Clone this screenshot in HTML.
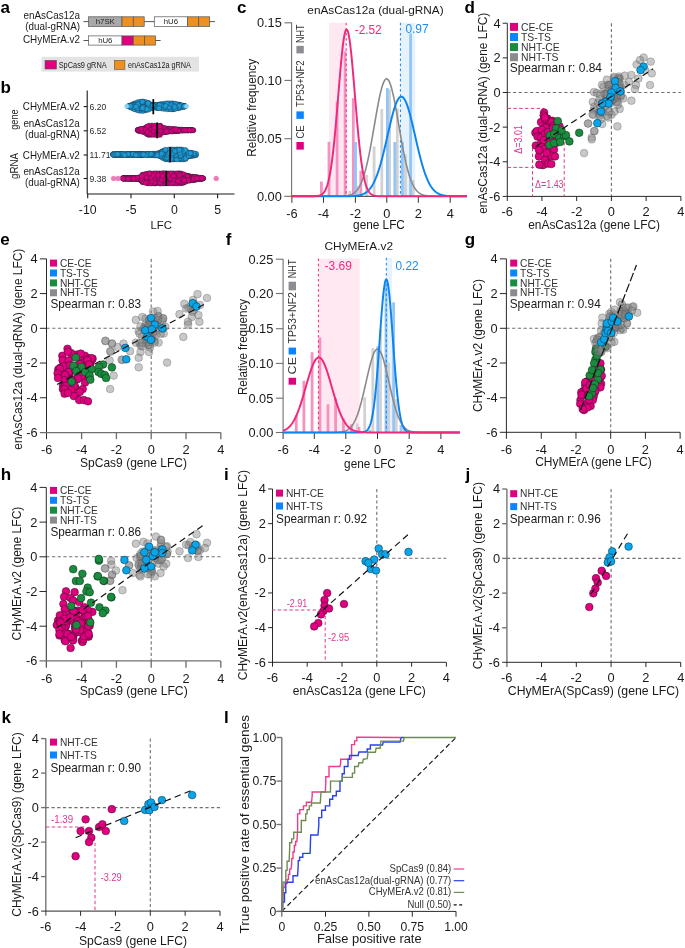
<!DOCTYPE html><html><head><meta charset="utf-8"><style>html,body{margin:0;padding:0;background:#fff;}svg{display:block;will-change:transform;}text{font-family:"Liberation Sans", sans-serif;}</style></head><body>
<svg width="685" height="948" viewBox="0 0 685 948">
<rect width="685" height="948" fill="#fff"/>
<text x="0.4" y="13.1" font-size="17" text-anchor="start" fill="#000" font-weight="bold">a</text>
<text x="80" y="18.5" font-size="10.6" text-anchor="end" fill="#1a1a1a" textLength="56.4" lengthAdjust="spacingAndGlyphs">enAsCas12a</text>
<text x="80" y="30.3" font-size="10.6" text-anchor="end" fill="#1a1a1a" textLength="54.7" lengthAdjust="spacingAndGlyphs">(dual-gRNA)</text>
<text x="80" y="43.2" font-size="10.6" text-anchor="end" fill="#1a1a1a" textLength="57" lengthAdjust="spacingAndGlyphs">CHyMErA.v2</text>
<line x1="83.5" y1="21.6" x2="215" y2="21.6" stroke="#444" stroke-width="0.9"/>
<rect x="88.6" y="16.8" width="33.4" height="9.6" fill="#a9a9a9" stroke="#555" stroke-width="0.7"/>
<text x="105.3" y="24.4" font-size="7.8" text-anchor="middle" fill="#222">h7SK</text>
<rect x="122" y="16.8" width="11.3" height="9.6" fill="#ee8f22" stroke="#555" stroke-width="0.7"/>
<rect x="133.3" y="16.8" width="10.9" height="9.6" fill="#ee8f22" stroke="#555" stroke-width="0.7"/>
<rect x="154.3" y="16.8" width="33.2" height="9.6" fill="#fff" stroke="#555" stroke-width="0.7"/>
<text x="170.9" y="24.4" font-size="7.8" text-anchor="middle" fill="#222">hU6</text>
<rect x="187.5" y="16.8" width="11.2" height="9.6" fill="#ee8f22" stroke="#555" stroke-width="0.7"/>
<rect x="198.7" y="16.8" width="11" height="9.6" fill="#ee8f22" stroke="#555" stroke-width="0.7"/>
<line x1="83.5" y1="40.5" x2="160.6" y2="40.5" stroke="#444" stroke-width="0.9"/>
<rect x="88.6" y="35.9" width="33.4" height="9.2" fill="#fff" stroke="#555" stroke-width="0.7"/>
<text x="105.3" y="43.3" font-size="7.8" text-anchor="middle" fill="#222">hU6</text>
<rect x="122" y="35.9" width="11.3" height="9.2" fill="#e0007f" stroke="#555" stroke-width="0.7"/>
<rect x="133.3" y="35.9" width="11.4" height="9.2" fill="#ee8f22" stroke="#555" stroke-width="0.7"/>
<rect x="144.7" y="35.9" width="10.8" height="9.2" fill="#ee8f22" stroke="#555" stroke-width="0.7"/>
<rect x="41.5" y="56.8" width="157.5" height="14.8" fill="#e3e3e3"/>
<rect x="45" y="60.4" width="11.4" height="8.6" fill="#e0007f" stroke="#555" stroke-width="0.6"/>
<text x="58.7" y="67.5" font-size="8.6" text-anchor="start" fill="#222" textLength="48" lengthAdjust="spacingAndGlyphs">SpCas9 gRNA</text>
<rect x="114.3" y="60.3" width="10.6" height="9.1" fill="#ee8f22" stroke="#555" stroke-width="0.6"/>
<text x="127.9" y="67.5" font-size="8.6" text-anchor="start" fill="#222" textLength="63" lengthAdjust="spacingAndGlyphs">enAsCas12a gRNA</text>
<text x="0.6" y="92.9" font-size="17" text-anchor="start" fill="#000" font-weight="bold">b</text>
<line x1="87.2" y1="90.5" x2="87.2" y2="194" stroke="#1a1a1a" stroke-width="1.1"/>
<line x1="87.2" y1="194" x2="234.5" y2="194" stroke="#1a1a1a" stroke-width="1.1"/>
<line x1="87.7" y1="194" x2="87.7" y2="198.3" stroke="#1a1a1a" stroke-width="1.1"/>
<text x="87.7" y="214.2" font-size="12.3" text-anchor="middle" fill="#1a1a1a">-10</text>
<line x1="131" y1="194" x2="131" y2="198.3" stroke="#1a1a1a" stroke-width="1.1"/>
<text x="131" y="214.2" font-size="12.3" text-anchor="middle" fill="#1a1a1a">-5</text>
<line x1="174.3" y1="194" x2="174.3" y2="198.3" stroke="#1a1a1a" stroke-width="1.1"/>
<text x="174.3" y="214.2" font-size="12.3" text-anchor="middle" fill="#1a1a1a">0</text>
<line x1="217.6" y1="194" x2="217.6" y2="198.3" stroke="#1a1a1a" stroke-width="1.1"/>
<text x="217.6" y="214.2" font-size="12.3" text-anchor="middle" fill="#1a1a1a">5</text>
<text x="161.2" y="228.5" font-size="11.8" text-anchor="middle" fill="#1a1a1a" textLength="21.5" lengthAdjust="spacingAndGlyphs">LFC</text>
<line x1="83.7" y1="106.6" x2="87.2" y2="106.6" stroke="#1a1a1a" stroke-width="1.1"/>
<line x1="83.7" y1="130.8" x2="87.2" y2="130.8" stroke="#1a1a1a" stroke-width="1.1"/>
<line x1="83.7" y1="155" x2="87.2" y2="155" stroke="#1a1a1a" stroke-width="1.1"/>
<line x1="83.7" y1="178.5" x2="87.2" y2="178.5" stroke="#1a1a1a" stroke-width="1.1"/>
<text x="79.8" y="110.2" font-size="10.6" text-anchor="end" fill="#1a1a1a" textLength="57" lengthAdjust="spacingAndGlyphs">CHyMErA.v2</text>
<text x="79.8" y="126.6" font-size="10.6" text-anchor="end" fill="#1a1a1a" textLength="56.4" lengthAdjust="spacingAndGlyphs">enAsCas12a</text>
<text x="79.8" y="138.2" font-size="10.6" text-anchor="end" fill="#1a1a1a" textLength="54.7" lengthAdjust="spacingAndGlyphs">(dual-gRNA)</text>
<text x="79.8" y="158.6" font-size="10.6" text-anchor="end" fill="#1a1a1a" textLength="57" lengthAdjust="spacingAndGlyphs">CHyMErA.v2</text>
<text x="79.8" y="174.6" font-size="10.6" text-anchor="end" fill="#1a1a1a" textLength="56.4" lengthAdjust="spacingAndGlyphs">enAsCas12a</text>
<text x="79.8" y="186.2" font-size="10.6" text-anchor="end" fill="#1a1a1a" textLength="54.7" lengthAdjust="spacingAndGlyphs">(dual-gRNA)</text>
<text transform="translate(18 119.5) rotate(-90)" x="0" y="0" font-size="11" text-anchor="middle" fill="#1a1a1a" textLength="20.5" lengthAdjust="spacingAndGlyphs">gene</text>
<text transform="translate(18 166) rotate(-90)" x="0" y="0" font-size="11" text-anchor="middle" fill="#1a1a1a" textLength="26" lengthAdjust="spacingAndGlyphs">gRNA</text>
<text x="89.6" y="109.9" font-size="8.6" text-anchor="start" fill="#2a2a2a">6.20</text>
<text x="89.6" y="133.8" font-size="8.6" text-anchor="start" fill="#2a2a2a">6.52</text>
<text x="89.6" y="157.9" font-size="8.6" text-anchor="start" fill="#2a2a2a">11.71</text>
<text x="89.6" y="181.6" font-size="8.6" text-anchor="start" fill="#2a2a2a">9.38</text>
<circle cx="178.74" cy="104.44" r="2.5" fill="#1a9ad6" stroke="#1d2a35" stroke-width="0.35"/>
<circle cx="138.12" cy="106.72" r="2.5" fill="#1a9ad6" stroke="#1d2a35" stroke-width="0.35"/>
<circle cx="166.77" cy="103.85" r="2.5" fill="#1a9ad6" stroke="#1d2a35" stroke-width="0.35"/>
<circle cx="155.73" cy="105.53" r="2.5" fill="#1a9ad6" stroke="#1d2a35" stroke-width="0.35"/>
<circle cx="157.53" cy="105.36" r="2.5" fill="#1a9ad6" stroke="#1d2a35" stroke-width="0.35"/>
<circle cx="168.93" cy="108.54" r="2.5" fill="#1a9ad6" stroke="#1d2a35" stroke-width="0.35"/>
<circle cx="156.44" cy="107.78" r="2.5" fill="#1a9ad6" stroke="#1d2a35" stroke-width="0.35"/>
<circle cx="151.9" cy="106.49" r="2.5" fill="#1a9ad6" stroke="#1d2a35" stroke-width="0.35"/>
<circle cx="184.79" cy="106.3" r="2.5" fill="#1a9ad6" stroke="#1d2a35" stroke-width="0.35"/>
<circle cx="145.74" cy="103.54" r="2.5" fill="#1a9ad6" stroke="#1d2a35" stroke-width="0.35"/>
<circle cx="156.53" cy="107.03" r="2.5" fill="#1a9ad6" stroke="#1d2a35" stroke-width="0.35"/>
<circle cx="129.11" cy="106.25" r="2.5" fill="#1a9ad6" stroke="#1d2a35" stroke-width="0.35"/>
<circle cx="158.6" cy="106.3" r="2.5" fill="#1a9ad6" stroke="#1d2a35" stroke-width="0.35"/>
<circle cx="132.48" cy="106.84" r="2.5" fill="#1a9ad6" stroke="#1d2a35" stroke-width="0.35"/>
<circle cx="163.43" cy="106.09" r="2.5" fill="#1a9ad6" stroke="#1d2a35" stroke-width="0.35"/>
<circle cx="128.53" cy="106.3" r="2.5" fill="#1a9ad6" stroke="#1d2a35" stroke-width="0.35"/>
<circle cx="134.16" cy="103.74" r="2.5" fill="#1a9ad6" stroke="#1d2a35" stroke-width="0.35"/>
<circle cx="134.4" cy="103.42" r="2.5" fill="#1a9ad6" stroke="#1d2a35" stroke-width="0.35"/>
<circle cx="180.84" cy="107.45" r="2.5" fill="#1a9ad6" stroke="#1d2a35" stroke-width="0.35"/>
<circle cx="176.27" cy="104.91" r="2.5" fill="#1a9ad6" stroke="#1d2a35" stroke-width="0.35"/>
<circle cx="143.56" cy="110.23" r="2.5" fill="#1a9ad6" stroke="#1d2a35" stroke-width="0.35"/>
<circle cx="145.2" cy="106.3" r="2.5" fill="#1a9ad6" stroke="#1d2a35" stroke-width="0.35"/>
<circle cx="165.38" cy="105.83" r="2.5" fill="#1a9ad6" stroke="#1d2a35" stroke-width="0.35"/>
<circle cx="132.84" cy="105.33" r="2.5" fill="#1a9ad6" stroke="#1d2a35" stroke-width="0.35"/>
<circle cx="178.98" cy="106.94" r="2.5" fill="#1a9ad6" stroke="#1d2a35" stroke-width="0.35"/>
<circle cx="150.94" cy="105.68" r="2.5" fill="#1a9ad6" stroke="#1d2a35" stroke-width="0.35"/>
<circle cx="171" cy="105.8" r="2.5" fill="#1a9ad6" stroke="#1d2a35" stroke-width="0.35"/>
<circle cx="149.92" cy="105.53" r="2.5" fill="#1a9ad6" stroke="#1d2a35" stroke-width="0.35"/>
<circle cx="149.73" cy="105.98" r="2.5" fill="#1a9ad6" stroke="#1d2a35" stroke-width="0.35"/>
<circle cx="128.37" cy="106.3" r="2.5" fill="#1a9ad6" stroke="#1d2a35" stroke-width="0.35"/>
<circle cx="144.9" cy="110.58" r="2.5" fill="#1a9ad6" stroke="#1d2a35" stroke-width="0.35"/>
<circle cx="174.76" cy="106.4" r="2.5" fill="#1a9ad6" stroke="#1d2a35" stroke-width="0.35"/>
<circle cx="147.41" cy="106.63" r="2.5" fill="#1a9ad6" stroke="#1d2a35" stroke-width="0.35"/>
<circle cx="175.83" cy="103.88" r="2.5" fill="#1a9ad6" stroke="#1d2a35" stroke-width="0.35"/>
<circle cx="179.46" cy="106.51" r="2.5" fill="#1a9ad6" stroke="#1d2a35" stroke-width="0.35"/>
<circle cx="132.86" cy="105.26" r="2.5" fill="#1a9ad6" stroke="#1d2a35" stroke-width="0.35"/>
<circle cx="185" cy="106.3" r="2.5" fill="#1a9ad6" stroke="#1d2a35" stroke-width="0.35"/>
<circle cx="180.59" cy="105.06" r="2.5" fill="#1a9ad6" stroke="#1d2a35" stroke-width="0.35"/>
<circle cx="136.02" cy="106.3" r="2.5" fill="#1a9ad6" stroke="#1d2a35" stroke-width="0.35"/>
<circle cx="162.6" cy="108.1" r="2.5" fill="#1a9ad6" stroke="#1d2a35" stroke-width="0.35"/>
<circle cx="180.39" cy="107.45" r="2.5" fill="#1a9ad6" stroke="#1d2a35" stroke-width="0.35"/>
<circle cx="143.01" cy="101.77" r="2.5" fill="#1a9ad6" stroke="#1d2a35" stroke-width="0.35"/>
<circle cx="148.7" cy="105.32" r="2.5" fill="#1a9ad6" stroke="#1d2a35" stroke-width="0.35"/>
<circle cx="145.62" cy="107.04" r="2.5" fill="#1a9ad6" stroke="#1d2a35" stroke-width="0.35"/>
<circle cx="177.7" cy="105.21" r="2.5" fill="#1a9ad6" stroke="#1d2a35" stroke-width="0.35"/>
<circle cx="168.04" cy="108.39" r="2.5" fill="#1a9ad6" stroke="#1d2a35" stroke-width="0.35"/>
<circle cx="146.19" cy="102.74" r="2.5" fill="#1a9ad6" stroke="#1d2a35" stroke-width="0.35"/>
<circle cx="161.02" cy="104.46" r="2.5" fill="#1a9ad6" stroke="#1d2a35" stroke-width="0.35"/>
<circle cx="131.54" cy="105.72" r="2.5" fill="#1a9ad6" stroke="#1d2a35" stroke-width="0.35"/>
<circle cx="170.57" cy="106.87" r="2.5" fill="#1a9ad6" stroke="#1d2a35" stroke-width="0.35"/>
<circle cx="134.81" cy="104.27" r="2.5" fill="#1a9ad6" stroke="#1d2a35" stroke-width="0.35"/>
<circle cx="157.12" cy="105.85" r="2.5" fill="#1a9ad6" stroke="#1d2a35" stroke-width="0.35"/>
<circle cx="156.42" cy="107.35" r="2.5" fill="#1a9ad6" stroke="#1d2a35" stroke-width="0.35"/>
<circle cx="183.41" cy="106.03" r="2.5" fill="#1a9ad6" stroke="#1d2a35" stroke-width="0.35"/>
<circle cx="178.76" cy="104.66" r="2.5" fill="#1a9ad6" stroke="#1d2a35" stroke-width="0.35"/>
<circle cx="146.7" cy="106.09" r="2.5" fill="#1a9ad6" stroke="#1d2a35" stroke-width="0.35"/>
<circle cx="153.63" cy="106.16" r="2.5" fill="#1a9ad6" stroke="#1d2a35" stroke-width="0.35"/>
<circle cx="134.95" cy="105.03" r="2.5" fill="#1a9ad6" stroke="#1d2a35" stroke-width="0.35"/>
<circle cx="182.13" cy="106.76" r="2.5" fill="#1a9ad6" stroke="#1d2a35" stroke-width="0.35"/>
<circle cx="145.8" cy="109.29" r="2.5" fill="#1a9ad6" stroke="#1d2a35" stroke-width="0.35"/>
<circle cx="129.51" cy="106.25" r="2.5" fill="#1a9ad6" stroke="#1d2a35" stroke-width="0.35"/>
<circle cx="131.91" cy="104.79" r="2.5" fill="#1a9ad6" stroke="#1d2a35" stroke-width="0.35"/>
<circle cx="175.47" cy="105.37" r="2.5" fill="#1a9ad6" stroke="#1d2a35" stroke-width="0.35"/>
<circle cx="158.59" cy="104.55" r="2.5" fill="#1a9ad6" stroke="#1d2a35" stroke-width="0.35"/>
<circle cx="142.7" cy="102.18" r="2.5" fill="#1a9ad6" stroke="#1d2a35" stroke-width="0.35"/>
<circle cx="161.43" cy="106.12" r="2.5" fill="#1a9ad6" stroke="#1d2a35" stroke-width="0.35"/>
<circle cx="145.85" cy="104.19" r="2.5" fill="#1a9ad6" stroke="#1d2a35" stroke-width="0.35"/>
<circle cx="149.9" cy="104.81" r="2.5" fill="#1a9ad6" stroke="#1d2a35" stroke-width="0.35"/>
<circle cx="139.72" cy="104.78" r="2.5" fill="#1a9ad6" stroke="#1d2a35" stroke-width="0.35"/>
<circle cx="137.3" cy="102.25" r="2.5" fill="#1a9ad6" stroke="#1d2a35" stroke-width="0.35"/>
<circle cx="176.58" cy="107.43" r="2.5" fill="#1a9ad6" stroke="#1d2a35" stroke-width="0.35"/>
<circle cx="178.13" cy="108.12" r="2.5" fill="#1a9ad6" stroke="#1d2a35" stroke-width="0.35"/>
<circle cx="164.18" cy="103.62" r="2.5" fill="#1a9ad6" stroke="#1d2a35" stroke-width="0.35"/>
<circle cx="134.41" cy="108.61" r="2.5" fill="#1a9ad6" stroke="#1d2a35" stroke-width="0.35"/>
<circle cx="153.18" cy="107.72" r="2.5" fill="#1a9ad6" stroke="#1d2a35" stroke-width="0.35"/>
<circle cx="145.66" cy="102.02" r="2.5" fill="#1a9ad6" stroke="#1d2a35" stroke-width="0.35"/>
<circle cx="151.49" cy="107.46" r="2.5" fill="#1a9ad6" stroke="#1d2a35" stroke-width="0.35"/>
<circle cx="172.62" cy="103.3" r="2.5" fill="#1a9ad6" stroke="#1d2a35" stroke-width="0.35"/>
<circle cx="133.03" cy="104.78" r="2.5" fill="#1a9ad6" stroke="#1d2a35" stroke-width="0.35"/>
<circle cx="148.59" cy="103.94" r="2.5" fill="#1a9ad6" stroke="#1d2a35" stroke-width="0.35"/>
<circle cx="175.92" cy="106.35" r="2.5" fill="#1a9ad6" stroke="#1d2a35" stroke-width="0.35"/>
<circle cx="184.09" cy="106.27" r="2.5" fill="#1a9ad6" stroke="#1d2a35" stroke-width="0.35"/>
<circle cx="149.55" cy="107.39" r="2.5" fill="#1a9ad6" stroke="#1d2a35" stroke-width="0.35"/>
<circle cx="134.46" cy="107.03" r="2.5" fill="#1a9ad6" stroke="#1d2a35" stroke-width="0.35"/>
<circle cx="183.64" cy="106.48" r="2.5" fill="#1a9ad6" stroke="#1d2a35" stroke-width="0.35"/>
<circle cx="172.83" cy="108.35" r="2.5" fill="#1a9ad6" stroke="#1d2a35" stroke-width="0.35"/>
<circle cx="151.25" cy="106.69" r="2.5" fill="#1a9ad6" stroke="#1d2a35" stroke-width="0.35"/>
<circle cx="130.43" cy="105.54" r="2.5" fill="#1a9ad6" stroke="#1d2a35" stroke-width="0.35"/>
<circle cx="175.96" cy="107.13" r="2.5" fill="#1a9ad6" stroke="#1d2a35" stroke-width="0.35"/>
<circle cx="140.86" cy="110.62" r="2.5" fill="#1a9ad6" stroke="#1d2a35" stroke-width="0.35"/>
<circle cx="162.51" cy="106.07" r="2.5" fill="#1a9ad6" stroke="#1d2a35" stroke-width="0.35"/>
<circle cx="162.75" cy="105.86" r="2.5" fill="#1a9ad6" stroke="#1d2a35" stroke-width="0.35"/>
<circle cx="131.38" cy="107.3" r="2.5" fill="#1a9ad6" stroke="#1d2a35" stroke-width="0.35"/>
<circle cx="169.14" cy="106.03" r="2.5" fill="#1a9ad6" stroke="#1d2a35" stroke-width="0.35"/>
<circle cx="171.88" cy="106.9" r="2.5" fill="#1a9ad6" stroke="#1d2a35" stroke-width="0.35"/>
<circle cx="180.52" cy="105.75" r="2.5" fill="#1a9ad6" stroke="#1d2a35" stroke-width="0.35"/>
<circle cx="164.42" cy="105.81" r="2.5" fill="#1a9ad6" stroke="#1d2a35" stroke-width="0.35"/>
<circle cx="159.59" cy="104.47" r="2.5" fill="#1a9ad6" stroke="#1d2a35" stroke-width="0.35"/>
<circle cx="145.82" cy="104.86" r="2.5" fill="#1a9ad6" stroke="#1d2a35" stroke-width="0.35"/>
<circle cx="159.17" cy="106.75" r="2.5" fill="#1a9ad6" stroke="#1d2a35" stroke-width="0.35"/>
<circle cx="161.03" cy="105.13" r="2.5" fill="#1a9ad6" stroke="#1d2a35" stroke-width="0.35"/>
<circle cx="181.43" cy="106.21" r="2.5" fill="#1a9ad6" stroke="#1d2a35" stroke-width="0.35"/>
<circle cx="169.88" cy="109.3" r="2.5" fill="#1a9ad6" stroke="#1d2a35" stroke-width="0.35"/>
<circle cx="134.16" cy="107.22" r="2.5" fill="#1a9ad6" stroke="#1d2a35" stroke-width="0.35"/>
<circle cx="163.86" cy="106.46" r="2.5" fill="#1a9ad6" stroke="#1d2a35" stroke-width="0.35"/>
<circle cx="156.06" cy="107.69" r="2.5" fill="#1a9ad6" stroke="#1d2a35" stroke-width="0.35"/>
<circle cx="165.03" cy="107.11" r="2.5" fill="#1a9ad6" stroke="#1d2a35" stroke-width="0.35"/>
<circle cx="174.06" cy="108.14" r="2.5" fill="#1a9ad6" stroke="#1d2a35" stroke-width="0.35"/>
<circle cx="135.43" cy="109.01" r="2.5" fill="#1a9ad6" stroke="#1d2a35" stroke-width="0.35"/>
<circle cx="130.14" cy="105.99" r="2.5" fill="#1a9ad6" stroke="#1d2a35" stroke-width="0.35"/>
<circle cx="130.65" cy="106.67" r="2.5" fill="#1a9ad6" stroke="#1d2a35" stroke-width="0.35"/>
<circle cx="184.75" cy="106.3" r="2.5" fill="#1a9ad6" stroke="#1d2a35" stroke-width="0.35"/>
<circle cx="185.07" cy="106.3" r="2.5" fill="#1a9ad6" stroke="#1d2a35" stroke-width="0.35"/>
<circle cx="146.03" cy="109.92" r="2.5" fill="#1a9ad6" stroke="#1d2a35" stroke-width="0.35"/>
<circle cx="146.65" cy="107.33" r="2.5" fill="#1a9ad6" stroke="#1d2a35" stroke-width="0.35"/>
<circle cx="174.39" cy="105.92" r="2.5" fill="#1a9ad6" stroke="#1d2a35" stroke-width="0.35"/>
<circle cx="130.93" cy="105.38" r="2.5" fill="#1a9ad6" stroke="#1d2a35" stroke-width="0.35"/>
<circle cx="163.04" cy="107.84" r="2.5" fill="#1a9ad6" stroke="#1d2a35" stroke-width="0.35"/>
<circle cx="150.63" cy="104.36" r="2.5" fill="#1a9ad6" stroke="#1d2a35" stroke-width="0.35"/>
<circle cx="157.62" cy="107.53" r="2.5" fill="#1a9ad6" stroke="#1d2a35" stroke-width="0.35"/>
<circle cx="153.79" cy="107.49" r="2.5" fill="#1a9ad6" stroke="#1d2a35" stroke-width="0.35"/>
<circle cx="144.55" cy="106.68" r="2.5" fill="#1a9ad6" stroke="#1d2a35" stroke-width="0.35"/>
<circle cx="174.45" cy="108.59" r="2.5" fill="#1a9ad6" stroke="#1d2a35" stroke-width="0.35"/>
<circle cx="175.9" cy="105.8" r="2.5" fill="#1a9ad6" stroke="#1d2a35" stroke-width="0.35"/>
<circle cx="146.36" cy="109.55" r="2.5" fill="#1a9ad6" stroke="#1d2a35" stroke-width="0.35"/>
<circle cx="141.67" cy="108.38" r="2.5" fill="#1a9ad6" stroke="#1d2a35" stroke-width="0.35"/>
<circle cx="147.79" cy="107.14" r="2.5" fill="#1a9ad6" stroke="#1d2a35" stroke-width="0.35"/>
<circle cx="172.86" cy="109.21" r="2.5" fill="#1a9ad6" stroke="#1d2a35" stroke-width="0.35"/>
<circle cx="179.87" cy="107.05" r="2.5" fill="#1a9ad6" stroke="#1d2a35" stroke-width="0.35"/>
<circle cx="178.11" cy="106.7" r="2.5" fill="#1a9ad6" stroke="#1d2a35" stroke-width="0.35"/>
<circle cx="164.3" cy="106.85" r="2.5" fill="#1a9ad6" stroke="#1d2a35" stroke-width="0.35"/>
<circle cx="139.43" cy="110.74" r="2.5" fill="#1a9ad6" stroke="#1d2a35" stroke-width="0.35"/>
<circle cx="173.19" cy="105.57" r="2.5" fill="#1a9ad6" stroke="#1d2a35" stroke-width="0.35"/>
<circle cx="129.76" cy="106.1" r="2.5" fill="#1a9ad6" stroke="#1d2a35" stroke-width="0.35"/>
<circle cx="138.3" cy="104.16" r="2.5" fill="#1a9ad6" stroke="#1d2a35" stroke-width="0.35"/>
<circle cx="149.94" cy="108.64" r="2.5" fill="#1a9ad6" stroke="#1d2a35" stroke-width="0.35"/>
<circle cx="172.86" cy="109.3" r="2.5" fill="#1a9ad6" stroke="#1d2a35" stroke-width="0.35"/>
<circle cx="143.66" cy="106.75" r="2.5" fill="#1a9ad6" stroke="#1d2a35" stroke-width="0.35"/>
<circle cx="136.59" cy="107.97" r="2.5" fill="#1a9ad6" stroke="#1d2a35" stroke-width="0.35"/>
<circle cx="150.23" cy="105.29" r="2.5" fill="#1a9ad6" stroke="#1d2a35" stroke-width="0.35"/>
<circle cx="145.71" cy="105.46" r="2.5" fill="#1a9ad6" stroke="#1d2a35" stroke-width="0.35"/>
<circle cx="183.45" cy="106.35" r="2.5" fill="#1a9ad6" stroke="#1d2a35" stroke-width="0.35"/>
<circle cx="184.01" cy="106.17" r="2.5" fill="#1a9ad6" stroke="#1d2a35" stroke-width="0.35"/>
<circle cx="128.38" cy="106.3" r="2.5" fill="#1a9ad6" stroke="#1d2a35" stroke-width="0.35"/>
<circle cx="137.44" cy="110.35" r="2.5" fill="#1a9ad6" stroke="#1d2a35" stroke-width="0.35"/>
<circle cx="173.26" cy="107.4" r="2.5" fill="#1a9ad6" stroke="#1d2a35" stroke-width="0.35"/>
<circle cx="184.39" cy="106.09" r="2.5" fill="#1a9ad6" stroke="#1d2a35" stroke-width="0.35"/>
<circle cx="179.62" cy="105.68" r="2.5" fill="#1a9ad6" stroke="#1d2a35" stroke-width="0.35"/>
<circle cx="176.9" cy="107.49" r="2.5" fill="#1a9ad6" stroke="#1d2a35" stroke-width="0.35"/>
<circle cx="157.22" cy="106.25" r="2.5" fill="#1a9ad6" stroke="#1d2a35" stroke-width="0.35"/>
<circle cx="140.55" cy="107.36" r="2.5" fill="#1a9ad6" stroke="#1d2a35" stroke-width="0.35"/>
<circle cx="137.38" cy="108" r="2.5" fill="#1a9ad6" stroke="#1d2a35" stroke-width="0.35"/>
<circle cx="183.41" cy="106.01" r="2.5" fill="#1a9ad6" stroke="#1d2a35" stroke-width="0.35"/>
<circle cx="179.97" cy="104.88" r="2.5" fill="#1a9ad6" stroke="#1d2a35" stroke-width="0.35"/>
<circle cx="129.25" cy="106.3" r="2.5" fill="#1a9ad6" stroke="#1d2a35" stroke-width="0.35"/>
<circle cx="131.41" cy="107.81" r="2.5" fill="#1a9ad6" stroke="#1d2a35" stroke-width="0.35"/>
<circle cx="166.15" cy="107.47" r="2.5" fill="#1a9ad6" stroke="#1d2a35" stroke-width="0.35"/>
<circle cx="155.93" cy="104.82" r="2.5" fill="#1a9ad6" stroke="#1d2a35" stroke-width="0.35"/>
<circle cx="180.76" cy="107.5" r="2.5" fill="#1a9ad6" stroke="#1d2a35" stroke-width="0.35"/>
<circle cx="167.34" cy="103.3" r="2.5" fill="#1a9ad6" stroke="#1d2a35" stroke-width="0.35"/>
<circle cx="134.78" cy="108.64" r="2.5" fill="#1a9ad6" stroke="#1d2a35" stroke-width="0.35"/>
<circle cx="181.84" cy="106.02" r="2.5" fill="#1a9ad6" stroke="#1d2a35" stroke-width="0.35"/>
<circle cx="161.81" cy="107.34" r="2.5" fill="#1a9ad6" stroke="#1d2a35" stroke-width="0.35"/>
<circle cx="183.28" cy="105.88" r="2.5" fill="#1a9ad6" stroke="#1d2a35" stroke-width="0.35"/>
<circle cx="182.34" cy="106.14" r="2.5" fill="#1a9ad6" stroke="#1d2a35" stroke-width="0.35"/>
<circle cx="157.44" cy="107.2" r="2.5" fill="#1a9ad6" stroke="#1d2a35" stroke-width="0.35"/>
<circle cx="167.21" cy="106.57" r="2.5" fill="#1a9ad6" stroke="#1d2a35" stroke-width="0.35"/>
<circle cx="140.68" cy="106.93" r="2.5" fill="#1a9ad6" stroke="#1d2a35" stroke-width="0.35"/>
<circle cx="132.37" cy="107.72" r="2.5" fill="#1a9ad6" stroke="#1d2a35" stroke-width="0.35"/>
<circle cx="134.38" cy="108.07" r="2.5" fill="#1a9ad6" stroke="#1d2a35" stroke-width="0.35"/>
<circle cx="160.98" cy="105.04" r="2.5" fill="#1a9ad6" stroke="#1d2a35" stroke-width="0.35"/>
<circle cx="157.08" cy="107.81" r="2.5" fill="#1a9ad6" stroke="#1d2a35" stroke-width="0.35"/>
<circle cx="134.95" cy="107.84" r="2.5" fill="#1a9ad6" stroke="#1d2a35" stroke-width="0.35"/>
<circle cx="169.71" cy="107.57" r="2.5" fill="#1a9ad6" stroke="#1d2a35" stroke-width="0.35"/>
<circle cx="129.35" cy="106.18" r="2.5" fill="#1a9ad6" stroke="#1d2a35" stroke-width="0.35"/>
<circle cx="168.7" cy="106.35" r="2.5" fill="#1a9ad6" stroke="#1d2a35" stroke-width="0.35"/>
<circle cx="181.1" cy="105.82" r="2.5" fill="#1a9ad6" stroke="#1d2a35" stroke-width="0.35"/>
<circle cx="150.82" cy="104.99" r="2.5" fill="#1a9ad6" stroke="#1d2a35" stroke-width="0.35"/>
<circle cx="167.69" cy="107.69" r="2.5" fill="#1a9ad6" stroke="#1d2a35" stroke-width="0.35"/>
<circle cx="156.36" cy="104.91" r="2.5" fill="#1a9ad6" stroke="#1d2a35" stroke-width="0.35"/>
<circle cx="161.62" cy="104.05" r="2.5" fill="#1a9ad6" stroke="#1d2a35" stroke-width="0.35"/>
<circle cx="182.09" cy="106.17" r="2.5" fill="#1a9ad6" stroke="#1d2a35" stroke-width="0.35"/>
<circle cx="146.39" cy="109.09" r="2.5" fill="#1a9ad6" stroke="#1d2a35" stroke-width="0.35"/>
<circle cx="182.83" cy="105.92" r="2.5" fill="#1a9ad6" stroke="#1d2a35" stroke-width="0.35"/>
<circle cx="169.88" cy="103.3" r="2.5" fill="#1a9ad6" stroke="#1d2a35" stroke-width="0.35"/>
<circle cx="160.48" cy="106" r="2.5" fill="#1a9ad6" stroke="#1d2a35" stroke-width="0.35"/>
<circle cx="167.79" cy="107.27" r="2.5" fill="#1a9ad6" stroke="#1d2a35" stroke-width="0.35"/>
<circle cx="137.34" cy="106.53" r="2.5" fill="#1a9ad6" stroke="#1d2a35" stroke-width="0.35"/>
<circle cx="171.8" cy="103.61" r="2.5" fill="#1a9ad6" stroke="#1d2a35" stroke-width="0.35"/>
<circle cx="134.07" cy="108.55" r="2.5" fill="#1a9ad6" stroke="#1d2a35" stroke-width="0.35"/>
<circle cx="144.9" cy="108.88" r="2.5" fill="#1a9ad6" stroke="#1d2a35" stroke-width="0.35"/>
<circle cx="147.75" cy="104.77" r="2.5" fill="#1a9ad6" stroke="#1d2a35" stroke-width="0.35"/>
<circle cx="161.5" cy="106.72" r="2.5" fill="#1a9ad6" stroke="#1d2a35" stroke-width="0.35"/>
<circle cx="172.45" cy="106.72" r="2.5" fill="#1a9ad6" stroke="#1d2a35" stroke-width="0.35"/>
<circle cx="139.49" cy="101.86" r="2.5" fill="#1a9ad6" stroke="#1d2a35" stroke-width="0.35"/>
<circle cx="135.36" cy="104.72" r="2.5" fill="#1a9ad6" stroke="#1d2a35" stroke-width="0.35"/>
<circle cx="158.16" cy="105.94" r="2.5" fill="#1a9ad6" stroke="#1d2a35" stroke-width="0.35"/>
<circle cx="153.42" cy="104.93" r="2.5" fill="#1a9ad6" stroke="#1d2a35" stroke-width="0.35"/>
<circle cx="134.35" cy="109.18" r="2.5" fill="#1a9ad6" stroke="#1d2a35" stroke-width="0.35"/>
<circle cx="171.99" cy="109.14" r="2.5" fill="#1a9ad6" stroke="#1d2a35" stroke-width="0.35"/>
<circle cx="148.1" cy="102.79" r="2.5" fill="#1a9ad6" stroke="#1d2a35" stroke-width="0.35"/>
<circle cx="142.58" cy="111.02" r="2.5" fill="#1a9ad6" stroke="#1d2a35" stroke-width="0.35"/>
<circle cx="148.85" cy="103.21" r="2.5" fill="#1a9ad6" stroke="#1d2a35" stroke-width="0.35"/>
<circle cx="185" cy="106.3" r="2.5" fill="#1a9ad6" stroke="#1d2a35" stroke-width="0.35"/>
<circle cx="167" cy="108.33" r="2.5" fill="#1a9ad6" stroke="#1d2a35" stroke-width="0.35"/>
<circle cx="150.57" cy="105.98" r="2.5" fill="#1a9ad6" stroke="#1d2a35" stroke-width="0.35"/>
<circle cx="174.1" cy="106.4" r="2.5" fill="#1a9ad6" stroke="#1d2a35" stroke-width="0.35"/>
<circle cx="184.78" cy="106.3" r="2.5" fill="#1a9ad6" stroke="#1d2a35" stroke-width="0.35"/>
<circle cx="164.37" cy="108.98" r="2.5" fill="#1a9ad6" stroke="#1d2a35" stroke-width="0.35"/>
<circle cx="151.35" cy="108.24" r="2.5" fill="#1a9ad6" stroke="#1d2a35" stroke-width="0.35"/>
<circle cx="138.36" cy="107.02" r="2.5" fill="#1a9ad6" stroke="#1d2a35" stroke-width="0.35"/>
<circle cx="165.71" cy="107.12" r="2.5" fill="#1a9ad6" stroke="#1d2a35" stroke-width="0.35"/>
<circle cx="141.6" cy="101.75" r="2.5" fill="#1a9ad6" stroke="#1d2a35" stroke-width="0.35"/>
<circle cx="168.65" cy="107.35" r="2.5" fill="#1a9ad6" stroke="#1d2a35" stroke-width="0.35"/>
<circle cx="148.19" cy="106.41" r="2.5" fill="#1a9ad6" stroke="#1d2a35" stroke-width="0.35"/>
<circle cx="167.4" cy="109.3" r="2.5" fill="#1a9ad6" stroke="#1d2a35" stroke-width="0.35"/>
<circle cx="172.53" cy="106.54" r="2.5" fill="#1a9ad6" stroke="#1d2a35" stroke-width="0.35"/>
<circle cx="141.01" cy="107.65" r="2.5" fill="#1a9ad6" stroke="#1d2a35" stroke-width="0.35"/>
<circle cx="134.31" cy="106.38" r="2.5" fill="#1a9ad6" stroke="#1d2a35" stroke-width="0.35"/>
<circle cx="177.74" cy="107.5" r="2.5" fill="#1a9ad6" stroke="#1d2a35" stroke-width="0.35"/>
<circle cx="152.39" cy="105.35" r="2.5" fill="#1a9ad6" stroke="#1d2a35" stroke-width="0.35"/>
<circle cx="175.35" cy="108.7" r="2.5" fill="#1a9ad6" stroke="#1d2a35" stroke-width="0.35"/>
<circle cx="159.9" cy="104.64" r="2.5" fill="#1a9ad6" stroke="#1d2a35" stroke-width="0.35"/>
<circle cx="137.34" cy="108.5" r="2.5" fill="#1a9ad6" stroke="#1d2a35" stroke-width="0.35"/>
<circle cx="167.87" cy="104.37" r="2.5" fill="#1a9ad6" stroke="#1d2a35" stroke-width="0.35"/>
<circle cx="156.51" cy="106.74" r="2.5" fill="#1a9ad6" stroke="#1d2a35" stroke-width="0.35"/>
<circle cx="184.26" cy="106.51" r="2.5" fill="#1a9ad6" stroke="#1d2a35" stroke-width="0.35"/>
<circle cx="176.6" cy="105.69" r="2.5" fill="#1a9ad6" stroke="#1d2a35" stroke-width="0.35"/>
<circle cx="140" cy="107.85" r="2.5" fill="#1a9ad6" stroke="#1d2a35" stroke-width="0.35"/>
<circle cx="173.29" cy="108.22" r="2.5" fill="#1a9ad6" stroke="#1d2a35" stroke-width="0.35"/>
<circle cx="171.04" cy="109.23" r="2.5" fill="#1a9ad6" stroke="#1d2a35" stroke-width="0.35"/>
<circle cx="178.46" cy="108.16" r="2.5" fill="#1a9ad6" stroke="#1d2a35" stroke-width="0.35"/>
<circle cx="156.56" cy="107.39" r="2.5" fill="#1a9ad6" stroke="#1d2a35" stroke-width="0.35"/>
<circle cx="167.41" cy="107.6" r="2.5" fill="#1a9ad6" stroke="#1d2a35" stroke-width="0.35"/>
<circle cx="143.89" cy="107.1" r="2.5" fill="#1a9ad6" stroke="#1d2a35" stroke-width="0.35"/>
<circle cx="144.12" cy="108.95" r="2.5" fill="#1a9ad6" stroke="#1d2a35" stroke-width="0.35"/>
<circle cx="142.45" cy="108.65" r="2.5" fill="#1a9ad6" stroke="#1d2a35" stroke-width="0.35"/>
<circle cx="135.11" cy="105.23" r="2.5" fill="#1a9ad6" stroke="#1d2a35" stroke-width="0.35"/>
<circle cx="137.03" cy="106.31" r="2.5" fill="#1a9ad6" stroke="#1d2a35" stroke-width="0.35"/>
<circle cx="133.92" cy="107.11" r="2.5" fill="#1a9ad6" stroke="#1d2a35" stroke-width="0.35"/>
<circle cx="154.05" cy="104.88" r="2.5" fill="#1a9ad6" stroke="#1d2a35" stroke-width="0.35"/>
<circle cx="157.25" cy="106.58" r="2.5" fill="#1a9ad6" stroke="#1d2a35" stroke-width="0.35"/>
<circle cx="179.19" cy="107.1" r="2.5" fill="#1a9ad6" stroke="#1d2a35" stroke-width="0.35"/>
<circle cx="169.32" cy="107.31" r="2.5" fill="#1a9ad6" stroke="#1d2a35" stroke-width="0.35"/>
<circle cx="157.74" cy="107.79" r="2.5" fill="#1a9ad6" stroke="#1d2a35" stroke-width="0.35"/>
<circle cx="179.63" cy="105.18" r="2.5" fill="#1a9ad6" stroke="#1d2a35" stroke-width="0.35"/>
<circle cx="130.49" cy="107.09" r="2.5" fill="#1a9ad6" stroke="#1d2a35" stroke-width="0.35"/>
<circle cx="142.69" cy="101.65" r="2.5" fill="#1a9ad6" stroke="#1d2a35" stroke-width="0.35"/>
<circle cx="137.64" cy="108.24" r="2.5" fill="#1a9ad6" stroke="#1d2a35" stroke-width="0.35"/>
<circle cx="142.85" cy="109.54" r="2.5" fill="#1a9ad6" stroke="#1d2a35" stroke-width="0.35"/>
<circle cx="150.9" cy="106.6" r="2.5" fill="#1a9ad6" stroke="#1d2a35" stroke-width="0.35"/>
<circle cx="142.75" cy="106.08" r="2.5" fill="#1a9ad6" stroke="#1d2a35" stroke-width="0.35"/>
<circle cx="144" cy="107.66" r="2.5" fill="#1a9ad6" stroke="#1d2a35" stroke-width="0.35"/>
<circle cx="177.47" cy="107.95" r="2.5" fill="#1a9ad6" stroke="#1d2a35" stroke-width="0.35"/>
<circle cx="141.88" cy="106.25" r="2.5" fill="#1a9ad6" stroke="#1d2a35" stroke-width="0.35"/>
<circle cx="148.37" cy="109.81" r="2.5" fill="#1a9ad6" stroke="#1d2a35" stroke-width="0.35"/>
<circle cx="147.68" cy="104.19" r="2.5" fill="#1a9ad6" stroke="#1d2a35" stroke-width="0.35"/>
<circle cx="173.72" cy="108.15" r="2.5" fill="#1a9ad6" stroke="#1d2a35" stroke-width="0.35"/>
<circle cx="161" cy="104.92" r="2.5" fill="#1a9ad6" stroke="#1d2a35" stroke-width="0.35"/>
<circle cx="184.6" cy="106.3" r="2.5" fill="#1a9ad6" stroke="#1d2a35" stroke-width="0.35"/>
<circle cx="180.62" cy="105.54" r="2.5" fill="#1a9ad6" stroke="#1d2a35" stroke-width="0.35"/>
<circle cx="137.64" cy="104.83" r="2.5" fill="#1a9ad6" stroke="#1d2a35" stroke-width="0.35"/>
<circle cx="137.84" cy="104.38" r="2.5" fill="#1a9ad6" stroke="#1d2a35" stroke-width="0.35"/>
<circle cx="159.79" cy="106.46" r="2.5" fill="#1a9ad6" stroke="#1d2a35" stroke-width="0.35"/>
<circle cx="153.07" cy="105.3" r="2.5" fill="#1a9ad6" stroke="#1d2a35" stroke-width="0.35"/>
<circle cx="153.09" cy="105.4" r="2.5" fill="#1a9ad6" stroke="#1d2a35" stroke-width="0.35"/>
<circle cx="142.19" cy="102.3" r="2.5" fill="#1a9ad6" stroke="#1d2a35" stroke-width="0.35"/>
<circle cx="148.28" cy="104.68" r="2.5" fill="#1a9ad6" stroke="#1d2a35" stroke-width="0.35"/>
<circle cx="130.46" cy="105.89" r="2.5" fill="#1a9ad6" stroke="#1d2a35" stroke-width="0.35"/>
<circle cx="147.99" cy="103.2" r="2.5" fill="#1a9ad6" stroke="#1d2a35" stroke-width="0.35"/>
<circle cx="161.82" cy="108.55" r="2.5" fill="#1a9ad6" stroke="#1d2a35" stroke-width="0.35"/>
<circle cx="175.11" cy="106.86" r="2.5" fill="#1a9ad6" stroke="#1d2a35" stroke-width="0.35"/>
<circle cx="176.13" cy="106.23" r="2.5" fill="#1a9ad6" stroke="#1d2a35" stroke-width="0.35"/>
<circle cx="173.94" cy="103.81" r="2.5" fill="#1a9ad6" stroke="#1d2a35" stroke-width="0.35"/>
<circle cx="159.56" cy="108.05" r="2.5" fill="#1a9ad6" stroke="#1d2a35" stroke-width="0.35"/>
<circle cx="181.29" cy="105.15" r="2.5" fill="#1a9ad6" stroke="#1d2a35" stroke-width="0.35"/>
<circle cx="164.4" cy="107.01" r="2.5" fill="#1a9ad6" stroke="#1d2a35" stroke-width="0.35"/>
<circle cx="183.12" cy="106.67" r="2.5" fill="#1a9ad6" stroke="#1d2a35" stroke-width="0.35"/>
<circle cx="143.07" cy="106.7" r="2.5" fill="#1a9ad6" stroke="#1d2a35" stroke-width="0.35"/>
<circle cx="146.89" cy="109.19" r="2.5" fill="#1a9ad6" stroke="#1d2a35" stroke-width="0.35"/>
<circle cx="176.22" cy="105.87" r="2.5" fill="#1a9ad6" stroke="#1d2a35" stroke-width="0.35"/>
<circle cx="161.13" cy="105.5" r="2.5" fill="#1a9ad6" stroke="#1d2a35" stroke-width="0.35"/>
<circle cx="183.9" cy="106.46" r="2.5" fill="#1a9ad6" stroke="#1d2a35" stroke-width="0.35"/>
<circle cx="142.06" cy="108.58" r="2.5" fill="#1a9ad6" stroke="#1d2a35" stroke-width="0.35"/>
<circle cx="173.55" cy="108.27" r="2.5" fill="#1a9ad6" stroke="#1d2a35" stroke-width="0.35"/>
<circle cx="177.18" cy="106.1" r="2.5" fill="#1a9ad6" stroke="#1d2a35" stroke-width="0.35"/>
<circle cx="178.98" cy="107.49" r="2.5" fill="#1a9ad6" stroke="#1d2a35" stroke-width="0.35"/>
<circle cx="166.92" cy="103.8" r="2.5" fill="#1a9ad6" stroke="#1d2a35" stroke-width="0.35"/>
<circle cx="142.6" cy="108.03" r="2.5" fill="#1a9ad6" stroke="#1d2a35" stroke-width="0.35"/>
<circle cx="171.67" cy="104.8" r="2.5" fill="#1a9ad6" stroke="#1d2a35" stroke-width="0.35"/>
<circle cx="142.99" cy="101.58" r="2.5" fill="#1a9ad6" stroke="#1d2a35" stroke-width="0.35"/>
<circle cx="179.01" cy="105.66" r="2.5" fill="#1a9ad6" stroke="#1d2a35" stroke-width="0.35"/>
<circle cx="175.44" cy="103.77" r="2.5" fill="#1a9ad6" stroke="#1d2a35" stroke-width="0.35"/>
<circle cx="142.27" cy="101.81" r="2.5" fill="#1a9ad6" stroke="#1d2a35" stroke-width="0.35"/>
<circle cx="175.17" cy="108.83" r="2.5" fill="#1a9ad6" stroke="#1d2a35" stroke-width="0.35"/>
<circle cx="165.52" cy="105.95" r="2.5" fill="#1a9ad6" stroke="#1d2a35" stroke-width="0.35"/>
<circle cx="174.08" cy="105.8" r="2.5" fill="#1a9ad6" stroke="#1d2a35" stroke-width="0.35"/>
<circle cx="159.5" cy="105" r="2.5" fill="#1a9ad6" stroke="#1d2a35" stroke-width="0.35"/>
<circle cx="135.95" cy="106.66" r="2.5" fill="#1a9ad6" stroke="#1d2a35" stroke-width="0.35"/>
<circle cx="159.03" cy="108.13" r="2.5" fill="#1a9ad6" stroke="#1d2a35" stroke-width="0.35"/>
<circle cx="184.23" cy="106.31" r="2.5" fill="#1a9ad6" stroke="#1d2a35" stroke-width="0.35"/>
<circle cx="174.69" cy="107.01" r="2.5" fill="#1a9ad6" stroke="#1d2a35" stroke-width="0.35"/>
<circle cx="138.42" cy="129.9" r="2.5" fill="#d8007c" stroke="#1d2a35" stroke-width="0.35"/>
<circle cx="151.12" cy="131.06" r="2.5" fill="#d8007c" stroke="#1d2a35" stroke-width="0.35"/>
<circle cx="174.34" cy="129.91" r="2.5" fill="#d8007c" stroke="#1d2a35" stroke-width="0.35"/>
<circle cx="165.72" cy="128.86" r="2.5" fill="#d8007c" stroke="#1d2a35" stroke-width="0.35"/>
<circle cx="171" cy="129.91" r="2.5" fill="#d8007c" stroke="#1d2a35" stroke-width="0.35"/>
<circle cx="145.58" cy="129.39" r="2.5" fill="#d8007c" stroke="#1d2a35" stroke-width="0.35"/>
<circle cx="186.74" cy="130.19" r="2.5" fill="#d8007c" stroke="#1d2a35" stroke-width="0.35"/>
<circle cx="157.87" cy="134.29" r="2.5" fill="#d8007c" stroke="#1d2a35" stroke-width="0.35"/>
<circle cx="190.66" cy="130.2" r="2.5" fill="#d8007c" stroke="#1d2a35" stroke-width="0.35"/>
<circle cx="158.22" cy="128.93" r="2.5" fill="#d8007c" stroke="#1d2a35" stroke-width="0.35"/>
<circle cx="181.64" cy="130.07" r="2.5" fill="#d8007c" stroke="#1d2a35" stroke-width="0.35"/>
<circle cx="167.26" cy="129.28" r="2.5" fill="#d8007c" stroke="#1d2a35" stroke-width="0.35"/>
<circle cx="143.45" cy="130.34" r="2.5" fill="#d8007c" stroke="#1d2a35" stroke-width="0.35"/>
<circle cx="184.3" cy="130.16" r="2.5" fill="#d8007c" stroke="#1d2a35" stroke-width="0.35"/>
<circle cx="151.83" cy="125.5" r="2.5" fill="#d8007c" stroke="#1d2a35" stroke-width="0.35"/>
<circle cx="164.07" cy="130.95" r="2.5" fill="#d8007c" stroke="#1d2a35" stroke-width="0.35"/>
<circle cx="182.48" cy="129.86" r="2.5" fill="#d8007c" stroke="#1d2a35" stroke-width="0.35"/>
<circle cx="170.29" cy="130.46" r="2.5" fill="#d8007c" stroke="#1d2a35" stroke-width="0.35"/>
<circle cx="140.66" cy="129.39" r="2.5" fill="#d8007c" stroke="#1d2a35" stroke-width="0.35"/>
<circle cx="176.26" cy="130.15" r="2.5" fill="#d8007c" stroke="#1d2a35" stroke-width="0.35"/>
<circle cx="142.77" cy="129.18" r="2.5" fill="#d8007c" stroke="#1d2a35" stroke-width="0.35"/>
<circle cx="161.24" cy="130.28" r="2.5" fill="#d8007c" stroke="#1d2a35" stroke-width="0.35"/>
<circle cx="162.77" cy="130.36" r="2.5" fill="#d8007c" stroke="#1d2a35" stroke-width="0.35"/>
<circle cx="140" cy="131" r="2.5" fill="#d8007c" stroke="#1d2a35" stroke-width="0.35"/>
<circle cx="182.62" cy="130.39" r="2.5" fill="#d8007c" stroke="#1d2a35" stroke-width="0.35"/>
<circle cx="147.73" cy="131.85" r="2.5" fill="#d8007c" stroke="#1d2a35" stroke-width="0.35"/>
<circle cx="149.52" cy="128.55" r="2.5" fill="#d8007c" stroke="#1d2a35" stroke-width="0.35"/>
<circle cx="178.95" cy="130.51" r="2.5" fill="#d8007c" stroke="#1d2a35" stroke-width="0.35"/>
<circle cx="161.27" cy="128.53" r="2.5" fill="#d8007c" stroke="#1d2a35" stroke-width="0.35"/>
<circle cx="191.29" cy="130.2" r="2.5" fill="#d8007c" stroke="#1d2a35" stroke-width="0.35"/>
<circle cx="138.3" cy="130.42" r="2.5" fill="#d8007c" stroke="#1d2a35" stroke-width="0.35"/>
<circle cx="165.13" cy="130.27" r="2.5" fill="#d8007c" stroke="#1d2a35" stroke-width="0.35"/>
<circle cx="142.89" cy="130.03" r="2.5" fill="#d8007c" stroke="#1d2a35" stroke-width="0.35"/>
<circle cx="150.11" cy="129.68" r="2.5" fill="#d8007c" stroke="#1d2a35" stroke-width="0.35"/>
<circle cx="161.52" cy="130.34" r="2.5" fill="#d8007c" stroke="#1d2a35" stroke-width="0.35"/>
<circle cx="176.54" cy="131.01" r="2.5" fill="#d8007c" stroke="#1d2a35" stroke-width="0.35"/>
<circle cx="140.31" cy="129.04" r="2.5" fill="#d8007c" stroke="#1d2a35" stroke-width="0.35"/>
<circle cx="138.45" cy="130.71" r="2.5" fill="#d8007c" stroke="#1d2a35" stroke-width="0.35"/>
<circle cx="149.11" cy="134.9" r="2.5" fill="#d8007c" stroke="#1d2a35" stroke-width="0.35"/>
<circle cx="152.99" cy="131.5" r="2.5" fill="#d8007c" stroke="#1d2a35" stroke-width="0.35"/>
<circle cx="142.84" cy="129.57" r="2.5" fill="#d8007c" stroke="#1d2a35" stroke-width="0.35"/>
<circle cx="178.31" cy="130.59" r="2.5" fill="#d8007c" stroke="#1d2a35" stroke-width="0.35"/>
<circle cx="179.61" cy="130.52" r="2.5" fill="#d8007c" stroke="#1d2a35" stroke-width="0.35"/>
<circle cx="154.49" cy="127.45" r="2.5" fill="#d8007c" stroke="#1d2a35" stroke-width="0.35"/>
<circle cx="159.1" cy="127.14" r="2.5" fill="#d8007c" stroke="#1d2a35" stroke-width="0.35"/>
<circle cx="163.45" cy="130.76" r="2.5" fill="#d8007c" stroke="#1d2a35" stroke-width="0.35"/>
<circle cx="165.06" cy="128.36" r="2.5" fill="#d8007c" stroke="#1d2a35" stroke-width="0.35"/>
<circle cx="141.53" cy="129.68" r="2.5" fill="#d8007c" stroke="#1d2a35" stroke-width="0.35"/>
<circle cx="162.55" cy="128.78" r="2.5" fill="#d8007c" stroke="#1d2a35" stroke-width="0.35"/>
<circle cx="168.07" cy="131.85" r="2.5" fill="#d8007c" stroke="#1d2a35" stroke-width="0.35"/>
<circle cx="175.55" cy="129.25" r="2.5" fill="#d8007c" stroke="#1d2a35" stroke-width="0.35"/>
<circle cx="144.34" cy="131.9" r="2.5" fill="#d8007c" stroke="#1d2a35" stroke-width="0.35"/>
<circle cx="177.59" cy="130.38" r="2.5" fill="#d8007c" stroke="#1d2a35" stroke-width="0.35"/>
<circle cx="181.42" cy="129.96" r="2.5" fill="#d8007c" stroke="#1d2a35" stroke-width="0.35"/>
<circle cx="190.04" cy="130.2" r="2.5" fill="#d8007c" stroke="#1d2a35" stroke-width="0.35"/>
<circle cx="168.21" cy="128.55" r="2.5" fill="#d8007c" stroke="#1d2a35" stroke-width="0.35"/>
<circle cx="143.51" cy="129.63" r="2.5" fill="#d8007c" stroke="#1d2a35" stroke-width="0.35"/>
<circle cx="176.14" cy="130.02" r="2.5" fill="#d8007c" stroke="#1d2a35" stroke-width="0.35"/>
<circle cx="171.02" cy="129.74" r="2.5" fill="#d8007c" stroke="#1d2a35" stroke-width="0.35"/>
<circle cx="178.44" cy="129.53" r="2.5" fill="#d8007c" stroke="#1d2a35" stroke-width="0.35"/>
<circle cx="156.81" cy="134.72" r="2.5" fill="#d8007c" stroke="#1d2a35" stroke-width="0.35"/>
<circle cx="190.45" cy="130.2" r="2.5" fill="#d8007c" stroke="#1d2a35" stroke-width="0.35"/>
<circle cx="151.08" cy="128.72" r="2.5" fill="#d8007c" stroke="#1d2a35" stroke-width="0.35"/>
<circle cx="173.2" cy="130.96" r="2.5" fill="#d8007c" stroke="#1d2a35" stroke-width="0.35"/>
<circle cx="141.66" cy="130.89" r="2.5" fill="#d8007c" stroke="#1d2a35" stroke-width="0.35"/>
<circle cx="139.11" cy="129.67" r="2.5" fill="#d8007c" stroke="#1d2a35" stroke-width="0.35"/>
<circle cx="157.02" cy="129.8" r="2.5" fill="#d8007c" stroke="#1d2a35" stroke-width="0.35"/>
<circle cx="185.32" cy="130.37" r="2.5" fill="#d8007c" stroke="#1d2a35" stroke-width="0.35"/>
<circle cx="154.39" cy="134.9" r="2.5" fill="#d8007c" stroke="#1d2a35" stroke-width="0.35"/>
<circle cx="187.8" cy="130.23" r="2.5" fill="#d8007c" stroke="#1d2a35" stroke-width="0.35"/>
<circle cx="188.45" cy="130.2" r="2.5" fill="#d8007c" stroke="#1d2a35" stroke-width="0.35"/>
<circle cx="158.92" cy="129.85" r="2.5" fill="#d8007c" stroke="#1d2a35" stroke-width="0.35"/>
<circle cx="154.77" cy="133.37" r="2.5" fill="#d8007c" stroke="#1d2a35" stroke-width="0.35"/>
<circle cx="166.05" cy="130.07" r="2.5" fill="#d8007c" stroke="#1d2a35" stroke-width="0.35"/>
<circle cx="164" cy="130.37" r="2.5" fill="#d8007c" stroke="#1d2a35" stroke-width="0.35"/>
<circle cx="173.78" cy="129.05" r="2.5" fill="#d8007c" stroke="#1d2a35" stroke-width="0.35"/>
<circle cx="146.24" cy="129.44" r="2.5" fill="#d8007c" stroke="#1d2a35" stroke-width="0.35"/>
<circle cx="159.38" cy="133.24" r="2.5" fill="#d8007c" stroke="#1d2a35" stroke-width="0.35"/>
<circle cx="143.74" cy="131.96" r="2.5" fill="#d8007c" stroke="#1d2a35" stroke-width="0.35"/>
<circle cx="171.72" cy="129.07" r="2.5" fill="#d8007c" stroke="#1d2a35" stroke-width="0.35"/>
<circle cx="143.44" cy="131.31" r="2.5" fill="#d8007c" stroke="#1d2a35" stroke-width="0.35"/>
<circle cx="149.69" cy="131.34" r="2.5" fill="#d8007c" stroke="#1d2a35" stroke-width="0.35"/>
<circle cx="184.43" cy="130.44" r="2.5" fill="#d8007c" stroke="#1d2a35" stroke-width="0.35"/>
<circle cx="190.72" cy="130.2" r="2.5" fill="#d8007c" stroke="#1d2a35" stroke-width="0.35"/>
<circle cx="183.34" cy="130.12" r="2.5" fill="#d8007c" stroke="#1d2a35" stroke-width="0.35"/>
<circle cx="157.92" cy="128.85" r="2.5" fill="#d8007c" stroke="#1d2a35" stroke-width="0.35"/>
<circle cx="147.56" cy="134.4" r="2.5" fill="#d8007c" stroke="#1d2a35" stroke-width="0.35"/>
<circle cx="159.96" cy="130.07" r="2.5" fill="#d8007c" stroke="#1d2a35" stroke-width="0.35"/>
<circle cx="148.77" cy="131.03" r="2.5" fill="#d8007c" stroke="#1d2a35" stroke-width="0.35"/>
<circle cx="169.6" cy="129.87" r="2.5" fill="#d8007c" stroke="#1d2a35" stroke-width="0.35"/>
<circle cx="138.2" cy="130.7" r="2.5" fill="#d8007c" stroke="#1d2a35" stroke-width="0.35"/>
<circle cx="164.35" cy="131.94" r="2.5" fill="#d8007c" stroke="#1d2a35" stroke-width="0.35"/>
<circle cx="166.17" cy="131.47" r="2.5" fill="#d8007c" stroke="#1d2a35" stroke-width="0.35"/>
<circle cx="184.92" cy="129.96" r="2.5" fill="#d8007c" stroke="#1d2a35" stroke-width="0.35"/>
<circle cx="176.6" cy="130.9" r="2.5" fill="#d8007c" stroke="#1d2a35" stroke-width="0.35"/>
<circle cx="176.02" cy="131.12" r="2.5" fill="#d8007c" stroke="#1d2a35" stroke-width="0.35"/>
<circle cx="143.98" cy="128.79" r="2.5" fill="#d8007c" stroke="#1d2a35" stroke-width="0.35"/>
<circle cx="183.74" cy="130.31" r="2.5" fill="#d8007c" stroke="#1d2a35" stroke-width="0.35"/>
<circle cx="185.62" cy="130.07" r="2.5" fill="#d8007c" stroke="#1d2a35" stroke-width="0.35"/>
<circle cx="144.87" cy="130.66" r="2.5" fill="#d8007c" stroke="#1d2a35" stroke-width="0.35"/>
<circle cx="146.42" cy="126.95" r="2.5" fill="#d8007c" stroke="#1d2a35" stroke-width="0.35"/>
<circle cx="138.46" cy="129.69" r="2.5" fill="#d8007c" stroke="#1d2a35" stroke-width="0.35"/>
<circle cx="182.84" cy="130.04" r="2.5" fill="#d8007c" stroke="#1d2a35" stroke-width="0.35"/>
<circle cx="154.86" cy="126.23" r="2.5" fill="#d8007c" stroke="#1d2a35" stroke-width="0.35"/>
<circle cx="176.93" cy="130.21" r="2.5" fill="#d8007c" stroke="#1d2a35" stroke-width="0.35"/>
<circle cx="151.41" cy="134.9" r="2.5" fill="#d8007c" stroke="#1d2a35" stroke-width="0.35"/>
<circle cx="156.18" cy="133.76" r="2.5" fill="#d8007c" stroke="#1d2a35" stroke-width="0.35"/>
<circle cx="143.13" cy="130.28" r="2.5" fill="#d8007c" stroke="#1d2a35" stroke-width="0.35"/>
<circle cx="184.47" cy="130.07" r="2.5" fill="#d8007c" stroke="#1d2a35" stroke-width="0.35"/>
<circle cx="168.96" cy="129.07" r="2.5" fill="#d8007c" stroke="#1d2a35" stroke-width="0.35"/>
<circle cx="176.24" cy="129.27" r="2.5" fill="#d8007c" stroke="#1d2a35" stroke-width="0.35"/>
<circle cx="179.08" cy="129.5" r="2.5" fill="#d8007c" stroke="#1d2a35" stroke-width="0.35"/>
<circle cx="173.81" cy="131.35" r="2.5" fill="#d8007c" stroke="#1d2a35" stroke-width="0.35"/>
<circle cx="187.89" cy="130.17" r="2.5" fill="#d8007c" stroke="#1d2a35" stroke-width="0.35"/>
<circle cx="140.19" cy="129.61" r="2.5" fill="#d8007c" stroke="#1d2a35" stroke-width="0.35"/>
<circle cx="141.48" cy="130.87" r="2.5" fill="#d8007c" stroke="#1d2a35" stroke-width="0.35"/>
<circle cx="143.24" cy="131.89" r="2.5" fill="#d8007c" stroke="#1d2a35" stroke-width="0.35"/>
<circle cx="177.26" cy="130.2" r="2.5" fill="#d8007c" stroke="#1d2a35" stroke-width="0.35"/>
<circle cx="144.28" cy="128.38" r="2.5" fill="#d8007c" stroke="#1d2a35" stroke-width="0.35"/>
<circle cx="141.33" cy="129.64" r="2.5" fill="#d8007c" stroke="#1d2a35" stroke-width="0.35"/>
<circle cx="145.11" cy="128.95" r="2.5" fill="#d8007c" stroke="#1d2a35" stroke-width="0.35"/>
<circle cx="181.22" cy="129.92" r="2.5" fill="#d8007c" stroke="#1d2a35" stroke-width="0.35"/>
<circle cx="192.28" cy="130.2" r="2.5" fill="#d8007c" stroke="#1d2a35" stroke-width="0.35"/>
<circle cx="190.32" cy="130.2" r="2.5" fill="#d8007c" stroke="#1d2a35" stroke-width="0.35"/>
<circle cx="142.81" cy="131.21" r="2.5" fill="#d8007c" stroke="#1d2a35" stroke-width="0.35"/>
<circle cx="173.09" cy="129.3" r="2.5" fill="#d8007c" stroke="#1d2a35" stroke-width="0.35"/>
<circle cx="181.96" cy="130.32" r="2.5" fill="#d8007c" stroke="#1d2a35" stroke-width="0.35"/>
<circle cx="187.44" cy="130.18" r="2.5" fill="#d8007c" stroke="#1d2a35" stroke-width="0.35"/>
<circle cx="166.27" cy="128.53" r="2.5" fill="#d8007c" stroke="#1d2a35" stroke-width="0.35"/>
<circle cx="167.03" cy="131.91" r="2.5" fill="#d8007c" stroke="#1d2a35" stroke-width="0.35"/>
<circle cx="188.05" cy="130.2" r="2.5" fill="#d8007c" stroke="#1d2a35" stroke-width="0.35"/>
<circle cx="143.11" cy="129.7" r="2.5" fill="#d8007c" stroke="#1d2a35" stroke-width="0.35"/>
<circle cx="176.49" cy="129.75" r="2.5" fill="#d8007c" stroke="#1d2a35" stroke-width="0.35"/>
<circle cx="187.83" cy="130.2" r="2.5" fill="#d8007c" stroke="#1d2a35" stroke-width="0.35"/>
<circle cx="183.74" cy="129.94" r="2.5" fill="#d8007c" stroke="#1d2a35" stroke-width="0.35"/>
<circle cx="167" cy="129.78" r="2.5" fill="#d8007c" stroke="#1d2a35" stroke-width="0.35"/>
<circle cx="173.27" cy="130.41" r="2.5" fill="#d8007c" stroke="#1d2a35" stroke-width="0.35"/>
<circle cx="147.23" cy="130.29" r="2.5" fill="#d8007c" stroke="#1d2a35" stroke-width="0.35"/>
<circle cx="144.54" cy="128.68" r="2.5" fill="#d8007c" stroke="#1d2a35" stroke-width="0.35"/>
<circle cx="165.56" cy="131.85" r="2.5" fill="#d8007c" stroke="#1d2a35" stroke-width="0.35"/>
<circle cx="191.64" cy="130.2" r="2.5" fill="#d8007c" stroke="#1d2a35" stroke-width="0.35"/>
<circle cx="138.12" cy="130.15" r="2.5" fill="#d8007c" stroke="#1d2a35" stroke-width="0.35"/>
<circle cx="165.03" cy="132.11" r="2.5" fill="#d8007c" stroke="#1d2a35" stroke-width="0.35"/>
<circle cx="188.47" cy="130.2" r="2.5" fill="#d8007c" stroke="#1d2a35" stroke-width="0.35"/>
<circle cx="174.58" cy="130.82" r="2.5" fill="#d8007c" stroke="#1d2a35" stroke-width="0.35"/>
<circle cx="160.45" cy="125.5" r="2.5" fill="#d8007c" stroke="#1d2a35" stroke-width="0.35"/>
<circle cx="145.02" cy="128.35" r="2.5" fill="#d8007c" stroke="#1d2a35" stroke-width="0.35"/>
<circle cx="193.29" cy="130.2" r="2.5" fill="#d8007c" stroke="#1d2a35" stroke-width="0.35"/>
<circle cx="190.48" cy="130.2" r="2.5" fill="#d8007c" stroke="#1d2a35" stroke-width="0.35"/>
<circle cx="148.29" cy="134.13" r="2.5" fill="#d8007c" stroke="#1d2a35" stroke-width="0.35"/>
<circle cx="182.5" cy="130.67" r="2.5" fill="#d8007c" stroke="#1d2a35" stroke-width="0.35"/>
<circle cx="144.99" cy="130.17" r="2.5" fill="#d8007c" stroke="#1d2a35" stroke-width="0.35"/>
<circle cx="148.59" cy="134.59" r="2.5" fill="#d8007c" stroke="#1d2a35" stroke-width="0.35"/>
<circle cx="146.76" cy="131.68" r="2.5" fill="#d8007c" stroke="#1d2a35" stroke-width="0.35"/>
<circle cx="181.37" cy="130.33" r="2.5" fill="#d8007c" stroke="#1d2a35" stroke-width="0.35"/>
<circle cx="188" cy="130.2" r="2.5" fill="#d8007c" stroke="#1d2a35" stroke-width="0.35"/>
<circle cx="175.41" cy="131.11" r="2.5" fill="#d8007c" stroke="#1d2a35" stroke-width="0.35"/>
<circle cx="179.36" cy="130.11" r="2.5" fill="#d8007c" stroke="#1d2a35" stroke-width="0.35"/>
<circle cx="154.38" cy="131.53" r="2.5" fill="#d8007c" stroke="#1d2a35" stroke-width="0.35"/>
<circle cx="163.39" cy="128.9" r="2.5" fill="#d8007c" stroke="#1d2a35" stroke-width="0.35"/>
<circle cx="173.66" cy="130.79" r="2.5" fill="#d8007c" stroke="#1d2a35" stroke-width="0.35"/>
<circle cx="141.7" cy="131.16" r="2.5" fill="#d8007c" stroke="#1d2a35" stroke-width="0.35"/>
<circle cx="171.27" cy="130.86" r="2.5" fill="#d8007c" stroke="#1d2a35" stroke-width="0.35"/>
<circle cx="157.47" cy="125.5" r="2.5" fill="#d8007c" stroke="#1d2a35" stroke-width="0.35"/>
<circle cx="139.26" cy="129.95" r="2.5" fill="#d8007c" stroke="#1d2a35" stroke-width="0.35"/>
<circle cx="190.97" cy="130.2" r="2.5" fill="#d8007c" stroke="#1d2a35" stroke-width="0.35"/>
<circle cx="146.06" cy="133.45" r="2.5" fill="#d8007c" stroke="#1d2a35" stroke-width="0.35"/>
<circle cx="140.33" cy="131.36" r="2.5" fill="#d8007c" stroke="#1d2a35" stroke-width="0.35"/>
<circle cx="171.39" cy="131.59" r="2.5" fill="#d8007c" stroke="#1d2a35" stroke-width="0.35"/>
<circle cx="161.69" cy="128.98" r="2.5" fill="#d8007c" stroke="#1d2a35" stroke-width="0.35"/>
<circle cx="172.99" cy="130.92" r="2.5" fill="#d8007c" stroke="#1d2a35" stroke-width="0.35"/>
<circle cx="163.61" cy="132.01" r="2.5" fill="#d8007c" stroke="#1d2a35" stroke-width="0.35"/>
<circle cx="158.57" cy="125.91" r="2.5" fill="#d8007c" stroke="#1d2a35" stroke-width="0.35"/>
<circle cx="162.95" cy="129.17" r="2.5" fill="#d8007c" stroke="#1d2a35" stroke-width="0.35"/>
<circle cx="164.28" cy="129.2" r="2.5" fill="#d8007c" stroke="#1d2a35" stroke-width="0.35"/>
<circle cx="162.54" cy="128.43" r="2.5" fill="#d8007c" stroke="#1d2a35" stroke-width="0.35"/>
<circle cx="161.65" cy="127.42" r="2.5" fill="#d8007c" stroke="#1d2a35" stroke-width="0.35"/>
<circle cx="164.09" cy="131.64" r="2.5" fill="#d8007c" stroke="#1d2a35" stroke-width="0.35"/>
<circle cx="190.19" cy="130.2" r="2.5" fill="#d8007c" stroke="#1d2a35" stroke-width="0.35"/>
<circle cx="147.84" cy="133.03" r="2.5" fill="#d8007c" stroke="#1d2a35" stroke-width="0.35"/>
<circle cx="150.88" cy="127.76" r="2.5" fill="#d8007c" stroke="#1d2a35" stroke-width="0.35"/>
<circle cx="186.77" cy="130.28" r="2.5" fill="#d8007c" stroke="#1d2a35" stroke-width="0.35"/>
<circle cx="170.77" cy="129.97" r="2.5" fill="#d8007c" stroke="#1d2a35" stroke-width="0.35"/>
<circle cx="168.15" cy="129" r="2.5" fill="#d8007c" stroke="#1d2a35" stroke-width="0.35"/>
<circle cx="162.69" cy="127.62" r="2.5" fill="#d8007c" stroke="#1d2a35" stroke-width="0.35"/>
<circle cx="192" cy="130.2" r="2.5" fill="#d8007c" stroke="#1d2a35" stroke-width="0.35"/>
<circle cx="184.94" cy="130.29" r="2.5" fill="#d8007c" stroke="#1d2a35" stroke-width="0.35"/>
<circle cx="153.66" cy="127.68" r="2.5" fill="#d8007c" stroke="#1d2a35" stroke-width="0.35"/>
<circle cx="165.96" cy="131.77" r="2.5" fill="#d8007c" stroke="#1d2a35" stroke-width="0.35"/>
<circle cx="187" cy="130.19" r="2.5" fill="#d8007c" stroke="#1d2a35" stroke-width="0.35"/>
<circle cx="149" cy="134.02" r="2.5" fill="#d8007c" stroke="#1d2a35" stroke-width="0.35"/>
<circle cx="137.83" cy="130.25" r="2.5" fill="#d8007c" stroke="#1d2a35" stroke-width="0.35"/>
<circle cx="160.9" cy="131.64" r="2.5" fill="#d8007c" stroke="#1d2a35" stroke-width="0.35"/>
<circle cx="156.82" cy="133.8" r="2.5" fill="#d8007c" stroke="#1d2a35" stroke-width="0.35"/>
<circle cx="174.34" cy="130.6" r="2.5" fill="#d8007c" stroke="#1d2a35" stroke-width="0.35"/>
<circle cx="173.36" cy="129.66" r="2.5" fill="#d8007c" stroke="#1d2a35" stroke-width="0.35"/>
<circle cx="153.64" cy="127.68" r="2.5" fill="#d8007c" stroke="#1d2a35" stroke-width="0.35"/>
<circle cx="171.01" cy="129.61" r="2.5" fill="#d8007c" stroke="#1d2a35" stroke-width="0.35"/>
<circle cx="142.55" cy="130.62" r="2.5" fill="#d8007c" stroke="#1d2a35" stroke-width="0.35"/>
<circle cx="158.22" cy="131.35" r="2.5" fill="#d8007c" stroke="#1d2a35" stroke-width="0.35"/>
<circle cx="186.72" cy="130.27" r="2.5" fill="#d8007c" stroke="#1d2a35" stroke-width="0.35"/>
<circle cx="157.87" cy="132.72" r="2.5" fill="#d8007c" stroke="#1d2a35" stroke-width="0.35"/>
<circle cx="180.63" cy="130.09" r="2.5" fill="#d8007c" stroke="#1d2a35" stroke-width="0.35"/>
<circle cx="190.44" cy="130.2" r="2.5" fill="#d8007c" stroke="#1d2a35" stroke-width="0.35"/>
<circle cx="159.52" cy="131.77" r="2.5" fill="#d8007c" stroke="#1d2a35" stroke-width="0.35"/>
<circle cx="182.01" cy="129.73" r="2.5" fill="#d8007c" stroke="#1d2a35" stroke-width="0.35"/>
<circle cx="155.77" cy="128.01" r="2.5" fill="#d8007c" stroke="#1d2a35" stroke-width="0.35"/>
<circle cx="150.05" cy="127.54" r="2.5" fill="#d8007c" stroke="#1d2a35" stroke-width="0.35"/>
<circle cx="174.29" cy="129.29" r="2.5" fill="#d8007c" stroke="#1d2a35" stroke-width="0.35"/>
<circle cx="168.56" cy="130.09" r="2.5" fill="#d8007c" stroke="#1d2a35" stroke-width="0.35"/>
<circle cx="180.32" cy="129.75" r="2.5" fill="#d8007c" stroke="#1d2a35" stroke-width="0.35"/>
<circle cx="156.94" cy="134.88" r="2.5" fill="#d8007c" stroke="#1d2a35" stroke-width="0.35"/>
<circle cx="151.13" cy="129.45" r="2.5" fill="#d8007c" stroke="#1d2a35" stroke-width="0.35"/>
<circle cx="179.67" cy="129.8" r="2.5" fill="#d8007c" stroke="#1d2a35" stroke-width="0.35"/>
<circle cx="172.7" cy="131.34" r="2.5" fill="#d8007c" stroke="#1d2a35" stroke-width="0.35"/>
<circle cx="165.02" cy="128.48" r="2.5" fill="#d8007c" stroke="#1d2a35" stroke-width="0.35"/>
<circle cx="187.13" cy="130.23" r="2.5" fill="#d8007c" stroke="#1d2a35" stroke-width="0.35"/>
<circle cx="184.73" cy="130.4" r="2.5" fill="#d8007c" stroke="#1d2a35" stroke-width="0.35"/>
<circle cx="187.46" cy="130.19" r="2.5" fill="#d8007c" stroke="#1d2a35" stroke-width="0.35"/>
<circle cx="143.84" cy="128.44" r="2.5" fill="#d8007c" stroke="#1d2a35" stroke-width="0.35"/>
<circle cx="148.89" cy="133.78" r="2.5" fill="#d8007c" stroke="#1d2a35" stroke-width="0.35"/>
<circle cx="178.41" cy="130.33" r="2.5" fill="#d8007c" stroke="#1d2a35" stroke-width="0.35"/>
<circle cx="146.82" cy="127.16" r="2.5" fill="#d8007c" stroke="#1d2a35" stroke-width="0.35"/>
<circle cx="176.81" cy="129.76" r="2.5" fill="#d8007c" stroke="#1d2a35" stroke-width="0.35"/>
<circle cx="178.89" cy="130.9" r="2.5" fill="#d8007c" stroke="#1d2a35" stroke-width="0.35"/>
<circle cx="174.96" cy="130.99" r="2.5" fill="#d8007c" stroke="#1d2a35" stroke-width="0.35"/>
<circle cx="170.16" cy="131.32" r="2.5" fill="#d8007c" stroke="#1d2a35" stroke-width="0.35"/>
<circle cx="182.23" cy="129.89" r="2.5" fill="#d8007c" stroke="#1d2a35" stroke-width="0.35"/>
<circle cx="169.38" cy="128.81" r="2.5" fill="#d8007c" stroke="#1d2a35" stroke-width="0.35"/>
<circle cx="149.11" cy="125.5" r="2.5" fill="#d8007c" stroke="#1d2a35" stroke-width="0.35"/>
<circle cx="187.31" cy="130.23" r="2.5" fill="#d8007c" stroke="#1d2a35" stroke-width="0.35"/>
<circle cx="163.93" cy="129.78" r="2.5" fill="#d8007c" stroke="#1d2a35" stroke-width="0.35"/>
<circle cx="137.52" cy="129.83" r="2.5" fill="#d8007c" stroke="#1d2a35" stroke-width="0.35"/>
<circle cx="161.69" cy="131.02" r="2.5" fill="#d8007c" stroke="#1d2a35" stroke-width="0.35"/>
<circle cx="160.64" cy="130.43" r="2.5" fill="#d8007c" stroke="#1d2a35" stroke-width="0.35"/>
<circle cx="160.04" cy="134.9" r="2.5" fill="#d8007c" stroke="#1d2a35" stroke-width="0.35"/>
<circle cx="181.38" cy="129.69" r="2.5" fill="#d8007c" stroke="#1d2a35" stroke-width="0.35"/>
<circle cx="147.89" cy="130.87" r="2.5" fill="#d8007c" stroke="#1d2a35" stroke-width="0.35"/>
<circle cx="142.76" cy="129.36" r="2.5" fill="#d8007c" stroke="#1d2a35" stroke-width="0.35"/>
<circle cx="172.27" cy="129.92" r="2.5" fill="#d8007c" stroke="#1d2a35" stroke-width="0.35"/>
<circle cx="155.94" cy="132.72" r="2.5" fill="#d8007c" stroke="#1d2a35" stroke-width="0.35"/>
<circle cx="161.74" cy="132.36" r="2.5" fill="#d8007c" stroke="#1d2a35" stroke-width="0.35"/>
<circle cx="137.89" cy="130.17" r="2.5" fill="#d8007c" stroke="#1d2a35" stroke-width="0.35"/>
<circle cx="138.95" cy="130.12" r="2.5" fill="#d8007c" stroke="#1d2a35" stroke-width="0.35"/>
<circle cx="154.31" cy="131.6" r="2.5" fill="#d8007c" stroke="#1d2a35" stroke-width="0.35"/>
<circle cx="193.26" cy="130.2" r="2.5" fill="#d8007c" stroke="#1d2a35" stroke-width="0.35"/>
<circle cx="191.94" cy="130.2" r="2.5" fill="#d8007c" stroke="#1d2a35" stroke-width="0.35"/>
<circle cx="190.21" cy="130.2" r="2.5" fill="#d8007c" stroke="#1d2a35" stroke-width="0.35"/>
<circle cx="138.65" cy="130.51" r="2.5" fill="#d8007c" stroke="#1d2a35" stroke-width="0.35"/>
<circle cx="142.57" cy="130.25" r="2.5" fill="#d8007c" stroke="#1d2a35" stroke-width="0.35"/>
<circle cx="147.27" cy="126.58" r="2.5" fill="#d8007c" stroke="#1d2a35" stroke-width="0.35"/>
<circle cx="152.6" cy="134.5" r="2.5" fill="#d8007c" stroke="#1d2a35" stroke-width="0.35"/>
<circle cx="188.66" cy="130.2" r="2.5" fill="#d8007c" stroke="#1d2a35" stroke-width="0.35"/>
<circle cx="179.37" cy="130.68" r="2.5" fill="#d8007c" stroke="#1d2a35" stroke-width="0.35"/>
<circle cx="174.84" cy="131.08" r="2.5" fill="#d8007c" stroke="#1d2a35" stroke-width="0.35"/>
<circle cx="164.95" cy="131.5" r="2.5" fill="#d8007c" stroke="#1d2a35" stroke-width="0.35"/>
<circle cx="138.25" cy="130.27" r="2.5" fill="#d8007c" stroke="#1d2a35" stroke-width="0.35"/>
<circle cx="139.01" cy="129.99" r="2.5" fill="#d8007c" stroke="#1d2a35" stroke-width="0.35"/>
<circle cx="187.65" cy="130.19" r="2.5" fill="#d8007c" stroke="#1d2a35" stroke-width="0.35"/>
<circle cx="188.91" cy="130.2" r="2.5" fill="#d8007c" stroke="#1d2a35" stroke-width="0.35"/>
<circle cx="162.52" cy="132.78" r="2.5" fill="#d8007c" stroke="#1d2a35" stroke-width="0.35"/>
<circle cx="150.61" cy="130.03" r="2.5" fill="#d8007c" stroke="#1d2a35" stroke-width="0.35"/>
<circle cx="182.71" cy="130.22" r="2.5" fill="#d8007c" stroke="#1d2a35" stroke-width="0.35"/>
<circle cx="190.51" cy="130.2" r="2.5" fill="#d8007c" stroke="#1d2a35" stroke-width="0.35"/>
<circle cx="170.88" cy="128.81" r="2.5" fill="#d8007c" stroke="#1d2a35" stroke-width="0.35"/>
<circle cx="153.38" cy="131.35" r="2.5" fill="#d8007c" stroke="#1d2a35" stroke-width="0.35"/>
<circle cx="178.92" cy="130.05" r="2.5" fill="#d8007c" stroke="#1d2a35" stroke-width="0.35"/>
<circle cx="154.43" cy="125.5" r="2.5" fill="#d8007c" stroke="#1d2a35" stroke-width="0.35"/>
<circle cx="162.39" cy="129.72" r="2.5" fill="#d8007c" stroke="#1d2a35" stroke-width="0.35"/>
<circle cx="165.04" cy="128.29" r="2.5" fill="#d8007c" stroke="#1d2a35" stroke-width="0.35"/>
<circle cx="146.86" cy="132.36" r="2.5" fill="#d8007c" stroke="#1d2a35" stroke-width="0.35"/>
<circle cx="165.36" cy="132.06" r="2.5" fill="#d8007c" stroke="#1d2a35" stroke-width="0.35"/>
<circle cx="177.27" cy="129.75" r="2.5" fill="#d8007c" stroke="#1d2a35" stroke-width="0.35"/>
<circle cx="143.24" cy="129.22" r="2.5" fill="#d8007c" stroke="#1d2a35" stroke-width="0.35"/>
<circle cx="157.74" cy="134.9" r="2.5" fill="#d8007c" stroke="#1d2a35" stroke-width="0.35"/>
<circle cx="187.96" cy="130.2" r="2.5" fill="#d8007c" stroke="#1d2a35" stroke-width="0.35"/>
<circle cx="160.64" cy="132.14" r="2.5" fill="#d8007c" stroke="#1d2a35" stroke-width="0.35"/>
<circle cx="173.38" cy="129.95" r="2.5" fill="#d8007c" stroke="#1d2a35" stroke-width="0.35"/>
<circle cx="160.37" cy="130.44" r="2.5" fill="#d8007c" stroke="#1d2a35" stroke-width="0.35"/>
<circle cx="166.35" cy="130.12" r="2.5" fill="#d8007c" stroke="#1d2a35" stroke-width="0.35"/>
<circle cx="156.65" cy="128.88" r="2.5" fill="#d8007c" stroke="#1d2a35" stroke-width="0.35"/>
<circle cx="192.4" cy="130.2" r="2.5" fill="#d8007c" stroke="#1d2a35" stroke-width="0.35"/>
<circle cx="188.79" cy="130.2" r="2.5" fill="#d8007c" stroke="#1d2a35" stroke-width="0.35"/>
<circle cx="173.7" cy="130.84" r="2.5" fill="#d8007c" stroke="#1d2a35" stroke-width="0.35"/>
<circle cx="178.92" cy="130.89" r="2.5" fill="#d8007c" stroke="#1d2a35" stroke-width="0.35"/>
<circle cx="177.27" cy="130.18" r="2.5" fill="#d8007c" stroke="#1d2a35" stroke-width="0.35"/>
<circle cx="168.64" cy="131.56" r="2.5" fill="#d8007c" stroke="#1d2a35" stroke-width="0.35"/>
<circle cx="140.95" cy="129.2" r="2.5" fill="#d8007c" stroke="#1d2a35" stroke-width="0.35"/>
<circle cx="189.78" cy="130.2" r="2.5" fill="#d8007c" stroke="#1d2a35" stroke-width="0.35"/>
<circle cx="185.03" cy="130.04" r="2.5" fill="#d8007c" stroke="#1d2a35" stroke-width="0.35"/>
<circle cx="149.78" cy="133.73" r="2.5" fill="#d8007c" stroke="#1d2a35" stroke-width="0.35"/>
<circle cx="166.58" cy="131.47" r="2.5" fill="#d8007c" stroke="#1d2a35" stroke-width="0.35"/>
<circle cx="141.83" cy="131.47" r="2.5" fill="#d8007c" stroke="#1d2a35" stroke-width="0.35"/>
<circle cx="154.29" cy="127.69" r="2.5" fill="#d8007c" stroke="#1d2a35" stroke-width="0.35"/>
<circle cx="178.48" cy="130.44" r="2.5" fill="#d8007c" stroke="#1d2a35" stroke-width="0.35"/>
<circle cx="145.35" cy="129.84" r="2.5" fill="#d8007c" stroke="#1d2a35" stroke-width="0.35"/>
<circle cx="171.77" cy="130.99" r="2.5" fill="#d8007c" stroke="#1d2a35" stroke-width="0.35"/>
<circle cx="141.28" cy="128.93" r="2.5" fill="#d8007c" stroke="#1d2a35" stroke-width="0.35"/>
<circle cx="173.79" cy="129.78" r="2.5" fill="#d8007c" stroke="#1d2a35" stroke-width="0.35"/>
<circle cx="159.85" cy="126.55" r="2.5" fill="#d8007c" stroke="#1d2a35" stroke-width="0.35"/>
<circle cx="147.41" cy="131.92" r="2.5" fill="#d8007c" stroke="#1d2a35" stroke-width="0.35"/>
<circle cx="175.94" cy="129.55" r="2.5" fill="#d8007c" stroke="#1d2a35" stroke-width="0.35"/>
<circle cx="119.69" cy="154.5" r="2.5" fill="#1a9ad6" stroke="#1d2a35" stroke-width="0.35"/>
<circle cx="157.39" cy="153.8" r="2.5" fill="#1a9ad6" stroke="#1d2a35" stroke-width="0.35"/>
<circle cx="194.32" cy="153.55" r="2.5" fill="#1a9ad6" stroke="#1d2a35" stroke-width="0.35"/>
<circle cx="187.06" cy="152.69" r="2.5" fill="#1a9ad6" stroke="#1d2a35" stroke-width="0.35"/>
<circle cx="116.42" cy="154.45" r="2.5" fill="#1a9ad6" stroke="#1d2a35" stroke-width="0.35"/>
<circle cx="175.82" cy="153.52" r="2.5" fill="#1a9ad6" stroke="#1d2a35" stroke-width="0.35"/>
<circle cx="132.19" cy="154.06" r="2.5" fill="#1a9ad6" stroke="#1d2a35" stroke-width="0.35"/>
<circle cx="185.41" cy="154.08" r="2.5" fill="#1a9ad6" stroke="#1d2a35" stroke-width="0.35"/>
<circle cx="156.02" cy="154.77" r="2.5" fill="#1a9ad6" stroke="#1d2a35" stroke-width="0.35"/>
<circle cx="161.09" cy="155.36" r="2.5" fill="#1a9ad6" stroke="#1d2a35" stroke-width="0.35"/>
<circle cx="143.65" cy="154.54" r="2.5" fill="#1a9ad6" stroke="#1d2a35" stroke-width="0.35"/>
<circle cx="170.32" cy="159.09" r="2.5" fill="#1a9ad6" stroke="#1d2a35" stroke-width="0.35"/>
<circle cx="124.26" cy="154.06" r="2.5" fill="#1a9ad6" stroke="#1d2a35" stroke-width="0.35"/>
<circle cx="130.34" cy="154" r="2.5" fill="#1a9ad6" stroke="#1d2a35" stroke-width="0.35"/>
<circle cx="148.22" cy="155.02" r="2.5" fill="#1a9ad6" stroke="#1d2a35" stroke-width="0.35"/>
<circle cx="114.97" cy="154.82" r="2.5" fill="#1a9ad6" stroke="#1d2a35" stroke-width="0.35"/>
<circle cx="171.38" cy="149.45" r="2.5" fill="#1a9ad6" stroke="#1d2a35" stroke-width="0.35"/>
<circle cx="149.66" cy="154.8" r="2.5" fill="#1a9ad6" stroke="#1d2a35" stroke-width="0.35"/>
<circle cx="126.98" cy="154.2" r="2.5" fill="#1a9ad6" stroke="#1d2a35" stroke-width="0.35"/>
<circle cx="184.25" cy="155.49" r="2.5" fill="#1a9ad6" stroke="#1d2a35" stroke-width="0.35"/>
<circle cx="138.78" cy="154.12" r="2.5" fill="#1a9ad6" stroke="#1d2a35" stroke-width="0.35"/>
<circle cx="173.89" cy="159.52" r="2.5" fill="#1a9ad6" stroke="#1d2a35" stroke-width="0.35"/>
<circle cx="171" cy="154.88" r="2.5" fill="#1a9ad6" stroke="#1d2a35" stroke-width="0.35"/>
<circle cx="137.52" cy="154.2" r="2.5" fill="#1a9ad6" stroke="#1d2a35" stroke-width="0.35"/>
<circle cx="192.36" cy="153.37" r="2.5" fill="#1a9ad6" stroke="#1d2a35" stroke-width="0.35"/>
<circle cx="178.76" cy="156.16" r="2.5" fill="#1a9ad6" stroke="#1d2a35" stroke-width="0.35"/>
<circle cx="172.7" cy="153.16" r="2.5" fill="#1a9ad6" stroke="#1d2a35" stroke-width="0.35"/>
<circle cx="186.13" cy="157.78" r="2.5" fill="#1a9ad6" stroke="#1d2a35" stroke-width="0.35"/>
<circle cx="191.16" cy="154.08" r="2.5" fill="#1a9ad6" stroke="#1d2a35" stroke-width="0.35"/>
<circle cx="158.09" cy="153.68" r="2.5" fill="#1a9ad6" stroke="#1d2a35" stroke-width="0.35"/>
<circle cx="129.58" cy="154.25" r="2.5" fill="#1a9ad6" stroke="#1d2a35" stroke-width="0.35"/>
<circle cx="181.52" cy="150.68" r="2.5" fill="#1a9ad6" stroke="#1d2a35" stroke-width="0.35"/>
<circle cx="132.31" cy="154.73" r="2.5" fill="#1a9ad6" stroke="#1d2a35" stroke-width="0.35"/>
<circle cx="124.23" cy="154.94" r="2.5" fill="#1a9ad6" stroke="#1d2a35" stroke-width="0.35"/>
<circle cx="147.7" cy="154.88" r="2.5" fill="#1a9ad6" stroke="#1d2a35" stroke-width="0.35"/>
<circle cx="175.52" cy="153.44" r="2.5" fill="#1a9ad6" stroke="#1d2a35" stroke-width="0.35"/>
<circle cx="138.13" cy="154.62" r="2.5" fill="#1a9ad6" stroke="#1d2a35" stroke-width="0.35"/>
<circle cx="182.34" cy="155.43" r="2.5" fill="#1a9ad6" stroke="#1d2a35" stroke-width="0.35"/>
<circle cx="177.18" cy="153.57" r="2.5" fill="#1a9ad6" stroke="#1d2a35" stroke-width="0.35"/>
<circle cx="114.71" cy="154.73" r="2.5" fill="#1a9ad6" stroke="#1d2a35" stroke-width="0.35"/>
<circle cx="133.36" cy="154.11" r="2.5" fill="#1a9ad6" stroke="#1d2a35" stroke-width="0.35"/>
<circle cx="153.89" cy="154.24" r="2.5" fill="#1a9ad6" stroke="#1d2a35" stroke-width="0.35"/>
<circle cx="191.83" cy="154.14" r="2.5" fill="#1a9ad6" stroke="#1d2a35" stroke-width="0.35"/>
<circle cx="181.69" cy="158.76" r="2.5" fill="#1a9ad6" stroke="#1d2a35" stroke-width="0.35"/>
<circle cx="178.88" cy="152.23" r="2.5" fill="#1a9ad6" stroke="#1d2a35" stroke-width="0.35"/>
<circle cx="193.94" cy="155.28" r="2.5" fill="#1a9ad6" stroke="#1d2a35" stroke-width="0.35"/>
<circle cx="120.12" cy="154.74" r="2.5" fill="#1a9ad6" stroke="#1d2a35" stroke-width="0.35"/>
<circle cx="143.84" cy="154.63" r="2.5" fill="#1a9ad6" stroke="#1d2a35" stroke-width="0.35"/>
<circle cx="188.02" cy="155.39" r="2.5" fill="#1a9ad6" stroke="#1d2a35" stroke-width="0.35"/>
<circle cx="166.32" cy="158.55" r="2.5" fill="#1a9ad6" stroke="#1d2a35" stroke-width="0.35"/>
<circle cx="147.06" cy="154.97" r="2.5" fill="#1a9ad6" stroke="#1d2a35" stroke-width="0.35"/>
<circle cx="127.22" cy="154.97" r="2.5" fill="#1a9ad6" stroke="#1d2a35" stroke-width="0.35"/>
<circle cx="137.05" cy="154.34" r="2.5" fill="#1a9ad6" stroke="#1d2a35" stroke-width="0.35"/>
<circle cx="182.36" cy="155.03" r="2.5" fill="#1a9ad6" stroke="#1d2a35" stroke-width="0.35"/>
<circle cx="157.64" cy="155.41" r="2.5" fill="#1a9ad6" stroke="#1d2a35" stroke-width="0.35"/>
<circle cx="163.94" cy="150.9" r="2.5" fill="#1a9ad6" stroke="#1d2a35" stroke-width="0.35"/>
<circle cx="113.14" cy="154.79" r="2.5" fill="#1a9ad6" stroke="#1d2a35" stroke-width="0.35"/>
<circle cx="161.79" cy="153.29" r="2.5" fill="#1a9ad6" stroke="#1d2a35" stroke-width="0.35"/>
<circle cx="147.46" cy="154.83" r="2.5" fill="#1a9ad6" stroke="#1d2a35" stroke-width="0.35"/>
<circle cx="118.57" cy="154.88" r="2.5" fill="#1a9ad6" stroke="#1d2a35" stroke-width="0.35"/>
<circle cx="189.68" cy="153.96" r="2.5" fill="#1a9ad6" stroke="#1d2a35" stroke-width="0.35"/>
<circle cx="179.71" cy="151.91" r="2.5" fill="#1a9ad6" stroke="#1d2a35" stroke-width="0.35"/>
<circle cx="152.5" cy="154.96" r="2.5" fill="#1a9ad6" stroke="#1d2a35" stroke-width="0.35"/>
<circle cx="187.44" cy="153.91" r="2.5" fill="#1a9ad6" stroke="#1d2a35" stroke-width="0.35"/>
<circle cx="185.45" cy="150.75" r="2.5" fill="#1a9ad6" stroke="#1d2a35" stroke-width="0.35"/>
<circle cx="137.4" cy="154.74" r="2.5" fill="#1a9ad6" stroke="#1d2a35" stroke-width="0.35"/>
<circle cx="172.78" cy="155.56" r="2.5" fill="#1a9ad6" stroke="#1d2a35" stroke-width="0.35"/>
<circle cx="132.51" cy="154.86" r="2.5" fill="#1a9ad6" stroke="#1d2a35" stroke-width="0.35"/>
<circle cx="161.53" cy="151.87" r="2.5" fill="#1a9ad6" stroke="#1d2a35" stroke-width="0.35"/>
<circle cx="112.97" cy="154.31" r="2.5" fill="#1a9ad6" stroke="#1d2a35" stroke-width="0.35"/>
<circle cx="186.05" cy="157.9" r="2.5" fill="#1a9ad6" stroke="#1d2a35" stroke-width="0.35"/>
<circle cx="170.9" cy="150.48" r="2.5" fill="#1a9ad6" stroke="#1d2a35" stroke-width="0.35"/>
<circle cx="166.39" cy="155.48" r="2.5" fill="#1a9ad6" stroke="#1d2a35" stroke-width="0.35"/>
<circle cx="162.84" cy="156.05" r="2.5" fill="#1a9ad6" stroke="#1d2a35" stroke-width="0.35"/>
<circle cx="156.37" cy="154.42" r="2.5" fill="#1a9ad6" stroke="#1d2a35" stroke-width="0.35"/>
<circle cx="127.02" cy="154.77" r="2.5" fill="#1a9ad6" stroke="#1d2a35" stroke-width="0.35"/>
<circle cx="147.22" cy="155.09" r="2.5" fill="#1a9ad6" stroke="#1d2a35" stroke-width="0.35"/>
<circle cx="115.84" cy="154.5" r="2.5" fill="#1a9ad6" stroke="#1d2a35" stroke-width="0.35"/>
<circle cx="173.47" cy="150.34" r="2.5" fill="#1a9ad6" stroke="#1d2a35" stroke-width="0.35"/>
<circle cx="140.37" cy="154.77" r="2.5" fill="#1a9ad6" stroke="#1d2a35" stroke-width="0.35"/>
<circle cx="166.53" cy="155.83" r="2.5" fill="#1a9ad6" stroke="#1d2a35" stroke-width="0.35"/>
<circle cx="149.09" cy="154.48" r="2.5" fill="#1a9ad6" stroke="#1d2a35" stroke-width="0.35"/>
<circle cx="132.89" cy="153.97" r="2.5" fill="#1a9ad6" stroke="#1d2a35" stroke-width="0.35"/>
<circle cx="171.05" cy="159.55" r="2.5" fill="#1a9ad6" stroke="#1d2a35" stroke-width="0.35"/>
<circle cx="128.34" cy="154.7" r="2.5" fill="#1a9ad6" stroke="#1d2a35" stroke-width="0.35"/>
<circle cx="157.8" cy="155.55" r="2.5" fill="#1a9ad6" stroke="#1d2a35" stroke-width="0.35"/>
<circle cx="189.97" cy="155.32" r="2.5" fill="#1a9ad6" stroke="#1d2a35" stroke-width="0.35"/>
<circle cx="174" cy="153.73" r="2.5" fill="#1a9ad6" stroke="#1d2a35" stroke-width="0.35"/>
<circle cx="163.38" cy="151" r="2.5" fill="#1a9ad6" stroke="#1d2a35" stroke-width="0.35"/>
<circle cx="184.39" cy="154.34" r="2.5" fill="#1a9ad6" stroke="#1d2a35" stroke-width="0.35"/>
<circle cx="127.67" cy="154.87" r="2.5" fill="#1a9ad6" stroke="#1d2a35" stroke-width="0.35"/>
<circle cx="147.3" cy="154.14" r="2.5" fill="#1a9ad6" stroke="#1d2a35" stroke-width="0.35"/>
<circle cx="163.74" cy="157.83" r="2.5" fill="#1a9ad6" stroke="#1d2a35" stroke-width="0.35"/>
<circle cx="181.35" cy="149.64" r="2.5" fill="#1a9ad6" stroke="#1d2a35" stroke-width="0.35"/>
<circle cx="133.57" cy="154.62" r="2.5" fill="#1a9ad6" stroke="#1d2a35" stroke-width="0.35"/>
<circle cx="126.94" cy="154.07" r="2.5" fill="#1a9ad6" stroke="#1d2a35" stroke-width="0.35"/>
<circle cx="191.72" cy="155.75" r="2.5" fill="#1a9ad6" stroke="#1d2a35" stroke-width="0.35"/>
<circle cx="167.92" cy="158.44" r="2.5" fill="#1a9ad6" stroke="#1d2a35" stroke-width="0.35"/>
<circle cx="179.9" cy="159.46" r="2.5" fill="#1a9ad6" stroke="#1d2a35" stroke-width="0.35"/>
<circle cx="155.17" cy="155.42" r="2.5" fill="#1a9ad6" stroke="#1d2a35" stroke-width="0.35"/>
<circle cx="123.55" cy="154.32" r="2.5" fill="#1a9ad6" stroke="#1d2a35" stroke-width="0.35"/>
<circle cx="168.44" cy="159.58" r="2.5" fill="#1a9ad6" stroke="#1d2a35" stroke-width="0.35"/>
<circle cx="149.87" cy="153.96" r="2.5" fill="#1a9ad6" stroke="#1d2a35" stroke-width="0.35"/>
<circle cx="191.6" cy="153.2" r="2.5" fill="#1a9ad6" stroke="#1d2a35" stroke-width="0.35"/>
<circle cx="179.95" cy="157.85" r="2.5" fill="#1a9ad6" stroke="#1d2a35" stroke-width="0.35"/>
<circle cx="142.71" cy="154.94" r="2.5" fill="#1a9ad6" stroke="#1d2a35" stroke-width="0.35"/>
<circle cx="128.04" cy="154.29" r="2.5" fill="#1a9ad6" stroke="#1d2a35" stroke-width="0.35"/>
<circle cx="142.01" cy="154.68" r="2.5" fill="#1a9ad6" stroke="#1d2a35" stroke-width="0.35"/>
<circle cx="177.99" cy="150.95" r="2.5" fill="#1a9ad6" stroke="#1d2a35" stroke-width="0.35"/>
<circle cx="153.33" cy="153.91" r="2.5" fill="#1a9ad6" stroke="#1d2a35" stroke-width="0.35"/>
<circle cx="132.4" cy="155.03" r="2.5" fill="#1a9ad6" stroke="#1d2a35" stroke-width="0.35"/>
<circle cx="152.69" cy="154.31" r="2.5" fill="#1a9ad6" stroke="#1d2a35" stroke-width="0.35"/>
<circle cx="146.35" cy="154.36" r="2.5" fill="#1a9ad6" stroke="#1d2a35" stroke-width="0.35"/>
<circle cx="128.36" cy="154.44" r="2.5" fill="#1a9ad6" stroke="#1d2a35" stroke-width="0.35"/>
<circle cx="143.84" cy="155.14" r="2.5" fill="#1a9ad6" stroke="#1d2a35" stroke-width="0.35"/>
<circle cx="169.71" cy="159.48" r="2.5" fill="#1a9ad6" stroke="#1d2a35" stroke-width="0.35"/>
<circle cx="177.64" cy="156.76" r="2.5" fill="#1a9ad6" stroke="#1d2a35" stroke-width="0.35"/>
<circle cx="162.44" cy="152.74" r="2.5" fill="#1a9ad6" stroke="#1d2a35" stroke-width="0.35"/>
<circle cx="119.24" cy="154.27" r="2.5" fill="#1a9ad6" stroke="#1d2a35" stroke-width="0.35"/>
<circle cx="168.19" cy="158.85" r="2.5" fill="#1a9ad6" stroke="#1d2a35" stroke-width="0.35"/>
<circle cx="116.94" cy="154.29" r="2.5" fill="#1a9ad6" stroke="#1d2a35" stroke-width="0.35"/>
<circle cx="177.68" cy="154.31" r="2.5" fill="#1a9ad6" stroke="#1d2a35" stroke-width="0.35"/>
<circle cx="167.34" cy="150.66" r="2.5" fill="#1a9ad6" stroke="#1d2a35" stroke-width="0.35"/>
<circle cx="187.41" cy="156.85" r="2.5" fill="#1a9ad6" stroke="#1d2a35" stroke-width="0.35"/>
<circle cx="131.31" cy="154.84" r="2.5" fill="#1a9ad6" stroke="#1d2a35" stroke-width="0.35"/>
<circle cx="172.32" cy="150.54" r="2.5" fill="#1a9ad6" stroke="#1d2a35" stroke-width="0.35"/>
<circle cx="157.66" cy="154.42" r="2.5" fill="#1a9ad6" stroke="#1d2a35" stroke-width="0.35"/>
<circle cx="113.16" cy="154.27" r="2.5" fill="#1a9ad6" stroke="#1d2a35" stroke-width="0.35"/>
<circle cx="172.57" cy="156.3" r="2.5" fill="#1a9ad6" stroke="#1d2a35" stroke-width="0.35"/>
<circle cx="122.09" cy="154.31" r="2.5" fill="#1a9ad6" stroke="#1d2a35" stroke-width="0.35"/>
<circle cx="147.17" cy="154.98" r="2.5" fill="#1a9ad6" stroke="#1d2a35" stroke-width="0.35"/>
<circle cx="160.19" cy="152.5" r="2.5" fill="#1a9ad6" stroke="#1d2a35" stroke-width="0.35"/>
<circle cx="158.43" cy="153.43" r="2.5" fill="#1a9ad6" stroke="#1d2a35" stroke-width="0.35"/>
<circle cx="192.33" cy="154.19" r="2.5" fill="#1a9ad6" stroke="#1d2a35" stroke-width="0.35"/>
<circle cx="123.13" cy="154.13" r="2.5" fill="#1a9ad6" stroke="#1d2a35" stroke-width="0.35"/>
<circle cx="121.36" cy="154.34" r="2.5" fill="#1a9ad6" stroke="#1d2a35" stroke-width="0.35"/>
<circle cx="187.69" cy="154.86" r="2.5" fill="#1a9ad6" stroke="#1d2a35" stroke-width="0.35"/>
<circle cx="179.99" cy="155.91" r="2.5" fill="#1a9ad6" stroke="#1d2a35" stroke-width="0.35"/>
<circle cx="147.34" cy="154.61" r="2.5" fill="#1a9ad6" stroke="#1d2a35" stroke-width="0.35"/>
<circle cx="180.7" cy="156.96" r="2.5" fill="#1a9ad6" stroke="#1d2a35" stroke-width="0.35"/>
<circle cx="177.08" cy="149.79" r="2.5" fill="#1a9ad6" stroke="#1d2a35" stroke-width="0.35"/>
<circle cx="145.94" cy="154.1" r="2.5" fill="#1a9ad6" stroke="#1d2a35" stroke-width="0.35"/>
<circle cx="130.9" cy="154.16" r="2.5" fill="#1a9ad6" stroke="#1d2a35" stroke-width="0.35"/>
<circle cx="193.32" cy="155.74" r="2.5" fill="#1a9ad6" stroke="#1d2a35" stroke-width="0.35"/>
<circle cx="176.6" cy="149.51" r="2.5" fill="#1a9ad6" stroke="#1d2a35" stroke-width="0.35"/>
<circle cx="151.14" cy="154.12" r="2.5" fill="#1a9ad6" stroke="#1d2a35" stroke-width="0.35"/>
<circle cx="195.71" cy="155.17" r="2.5" fill="#1a9ad6" stroke="#1d2a35" stroke-width="0.35"/>
<circle cx="189.71" cy="156.05" r="2.5" fill="#1a9ad6" stroke="#1d2a35" stroke-width="0.35"/>
<circle cx="137.19" cy="154.9" r="2.5" fill="#1a9ad6" stroke="#1d2a35" stroke-width="0.35"/>
<circle cx="192.83" cy="154.96" r="2.5" fill="#1a9ad6" stroke="#1d2a35" stroke-width="0.35"/>
<circle cx="180.24" cy="150" r="2.5" fill="#1a9ad6" stroke="#1d2a35" stroke-width="0.35"/>
<circle cx="187.46" cy="155.62" r="2.5" fill="#1a9ad6" stroke="#1d2a35" stroke-width="0.35"/>
<circle cx="144.01" cy="153.86" r="2.5" fill="#1a9ad6" stroke="#1d2a35" stroke-width="0.35"/>
<circle cx="137.77" cy="154.36" r="2.5" fill="#1a9ad6" stroke="#1d2a35" stroke-width="0.35"/>
<circle cx="182.68" cy="159.43" r="2.5" fill="#1a9ad6" stroke="#1d2a35" stroke-width="0.35"/>
<circle cx="148.7" cy="154.32" r="2.5" fill="#1a9ad6" stroke="#1d2a35" stroke-width="0.35"/>
<circle cx="170.3" cy="157.09" r="2.5" fill="#1a9ad6" stroke="#1d2a35" stroke-width="0.35"/>
<circle cx="169.59" cy="159.25" r="2.5" fill="#1a9ad6" stroke="#1d2a35" stroke-width="0.35"/>
<circle cx="139.57" cy="154.3" r="2.5" fill="#1a9ad6" stroke="#1d2a35" stroke-width="0.35"/>
<circle cx="148.67" cy="154.8" r="2.5" fill="#1a9ad6" stroke="#1d2a35" stroke-width="0.35"/>
<circle cx="118.71" cy="154.44" r="2.5" fill="#1a9ad6" stroke="#1d2a35" stroke-width="0.35"/>
<circle cx="175.92" cy="157.39" r="2.5" fill="#1a9ad6" stroke="#1d2a35" stroke-width="0.35"/>
<circle cx="162.52" cy="154.86" r="2.5" fill="#1a9ad6" stroke="#1d2a35" stroke-width="0.35"/>
<circle cx="189.44" cy="153.12" r="2.5" fill="#1a9ad6" stroke="#1d2a35" stroke-width="0.35"/>
<circle cx="191.1" cy="154.52" r="2.5" fill="#1a9ad6" stroke="#1d2a35" stroke-width="0.35"/>
<circle cx="135.74" cy="154.42" r="2.5" fill="#1a9ad6" stroke="#1d2a35" stroke-width="0.35"/>
<circle cx="147.78" cy="154.76" r="2.5" fill="#1a9ad6" stroke="#1d2a35" stroke-width="0.35"/>
<circle cx="173.86" cy="159.12" r="2.5" fill="#1a9ad6" stroke="#1d2a35" stroke-width="0.35"/>
<circle cx="130.88" cy="154.01" r="2.5" fill="#1a9ad6" stroke="#1d2a35" stroke-width="0.35"/>
<circle cx="184.27" cy="158.42" r="2.5" fill="#1a9ad6" stroke="#1d2a35" stroke-width="0.35"/>
<circle cx="117.84" cy="154.37" r="2.5" fill="#1a9ad6" stroke="#1d2a35" stroke-width="0.35"/>
<circle cx="119.41" cy="154.25" r="2.5" fill="#1a9ad6" stroke="#1d2a35" stroke-width="0.35"/>
<circle cx="131.08" cy="154.56" r="2.5" fill="#1a9ad6" stroke="#1d2a35" stroke-width="0.35"/>
<circle cx="176.17" cy="158.21" r="2.5" fill="#1a9ad6" stroke="#1d2a35" stroke-width="0.35"/>
<circle cx="184.11" cy="153.52" r="2.5" fill="#1a9ad6" stroke="#1d2a35" stroke-width="0.35"/>
<circle cx="134.87" cy="154.78" r="2.5" fill="#1a9ad6" stroke="#1d2a35" stroke-width="0.35"/>
<circle cx="154.08" cy="154.86" r="2.5" fill="#1a9ad6" stroke="#1d2a35" stroke-width="0.35"/>
<circle cx="179.69" cy="158.64" r="2.5" fill="#1a9ad6" stroke="#1d2a35" stroke-width="0.35"/>
<circle cx="135.12" cy="154.53" r="2.5" fill="#1a9ad6" stroke="#1d2a35" stroke-width="0.35"/>
<circle cx="175.14" cy="158.85" r="2.5" fill="#1a9ad6" stroke="#1d2a35" stroke-width="0.35"/>
<circle cx="128.86" cy="154.53" r="2.5" fill="#1a9ad6" stroke="#1d2a35" stroke-width="0.35"/>
<circle cx="126.15" cy="154.5" r="2.5" fill="#1a9ad6" stroke="#1d2a35" stroke-width="0.35"/>
<circle cx="171.84" cy="158.65" r="2.5" fill="#1a9ad6" stroke="#1d2a35" stroke-width="0.35"/>
<circle cx="147.27" cy="154.52" r="2.5" fill="#1a9ad6" stroke="#1d2a35" stroke-width="0.35"/>
<circle cx="193.81" cy="154.3" r="2.5" fill="#1a9ad6" stroke="#1d2a35" stroke-width="0.35"/>
<circle cx="172.6" cy="152.8" r="2.5" fill="#1a9ad6" stroke="#1d2a35" stroke-width="0.35"/>
<circle cx="180.62" cy="151.59" r="2.5" fill="#1a9ad6" stroke="#1d2a35" stroke-width="0.35"/>
<circle cx="179.95" cy="158.78" r="2.5" fill="#1a9ad6" stroke="#1d2a35" stroke-width="0.35"/>
<circle cx="140.59" cy="154.72" r="2.5" fill="#1a9ad6" stroke="#1d2a35" stroke-width="0.35"/>
<circle cx="113.54" cy="154.83" r="2.5" fill="#1a9ad6" stroke="#1d2a35" stroke-width="0.35"/>
<circle cx="127.54" cy="154.1" r="2.5" fill="#1a9ad6" stroke="#1d2a35" stroke-width="0.35"/>
<circle cx="190.3" cy="155.33" r="2.5" fill="#1a9ad6" stroke="#1d2a35" stroke-width="0.35"/>
<circle cx="152.7" cy="154.66" r="2.5" fill="#1a9ad6" stroke="#1d2a35" stroke-width="0.35"/>
<circle cx="140.8" cy="154.68" r="2.5" fill="#1a9ad6" stroke="#1d2a35" stroke-width="0.35"/>
<circle cx="140.56" cy="155.11" r="2.5" fill="#1a9ad6" stroke="#1d2a35" stroke-width="0.35"/>
<circle cx="150.07" cy="154.37" r="2.5" fill="#1a9ad6" stroke="#1d2a35" stroke-width="0.35"/>
<circle cx="174.01" cy="149.48" r="2.5" fill="#1a9ad6" stroke="#1d2a35" stroke-width="0.35"/>
<circle cx="187.5" cy="152.82" r="2.5" fill="#1a9ad6" stroke="#1d2a35" stroke-width="0.35"/>
<circle cx="179.58" cy="149.54" r="2.5" fill="#1a9ad6" stroke="#1d2a35" stroke-width="0.35"/>
<circle cx="133.78" cy="154.89" r="2.5" fill="#1a9ad6" stroke="#1d2a35" stroke-width="0.35"/>
<circle cx="130.59" cy="154.35" r="2.5" fill="#1a9ad6" stroke="#1d2a35" stroke-width="0.35"/>
<circle cx="138.89" cy="155.04" r="2.5" fill="#1a9ad6" stroke="#1d2a35" stroke-width="0.35"/>
<circle cx="195.83" cy="155.1" r="2.5" fill="#1a9ad6" stroke="#1d2a35" stroke-width="0.35"/>
<circle cx="175.8" cy="154.35" r="2.5" fill="#1a9ad6" stroke="#1d2a35" stroke-width="0.35"/>
<circle cx="190.96" cy="156.3" r="2.5" fill="#1a9ad6" stroke="#1d2a35" stroke-width="0.35"/>
<circle cx="133.67" cy="154.45" r="2.5" fill="#1a9ad6" stroke="#1d2a35" stroke-width="0.35"/>
<circle cx="131.7" cy="154.05" r="2.5" fill="#1a9ad6" stroke="#1d2a35" stroke-width="0.35"/>
<circle cx="138.73" cy="154.46" r="2.5" fill="#1a9ad6" stroke="#1d2a35" stroke-width="0.35"/>
<circle cx="193.87" cy="154.45" r="2.5" fill="#1a9ad6" stroke="#1d2a35" stroke-width="0.35"/>
<circle cx="166.56" cy="153.93" r="2.5" fill="#1a9ad6" stroke="#1d2a35" stroke-width="0.35"/>
<circle cx="195.7" cy="154.26" r="2.5" fill="#1a9ad6" stroke="#1d2a35" stroke-width="0.35"/>
<circle cx="148.64" cy="153.93" r="2.5" fill="#1a9ad6" stroke="#1d2a35" stroke-width="0.35"/>
<circle cx="160.14" cy="152.99" r="2.5" fill="#1a9ad6" stroke="#1d2a35" stroke-width="0.35"/>
<circle cx="168.88" cy="154.67" r="2.5" fill="#1a9ad6" stroke="#1d2a35" stroke-width="0.35"/>
<circle cx="120.4" cy="154.18" r="2.5" fill="#1a9ad6" stroke="#1d2a35" stroke-width="0.35"/>
<circle cx="129.34" cy="154.58" r="2.5" fill="#1a9ad6" stroke="#1d2a35" stroke-width="0.35"/>
<circle cx="165.53" cy="159.01" r="2.5" fill="#1a9ad6" stroke="#1d2a35" stroke-width="0.35"/>
<circle cx="168.86" cy="157.91" r="2.5" fill="#1a9ad6" stroke="#1d2a35" stroke-width="0.35"/>
<circle cx="179.65" cy="158.38" r="2.5" fill="#1a9ad6" stroke="#1d2a35" stroke-width="0.35"/>
<circle cx="148.77" cy="154.28" r="2.5" fill="#1a9ad6" stroke="#1d2a35" stroke-width="0.35"/>
<circle cx="129.35" cy="154.89" r="2.5" fill="#1a9ad6" stroke="#1d2a35" stroke-width="0.35"/>
<circle cx="138.98" cy="154.53" r="2.5" fill="#1a9ad6" stroke="#1d2a35" stroke-width="0.35"/>
<circle cx="191.85" cy="154.45" r="2.5" fill="#1a9ad6" stroke="#1d2a35" stroke-width="0.35"/>
<circle cx="128.15" cy="154.2" r="2.5" fill="#1a9ad6" stroke="#1d2a35" stroke-width="0.35"/>
<circle cx="138.13" cy="154.46" r="2.5" fill="#1a9ad6" stroke="#1d2a35" stroke-width="0.35"/>
<circle cx="182.43" cy="149.57" r="2.5" fill="#1a9ad6" stroke="#1d2a35" stroke-width="0.35"/>
<circle cx="174.37" cy="156.85" r="2.5" fill="#1a9ad6" stroke="#1d2a35" stroke-width="0.35"/>
<circle cx="116.97" cy="154.4" r="2.5" fill="#1a9ad6" stroke="#1d2a35" stroke-width="0.35"/>
<circle cx="173.39" cy="150.25" r="2.5" fill="#1a9ad6" stroke="#1d2a35" stroke-width="0.35"/>
<circle cx="156.56" cy="154.58" r="2.5" fill="#1a9ad6" stroke="#1d2a35" stroke-width="0.35"/>
<circle cx="141.17" cy="153.89" r="2.5" fill="#1a9ad6" stroke="#1d2a35" stroke-width="0.35"/>
<circle cx="133.57" cy="154.25" r="2.5" fill="#1a9ad6" stroke="#1d2a35" stroke-width="0.35"/>
<circle cx="160.61" cy="154.72" r="2.5" fill="#1a9ad6" stroke="#1d2a35" stroke-width="0.35"/>
<circle cx="120.57" cy="154.35" r="2.5" fill="#1a9ad6" stroke="#1d2a35" stroke-width="0.35"/>
<circle cx="139.06" cy="154.28" r="2.5" fill="#1a9ad6" stroke="#1d2a35" stroke-width="0.35"/>
<circle cx="135.63" cy="153.94" r="2.5" fill="#1a9ad6" stroke="#1d2a35" stroke-width="0.35"/>
<circle cx="177.09" cy="157.06" r="2.5" fill="#1a9ad6" stroke="#1d2a35" stroke-width="0.35"/>
<circle cx="113.24" cy="154.17" r="2.5" fill="#1a9ad6" stroke="#1d2a35" stroke-width="0.35"/>
<circle cx="190.86" cy="152.7" r="2.5" fill="#1a9ad6" stroke="#1d2a35" stroke-width="0.35"/>
<circle cx="159.34" cy="154.86" r="2.5" fill="#1a9ad6" stroke="#1d2a35" stroke-width="0.35"/>
<circle cx="162.6" cy="158" r="2.5" fill="#1a9ad6" stroke="#1d2a35" stroke-width="0.35"/>
<circle cx="190" cy="153.44" r="2.5" fill="#1a9ad6" stroke="#1d2a35" stroke-width="0.35"/>
<circle cx="142.15" cy="154.93" r="2.5" fill="#1a9ad6" stroke="#1d2a35" stroke-width="0.35"/>
<circle cx="176.8" cy="153.05" r="2.5" fill="#1a9ad6" stroke="#1d2a35" stroke-width="0.35"/>
<circle cx="151.74" cy="155.02" r="2.5" fill="#1a9ad6" stroke="#1d2a35" stroke-width="0.35"/>
<circle cx="187.54" cy="155.89" r="2.5" fill="#1a9ad6" stroke="#1d2a35" stroke-width="0.35"/>
<circle cx="139.67" cy="154.94" r="2.5" fill="#1a9ad6" stroke="#1d2a35" stroke-width="0.35"/>
<circle cx="183.88" cy="151.97" r="2.5" fill="#1a9ad6" stroke="#1d2a35" stroke-width="0.35"/>
<circle cx="179.95" cy="149.65" r="2.5" fill="#1a9ad6" stroke="#1d2a35" stroke-width="0.35"/>
<circle cx="131.49" cy="154.11" r="2.5" fill="#1a9ad6" stroke="#1d2a35" stroke-width="0.35"/>
<circle cx="130.99" cy="154.09" r="2.5" fill="#1a9ad6" stroke="#1d2a35" stroke-width="0.35"/>
<circle cx="114.6" cy="154.2" r="2.5" fill="#1a9ad6" stroke="#1d2a35" stroke-width="0.35"/>
<circle cx="136.83" cy="154.32" r="2.5" fill="#1a9ad6" stroke="#1d2a35" stroke-width="0.35"/>
<circle cx="169.06" cy="159.2" r="2.5" fill="#1a9ad6" stroke="#1d2a35" stroke-width="0.35"/>
<circle cx="173.37" cy="152.24" r="2.5" fill="#1a9ad6" stroke="#1d2a35" stroke-width="0.35"/>
<circle cx="121.26" cy="154.09" r="2.5" fill="#1a9ad6" stroke="#1d2a35" stroke-width="0.35"/>
<circle cx="186.09" cy="152.29" r="2.5" fill="#1a9ad6" stroke="#1d2a35" stroke-width="0.35"/>
<circle cx="118.75" cy="154.42" r="2.5" fill="#1a9ad6" stroke="#1d2a35" stroke-width="0.35"/>
<circle cx="158.72" cy="153.99" r="2.5" fill="#1a9ad6" stroke="#1d2a35" stroke-width="0.35"/>
<circle cx="196.21" cy="153.83" r="2.5" fill="#1a9ad6" stroke="#1d2a35" stroke-width="0.35"/>
<circle cx="137.37" cy="154.7" r="2.5" fill="#1a9ad6" stroke="#1d2a35" stroke-width="0.35"/>
<circle cx="152.22" cy="153.71" r="2.5" fill="#1a9ad6" stroke="#1d2a35" stroke-width="0.35"/>
<circle cx="142.06" cy="154.44" r="2.5" fill="#1a9ad6" stroke="#1d2a35" stroke-width="0.35"/>
<circle cx="122.85" cy="154.79" r="2.5" fill="#1a9ad6" stroke="#1d2a35" stroke-width="0.35"/>
<circle cx="163.77" cy="150.86" r="2.5" fill="#1a9ad6" stroke="#1d2a35" stroke-width="0.35"/>
<circle cx="182.18" cy="153.89" r="2.5" fill="#1a9ad6" stroke="#1d2a35" stroke-width="0.35"/>
<circle cx="152.28" cy="153.96" r="2.5" fill="#1a9ad6" stroke="#1d2a35" stroke-width="0.35"/>
<circle cx="119.49" cy="154.62" r="2.5" fill="#1a9ad6" stroke="#1d2a35" stroke-width="0.35"/>
<circle cx="147.72" cy="154.38" r="2.5" fill="#1a9ad6" stroke="#1d2a35" stroke-width="0.35"/>
<circle cx="154.96" cy="153.58" r="2.5" fill="#1a9ad6" stroke="#1d2a35" stroke-width="0.35"/>
<circle cx="116.91" cy="154.33" r="2.5" fill="#1a9ad6" stroke="#1d2a35" stroke-width="0.35"/>
<circle cx="161.45" cy="153.26" r="2.5" fill="#1a9ad6" stroke="#1d2a35" stroke-width="0.35"/>
<circle cx="176.89" cy="154.16" r="2.5" fill="#1a9ad6" stroke="#1d2a35" stroke-width="0.35"/>
<circle cx="172.92" cy="152.43" r="2.5" fill="#1a9ad6" stroke="#1d2a35" stroke-width="0.35"/>
<circle cx="149.62" cy="153.81" r="2.5" fill="#1a9ad6" stroke="#1d2a35" stroke-width="0.35"/>
<circle cx="178.38" cy="154.16" r="2.5" fill="#1a9ad6" stroke="#1d2a35" stroke-width="0.35"/>
<circle cx="166.69" cy="154.07" r="2.5" fill="#1a9ad6" stroke="#1d2a35" stroke-width="0.35"/>
<circle cx="174.36" cy="153.09" r="2.5" fill="#1a9ad6" stroke="#1d2a35" stroke-width="0.35"/>
<circle cx="114.75" cy="154.82" r="2.5" fill="#1a9ad6" stroke="#1d2a35" stroke-width="0.35"/>
<circle cx="185.43" cy="150.71" r="2.5" fill="#1a9ad6" stroke="#1d2a35" stroke-width="0.35"/>
<circle cx="157.39" cy="154.91" r="2.5" fill="#1a9ad6" stroke="#1d2a35" stroke-width="0.35"/>
<circle cx="190.1" cy="153.28" r="2.5" fill="#1a9ad6" stroke="#1d2a35" stroke-width="0.35"/>
<circle cx="130.18" cy="154.17" r="2.5" fill="#1a9ad6" stroke="#1d2a35" stroke-width="0.35"/>
<circle cx="169.01" cy="159.15" r="2.5" fill="#1a9ad6" stroke="#1d2a35" stroke-width="0.35"/>
<circle cx="157.33" cy="153.85" r="2.5" fill="#1a9ad6" stroke="#1d2a35" stroke-width="0.35"/>
<circle cx="153.37" cy="154.12" r="2.5" fill="#1a9ad6" stroke="#1d2a35" stroke-width="0.35"/>
<circle cx="116.13" cy="154.67" r="2.5" fill="#1a9ad6" stroke="#1d2a35" stroke-width="0.35"/>
<circle cx="174.85" cy="157.87" r="2.5" fill="#1a9ad6" stroke="#1d2a35" stroke-width="0.35"/>
<circle cx="112.95" cy="154.67" r="2.5" fill="#1a9ad6" stroke="#1d2a35" stroke-width="0.35"/>
<circle cx="156.87" cy="153.87" r="2.5" fill="#1a9ad6" stroke="#1d2a35" stroke-width="0.35"/>
<circle cx="157.41" cy="153.69" r="2.5" fill="#1a9ad6" stroke="#1d2a35" stroke-width="0.35"/>
<circle cx="146.99" cy="153.93" r="2.5" fill="#1a9ad6" stroke="#1d2a35" stroke-width="0.35"/>
<circle cx="194.35" cy="155.26" r="2.5" fill="#1a9ad6" stroke="#1d2a35" stroke-width="0.35"/>
<circle cx="179.64" cy="154.03" r="2.5" fill="#1a9ad6" stroke="#1d2a35" stroke-width="0.35"/>
<circle cx="177.43" cy="149.54" r="2.5" fill="#1a9ad6" stroke="#1d2a35" stroke-width="0.35"/>
<circle cx="189.53" cy="155.72" r="2.5" fill="#1a9ad6" stroke="#1d2a35" stroke-width="0.35"/>
<circle cx="190.76" cy="154.06" r="2.5" fill="#1a9ad6" stroke="#1d2a35" stroke-width="0.35"/>
<circle cx="141.58" cy="154.48" r="2.5" fill="#1a9ad6" stroke="#1d2a35" stroke-width="0.35"/>
<circle cx="177.25" cy="149.96" r="2.5" fill="#1a9ad6" stroke="#1d2a35" stroke-width="0.35"/>
<circle cx="126.76" cy="154.49" r="2.5" fill="#1a9ad6" stroke="#1d2a35" stroke-width="0.35"/>
<circle cx="121.84" cy="154.12" r="2.5" fill="#1a9ad6" stroke="#1d2a35" stroke-width="0.35"/>
<circle cx="177.86" cy="149.83" r="2.5" fill="#1a9ad6" stroke="#1d2a35" stroke-width="0.35"/>
<circle cx="159.93" cy="153.34" r="2.5" fill="#1a9ad6" stroke="#1d2a35" stroke-width="0.35"/>
<circle cx="164.6" cy="153.19" r="2.5" fill="#1a9ad6" stroke="#1d2a35" stroke-width="0.35"/>
<circle cx="177.94" cy="153.31" r="2.5" fill="#1a9ad6" stroke="#1d2a35" stroke-width="0.35"/>
<circle cx="186.46" cy="154.2" r="2.5" fill="#1a9ad6" stroke="#1d2a35" stroke-width="0.35"/>
<circle cx="159.9" cy="156.16" r="2.5" fill="#1a9ad6" stroke="#1d2a35" stroke-width="0.35"/>
<circle cx="151.65" cy="154.9" r="2.5" fill="#1a9ad6" stroke="#1d2a35" stroke-width="0.35"/>
<circle cx="179.49" cy="155.72" r="2.5" fill="#1a9ad6" stroke="#1d2a35" stroke-width="0.35"/>
<circle cx="181.19" cy="155.06" r="2.5" fill="#1a9ad6" stroke="#1d2a35" stroke-width="0.35"/>
<circle cx="167.89" cy="154.42" r="2.5" fill="#1a9ad6" stroke="#1d2a35" stroke-width="0.35"/>
<circle cx="157.86" cy="155.08" r="2.5" fill="#1a9ad6" stroke="#1d2a35" stroke-width="0.35"/>
<circle cx="141.47" cy="154" r="2.5" fill="#1a9ad6" stroke="#1d2a35" stroke-width="0.35"/>
<circle cx="176.84" cy="159.49" r="2.5" fill="#1a9ad6" stroke="#1d2a35" stroke-width="0.35"/>
<circle cx="163.74" cy="153.28" r="2.5" fill="#1a9ad6" stroke="#1d2a35" stroke-width="0.35"/>
<circle cx="119.89" cy="154.47" r="2.5" fill="#1a9ad6" stroke="#1d2a35" stroke-width="0.35"/>
<circle cx="176.68" cy="154.61" r="2.5" fill="#1a9ad6" stroke="#1d2a35" stroke-width="0.35"/>
<circle cx="162.09" cy="151.52" r="2.5" fill="#1a9ad6" stroke="#1d2a35" stroke-width="0.35"/>
<circle cx="153.04" cy="154.74" r="2.5" fill="#1a9ad6" stroke="#1d2a35" stroke-width="0.35"/>
<circle cx="182.02" cy="155.22" r="2.5" fill="#1a9ad6" stroke="#1d2a35" stroke-width="0.35"/>
<circle cx="151.1" cy="154.53" r="2.5" fill="#1a9ad6" stroke="#1d2a35" stroke-width="0.35"/>
<circle cx="122.09" cy="154.91" r="2.5" fill="#1a9ad6" stroke="#1d2a35" stroke-width="0.35"/>
<circle cx="169.95" cy="152.47" r="2.5" fill="#1a9ad6" stroke="#1d2a35" stroke-width="0.35"/>
<circle cx="169.17" cy="150.42" r="2.5" fill="#1a9ad6" stroke="#1d2a35" stroke-width="0.35"/>
<circle cx="171.35" cy="149.97" r="2.5" fill="#1a9ad6" stroke="#1d2a35" stroke-width="0.35"/>
<circle cx="184.51" cy="153.88" r="2.5" fill="#1a9ad6" stroke="#1d2a35" stroke-width="0.35"/>
<circle cx="189.1" cy="154.57" r="2.5" fill="#1a9ad6" stroke="#1d2a35" stroke-width="0.35"/>
<circle cx="152.38" cy="155.29" r="2.5" fill="#1a9ad6" stroke="#1d2a35" stroke-width="0.35"/>
<circle cx="135.2" cy="154.14" r="2.5" fill="#1a9ad6" stroke="#1d2a35" stroke-width="0.35"/>
<circle cx="164.01" cy="155.63" r="2.5" fill="#1a9ad6" stroke="#1d2a35" stroke-width="0.35"/>
<circle cx="163.09" cy="156.55" r="2.5" fill="#1a9ad6" stroke="#1d2a35" stroke-width="0.35"/>
<circle cx="138.57" cy="154.17" r="2.5" fill="#1a9ad6" stroke="#1d2a35" stroke-width="0.35"/>
<circle cx="113.84" cy="154.66" r="2.5" fill="#1a9ad6" stroke="#1d2a35" stroke-width="0.35"/>
<circle cx="133.34" cy="154.82" r="2.5" fill="#1a9ad6" stroke="#1d2a35" stroke-width="0.35"/>
<circle cx="132.55" cy="154.29" r="2.5" fill="#1a9ad6" stroke="#1d2a35" stroke-width="0.35"/>
<circle cx="117.32" cy="154.23" r="2.5" fill="#1a9ad6" stroke="#1d2a35" stroke-width="0.35"/>
<circle cx="118.71" cy="154.54" r="2.5" fill="#1a9ad6" stroke="#1d2a35" stroke-width="0.35"/>
<circle cx="171.95" cy="149.69" r="2.5" fill="#1a9ad6" stroke="#1d2a35" stroke-width="0.35"/>
<circle cx="178.75" cy="155.72" r="2.5" fill="#1a9ad6" stroke="#1d2a35" stroke-width="0.35"/>
<circle cx="186.62" cy="156.28" r="2.5" fill="#1a9ad6" stroke="#1d2a35" stroke-width="0.35"/>
<circle cx="171.95" cy="153.36" r="2.5" fill="#1a9ad6" stroke="#1d2a35" stroke-width="0.35"/>
<circle cx="128.55" cy="154.27" r="2.5" fill="#1a9ad6" stroke="#1d2a35" stroke-width="0.35"/>
<circle cx="125.47" cy="154.63" r="2.5" fill="#1a9ad6" stroke="#1d2a35" stroke-width="0.35"/>
<circle cx="166.76" cy="155.58" r="2.5" fill="#1a9ad6" stroke="#1d2a35" stroke-width="0.35"/>
<circle cx="115.27" cy="154.22" r="2.5" fill="#1a9ad6" stroke="#1d2a35" stroke-width="0.35"/>
<circle cx="119.92" cy="154.5" r="2.5" fill="#1a9ad6" stroke="#1d2a35" stroke-width="0.35"/>
<circle cx="180.61" cy="155.78" r="2.5" fill="#1a9ad6" stroke="#1d2a35" stroke-width="0.35"/>
<circle cx="140.48" cy="154.38" r="2.5" fill="#1a9ad6" stroke="#1d2a35" stroke-width="0.35"/>
<circle cx="138.86" cy="154.41" r="2.5" fill="#1a9ad6" stroke="#1d2a35" stroke-width="0.35"/>
<circle cx="120.74" cy="154.7" r="2.5" fill="#1a9ad6" stroke="#1d2a35" stroke-width="0.35"/>
<circle cx="158.78" cy="154.7" r="2.5" fill="#1a9ad6" stroke="#1d2a35" stroke-width="0.35"/>
<circle cx="152.84" cy="154.87" r="2.5" fill="#1a9ad6" stroke="#1d2a35" stroke-width="0.35"/>
<circle cx="134.89" cy="154.37" r="2.5" fill="#1a9ad6" stroke="#1d2a35" stroke-width="0.35"/>
<circle cx="134.59" cy="154.46" r="2.5" fill="#1a9ad6" stroke="#1d2a35" stroke-width="0.35"/>
<circle cx="127.75" cy="154.03" r="2.5" fill="#1a9ad6" stroke="#1d2a35" stroke-width="0.35"/>
<circle cx="113.32" cy="154.39" r="2.5" fill="#1a9ad6" stroke="#1d2a35" stroke-width="0.35"/>
<circle cx="128.67" cy="154.33" r="2.5" fill="#1a9ad6" stroke="#1d2a35" stroke-width="0.35"/>
<circle cx="136.51" cy="154.46" r="2.5" fill="#1a9ad6" stroke="#1d2a35" stroke-width="0.35"/>
<circle cx="122.12" cy="154.82" r="2.5" fill="#1a9ad6" stroke="#1d2a35" stroke-width="0.35"/>
<circle cx="174.96" cy="152.37" r="2.5" fill="#1a9ad6" stroke="#1d2a35" stroke-width="0.35"/>
<circle cx="121.34" cy="154.57" r="2.5" fill="#1a9ad6" stroke="#1d2a35" stroke-width="0.35"/>
<circle cx="157.39" cy="153.45" r="2.5" fill="#1a9ad6" stroke="#1d2a35" stroke-width="0.35"/>
<circle cx="148.93" cy="155.12" r="2.5" fill="#1a9ad6" stroke="#1d2a35" stroke-width="0.35"/>
<circle cx="130.25" cy="154.59" r="2.5" fill="#1a9ad6" stroke="#1d2a35" stroke-width="0.35"/>
<circle cx="141.58" cy="154.63" r="2.5" fill="#1a9ad6" stroke="#1d2a35" stroke-width="0.35"/>
<circle cx="192.09" cy="154.73" r="2.5" fill="#1a9ad6" stroke="#1d2a35" stroke-width="0.35"/>
<circle cx="116.35" cy="154.86" r="2.5" fill="#1a9ad6" stroke="#1d2a35" stroke-width="0.35"/>
<circle cx="143.07" cy="154.26" r="2.5" fill="#1a9ad6" stroke="#1d2a35" stroke-width="0.35"/>
<circle cx="165.47" cy="159.33" r="2.5" fill="#1a9ad6" stroke="#1d2a35" stroke-width="0.35"/>
<circle cx="170.62" cy="150.8" r="2.5" fill="#1a9ad6" stroke="#1d2a35" stroke-width="0.35"/>
<circle cx="173.87" cy="155.14" r="2.5" fill="#1a9ad6" stroke="#1d2a35" stroke-width="0.35"/>
<circle cx="126.81" cy="154.05" r="2.5" fill="#1a9ad6" stroke="#1d2a35" stroke-width="0.35"/>
<circle cx="183.88" cy="159.31" r="2.5" fill="#1a9ad6" stroke="#1d2a35" stroke-width="0.35"/>
<circle cx="147.98" cy="154.46" r="2.5" fill="#1a9ad6" stroke="#1d2a35" stroke-width="0.35"/>
<circle cx="162.71" cy="151.37" r="2.5" fill="#1a9ad6" stroke="#1d2a35" stroke-width="0.35"/>
<circle cx="143.79" cy="154.07" r="2.5" fill="#1a9ad6" stroke="#1d2a35" stroke-width="0.35"/>
<circle cx="194.32" cy="155.08" r="2.5" fill="#1a9ad6" stroke="#1d2a35" stroke-width="0.35"/>
<circle cx="185.49" cy="159.09" r="2.5" fill="#1a9ad6" stroke="#1d2a35" stroke-width="0.35"/>
<circle cx="142.06" cy="154.12" r="2.5" fill="#1a9ad6" stroke="#1d2a35" stroke-width="0.35"/>
<circle cx="129.98" cy="155" r="2.5" fill="#1a9ad6" stroke="#1d2a35" stroke-width="0.35"/>
<circle cx="171.64" cy="156.9" r="2.5" fill="#1a9ad6" stroke="#1d2a35" stroke-width="0.35"/>
<circle cx="143.36" cy="154.37" r="2.5" fill="#1a9ad6" stroke="#1d2a35" stroke-width="0.35"/>
<circle cx="139.58" cy="154.83" r="2.5" fill="#1a9ad6" stroke="#1d2a35" stroke-width="0.35"/>
<circle cx="187.92" cy="152.15" r="2.5" fill="#1a9ad6" stroke="#1d2a35" stroke-width="0.35"/>
<circle cx="159.73" cy="155.63" r="2.5" fill="#1a9ad6" stroke="#1d2a35" stroke-width="0.35"/>
<circle cx="165.02" cy="156.07" r="2.5" fill="#1a9ad6" stroke="#1d2a35" stroke-width="0.35"/>
<circle cx="154.79" cy="154.03" r="2.5" fill="#1a9ad6" stroke="#1d2a35" stroke-width="0.35"/>
<circle cx="116.28" cy="154.76" r="2.5" fill="#1a9ad6" stroke="#1d2a35" stroke-width="0.35"/>
<circle cx="118.46" cy="154.66" r="2.5" fill="#1a9ad6" stroke="#1d2a35" stroke-width="0.35"/>
<circle cx="185.61" cy="158.34" r="2.5" fill="#1a9ad6" stroke="#1d2a35" stroke-width="0.35"/>
<circle cx="129.19" cy="154.41" r="2.5" fill="#1a9ad6" stroke="#1d2a35" stroke-width="0.35"/>
<circle cx="146.94" cy="154.03" r="2.5" fill="#1a9ad6" stroke="#1d2a35" stroke-width="0.35"/>
<circle cx="115.04" cy="154.23" r="2.5" fill="#1a9ad6" stroke="#1d2a35" stroke-width="0.35"/>
<circle cx="162.12" cy="153.41" r="2.5" fill="#1a9ad6" stroke="#1d2a35" stroke-width="0.35"/>
<circle cx="180.56" cy="155.52" r="2.5" fill="#1a9ad6" stroke="#1d2a35" stroke-width="0.35"/>
<circle cx="165.41" cy="150.39" r="2.5" fill="#1a9ad6" stroke="#1d2a35" stroke-width="0.35"/>
<circle cx="147.91" cy="154.7" r="2.5" fill="#1a9ad6" stroke="#1d2a35" stroke-width="0.35"/>
<circle cx="131.9" cy="154.99" r="2.5" fill="#1a9ad6" stroke="#1d2a35" stroke-width="0.35"/>
<circle cx="188.23" cy="154.35" r="2.5" fill="#1a9ad6" stroke="#1d2a35" stroke-width="0.35"/>
<circle cx="149.22" cy="155.19" r="2.5" fill="#1a9ad6" stroke="#1d2a35" stroke-width="0.35"/>
<circle cx="117.02" cy="154.53" r="2.5" fill="#1a9ad6" stroke="#1d2a35" stroke-width="0.35"/>
<circle cx="154.85" cy="155.42" r="2.5" fill="#1a9ad6" stroke="#1d2a35" stroke-width="0.35"/>
<circle cx="119.13" cy="154.12" r="2.5" fill="#1a9ad6" stroke="#1d2a35" stroke-width="0.35"/>
<circle cx="146.38" cy="154.06" r="2.5" fill="#1a9ad6" stroke="#1d2a35" stroke-width="0.35"/>
<circle cx="155.14" cy="155.12" r="2.5" fill="#1a9ad6" stroke="#1d2a35" stroke-width="0.35"/>
<circle cx="190.46" cy="153.78" r="2.5" fill="#1a9ad6" stroke="#1d2a35" stroke-width="0.35"/>
<circle cx="120.47" cy="154.77" r="2.5" fill="#1a9ad6" stroke="#1d2a35" stroke-width="0.35"/>
<circle cx="117.24" cy="154.61" r="2.5" fill="#1a9ad6" stroke="#1d2a35" stroke-width="0.35"/>
<circle cx="165.01" cy="154.2" r="2.5" fill="#1a9ad6" stroke="#1d2a35" stroke-width="0.35"/>
<circle cx="122.3" cy="154.41" r="2.5" fill="#1a9ad6" stroke="#1d2a35" stroke-width="0.35"/>
<circle cx="163.6" cy="151.89" r="2.5" fill="#1a9ad6" stroke="#1d2a35" stroke-width="0.35"/>
<circle cx="138.55" cy="154" r="2.5" fill="#1a9ad6" stroke="#1d2a35" stroke-width="0.35"/>
<circle cx="194.2" cy="154.54" r="2.5" fill="#1a9ad6" stroke="#1d2a35" stroke-width="0.35"/>
<circle cx="192.66" cy="153.56" r="2.5" fill="#1a9ad6" stroke="#1d2a35" stroke-width="0.35"/>
<circle cx="141.6" cy="154.4" r="2.5" fill="#1a9ad6" stroke="#1d2a35" stroke-width="0.35"/>
<circle cx="114.42" cy="154.58" r="2.5" fill="#1a9ad6" stroke="#1d2a35" stroke-width="0.35"/>
<circle cx="146.3" cy="153.84" r="2.5" fill="#1a9ad6" stroke="#1d2a35" stroke-width="0.35"/>
<circle cx="156.7" cy="154.64" r="2.5" fill="#1a9ad6" stroke="#1d2a35" stroke-width="0.35"/>
<circle cx="121.05" cy="154.19" r="2.5" fill="#1a9ad6" stroke="#1d2a35" stroke-width="0.35"/>
<circle cx="165.11" cy="157.78" r="2.5" fill="#1a9ad6" stroke="#1d2a35" stroke-width="0.35"/>
<circle cx="158.32" cy="154.3" r="2.5" fill="#1a9ad6" stroke="#1d2a35" stroke-width="0.35"/>
<circle cx="133.99" cy="154.89" r="2.5" fill="#1a9ad6" stroke="#1d2a35" stroke-width="0.35"/>
<circle cx="135.64" cy="154.68" r="2.5" fill="#1a9ad6" stroke="#1d2a35" stroke-width="0.35"/>
<circle cx="127.06" cy="154.31" r="2.5" fill="#1a9ad6" stroke="#1d2a35" stroke-width="0.35"/>
<circle cx="127.1" cy="154.37" r="2.5" fill="#1a9ad6" stroke="#1d2a35" stroke-width="0.35"/>
<circle cx="160.69" cy="156.5" r="2.5" fill="#1a9ad6" stroke="#1d2a35" stroke-width="0.35"/>
<circle cx="187.75" cy="153.09" r="2.5" fill="#1a9ad6" stroke="#1d2a35" stroke-width="0.35"/>
<circle cx="128.16" cy="154.03" r="2.5" fill="#1a9ad6" stroke="#1d2a35" stroke-width="0.35"/>
<circle cx="116.12" cy="154.14" r="2.5" fill="#1a9ad6" stroke="#1d2a35" stroke-width="0.35"/>
<circle cx="157.38" cy="154.33" r="2.5" fill="#1a9ad6" stroke="#1d2a35" stroke-width="0.35"/>
<circle cx="125.51" cy="154.74" r="2.5" fill="#1a9ad6" stroke="#1d2a35" stroke-width="0.35"/>
<circle cx="171.1" cy="159.31" r="2.5" fill="#1a9ad6" stroke="#1d2a35" stroke-width="0.35"/>
<circle cx="136.49" cy="154.01" r="2.5" fill="#1a9ad6" stroke="#1d2a35" stroke-width="0.35"/>
<circle cx="141.47" cy="154.8" r="2.5" fill="#1a9ad6" stroke="#1d2a35" stroke-width="0.35"/>
<circle cx="127.79" cy="154.88" r="2.5" fill="#1a9ad6" stroke="#1d2a35" stroke-width="0.35"/>
<circle cx="140.55" cy="154.34" r="2.5" fill="#1a9ad6" stroke="#1d2a35" stroke-width="0.35"/>
<circle cx="193.65" cy="153.26" r="2.5" fill="#1a9ad6" stroke="#1d2a35" stroke-width="0.35"/>
<circle cx="175.6" cy="154.93" r="2.5" fill="#1a9ad6" stroke="#1d2a35" stroke-width="0.35"/>
<circle cx="191.06" cy="152.93" r="2.5" fill="#1a9ad6" stroke="#1d2a35" stroke-width="0.35"/>
<circle cx="123.7" cy="154.53" r="2.5" fill="#1a9ad6" stroke="#1d2a35" stroke-width="0.35"/>
<circle cx="166.26" cy="158.35" r="2.5" fill="#1a9ad6" stroke="#1d2a35" stroke-width="0.35"/>
<circle cx="160.17" cy="155.42" r="2.5" fill="#1a9ad6" stroke="#1d2a35" stroke-width="0.35"/>
<circle cx="179.91" cy="152.97" r="2.5" fill="#1a9ad6" stroke="#1d2a35" stroke-width="0.35"/>
<circle cx="167.23" cy="157.62" r="2.5" fill="#1a9ad6" stroke="#1d2a35" stroke-width="0.35"/>
<circle cx="168.97" cy="149.42" r="2.5" fill="#1a9ad6" stroke="#1d2a35" stroke-width="0.35"/>
<circle cx="128.25" cy="154.28" r="2.5" fill="#1a9ad6" stroke="#1d2a35" stroke-width="0.35"/>
<circle cx="167.98" cy="154.69" r="2.5" fill="#1a9ad6" stroke="#1d2a35" stroke-width="0.35"/>
<circle cx="138.98" cy="154.18" r="2.5" fill="#1a9ad6" stroke="#1d2a35" stroke-width="0.35"/>
<circle cx="137.23" cy="154.81" r="2.5" fill="#1a9ad6" stroke="#1d2a35" stroke-width="0.35"/>
<circle cx="138.27" cy="153.92" r="2.5" fill="#1a9ad6" stroke="#1d2a35" stroke-width="0.35"/>
<circle cx="157.29" cy="155.16" r="2.5" fill="#1a9ad6" stroke="#1d2a35" stroke-width="0.35"/>
<circle cx="162.06" cy="152.39" r="2.5" fill="#1a9ad6" stroke="#1d2a35" stroke-width="0.35"/>
<circle cx="141.93" cy="154.4" r="2.5" fill="#1a9ad6" stroke="#1d2a35" stroke-width="0.35"/>
<circle cx="174.37" cy="152.93" r="2.5" fill="#1a9ad6" stroke="#1d2a35" stroke-width="0.35"/>
<circle cx="147.59" cy="154.18" r="2.5" fill="#1a9ad6" stroke="#1d2a35" stroke-width="0.35"/>
<circle cx="172.4" cy="153.29" r="2.5" fill="#1a9ad6" stroke="#1d2a35" stroke-width="0.35"/>
<circle cx="138.49" cy="155.08" r="2.5" fill="#1a9ad6" stroke="#1d2a35" stroke-width="0.35"/>
<circle cx="184.02" cy="151.25" r="2.5" fill="#1a9ad6" stroke="#1d2a35" stroke-width="0.35"/>
<circle cx="167.97" cy="154.75" r="2.5" fill="#1a9ad6" stroke="#1d2a35" stroke-width="0.35"/>
<circle cx="146.03" cy="155.16" r="2.5" fill="#1a9ad6" stroke="#1d2a35" stroke-width="0.35"/>
<circle cx="123.06" cy="154.55" r="2.5" fill="#1a9ad6" stroke="#1d2a35" stroke-width="0.35"/>
<circle cx="175.01" cy="151.1" r="2.5" fill="#1a9ad6" stroke="#1d2a35" stroke-width="0.35"/>
<circle cx="128.13" cy="154.11" r="2.5" fill="#1a9ad6" stroke="#1d2a35" stroke-width="0.35"/>
<circle cx="132.92" cy="154.16" r="2.5" fill="#1a9ad6" stroke="#1d2a35" stroke-width="0.35"/>
<circle cx="117.72" cy="154.15" r="2.5" fill="#1a9ad6" stroke="#1d2a35" stroke-width="0.35"/>
<circle cx="169.33" cy="153.01" r="2.5" fill="#1a9ad6" stroke="#1d2a35" stroke-width="0.35"/>
<circle cx="123.01" cy="154.77" r="2.5" fill="#1a9ad6" stroke="#1d2a35" stroke-width="0.35"/>
<circle cx="161.61" cy="153.74" r="2.5" fill="#1a9ad6" stroke="#1d2a35" stroke-width="0.35"/>
<circle cx="143.5" cy="154.62" r="2.5" fill="#1a9ad6" stroke="#1d2a35" stroke-width="0.35"/>
<circle cx="151.68" cy="154.08" r="2.5" fill="#1a9ad6" stroke="#1d2a35" stroke-width="0.35"/>
<circle cx="151.07" cy="154.04" r="2.5" fill="#1a9ad6" stroke="#1d2a35" stroke-width="0.35"/>
<circle cx="137.08" cy="155" r="2.5" fill="#1a9ad6" stroke="#1d2a35" stroke-width="0.35"/>
<circle cx="132.8" cy="154.02" r="2.5" fill="#1a9ad6" stroke="#1d2a35" stroke-width="0.35"/>
<circle cx="188.77" cy="155.82" r="2.5" fill="#1a9ad6" stroke="#1d2a35" stroke-width="0.35"/>
<circle cx="188.45" cy="152.72" r="2.5" fill="#1a9ad6" stroke="#1d2a35" stroke-width="0.35"/>
<circle cx="190.37" cy="153.19" r="2.5" fill="#1a9ad6" stroke="#1d2a35" stroke-width="0.35"/>
<circle cx="135.87" cy="155.06" r="2.5" fill="#1a9ad6" stroke="#1d2a35" stroke-width="0.35"/>
<circle cx="179.29" cy="149.9" r="2.5" fill="#1a9ad6" stroke="#1d2a35" stroke-width="0.35"/>
<circle cx="165.39" cy="149.67" r="2.5" fill="#1a9ad6" stroke="#1d2a35" stroke-width="0.35"/>
<circle cx="123.07" cy="154.12" r="2.5" fill="#1a9ad6" stroke="#1d2a35" stroke-width="0.35"/>
<circle cx="124.71" cy="154.94" r="2.5" fill="#1a9ad6" stroke="#1d2a35" stroke-width="0.35"/>
<circle cx="185.36" cy="149.91" r="2.5" fill="#1a9ad6" stroke="#1d2a35" stroke-width="0.35"/>
<circle cx="187.06" cy="175.55" r="2.5" fill="#d8007c" stroke="#1d2a35" stroke-width="0.35"/>
<circle cx="199.59" cy="178.06" r="2.5" fill="#d8007c" stroke="#1d2a35" stroke-width="0.35"/>
<circle cx="168.72" cy="182.87" r="2.5" fill="#d8007c" stroke="#1d2a35" stroke-width="0.35"/>
<circle cx="194.24" cy="179.27" r="2.5" fill="#d8007c" stroke="#1d2a35" stroke-width="0.35"/>
<circle cx="137.03" cy="179.14" r="2.5" fill="#d8007c" stroke="#1d2a35" stroke-width="0.35"/>
<circle cx="131.88" cy="178.84" r="2.5" fill="#d8007c" stroke="#1d2a35" stroke-width="0.35"/>
<circle cx="183.57" cy="179.03" r="2.5" fill="#d8007c" stroke="#1d2a35" stroke-width="0.35"/>
<circle cx="196.3" cy="179.46" r="2.5" fill="#d8007c" stroke="#1d2a35" stroke-width="0.35"/>
<circle cx="190.34" cy="178.94" r="2.5" fill="#d8007c" stroke="#1d2a35" stroke-width="0.35"/>
<circle cx="183.91" cy="178.14" r="2.5" fill="#d8007c" stroke="#1d2a35" stroke-width="0.35"/>
<circle cx="128.9" cy="178.77" r="2.5" fill="#d8007c" stroke="#1d2a35" stroke-width="0.35"/>
<circle cx="190.49" cy="180.36" r="2.5" fill="#d8007c" stroke="#1d2a35" stroke-width="0.35"/>
<circle cx="123.1" cy="178.58" r="2.5" fill="#d8007c" stroke="#1d2a35" stroke-width="0.35"/>
<circle cx="156.59" cy="181.44" r="2.5" fill="#d8007c" stroke="#1d2a35" stroke-width="0.35"/>
<circle cx="176.96" cy="179.52" r="2.5" fill="#d8007c" stroke="#1d2a35" stroke-width="0.35"/>
<circle cx="148.44" cy="178.99" r="2.5" fill="#d8007c" stroke="#1d2a35" stroke-width="0.35"/>
<circle cx="203.38" cy="178.28" r="2.5" fill="#d8007c" stroke="#1d2a35" stroke-width="0.35"/>
<circle cx="178.28" cy="179.57" r="2.5" fill="#d8007c" stroke="#1d2a35" stroke-width="0.35"/>
<circle cx="168.42" cy="175.28" r="2.5" fill="#d8007c" stroke="#1d2a35" stroke-width="0.35"/>
<circle cx="202.56" cy="178.5" r="2.5" fill="#d8007c" stroke="#1d2a35" stroke-width="0.35"/>
<circle cx="149.03" cy="183.33" r="2.5" fill="#d8007c" stroke="#1d2a35" stroke-width="0.35"/>
<circle cx="184.95" cy="174.98" r="2.5" fill="#d8007c" stroke="#1d2a35" stroke-width="0.35"/>
<circle cx="123.19" cy="178.29" r="2.5" fill="#d8007c" stroke="#1d2a35" stroke-width="0.35"/>
<circle cx="124.61" cy="178.19" r="2.5" fill="#d8007c" stroke="#1d2a35" stroke-width="0.35"/>
<circle cx="152" cy="178.54" r="2.5" fill="#d8007c" stroke="#1d2a35" stroke-width="0.35"/>
<circle cx="196.63" cy="177.23" r="2.5" fill="#d8007c" stroke="#1d2a35" stroke-width="0.35"/>
<circle cx="174.56" cy="182.45" r="2.5" fill="#d8007c" stroke="#1d2a35" stroke-width="0.35"/>
<circle cx="127.66" cy="178.72" r="2.5" fill="#d8007c" stroke="#1d2a35" stroke-width="0.35"/>
<circle cx="200.13" cy="178.75" r="2.5" fill="#d8007c" stroke="#1d2a35" stroke-width="0.35"/>
<circle cx="142.17" cy="176.32" r="2.5" fill="#d8007c" stroke="#1d2a35" stroke-width="0.35"/>
<circle cx="144.54" cy="177.84" r="2.5" fill="#d8007c" stroke="#1d2a35" stroke-width="0.35"/>
<circle cx="153.73" cy="177.62" r="2.5" fill="#d8007c" stroke="#1d2a35" stroke-width="0.35"/>
<circle cx="124.16" cy="178.59" r="2.5" fill="#d8007c" stroke="#1d2a35" stroke-width="0.35"/>
<circle cx="151.33" cy="181.12" r="2.5" fill="#d8007c" stroke="#1d2a35" stroke-width="0.35"/>
<circle cx="185.78" cy="179.18" r="2.5" fill="#d8007c" stroke="#1d2a35" stroke-width="0.35"/>
<circle cx="145.9" cy="181.99" r="2.5" fill="#d8007c" stroke="#1d2a35" stroke-width="0.35"/>
<circle cx="135.78" cy="178.39" r="2.5" fill="#d8007c" stroke="#1d2a35" stroke-width="0.35"/>
<circle cx="166.06" cy="174.03" r="2.5" fill="#d8007c" stroke="#1d2a35" stroke-width="0.35"/>
<circle cx="132.68" cy="178.76" r="2.5" fill="#d8007c" stroke="#1d2a35" stroke-width="0.35"/>
<circle cx="134.22" cy="178.99" r="2.5" fill="#d8007c" stroke="#1d2a35" stroke-width="0.35"/>
<circle cx="144.93" cy="181.94" r="2.5" fill="#d8007c" stroke="#1d2a35" stroke-width="0.35"/>
<circle cx="129.7" cy="178.78" r="2.5" fill="#d8007c" stroke="#1d2a35" stroke-width="0.35"/>
<circle cx="188.47" cy="178.15" r="2.5" fill="#d8007c" stroke="#1d2a35" stroke-width="0.35"/>
<circle cx="199.62" cy="178.95" r="2.5" fill="#d8007c" stroke="#1d2a35" stroke-width="0.35"/>
<circle cx="177.27" cy="178.88" r="2.5" fill="#d8007c" stroke="#1d2a35" stroke-width="0.35"/>
<circle cx="172.54" cy="175.21" r="2.5" fill="#d8007c" stroke="#1d2a35" stroke-width="0.35"/>
<circle cx="191.81" cy="177.77" r="2.5" fill="#d8007c" stroke="#1d2a35" stroke-width="0.35"/>
<circle cx="181.35" cy="173.57" r="2.5" fill="#d8007c" stroke="#1d2a35" stroke-width="0.35"/>
<circle cx="126.34" cy="178.22" r="2.5" fill="#d8007c" stroke="#1d2a35" stroke-width="0.35"/>
<circle cx="168.89" cy="176.87" r="2.5" fill="#d8007c" stroke="#1d2a35" stroke-width="0.35"/>
<circle cx="125" cy="178.58" r="2.5" fill="#d8007c" stroke="#1d2a35" stroke-width="0.35"/>
<circle cx="130.5" cy="178.01" r="2.5" fill="#d8007c" stroke="#1d2a35" stroke-width="0.35"/>
<circle cx="198.39" cy="177.84" r="2.5" fill="#d8007c" stroke="#1d2a35" stroke-width="0.35"/>
<circle cx="139.4" cy="177.64" r="2.5" fill="#d8007c" stroke="#1d2a35" stroke-width="0.35"/>
<circle cx="164.34" cy="183.5" r="2.5" fill="#d8007c" stroke="#1d2a35" stroke-width="0.35"/>
<circle cx="191.91" cy="179.55" r="2.5" fill="#d8007c" stroke="#1d2a35" stroke-width="0.35"/>
<circle cx="173.57" cy="175.04" r="2.5" fill="#d8007c" stroke="#1d2a35" stroke-width="0.35"/>
<circle cx="176.13" cy="173.3" r="2.5" fill="#d8007c" stroke="#1d2a35" stroke-width="0.35"/>
<circle cx="163.09" cy="178.29" r="2.5" fill="#d8007c" stroke="#1d2a35" stroke-width="0.35"/>
<circle cx="172.48" cy="174.25" r="2.5" fill="#d8007c" stroke="#1d2a35" stroke-width="0.35"/>
<circle cx="189.32" cy="178.39" r="2.5" fill="#d8007c" stroke="#1d2a35" stroke-width="0.35"/>
<circle cx="149.71" cy="180" r="2.5" fill="#d8007c" stroke="#1d2a35" stroke-width="0.35"/>
<circle cx="200.33" cy="178.6" r="2.5" fill="#d8007c" stroke="#1d2a35" stroke-width="0.35"/>
<circle cx="201.87" cy="178.69" r="2.5" fill="#d8007c" stroke="#1d2a35" stroke-width="0.35"/>
<circle cx="199.81" cy="178.66" r="2.5" fill="#d8007c" stroke="#1d2a35" stroke-width="0.35"/>
<circle cx="150.71" cy="179.15" r="2.5" fill="#d8007c" stroke="#1d2a35" stroke-width="0.35"/>
<circle cx="185.52" cy="180.07" r="2.5" fill="#d8007c" stroke="#1d2a35" stroke-width="0.35"/>
<circle cx="142.62" cy="178.32" r="2.5" fill="#d8007c" stroke="#1d2a35" stroke-width="0.35"/>
<circle cx="153.8" cy="175.45" r="2.5" fill="#d8007c" stroke="#1d2a35" stroke-width="0.35"/>
<circle cx="147.73" cy="178.84" r="2.5" fill="#d8007c" stroke="#1d2a35" stroke-width="0.35"/>
<circle cx="131.08" cy="178.63" r="2.5" fill="#d8007c" stroke="#1d2a35" stroke-width="0.35"/>
<circle cx="201.84" cy="178.3" r="2.5" fill="#d8007c" stroke="#1d2a35" stroke-width="0.35"/>
<circle cx="127.68" cy="178.22" r="2.5" fill="#d8007c" stroke="#1d2a35" stroke-width="0.35"/>
<circle cx="200.15" cy="177.89" r="2.5" fill="#d8007c" stroke="#1d2a35" stroke-width="0.35"/>
<circle cx="140.26" cy="176.95" r="2.5" fill="#d8007c" stroke="#1d2a35" stroke-width="0.35"/>
<circle cx="137.09" cy="178.14" r="2.5" fill="#d8007c" stroke="#1d2a35" stroke-width="0.35"/>
<circle cx="158.11" cy="180.77" r="2.5" fill="#d8007c" stroke="#1d2a35" stroke-width="0.35"/>
<circle cx="152.84" cy="178.03" r="2.5" fill="#d8007c" stroke="#1d2a35" stroke-width="0.35"/>
<circle cx="133.36" cy="178.67" r="2.5" fill="#d8007c" stroke="#1d2a35" stroke-width="0.35"/>
<circle cx="151.57" cy="182.38" r="2.5" fill="#d8007c" stroke="#1d2a35" stroke-width="0.35"/>
<circle cx="195.78" cy="177.88" r="2.5" fill="#d8007c" stroke="#1d2a35" stroke-width="0.35"/>
<circle cx="197.14" cy="178.94" r="2.5" fill="#d8007c" stroke="#1d2a35" stroke-width="0.35"/>
<circle cx="188.23" cy="177.32" r="2.5" fill="#d8007c" stroke="#1d2a35" stroke-width="0.35"/>
<circle cx="189.05" cy="176.09" r="2.5" fill="#d8007c" stroke="#1d2a35" stroke-width="0.35"/>
<circle cx="150.02" cy="177.95" r="2.5" fill="#d8007c" stroke="#1d2a35" stroke-width="0.35"/>
<circle cx="179.71" cy="179.39" r="2.5" fill="#d8007c" stroke="#1d2a35" stroke-width="0.35"/>
<circle cx="161.72" cy="180.6" r="2.5" fill="#d8007c" stroke="#1d2a35" stroke-width="0.35"/>
<circle cx="176.32" cy="182.38" r="2.5" fill="#d8007c" stroke="#1d2a35" stroke-width="0.35"/>
<circle cx="154.1" cy="183.5" r="2.5" fill="#d8007c" stroke="#1d2a35" stroke-width="0.35"/>
<circle cx="130.07" cy="178.21" r="2.5" fill="#d8007c" stroke="#1d2a35" stroke-width="0.35"/>
<circle cx="153.85" cy="174.61" r="2.5" fill="#d8007c" stroke="#1d2a35" stroke-width="0.35"/>
<circle cx="125.6" cy="178.59" r="2.5" fill="#d8007c" stroke="#1d2a35" stroke-width="0.35"/>
<circle cx="186.79" cy="179.21" r="2.5" fill="#d8007c" stroke="#1d2a35" stroke-width="0.35"/>
<circle cx="194.99" cy="178.03" r="2.5" fill="#d8007c" stroke="#1d2a35" stroke-width="0.35"/>
<circle cx="155.77" cy="183.24" r="2.5" fill="#d8007c" stroke="#1d2a35" stroke-width="0.35"/>
<circle cx="123.34" cy="178.36" r="2.5" fill="#d8007c" stroke="#1d2a35" stroke-width="0.35"/>
<circle cx="169.37" cy="176.05" r="2.5" fill="#d8007c" stroke="#1d2a35" stroke-width="0.35"/>
<circle cx="173.07" cy="183.5" r="2.5" fill="#d8007c" stroke="#1d2a35" stroke-width="0.35"/>
<circle cx="146.03" cy="174.6" r="2.5" fill="#d8007c" stroke="#1d2a35" stroke-width="0.35"/>
<circle cx="194.97" cy="176.94" r="2.5" fill="#d8007c" stroke="#1d2a35" stroke-width="0.35"/>
<circle cx="131.1" cy="178.14" r="2.5" fill="#d8007c" stroke="#1d2a35" stroke-width="0.35"/>
<circle cx="140.55" cy="180.2" r="2.5" fill="#d8007c" stroke="#1d2a35" stroke-width="0.35"/>
<circle cx="131.36" cy="178.08" r="2.5" fill="#d8007c" stroke="#1d2a35" stroke-width="0.35"/>
<circle cx="130.88" cy="178.46" r="2.5" fill="#d8007c" stroke="#1d2a35" stroke-width="0.35"/>
<circle cx="197.07" cy="177.66" r="2.5" fill="#d8007c" stroke="#1d2a35" stroke-width="0.35"/>
<circle cx="148.55" cy="173.42" r="2.5" fill="#d8007c" stroke="#1d2a35" stroke-width="0.35"/>
<circle cx="202.44" cy="178.16" r="2.5" fill="#d8007c" stroke="#1d2a35" stroke-width="0.35"/>
<circle cx="193.12" cy="179.17" r="2.5" fill="#d8007c" stroke="#1d2a35" stroke-width="0.35"/>
<circle cx="148.48" cy="179.61" r="2.5" fill="#d8007c" stroke="#1d2a35" stroke-width="0.35"/>
<circle cx="198.25" cy="177.38" r="2.5" fill="#d8007c" stroke="#1d2a35" stroke-width="0.35"/>
<circle cx="187.15" cy="179.95" r="2.5" fill="#d8007c" stroke="#1d2a35" stroke-width="0.35"/>
<circle cx="200.89" cy="178.87" r="2.5" fill="#d8007c" stroke="#1d2a35" stroke-width="0.35"/>
<circle cx="163.54" cy="173.31" r="2.5" fill="#d8007c" stroke="#1d2a35" stroke-width="0.35"/>
<circle cx="180.87" cy="182.87" r="2.5" fill="#d8007c" stroke="#1d2a35" stroke-width="0.35"/>
<circle cx="131.92" cy="178.51" r="2.5" fill="#d8007c" stroke="#1d2a35" stroke-width="0.35"/>
<circle cx="147.37" cy="182.23" r="2.5" fill="#d8007c" stroke="#1d2a35" stroke-width="0.35"/>
<circle cx="147.23" cy="181.94" r="2.5" fill="#d8007c" stroke="#1d2a35" stroke-width="0.35"/>
<circle cx="166.34" cy="179.22" r="2.5" fill="#d8007c" stroke="#1d2a35" stroke-width="0.35"/>
<circle cx="181.18" cy="183.23" r="2.5" fill="#d8007c" stroke="#1d2a35" stroke-width="0.35"/>
<circle cx="125.7" cy="178.36" r="2.5" fill="#d8007c" stroke="#1d2a35" stroke-width="0.35"/>
<circle cx="154.22" cy="174.72" r="2.5" fill="#d8007c" stroke="#1d2a35" stroke-width="0.35"/>
<circle cx="134.77" cy="177.81" r="2.5" fill="#d8007c" stroke="#1d2a35" stroke-width="0.35"/>
<circle cx="191.85" cy="177.22" r="2.5" fill="#d8007c" stroke="#1d2a35" stroke-width="0.35"/>
<circle cx="168.71" cy="175.28" r="2.5" fill="#d8007c" stroke="#1d2a35" stroke-width="0.35"/>
<circle cx="142.46" cy="174.6" r="2.5" fill="#d8007c" stroke="#1d2a35" stroke-width="0.35"/>
<circle cx="200.91" cy="178.67" r="2.5" fill="#d8007c" stroke="#1d2a35" stroke-width="0.35"/>
<circle cx="201.13" cy="178.7" r="2.5" fill="#d8007c" stroke="#1d2a35" stroke-width="0.35"/>
<circle cx="137.26" cy="178.57" r="2.5" fill="#d8007c" stroke="#1d2a35" stroke-width="0.35"/>
<circle cx="196.54" cy="179.46" r="2.5" fill="#d8007c" stroke="#1d2a35" stroke-width="0.35"/>
<circle cx="188.45" cy="180.27" r="2.5" fill="#d8007c" stroke="#1d2a35" stroke-width="0.35"/>
<circle cx="185.1" cy="178.57" r="2.5" fill="#d8007c" stroke="#1d2a35" stroke-width="0.35"/>
<circle cx="125.9" cy="178.68" r="2.5" fill="#d8007c" stroke="#1d2a35" stroke-width="0.35"/>
<circle cx="124.93" cy="178.52" r="2.5" fill="#d8007c" stroke="#1d2a35" stroke-width="0.35"/>
<circle cx="202.09" cy="178.34" r="2.5" fill="#d8007c" stroke="#1d2a35" stroke-width="0.35"/>
<circle cx="183.81" cy="182.65" r="2.5" fill="#d8007c" stroke="#1d2a35" stroke-width="0.35"/>
<circle cx="194.18" cy="179.27" r="2.5" fill="#d8007c" stroke="#1d2a35" stroke-width="0.35"/>
<circle cx="132.11" cy="178.54" r="2.5" fill="#d8007c" stroke="#1d2a35" stroke-width="0.35"/>
<circle cx="176.33" cy="175.89" r="2.5" fill="#d8007c" stroke="#1d2a35" stroke-width="0.35"/>
<circle cx="133.68" cy="178.3" r="2.5" fill="#d8007c" stroke="#1d2a35" stroke-width="0.35"/>
<circle cx="124.86" cy="178.19" r="2.5" fill="#d8007c" stroke="#1d2a35" stroke-width="0.35"/>
<circle cx="172.8" cy="175.04" r="2.5" fill="#d8007c" stroke="#1d2a35" stroke-width="0.35"/>
<circle cx="195.87" cy="177.83" r="2.5" fill="#d8007c" stroke="#1d2a35" stroke-width="0.35"/>
<circle cx="175.48" cy="180.43" r="2.5" fill="#d8007c" stroke="#1d2a35" stroke-width="0.35"/>
<circle cx="125.29" cy="178.28" r="2.5" fill="#d8007c" stroke="#1d2a35" stroke-width="0.35"/>
<circle cx="123.88" cy="178.39" r="2.5" fill="#d8007c" stroke="#1d2a35" stroke-width="0.35"/>
<circle cx="156.09" cy="183.5" r="2.5" fill="#d8007c" stroke="#1d2a35" stroke-width="0.35"/>
<circle cx="139.78" cy="177.56" r="2.5" fill="#d8007c" stroke="#1d2a35" stroke-width="0.35"/>
<circle cx="191.6" cy="179.19" r="2.5" fill="#d8007c" stroke="#1d2a35" stroke-width="0.35"/>
<circle cx="122.97" cy="178.37" r="2.5" fill="#d8007c" stroke="#1d2a35" stroke-width="0.35"/>
<circle cx="155.28" cy="179.41" r="2.5" fill="#d8007c" stroke="#1d2a35" stroke-width="0.35"/>
<circle cx="151.13" cy="183.5" r="2.5" fill="#d8007c" stroke="#1d2a35" stroke-width="0.35"/>
<circle cx="156.22" cy="181.91" r="2.5" fill="#d8007c" stroke="#1d2a35" stroke-width="0.35"/>
<circle cx="198.96" cy="178.7" r="2.5" fill="#d8007c" stroke="#1d2a35" stroke-width="0.35"/>
<circle cx="157.42" cy="180.75" r="2.5" fill="#d8007c" stroke="#1d2a35" stroke-width="0.35"/>
<circle cx="150.74" cy="180.26" r="2.5" fill="#d8007c" stroke="#1d2a35" stroke-width="0.35"/>
<circle cx="147.84" cy="182.46" r="2.5" fill="#d8007c" stroke="#1d2a35" stroke-width="0.35"/>
<circle cx="143.59" cy="175.19" r="2.5" fill="#d8007c" stroke="#1d2a35" stroke-width="0.35"/>
<circle cx="159.36" cy="173.3" r="2.5" fill="#d8007c" stroke="#1d2a35" stroke-width="0.35"/>
<circle cx="137.58" cy="178.9" r="2.5" fill="#d8007c" stroke="#1d2a35" stroke-width="0.35"/>
<circle cx="193.07" cy="178.58" r="2.5" fill="#d8007c" stroke="#1d2a35" stroke-width="0.35"/>
<circle cx="176.85" cy="180.9" r="2.5" fill="#d8007c" stroke="#1d2a35" stroke-width="0.35"/>
<circle cx="176.24" cy="179.73" r="2.5" fill="#d8007c" stroke="#1d2a35" stroke-width="0.35"/>
<circle cx="165.71" cy="175.83" r="2.5" fill="#d8007c" stroke="#1d2a35" stroke-width="0.35"/>
<circle cx="172.79" cy="176.81" r="2.5" fill="#d8007c" stroke="#1d2a35" stroke-width="0.35"/>
<circle cx="195.74" cy="177.08" r="2.5" fill="#d8007c" stroke="#1d2a35" stroke-width="0.35"/>
<circle cx="194.51" cy="179.79" r="2.5" fill="#d8007c" stroke="#1d2a35" stroke-width="0.35"/>
<circle cx="172.97" cy="177.37" r="2.5" fill="#d8007c" stroke="#1d2a35" stroke-width="0.35"/>
<circle cx="134.61" cy="178.55" r="2.5" fill="#d8007c" stroke="#1d2a35" stroke-width="0.35"/>
<circle cx="173.61" cy="174.51" r="2.5" fill="#d8007c" stroke="#1d2a35" stroke-width="0.35"/>
<circle cx="201.86" cy="178.38" r="2.5" fill="#d8007c" stroke="#1d2a35" stroke-width="0.35"/>
<circle cx="138.06" cy="178.91" r="2.5" fill="#d8007c" stroke="#1d2a35" stroke-width="0.35"/>
<circle cx="147.94" cy="183.38" r="2.5" fill="#d8007c" stroke="#1d2a35" stroke-width="0.35"/>
<circle cx="160.83" cy="182.13" r="2.5" fill="#d8007c" stroke="#1d2a35" stroke-width="0.35"/>
<circle cx="179.13" cy="177.67" r="2.5" fill="#d8007c" stroke="#1d2a35" stroke-width="0.35"/>
<circle cx="191.12" cy="179.82" r="2.5" fill="#d8007c" stroke="#1d2a35" stroke-width="0.35"/>
<circle cx="181.47" cy="173.94" r="2.5" fill="#d8007c" stroke="#1d2a35" stroke-width="0.35"/>
<circle cx="174.88" cy="179.55" r="2.5" fill="#d8007c" stroke="#1d2a35" stroke-width="0.35"/>
<circle cx="163" cy="174.87" r="2.5" fill="#d8007c" stroke="#1d2a35" stroke-width="0.35"/>
<circle cx="191.25" cy="177.86" r="2.5" fill="#d8007c" stroke="#1d2a35" stroke-width="0.35"/>
<circle cx="189.01" cy="179.68" r="2.5" fill="#d8007c" stroke="#1d2a35" stroke-width="0.35"/>
<circle cx="182.7" cy="181.26" r="2.5" fill="#d8007c" stroke="#1d2a35" stroke-width="0.35"/>
<circle cx="190.87" cy="178.98" r="2.5" fill="#d8007c" stroke="#1d2a35" stroke-width="0.35"/>
<circle cx="201.71" cy="178.49" r="2.5" fill="#d8007c" stroke="#1d2a35" stroke-width="0.35"/>
<circle cx="189" cy="176.2" r="2.5" fill="#d8007c" stroke="#1d2a35" stroke-width="0.35"/>
<circle cx="176.26" cy="181.9" r="2.5" fill="#d8007c" stroke="#1d2a35" stroke-width="0.35"/>
<circle cx="161.09" cy="182.25" r="2.5" fill="#d8007c" stroke="#1d2a35" stroke-width="0.35"/>
<circle cx="180.79" cy="173.69" r="2.5" fill="#d8007c" stroke="#1d2a35" stroke-width="0.35"/>
<circle cx="160.52" cy="178.67" r="2.5" fill="#d8007c" stroke="#1d2a35" stroke-width="0.35"/>
<circle cx="128.57" cy="178.03" r="2.5" fill="#d8007c" stroke="#1d2a35" stroke-width="0.35"/>
<circle cx="153.78" cy="174.01" r="2.5" fill="#d8007c" stroke="#1d2a35" stroke-width="0.35"/>
<circle cx="132.17" cy="177.94" r="2.5" fill="#d8007c" stroke="#1d2a35" stroke-width="0.35"/>
<circle cx="137.14" cy="178.63" r="2.5" fill="#d8007c" stroke="#1d2a35" stroke-width="0.35"/>
<circle cx="147.28" cy="180.52" r="2.5" fill="#d8007c" stroke="#1d2a35" stroke-width="0.35"/>
<circle cx="124.94" cy="178.3" r="2.5" fill="#d8007c" stroke="#1d2a35" stroke-width="0.35"/>
<circle cx="140.31" cy="177.57" r="2.5" fill="#d8007c" stroke="#1d2a35" stroke-width="0.35"/>
<circle cx="167.26" cy="182.7" r="2.5" fill="#d8007c" stroke="#1d2a35" stroke-width="0.35"/>
<circle cx="162.34" cy="174.25" r="2.5" fill="#d8007c" stroke="#1d2a35" stroke-width="0.35"/>
<circle cx="162.59" cy="173.72" r="2.5" fill="#d8007c" stroke="#1d2a35" stroke-width="0.35"/>
<circle cx="139.5" cy="178.37" r="2.5" fill="#d8007c" stroke="#1d2a35" stroke-width="0.35"/>
<circle cx="154.27" cy="175.77" r="2.5" fill="#d8007c" stroke="#1d2a35" stroke-width="0.35"/>
<circle cx="145.38" cy="180.13" r="2.5" fill="#d8007c" stroke="#1d2a35" stroke-width="0.35"/>
<circle cx="175.41" cy="180.94" r="2.5" fill="#d8007c" stroke="#1d2a35" stroke-width="0.35"/>
<circle cx="199.11" cy="177.86" r="2.5" fill="#d8007c" stroke="#1d2a35" stroke-width="0.35"/>
<circle cx="160.51" cy="183.38" r="2.5" fill="#d8007c" stroke="#1d2a35" stroke-width="0.35"/>
<circle cx="196.77" cy="177.29" r="2.5" fill="#d8007c" stroke="#1d2a35" stroke-width="0.35"/>
<circle cx="202.57" cy="178.58" r="2.5" fill="#d8007c" stroke="#1d2a35" stroke-width="0.35"/>
<circle cx="131.33" cy="178.51" r="2.5" fill="#d8007c" stroke="#1d2a35" stroke-width="0.35"/>
<circle cx="142.42" cy="181.83" r="2.5" fill="#d8007c" stroke="#1d2a35" stroke-width="0.35"/>
<circle cx="200.2" cy="178.97" r="2.5" fill="#d8007c" stroke="#1d2a35" stroke-width="0.35"/>
<circle cx="172.67" cy="174.89" r="2.5" fill="#d8007c" stroke="#1d2a35" stroke-width="0.35"/>
<circle cx="184.23" cy="178.59" r="2.5" fill="#d8007c" stroke="#1d2a35" stroke-width="0.35"/>
<circle cx="198.18" cy="178.94" r="2.5" fill="#d8007c" stroke="#1d2a35" stroke-width="0.35"/>
<circle cx="122.96" cy="178.45" r="2.5" fill="#d8007c" stroke="#1d2a35" stroke-width="0.35"/>
<circle cx="184.51" cy="177.26" r="2.5" fill="#d8007c" stroke="#1d2a35" stroke-width="0.35"/>
<circle cx="142.87" cy="175.29" r="2.5" fill="#d8007c" stroke="#1d2a35" stroke-width="0.35"/>
<circle cx="155.63" cy="182.92" r="2.5" fill="#d8007c" stroke="#1d2a35" stroke-width="0.35"/>
<circle cx="178.98" cy="180.76" r="2.5" fill="#d8007c" stroke="#1d2a35" stroke-width="0.35"/>
<circle cx="132.05" cy="178.86" r="2.5" fill="#d8007c" stroke="#1d2a35" stroke-width="0.35"/>
<circle cx="150.61" cy="178.48" r="2.5" fill="#d8007c" stroke="#1d2a35" stroke-width="0.35"/>
<circle cx="168.76" cy="176.09" r="2.5" fill="#d8007c" stroke="#1d2a35" stroke-width="0.35"/>
<circle cx="133.86" cy="178.25" r="2.5" fill="#d8007c" stroke="#1d2a35" stroke-width="0.35"/>
<circle cx="175.78" cy="174.66" r="2.5" fill="#d8007c" stroke="#1d2a35" stroke-width="0.35"/>
<circle cx="137.48" cy="178.46" r="2.5" fill="#d8007c" stroke="#1d2a35" stroke-width="0.35"/>
<circle cx="143.24" cy="177.5" r="2.5" fill="#d8007c" stroke="#1d2a35" stroke-width="0.35"/>
<circle cx="141.77" cy="177.25" r="2.5" fill="#d8007c" stroke="#1d2a35" stroke-width="0.35"/>
<circle cx="133.67" cy="177.89" r="2.5" fill="#d8007c" stroke="#1d2a35" stroke-width="0.35"/>
<circle cx="184.91" cy="180.55" r="2.5" fill="#d8007c" stroke="#1d2a35" stroke-width="0.35"/>
<circle cx="148.91" cy="179.69" r="2.5" fill="#d8007c" stroke="#1d2a35" stroke-width="0.35"/>
<circle cx="176.41" cy="176.37" r="2.5" fill="#d8007c" stroke="#1d2a35" stroke-width="0.35"/>
<circle cx="182.17" cy="176.36" r="2.5" fill="#d8007c" stroke="#1d2a35" stroke-width="0.35"/>
<circle cx="126.35" cy="178.58" r="2.5" fill="#d8007c" stroke="#1d2a35" stroke-width="0.35"/>
<circle cx="149.49" cy="173.63" r="2.5" fill="#d8007c" stroke="#1d2a35" stroke-width="0.35"/>
<circle cx="147.56" cy="175.77" r="2.5" fill="#d8007c" stroke="#1d2a35" stroke-width="0.35"/>
<circle cx="151.93" cy="183" r="2.5" fill="#d8007c" stroke="#1d2a35" stroke-width="0.35"/>
<circle cx="194.92" cy="178.85" r="2.5" fill="#d8007c" stroke="#1d2a35" stroke-width="0.35"/>
<circle cx="201.14" cy="177.99" r="2.5" fill="#d8007c" stroke="#1d2a35" stroke-width="0.35"/>
<circle cx="168.05" cy="175.82" r="2.5" fill="#d8007c" stroke="#1d2a35" stroke-width="0.35"/>
<circle cx="152.13" cy="179.18" r="2.5" fill="#d8007c" stroke="#1d2a35" stroke-width="0.35"/>
<circle cx="171.17" cy="178.85" r="2.5" fill="#d8007c" stroke="#1d2a35" stroke-width="0.35"/>
<circle cx="159.42" cy="183.5" r="2.5" fill="#d8007c" stroke="#1d2a35" stroke-width="0.35"/>
<circle cx="184.53" cy="175.54" r="2.5" fill="#d8007c" stroke="#1d2a35" stroke-width="0.35"/>
<circle cx="167.94" cy="180.04" r="2.5" fill="#d8007c" stroke="#1d2a35" stroke-width="0.35"/>
<circle cx="149.06" cy="181.81" r="2.5" fill="#d8007c" stroke="#1d2a35" stroke-width="0.35"/>
<circle cx="125.16" cy="178.29" r="2.5" fill="#d8007c" stroke="#1d2a35" stroke-width="0.35"/>
<circle cx="178.51" cy="173.3" r="2.5" fill="#d8007c" stroke="#1d2a35" stroke-width="0.35"/>
<circle cx="174.02" cy="176.06" r="2.5" fill="#d8007c" stroke="#1d2a35" stroke-width="0.35"/>
<circle cx="162.75" cy="183.31" r="2.5" fill="#d8007c" stroke="#1d2a35" stroke-width="0.35"/>
<circle cx="157.75" cy="181.46" r="2.5" fill="#d8007c" stroke="#1d2a35" stroke-width="0.35"/>
<circle cx="176.38" cy="182.37" r="2.5" fill="#d8007c" stroke="#1d2a35" stroke-width="0.35"/>
<circle cx="183.29" cy="177.58" r="2.5" fill="#d8007c" stroke="#1d2a35" stroke-width="0.35"/>
<circle cx="154.1" cy="180.26" r="2.5" fill="#d8007c" stroke="#1d2a35" stroke-width="0.35"/>
<circle cx="124.52" cy="178.33" r="2.5" fill="#d8007c" stroke="#1d2a35" stroke-width="0.35"/>
<circle cx="197.45" cy="179.42" r="2.5" fill="#d8007c" stroke="#1d2a35" stroke-width="0.35"/>
<circle cx="168.99" cy="180.52" r="2.5" fill="#d8007c" stroke="#1d2a35" stroke-width="0.35"/>
<circle cx="167.9" cy="182.29" r="2.5" fill="#d8007c" stroke="#1d2a35" stroke-width="0.35"/>
<circle cx="154.99" cy="182.85" r="2.5" fill="#d8007c" stroke="#1d2a35" stroke-width="0.35"/>
<circle cx="137.29" cy="177.66" r="2.5" fill="#d8007c" stroke="#1d2a35" stroke-width="0.35"/>
<circle cx="173.42" cy="177.8" r="2.5" fill="#d8007c" stroke="#1d2a35" stroke-width="0.35"/>
<circle cx="128.17" cy="178.72" r="2.5" fill="#d8007c" stroke="#1d2a35" stroke-width="0.35"/>
<circle cx="158.08" cy="180.66" r="2.5" fill="#d8007c" stroke="#1d2a35" stroke-width="0.35"/>
<circle cx="188.02" cy="178.54" r="2.5" fill="#d8007c" stroke="#1d2a35" stroke-width="0.35"/>
<circle cx="127.27" cy="178.13" r="2.5" fill="#d8007c" stroke="#1d2a35" stroke-width="0.35"/>
<circle cx="135.96" cy="178.75" r="2.5" fill="#d8007c" stroke="#1d2a35" stroke-width="0.35"/>
<circle cx="123.04" cy="178.33" r="2.5" fill="#d8007c" stroke="#1d2a35" stroke-width="0.35"/>
<circle cx="149.02" cy="182.62" r="2.5" fill="#d8007c" stroke="#1d2a35" stroke-width="0.35"/>
<circle cx="179.66" cy="173.36" r="2.5" fill="#d8007c" stroke="#1d2a35" stroke-width="0.35"/>
<circle cx="172.82" cy="176.76" r="2.5" fill="#d8007c" stroke="#1d2a35" stroke-width="0.35"/>
<circle cx="192.77" cy="176.89" r="2.5" fill="#d8007c" stroke="#1d2a35" stroke-width="0.35"/>
<circle cx="159.66" cy="174.26" r="2.5" fill="#d8007c" stroke="#1d2a35" stroke-width="0.35"/>
<circle cx="127.18" cy="178.2" r="2.5" fill="#d8007c" stroke="#1d2a35" stroke-width="0.35"/>
<circle cx="186.1" cy="179.99" r="2.5" fill="#d8007c" stroke="#1d2a35" stroke-width="0.35"/>
<circle cx="128.18" cy="178.17" r="2.5" fill="#d8007c" stroke="#1d2a35" stroke-width="0.35"/>
<circle cx="166.5" cy="178.81" r="2.5" fill="#d8007c" stroke="#1d2a35" stroke-width="0.35"/>
<circle cx="167.93" cy="173.3" r="2.5" fill="#d8007c" stroke="#1d2a35" stroke-width="0.35"/>
<circle cx="146.51" cy="179.03" r="2.5" fill="#d8007c" stroke="#1d2a35" stroke-width="0.35"/>
<circle cx="161.99" cy="182.86" r="2.5" fill="#d8007c" stroke="#1d2a35" stroke-width="0.35"/>
<circle cx="182.37" cy="182.8" r="2.5" fill="#d8007c" stroke="#1d2a35" stroke-width="0.35"/>
<circle cx="139.61" cy="179.3" r="2.5" fill="#d8007c" stroke="#1d2a35" stroke-width="0.35"/>
<circle cx="137.78" cy="178.88" r="2.5" fill="#d8007c" stroke="#1d2a35" stroke-width="0.35"/>
<circle cx="135.83" cy="178.78" r="2.5" fill="#d8007c" stroke="#1d2a35" stroke-width="0.35"/>
<circle cx="199.46" cy="178.67" r="2.5" fill="#d8007c" stroke="#1d2a35" stroke-width="0.35"/>
<circle cx="183.65" cy="182.45" r="2.5" fill="#d8007c" stroke="#1d2a35" stroke-width="0.35"/>
<circle cx="162.01" cy="173.3" r="2.5" fill="#d8007c" stroke="#1d2a35" stroke-width="0.35"/>
<circle cx="197.39" cy="177.92" r="2.5" fill="#d8007c" stroke="#1d2a35" stroke-width="0.35"/>
<circle cx="139.65" cy="178.8" r="2.5" fill="#d8007c" stroke="#1d2a35" stroke-width="0.35"/>
<circle cx="187.62" cy="179.87" r="2.5" fill="#d8007c" stroke="#1d2a35" stroke-width="0.35"/>
<circle cx="156.98" cy="176" r="2.5" fill="#d8007c" stroke="#1d2a35" stroke-width="0.35"/>
<circle cx="162.74" cy="174.46" r="2.5" fill="#d8007c" stroke="#1d2a35" stroke-width="0.35"/>
<circle cx="139.67" cy="177.5" r="2.5" fill="#d8007c" stroke="#1d2a35" stroke-width="0.35"/>
<circle cx="194.29" cy="179.6" r="2.5" fill="#d8007c" stroke="#1d2a35" stroke-width="0.35"/>
<circle cx="192.95" cy="177.04" r="2.5" fill="#d8007c" stroke="#1d2a35" stroke-width="0.35"/>
<circle cx="123.2" cy="178.53" r="2.5" fill="#d8007c" stroke="#1d2a35" stroke-width="0.35"/>
<circle cx="176.28" cy="173.75" r="2.5" fill="#d8007c" stroke="#1d2a35" stroke-width="0.35"/>
<circle cx="178.56" cy="174.49" r="2.5" fill="#d8007c" stroke="#1d2a35" stroke-width="0.35"/>
<circle cx="128.52" cy="178.35" r="2.5" fill="#d8007c" stroke="#1d2a35" stroke-width="0.35"/>
<circle cx="172.45" cy="181.64" r="2.5" fill="#d8007c" stroke="#1d2a35" stroke-width="0.35"/>
<circle cx="191.76" cy="177.73" r="2.5" fill="#d8007c" stroke="#1d2a35" stroke-width="0.35"/>
<circle cx="129.36" cy="178.13" r="2.5" fill="#d8007c" stroke="#1d2a35" stroke-width="0.35"/>
<circle cx="170.64" cy="175.85" r="2.5" fill="#d8007c" stroke="#1d2a35" stroke-width="0.35"/>
<circle cx="189.91" cy="179.56" r="2.5" fill="#d8007c" stroke="#1d2a35" stroke-width="0.35"/>
<circle cx="202.07" cy="178.19" r="2.5" fill="#d8007c" stroke="#1d2a35" stroke-width="0.35"/>
<circle cx="194.76" cy="177.29" r="2.5" fill="#d8007c" stroke="#1d2a35" stroke-width="0.35"/>
<circle cx="162.65" cy="178.87" r="2.5" fill="#d8007c" stroke="#1d2a35" stroke-width="0.35"/>
<circle cx="141.29" cy="180.78" r="2.5" fill="#d8007c" stroke="#1d2a35" stroke-width="0.35"/>
<circle cx="165.18" cy="176.14" r="2.5" fill="#d8007c" stroke="#1d2a35" stroke-width="0.35"/>
<circle cx="197.09" cy="178.55" r="2.5" fill="#d8007c" stroke="#1d2a35" stroke-width="0.35"/>
<circle cx="147.01" cy="182.49" r="2.5" fill="#d8007c" stroke="#1d2a35" stroke-width="0.35"/>
<circle cx="188.78" cy="176.14" r="2.5" fill="#d8007c" stroke="#1d2a35" stroke-width="0.35"/>
<circle cx="157.51" cy="182.05" r="2.5" fill="#d8007c" stroke="#1d2a35" stroke-width="0.35"/>
<circle cx="158.93" cy="176.69" r="2.5" fill="#d8007c" stroke="#1d2a35" stroke-width="0.35"/>
<circle cx="132.9" cy="177.95" r="2.5" fill="#d8007c" stroke="#1d2a35" stroke-width="0.35"/>
<circle cx="189.53" cy="178.8" r="2.5" fill="#d8007c" stroke="#1d2a35" stroke-width="0.35"/>
<circle cx="127.19" cy="178.1" r="2.5" fill="#d8007c" stroke="#1d2a35" stroke-width="0.35"/>
<circle cx="171.11" cy="176.48" r="2.5" fill="#d8007c" stroke="#1d2a35" stroke-width="0.35"/>
<circle cx="151.16" cy="177.6" r="2.5" fill="#d8007c" stroke="#1d2a35" stroke-width="0.35"/>
<circle cx="181.58" cy="180.46" r="2.5" fill="#d8007c" stroke="#1d2a35" stroke-width="0.35"/>
<circle cx="194.83" cy="179.12" r="2.5" fill="#d8007c" stroke="#1d2a35" stroke-width="0.35"/>
<circle cx="185.94" cy="179.77" r="2.5" fill="#d8007c" stroke="#1d2a35" stroke-width="0.35"/>
<circle cx="178" cy="173.96" r="2.5" fill="#d8007c" stroke="#1d2a35" stroke-width="0.35"/>
<circle cx="153.14" cy="181.94" r="2.5" fill="#d8007c" stroke="#1d2a35" stroke-width="0.35"/>
<circle cx="134.66" cy="178.09" r="2.5" fill="#d8007c" stroke="#1d2a35" stroke-width="0.35"/>
<circle cx="190.38" cy="178.33" r="2.5" fill="#d8007c" stroke="#1d2a35" stroke-width="0.35"/>
<circle cx="183.66" cy="174.15" r="2.5" fill="#d8007c" stroke="#1d2a35" stroke-width="0.35"/>
<circle cx="128.81" cy="178.65" r="2.5" fill="#d8007c" stroke="#1d2a35" stroke-width="0.35"/>
<circle cx="178.41" cy="183.5" r="2.5" fill="#d8007c" stroke="#1d2a35" stroke-width="0.35"/>
<circle cx="158.62" cy="182.29" r="2.5" fill="#d8007c" stroke="#1d2a35" stroke-width="0.35"/>
<circle cx="127.53" cy="178.47" r="2.5" fill="#d8007c" stroke="#1d2a35" stroke-width="0.35"/>
<circle cx="185.82" cy="177.11" r="2.5" fill="#d8007c" stroke="#1d2a35" stroke-width="0.35"/>
<circle cx="181.25" cy="177.62" r="2.5" fill="#d8007c" stroke="#1d2a35" stroke-width="0.35"/>
<circle cx="141.47" cy="178.31" r="2.5" fill="#d8007c" stroke="#1d2a35" stroke-width="0.35"/>
<circle cx="147.1" cy="176.64" r="2.5" fill="#d8007c" stroke="#1d2a35" stroke-width="0.35"/>
<circle cx="152.77" cy="178.86" r="2.5" fill="#d8007c" stroke="#1d2a35" stroke-width="0.35"/>
<circle cx="142.7" cy="182.16" r="2.5" fill="#d8007c" stroke="#1d2a35" stroke-width="0.35"/>
<circle cx="176.96" cy="174.83" r="2.5" fill="#d8007c" stroke="#1d2a35" stroke-width="0.35"/>
<circle cx="175.67" cy="182.55" r="2.5" fill="#d8007c" stroke="#1d2a35" stroke-width="0.35"/>
<circle cx="193.52" cy="177.79" r="2.5" fill="#d8007c" stroke="#1d2a35" stroke-width="0.35"/>
<circle cx="187.28" cy="178.32" r="2.5" fill="#d8007c" stroke="#1d2a35" stroke-width="0.35"/>
<circle cx="182.54" cy="182.3" r="2.5" fill="#d8007c" stroke="#1d2a35" stroke-width="0.35"/>
<circle cx="192.03" cy="176.52" r="2.5" fill="#d8007c" stroke="#1d2a35" stroke-width="0.35"/>
<circle cx="137.25" cy="177.96" r="2.5" fill="#d8007c" stroke="#1d2a35" stroke-width="0.35"/>
<circle cx="163.98" cy="176.21" r="2.5" fill="#d8007c" stroke="#1d2a35" stroke-width="0.35"/>
<circle cx="146.25" cy="175.52" r="2.5" fill="#d8007c" stroke="#1d2a35" stroke-width="0.35"/>
<circle cx="171.18" cy="178.68" r="2.5" fill="#d8007c" stroke="#1d2a35" stroke-width="0.35"/>
<circle cx="176.1" cy="183.5" r="2.5" fill="#d8007c" stroke="#1d2a35" stroke-width="0.35"/>
<circle cx="149.59" cy="178.78" r="2.5" fill="#d8007c" stroke="#1d2a35" stroke-width="0.35"/>
<circle cx="146.79" cy="176.65" r="2.5" fill="#d8007c" stroke="#1d2a35" stroke-width="0.35"/>
<circle cx="203.03" cy="178.52" r="2.5" fill="#d8007c" stroke="#1d2a35" stroke-width="0.35"/>
<circle cx="142.66" cy="181.33" r="2.5" fill="#d8007c" stroke="#1d2a35" stroke-width="0.35"/>
<circle cx="151.25" cy="180.92" r="2.5" fill="#d8007c" stroke="#1d2a35" stroke-width="0.35"/>
<circle cx="160.93" cy="180.63" r="2.5" fill="#d8007c" stroke="#1d2a35" stroke-width="0.35"/>
<circle cx="195.13" cy="178.99" r="2.5" fill="#d8007c" stroke="#1d2a35" stroke-width="0.35"/>
<circle cx="157.69" cy="174.68" r="2.5" fill="#d8007c" stroke="#1d2a35" stroke-width="0.35"/>
<circle cx="176.54" cy="176.67" r="2.5" fill="#d8007c" stroke="#1d2a35" stroke-width="0.35"/>
<circle cx="173.17" cy="180.16" r="2.5" fill="#d8007c" stroke="#1d2a35" stroke-width="0.35"/>
<circle cx="129.16" cy="178.34" r="2.5" fill="#d8007c" stroke="#1d2a35" stroke-width="0.35"/>
<circle cx="144.24" cy="182.07" r="2.5" fill="#d8007c" stroke="#1d2a35" stroke-width="0.35"/>
<circle cx="194.84" cy="179.86" r="2.5" fill="#d8007c" stroke="#1d2a35" stroke-width="0.35"/>
<circle cx="154.81" cy="177.39" r="2.5" fill="#d8007c" stroke="#1d2a35" stroke-width="0.35"/>
<circle cx="180.72" cy="178.92" r="2.5" fill="#d8007c" stroke="#1d2a35" stroke-width="0.35"/>
<circle cx="175.9" cy="176.52" r="2.5" fill="#d8007c" stroke="#1d2a35" stroke-width="0.35"/>
<circle cx="199.35" cy="177.76" r="2.5" fill="#d8007c" stroke="#1d2a35" stroke-width="0.35"/>
<circle cx="167.6" cy="180.38" r="2.5" fill="#d8007c" stroke="#1d2a35" stroke-width="0.35"/>
<circle cx="158.33" cy="174.69" r="2.5" fill="#d8007c" stroke="#1d2a35" stroke-width="0.35"/>
<circle cx="193.33" cy="180.05" r="2.5" fill="#d8007c" stroke="#1d2a35" stroke-width="0.35"/>
<circle cx="145.83" cy="173.86" r="2.5" fill="#d8007c" stroke="#1d2a35" stroke-width="0.35"/>
<circle cx="164.22" cy="177.63" r="2.5" fill="#d8007c" stroke="#1d2a35" stroke-width="0.35"/>
<circle cx="138.84" cy="177.69" r="2.5" fill="#d8007c" stroke="#1d2a35" stroke-width="0.35"/>
<circle cx="172.24" cy="181.78" r="2.5" fill="#d8007c" stroke="#1d2a35" stroke-width="0.35"/>
<circle cx="151.88" cy="180.52" r="2.5" fill="#d8007c" stroke="#1d2a35" stroke-width="0.35"/>
<circle cx="136.88" cy="177.89" r="2.5" fill="#d8007c" stroke="#1d2a35" stroke-width="0.35"/>
<circle cx="192.43" cy="177.68" r="2.5" fill="#d8007c" stroke="#1d2a35" stroke-width="0.35"/>
<circle cx="146.72" cy="182.64" r="2.5" fill="#d8007c" stroke="#1d2a35" stroke-width="0.35"/>
<circle cx="137.9" cy="179" r="2.5" fill="#d8007c" stroke="#1d2a35" stroke-width="0.35"/>
<circle cx="139.97" cy="179.22" r="2.5" fill="#d8007c" stroke="#1d2a35" stroke-width="0.35"/>
<circle cx="197.74" cy="177.91" r="2.5" fill="#d8007c" stroke="#1d2a35" stroke-width="0.35"/>
<circle cx="126.87" cy="178.59" r="2.5" fill="#d8007c" stroke="#1d2a35" stroke-width="0.35"/>
<circle cx="175.19" cy="180.3" r="2.5" fill="#d8007c" stroke="#1d2a35" stroke-width="0.35"/>
<circle cx="146.68" cy="180.2" r="2.5" fill="#d8007c" stroke="#1d2a35" stroke-width="0.35"/>
<circle cx="153.98" cy="173.3" r="2.5" fill="#d8007c" stroke="#1d2a35" stroke-width="0.35"/>
<circle cx="127.78" cy="178.51" r="2.5" fill="#d8007c" stroke="#1d2a35" stroke-width="0.35"/>
<circle cx="135.43" cy="178.41" r="2.5" fill="#d8007c" stroke="#1d2a35" stroke-width="0.35"/>
<circle cx="185.36" cy="181.42" r="2.5" fill="#d8007c" stroke="#1d2a35" stroke-width="0.35"/>
<circle cx="146.14" cy="177.18" r="2.5" fill="#d8007c" stroke="#1d2a35" stroke-width="0.35"/>
<circle cx="143.98" cy="180.26" r="2.5" fill="#d8007c" stroke="#1d2a35" stroke-width="0.35"/>
<circle cx="187.76" cy="176.63" r="2.5" fill="#d8007c" stroke="#1d2a35" stroke-width="0.35"/>
<circle cx="130.99" cy="178.76" r="2.5" fill="#d8007c" stroke="#1d2a35" stroke-width="0.35"/>
<circle cx="175.23" cy="183.02" r="2.5" fill="#d8007c" stroke="#1d2a35" stroke-width="0.35"/>
<circle cx="129.28" cy="178.56" r="2.5" fill="#d8007c" stroke="#1d2a35" stroke-width="0.35"/>
<circle cx="170.3" cy="173.3" r="2.5" fill="#d8007c" stroke="#1d2a35" stroke-width="0.35"/>
<circle cx="201.87" cy="178.15" r="2.5" fill="#d8007c" stroke="#1d2a35" stroke-width="0.35"/>
<circle cx="190.72" cy="179.77" r="2.5" fill="#d8007c" stroke="#1d2a35" stroke-width="0.35"/>
<circle cx="142.31" cy="180.89" r="2.5" fill="#d8007c" stroke="#1d2a35" stroke-width="0.35"/>
<circle cx="145.75" cy="182.2" r="2.5" fill="#d8007c" stroke="#1d2a35" stroke-width="0.35"/>
<circle cx="178.47" cy="173.67" r="2.5" fill="#d8007c" stroke="#1d2a35" stroke-width="0.35"/>
<circle cx="164.72" cy="173.3" r="2.5" fill="#d8007c" stroke="#1d2a35" stroke-width="0.35"/>
<circle cx="154.18" cy="174.18" r="2.5" fill="#d8007c" stroke="#1d2a35" stroke-width="0.35"/>
<circle cx="133.82" cy="177.9" r="2.5" fill="#d8007c" stroke="#1d2a35" stroke-width="0.35"/>
<circle cx="189.04" cy="176.42" r="2.5" fill="#d8007c" stroke="#1d2a35" stroke-width="0.35"/>
<circle cx="188.3" cy="176.91" r="2.5" fill="#d8007c" stroke="#1d2a35" stroke-width="0.35"/>
<circle cx="167.87" cy="183.5" r="2.5" fill="#d8007c" stroke="#1d2a35" stroke-width="0.35"/>
<circle cx="194.59" cy="179.02" r="2.5" fill="#d8007c" stroke="#1d2a35" stroke-width="0.35"/>
<circle cx="124.19" cy="178.56" r="2.5" fill="#d8007c" stroke="#1d2a35" stroke-width="0.35"/>
<circle cx="123.24" cy="178.22" r="2.5" fill="#d8007c" stroke="#1d2a35" stroke-width="0.35"/>
<circle cx="123.6" cy="178.53" r="2.5" fill="#d8007c" stroke="#1d2a35" stroke-width="0.35"/>
<circle cx="160.49" cy="174.52" r="2.5" fill="#d8007c" stroke="#1d2a35" stroke-width="0.35"/>
<circle cx="177.51" cy="176.16" r="2.5" fill="#d8007c" stroke="#1d2a35" stroke-width="0.35"/>
<circle cx="143.25" cy="178.49" r="2.5" fill="#d8007c" stroke="#1d2a35" stroke-width="0.35"/>
<circle cx="126.15" cy="178.12" r="2.5" fill="#d8007c" stroke="#1d2a35" stroke-width="0.35"/>
<circle cx="150.78" cy="176.14" r="2.5" fill="#d8007c" stroke="#1d2a35" stroke-width="0.35"/>
<circle cx="161.68" cy="183.5" r="2.5" fill="#d8007c" stroke="#1d2a35" stroke-width="0.35"/>
<circle cx="136.35" cy="178.34" r="2.5" fill="#d8007c" stroke="#1d2a35" stroke-width="0.35"/>
<circle cx="150.43" cy="180.19" r="2.5" fill="#d8007c" stroke="#1d2a35" stroke-width="0.35"/>
<circle cx="176.65" cy="173.86" r="2.5" fill="#d8007c" stroke="#1d2a35" stroke-width="0.35"/>
<circle cx="192.01" cy="178.82" r="2.5" fill="#d8007c" stroke="#1d2a35" stroke-width="0.35"/>
<circle cx="151.76" cy="180.89" r="2.5" fill="#d8007c" stroke="#1d2a35" stroke-width="0.35"/>
<circle cx="166.15" cy="182.52" r="2.5" fill="#d8007c" stroke="#1d2a35" stroke-width="0.35"/>
<circle cx="157.6" cy="180.62" r="2.5" fill="#d8007c" stroke="#1d2a35" stroke-width="0.35"/>
<circle cx="172.59" cy="173.49" r="2.5" fill="#d8007c" stroke="#1d2a35" stroke-width="0.35"/>
<circle cx="200.41" cy="177.83" r="2.5" fill="#d8007c" stroke="#1d2a35" stroke-width="0.35"/>
<circle cx="136.84" cy="178.23" r="2.5" fill="#d8007c" stroke="#1d2a35" stroke-width="0.35"/>
<circle cx="153.32" cy="183.11" r="2.5" fill="#d8007c" stroke="#1d2a35" stroke-width="0.35"/>
<circle cx="189.57" cy="180.2" r="2.5" fill="#d8007c" stroke="#1d2a35" stroke-width="0.35"/>
<circle cx="191.47" cy="179.05" r="2.5" fill="#d8007c" stroke="#1d2a35" stroke-width="0.35"/>
<circle cx="193.67" cy="178.44" r="2.5" fill="#d8007c" stroke="#1d2a35" stroke-width="0.35"/>
<circle cx="170.82" cy="179.41" r="2.5" fill="#d8007c" stroke="#1d2a35" stroke-width="0.35"/>
<circle cx="171.93" cy="175.08" r="2.5" fill="#d8007c" stroke="#1d2a35" stroke-width="0.35"/>
<circle cx="198.8" cy="178.96" r="2.5" fill="#d8007c" stroke="#1d2a35" stroke-width="0.35"/>
<circle cx="143.83" cy="174.65" r="2.5" fill="#d8007c" stroke="#1d2a35" stroke-width="0.35"/>
<circle cx="156.88" cy="173.3" r="2.5" fill="#d8007c" stroke="#1d2a35" stroke-width="0.35"/>
<circle cx="183.28" cy="180.92" r="2.5" fill="#d8007c" stroke="#1d2a35" stroke-width="0.35"/>
<circle cx="166.27" cy="177.19" r="2.5" fill="#d8007c" stroke="#1d2a35" stroke-width="0.35"/>
<circle cx="171.36" cy="177.02" r="2.5" fill="#d8007c" stroke="#1d2a35" stroke-width="0.35"/>
<circle cx="142.12" cy="177.77" r="2.5" fill="#d8007c" stroke="#1d2a35" stroke-width="0.35"/>
<circle cx="173.41" cy="173.3" r="2.5" fill="#d8007c" stroke="#1d2a35" stroke-width="0.35"/>
<circle cx="181.33" cy="182.62" r="2.5" fill="#d8007c" stroke="#1d2a35" stroke-width="0.35"/>
<circle cx="124.21" cy="178.31" r="2.5" fill="#d8007c" stroke="#1d2a35" stroke-width="0.35"/>
<circle cx="181.61" cy="182.77" r="2.5" fill="#d8007c" stroke="#1d2a35" stroke-width="0.35"/>
<circle cx="191.98" cy="178.5" r="2.5" fill="#d8007c" stroke="#1d2a35" stroke-width="0.35"/>
<circle cx="186.29" cy="181.25" r="2.5" fill="#d8007c" stroke="#1d2a35" stroke-width="0.35"/>
<circle cx="196.08" cy="177.98" r="2.5" fill="#d8007c" stroke="#1d2a35" stroke-width="0.35"/>
<circle cx="186.49" cy="176.71" r="2.5" fill="#d8007c" stroke="#1d2a35" stroke-width="0.35"/>
<circle cx="139.5" cy="178.35" r="2.5" fill="#d8007c" stroke="#1d2a35" stroke-width="0.35"/>
<circle cx="147.12" cy="177.05" r="2.5" fill="#d8007c" stroke="#1d2a35" stroke-width="0.35"/>
<circle cx="173.01" cy="181.89" r="2.5" fill="#d8007c" stroke="#1d2a35" stroke-width="0.35"/>
<circle cx="170.05" cy="183.5" r="2.5" fill="#d8007c" stroke="#1d2a35" stroke-width="0.35"/>
<circle cx="150.64" cy="183.31" r="2.5" fill="#d8007c" stroke="#1d2a35" stroke-width="0.35"/>
<circle cx="188.2" cy="180.1" r="2.5" fill="#d8007c" stroke="#1d2a35" stroke-width="0.35"/>
<circle cx="163.91" cy="181.17" r="2.5" fill="#d8007c" stroke="#1d2a35" stroke-width="0.35"/>
<circle cx="194.82" cy="179.66" r="2.5" fill="#d8007c" stroke="#1d2a35" stroke-width="0.35"/>
<circle cx="132.86" cy="178.36" r="2.5" fill="#d8007c" stroke="#1d2a35" stroke-width="0.35"/>
<circle cx="132.22" cy="178.53" r="2.5" fill="#d8007c" stroke="#1d2a35" stroke-width="0.35"/>
<circle cx="162.34" cy="176.75" r="2.5" fill="#d8007c" stroke="#1d2a35" stroke-width="0.35"/>
<circle cx="144.94" cy="179.18" r="2.5" fill="#d8007c" stroke="#1d2a35" stroke-width="0.35"/>
<circle cx="189.63" cy="180.71" r="2.5" fill="#d8007c" stroke="#1d2a35" stroke-width="0.35"/>
<circle cx="145.69" cy="182.3" r="2.5" fill="#d8007c" stroke="#1d2a35" stroke-width="0.35"/>
<circle cx="132.54" cy="178.43" r="2.5" fill="#d8007c" stroke="#1d2a35" stroke-width="0.35"/>
<circle cx="154.71" cy="179.41" r="2.5" fill="#d8007c" stroke="#1d2a35" stroke-width="0.35"/>
<circle cx="130.98" cy="178.63" r="2.5" fill="#d8007c" stroke="#1d2a35" stroke-width="0.35"/>
<circle cx="169.54" cy="178.35" r="2.5" fill="#d8007c" stroke="#1d2a35" stroke-width="0.35"/>
<circle cx="150.81" cy="173.3" r="2.5" fill="#d8007c" stroke="#1d2a35" stroke-width="0.35"/>
<circle cx="192.28" cy="180.28" r="2.5" fill="#d8007c" stroke="#1d2a35" stroke-width="0.35"/>
<circle cx="134.05" cy="178.24" r="2.5" fill="#d8007c" stroke="#1d2a35" stroke-width="0.35"/>
<circle cx="172.55" cy="182.73" r="2.5" fill="#d8007c" stroke="#1d2a35" stroke-width="0.35"/>
<circle cx="154.46" cy="182.62" r="2.5" fill="#d8007c" stroke="#1d2a35" stroke-width="0.35"/>
<circle cx="166.42" cy="177.63" r="2.5" fill="#d8007c" stroke="#1d2a35" stroke-width="0.35"/>
<circle cx="164.25" cy="179.92" r="2.5" fill="#d8007c" stroke="#1d2a35" stroke-width="0.35"/>
<circle cx="170.94" cy="179.53" r="2.5" fill="#d8007c" stroke="#1d2a35" stroke-width="0.35"/>
<circle cx="152.61" cy="176.85" r="2.5" fill="#d8007c" stroke="#1d2a35" stroke-width="0.35"/>
<circle cx="186.68" cy="175.87" r="2.5" fill="#d8007c" stroke="#1d2a35" stroke-width="0.35"/>
<circle cx="173.63" cy="179.11" r="2.5" fill="#d8007c" stroke="#1d2a35" stroke-width="0.35"/>
<circle cx="166.33" cy="177.03" r="2.5" fill="#d8007c" stroke="#1d2a35" stroke-width="0.35"/>
<circle cx="161.04" cy="174.78" r="2.5" fill="#d8007c" stroke="#1d2a35" stroke-width="0.35"/>
<circle cx="185.53" cy="177.41" r="2.5" fill="#d8007c" stroke="#1d2a35" stroke-width="0.35"/>
<circle cx="148.92" cy="176.37" r="2.5" fill="#d8007c" stroke="#1d2a35" stroke-width="0.35"/>
<circle cx="202.33" cy="178.36" r="2.5" fill="#d8007c" stroke="#1d2a35" stroke-width="0.35"/>
<circle cx="125.78" cy="178.22" r="2.5" fill="#d8007c" stroke="#1d2a35" stroke-width="0.35"/>
<circle cx="193.13" cy="177.36" r="2.5" fill="#d8007c" stroke="#1d2a35" stroke-width="0.35"/>
<circle cx="194.03" cy="177.41" r="2.5" fill="#d8007c" stroke="#1d2a35" stroke-width="0.35"/>
<circle cx="136.05" cy="177.85" r="2.5" fill="#d8007c" stroke="#1d2a35" stroke-width="0.35"/>
<circle cx="130.71" cy="178.71" r="2.5" fill="#d8007c" stroke="#1d2a35" stroke-width="0.35"/>
<circle cx="201.39" cy="178.34" r="2.5" fill="#d8007c" stroke="#1d2a35" stroke-width="0.35"/>
<circle cx="160.16" cy="182.6" r="2.5" fill="#d8007c" stroke="#1d2a35" stroke-width="0.35"/>
<circle cx="143.18" cy="182.2" r="2.5" fill="#d8007c" stroke="#1d2a35" stroke-width="0.35"/>
<circle cx="193.58" cy="177.88" r="2.5" fill="#d8007c" stroke="#1d2a35" stroke-width="0.35"/>
<circle cx="136.97" cy="178.34" r="2.5" fill="#d8007c" stroke="#1d2a35" stroke-width="0.35"/>
<circle cx="148.1" cy="174.65" r="2.5" fill="#d8007c" stroke="#1d2a35" stroke-width="0.35"/>
<circle cx="146.42" cy="178.95" r="2.5" fill="#d8007c" stroke="#1d2a35" stroke-width="0.35"/>
<circle cx="134.1" cy="177.89" r="2.5" fill="#d8007c" stroke="#1d2a35" stroke-width="0.35"/>
<circle cx="124.27" cy="178.59" r="2.5" fill="#d8007c" stroke="#1d2a35" stroke-width="0.35"/>
<circle cx="179.67" cy="182.25" r="2.5" fill="#d8007c" stroke="#1d2a35" stroke-width="0.35"/>
<circle cx="163.65" cy="178.9" r="2.5" fill="#d8007c" stroke="#1d2a35" stroke-width="0.35"/>
<circle cx="127.59" cy="178.19" r="2.5" fill="#d8007c" stroke="#1d2a35" stroke-width="0.35"/>
<circle cx="136.2" cy="178.36" r="2.5" fill="#d8007c" stroke="#1d2a35" stroke-width="0.35"/>
<circle cx="192.6" cy="179.66" r="2.5" fill="#d8007c" stroke="#1d2a35" stroke-width="0.35"/>
<circle cx="126.03" cy="178.4" r="2.5" fill="#d8007c" stroke="#1d2a35" stroke-width="0.35"/>
<circle cx="125.54" cy="178.31" r="2.5" fill="#d8007c" stroke="#1d2a35" stroke-width="0.35"/>
<circle cx="189.3" cy="179.39" r="2.5" fill="#d8007c" stroke="#1d2a35" stroke-width="0.35"/>
<circle cx="137.41" cy="178.08" r="2.5" fill="#d8007c" stroke="#1d2a35" stroke-width="0.35"/>
<circle cx="202.74" cy="178.2" r="2.5" fill="#d8007c" stroke="#1d2a35" stroke-width="0.35"/>
<circle cx="160.01" cy="178.7" r="2.5" fill="#d8007c" stroke="#1d2a35" stroke-width="0.35"/>
<circle cx="200.84" cy="178.24" r="2.5" fill="#d8007c" stroke="#1d2a35" stroke-width="0.35"/>
<circle cx="156.27" cy="174.47" r="2.5" fill="#d8007c" stroke="#1d2a35" stroke-width="0.35"/>
<circle cx="170.82" cy="173.68" r="2.5" fill="#d8007c" stroke="#1d2a35" stroke-width="0.35"/>
<circle cx="142.41" cy="180.95" r="2.5" fill="#d8007c" stroke="#1d2a35" stroke-width="0.35"/>
<circle cx="154.02" cy="178.85" r="2.5" fill="#d8007c" stroke="#1d2a35" stroke-width="0.35"/>
<circle cx="139.7" cy="179.16" r="2.5" fill="#d8007c" stroke="#1d2a35" stroke-width="0.35"/>
<circle cx="145.55" cy="176.9" r="2.5" fill="#d8007c" stroke="#1d2a35" stroke-width="0.35"/>
<circle cx="126.18" cy="178.51" r="2.5" fill="#d8007c" stroke="#1d2a35" stroke-width="0.35"/>
<circle cx="186.09" cy="175.77" r="2.5" fill="#d8007c" stroke="#1d2a35" stroke-width="0.35"/>
<circle cx="123.69" cy="178.48" r="2.5" fill="#d8007c" stroke="#1d2a35" stroke-width="0.35"/>
<circle cx="186.16" cy="181.42" r="2.5" fill="#d8007c" stroke="#1d2a35" stroke-width="0.35"/>
<circle cx="181.84" cy="180.83" r="2.5" fill="#d8007c" stroke="#1d2a35" stroke-width="0.35"/>
<circle cx="200.75" cy="178.43" r="2.5" fill="#d8007c" stroke="#1d2a35" stroke-width="0.35"/>
<circle cx="170.37" cy="178.29" r="2.5" fill="#d8007c" stroke="#1d2a35" stroke-width="0.35"/>
<circle cx="155.72" cy="173.43" r="2.5" fill="#d8007c" stroke="#1d2a35" stroke-width="0.35"/>
<circle cx="147.28" cy="174.35" r="2.5" fill="#d8007c" stroke="#1d2a35" stroke-width="0.35"/>
<circle cx="132.99" cy="178.07" r="2.5" fill="#d8007c" stroke="#1d2a35" stroke-width="0.35"/>
<circle cx="151.77" cy="181.39" r="2.5" fill="#d8007c" stroke="#1d2a35" stroke-width="0.35"/>
<circle cx="180.86" cy="181.59" r="2.5" fill="#d8007c" stroke="#1d2a35" stroke-width="0.35"/>
<circle cx="200.53" cy="178.92" r="2.5" fill="#d8007c" stroke="#1d2a35" stroke-width="0.35"/>
<circle cx="195.02" cy="179.62" r="2.5" fill="#d8007c" stroke="#1d2a35" stroke-width="0.35"/>
<circle cx="130.16" cy="178.51" r="2.5" fill="#d8007c" stroke="#1d2a35" stroke-width="0.35"/>
<circle cx="184.73" cy="177.66" r="2.5" fill="#d8007c" stroke="#1d2a35" stroke-width="0.35"/>
<circle cx="148.73" cy="176.78" r="2.5" fill="#d8007c" stroke="#1d2a35" stroke-width="0.35"/>
<circle cx="145.81" cy="177.64" r="2.5" fill="#d8007c" stroke="#1d2a35" stroke-width="0.35"/>
<circle cx="187.55" cy="176.71" r="2.5" fill="#d8007c" stroke="#1d2a35" stroke-width="0.35"/>
<circle cx="183.54" cy="178.62" r="2.5" fill="#d8007c" stroke="#1d2a35" stroke-width="0.35"/>
<circle cx="135.89" cy="178.87" r="2.5" fill="#d8007c" stroke="#1d2a35" stroke-width="0.35"/>
<circle cx="132.67" cy="178.29" r="2.5" fill="#d8007c" stroke="#1d2a35" stroke-width="0.35"/>
<circle cx="200.04" cy="177.87" r="2.5" fill="#d8007c" stroke="#1d2a35" stroke-width="0.35"/>
<circle cx="146.01" cy="174.68" r="2.5" fill="#d8007c" stroke="#1d2a35" stroke-width="0.35"/>
<circle cx="146.96" cy="181.61" r="2.5" fill="#d8007c" stroke="#1d2a35" stroke-width="0.35"/>
<circle cx="128.39" cy="178.72" r="2.5" fill="#d8007c" stroke="#1d2a35" stroke-width="0.35"/>
<circle cx="166.35" cy="183.08" r="2.5" fill="#d8007c" stroke="#1d2a35" stroke-width="0.35"/>
<circle cx="181.81" cy="178.94" r="2.5" fill="#d8007c" stroke="#1d2a35" stroke-width="0.35"/>
<circle cx="194.41" cy="178.34" r="2.5" fill="#d8007c" stroke="#1d2a35" stroke-width="0.35"/>
<circle cx="161.54" cy="174.07" r="2.5" fill="#d8007c" stroke="#1d2a35" stroke-width="0.35"/>
<circle cx="145.81" cy="182.94" r="2.5" fill="#d8007c" stroke="#1d2a35" stroke-width="0.35"/>
<circle cx="171.19" cy="173.65" r="2.5" fill="#d8007c" stroke="#1d2a35" stroke-width="0.35"/>
<circle cx="184.04" cy="179.38" r="2.5" fill="#d8007c" stroke="#1d2a35" stroke-width="0.35"/>
<circle cx="158.16" cy="174.73" r="2.5" fill="#d8007c" stroke="#1d2a35" stroke-width="0.35"/>
<circle cx="179.51" cy="175.24" r="2.5" fill="#d8007c" stroke="#1d2a35" stroke-width="0.35"/>
<circle cx="139.64" cy="179.06" r="2.5" fill="#d8007c" stroke="#1d2a35" stroke-width="0.35"/>
<circle cx="185.12" cy="181.75" r="2.5" fill="#d8007c" stroke="#1d2a35" stroke-width="0.35"/>
<circle cx="164.75" cy="174.91" r="2.5" fill="#d8007c" stroke="#1d2a35" stroke-width="0.35"/>
<circle cx="192.82" cy="177.52" r="2.5" fill="#d8007c" stroke="#1d2a35" stroke-width="0.35"/>
<circle cx="174.57" cy="175.1" r="2.5" fill="#d8007c" stroke="#1d2a35" stroke-width="0.35"/>
<circle cx="146.63" cy="177.35" r="2.5" fill="#d8007c" stroke="#1d2a35" stroke-width="0.35"/>
<circle cx="193.34" cy="177.36" r="2.5" fill="#d8007c" stroke="#1d2a35" stroke-width="0.35"/>
<circle cx="151.26" cy="177.85" r="2.5" fill="#d8007c" stroke="#1d2a35" stroke-width="0.35"/>
<circle cx="137.11" cy="178.72" r="2.5" fill="#d8007c" stroke="#1d2a35" stroke-width="0.35"/>
<circle cx="167.27" cy="175.57" r="2.5" fill="#d8007c" stroke="#1d2a35" stroke-width="0.35"/>
<circle cx="141.33" cy="178.75" r="2.5" fill="#d8007c" stroke="#1d2a35" stroke-width="0.35"/>
<circle cx="122.8" cy="178.36" r="2.5" fill="#d8007c" stroke="#1d2a35" stroke-width="0.35"/>
<circle cx="186.92" cy="180.09" r="2.5" fill="#d8007c" stroke="#1d2a35" stroke-width="0.35"/>
<circle cx="178.05" cy="181.01" r="2.5" fill="#d8007c" stroke="#1d2a35" stroke-width="0.35"/>
<circle cx="193.12" cy="178.67" r="2.5" fill="#d8007c" stroke="#1d2a35" stroke-width="0.35"/>
<circle cx="202.06" cy="178.19" r="2.5" fill="#d8007c" stroke="#1d2a35" stroke-width="0.35"/>
<circle cx="173.87" cy="175.59" r="2.5" fill="#d8007c" stroke="#1d2a35" stroke-width="0.35"/>
<circle cx="141.82" cy="176.24" r="2.5" fill="#d8007c" stroke="#1d2a35" stroke-width="0.35"/>
<circle cx="183.15" cy="181.61" r="2.5" fill="#d8007c" stroke="#1d2a35" stroke-width="0.35"/>
<circle cx="149.29" cy="173.4" r="2.5" fill="#d8007c" stroke="#1d2a35" stroke-width="0.35"/>
<circle cx="135.33" cy="178.74" r="2.5" fill="#d8007c" stroke="#1d2a35" stroke-width="0.35"/>
<circle cx="173.37" cy="175.91" r="2.5" fill="#d8007c" stroke="#1d2a35" stroke-width="0.35"/>
<circle cx="134.97" cy="177.98" r="2.5" fill="#d8007c" stroke="#1d2a35" stroke-width="0.35"/>
<circle cx="136.16" cy="178.91" r="2.5" fill="#d8007c" stroke="#1d2a35" stroke-width="0.35"/>
<circle cx="122.96" cy="178.41" r="2.5" fill="#d8007c" stroke="#1d2a35" stroke-width="0.35"/>
<circle cx="173.56" cy="175.94" r="2.5" fill="#d8007c" stroke="#1d2a35" stroke-width="0.35"/>
<circle cx="161.39" cy="179.94" r="2.5" fill="#d8007c" stroke="#1d2a35" stroke-width="0.35"/>
<circle cx="153.56" cy="175.41" r="2.5" fill="#d8007c" stroke="#1d2a35" stroke-width="0.35"/>
<circle cx="157.61" cy="176.51" r="2.5" fill="#d8007c" stroke="#1d2a35" stroke-width="0.35"/>
<circle cx="195.19" cy="177.26" r="2.5" fill="#d8007c" stroke="#1d2a35" stroke-width="0.35"/>
<circle cx="193.49" cy="178.72" r="2.5" fill="#d8007c" stroke="#1d2a35" stroke-width="0.35"/>
<circle cx="162.26" cy="175.92" r="2.5" fill="#d8007c" stroke="#1d2a35" stroke-width="0.35"/>
<circle cx="188.33" cy="180.48" r="2.5" fill="#d8007c" stroke="#1d2a35" stroke-width="0.35"/>
<circle cx="184.16" cy="180.24" r="2.5" fill="#d8007c" stroke="#1d2a35" stroke-width="0.35"/>
<circle cx="157.79" cy="175.08" r="2.5" fill="#d8007c" stroke="#1d2a35" stroke-width="0.35"/>
<circle cx="136.89" cy="177.82" r="2.5" fill="#d8007c" stroke="#1d2a35" stroke-width="0.35"/>
<circle cx="197.05" cy="178.28" r="2.5" fill="#d8007c" stroke="#1d2a35" stroke-width="0.35"/>
<circle cx="133.79" cy="178.38" r="2.5" fill="#d8007c" stroke="#1d2a35" stroke-width="0.35"/>
<circle cx="113.6" cy="178.4" r="2.5" fill="#ee7ab8" stroke="#ee7ab8" stroke-width="0.3"/>
<circle cx="118" cy="178.4" r="2.5" fill="#ee7ab8" stroke="#ee7ab8" stroke-width="0.3"/>
<circle cx="216.2" cy="178.4" r="2.5" fill="#ee7ab8" stroke="#ee7ab8" stroke-width="0.3"/>
<circle cx="126.8" cy="106.3" r="2.2" fill="#8cd0f0" stroke="#8cd0f0" stroke-width="0.3"/>
<circle cx="186.6" cy="106.3" r="2.2" fill="#8cd0f0" stroke="#8cd0f0" stroke-width="0.3"/>
<line x1="153.3" y1="99.1" x2="153.3" y2="114.3" stroke="#000" stroke-width="1.7"/>
<line x1="157.1" y1="122.4" x2="157.1" y2="138.2" stroke="#000" stroke-width="1.7"/>
<line x1="170.1" y1="146.9" x2="170.1" y2="162.3" stroke="#000" stroke-width="1.7"/>
<line x1="166.3" y1="170.7" x2="166.3" y2="186" stroke="#000" stroke-width="1.7"/>
<text x="237" y="13.1" font-size="17" text-anchor="start" fill="#000" font-weight="bold">c</text>
<text x="375.5" y="13.6" font-size="11.5" text-anchor="middle" fill="#1a1a1a" textLength="136.3" lengthAdjust="spacingAndGlyphs">enAsCas12a (dual-gRNA)</text>
<rect x="329.1" y="22.8" width="17.1" height="173.5" fill="#ffe8f2"/>
<rect x="400.4" y="22.8" width="14.8" height="173.5" fill="#e6f2fe"/>
<rect x="348.4" y="190.7" width="2.8" height="5.6" fill="#d2d2d2"/>
<rect x="356.7" y="185.6" width="2.8" height="10.7" fill="#d2d2d2"/>
<rect x="365.1" y="174.9" width="2.8" height="21.4" fill="#d2d2d2"/>
<rect x="372.7" y="146.4" width="2.8" height="49.9" fill="#d2d2d2"/>
<rect x="380.4" y="109" width="2.8" height="87.3" fill="#d2d2d2"/>
<rect x="388.2" y="89.5" width="2.8" height="106.8" fill="#d2d2d2"/>
<rect x="395.9" y="108.4" width="2.8" height="87.9" fill="#d2d2d2"/>
<rect x="404" y="154.2" width="2.8" height="42.1" fill="#d2d2d2"/>
<rect x="411.8" y="180" width="2.8" height="16.3" fill="#d2d2d2"/>
<rect x="320" y="181.6" width="2.8" height="14.7" fill="#f692c2"/>
<rect x="327.6" y="141.8" width="2.8" height="54.5" fill="#f692c2"/>
<rect x="335.7" y="101.6" width="2.8" height="94.7" fill="#f692c2"/>
<rect x="343.7" y="51.3" width="2.8" height="145" fill="#f692c2"/>
<rect x="351.9" y="98.2" width="2.8" height="98.1" fill="#f692c2"/>
<rect x="359.4" y="170.8" width="2.8" height="25.5" fill="#f692c2"/>
<rect x="354.1" y="142" width="2.8" height="54.3" fill="#92c5f8"/>
<rect x="386" y="88.1" width="2.8" height="108.2" fill="#92c5f8"/>
<rect x="393.4" y="142" width="2.8" height="54.3" fill="#92c5f8"/>
<rect x="401" y="142" width="2.8" height="54.3" fill="#92c5f8"/>
<rect x="409.2" y="33.3" width="2.8" height="163" fill="#92c5f8"/>
<line x1="291.6" y1="22.3" x2="291.6" y2="196.3" stroke="#707070" stroke-width="1.1"/>
<line x1="291.6" y1="196.3" x2="467" y2="196.3" stroke="#333" stroke-width="1"/>
<line x1="284.4" y1="22.8" x2="291.6" y2="22.8" stroke="#707070" stroke-width="1.1"/>
<text x="281.8" y="27.4" font-size="12.8" text-anchor="end" fill="#1a1a1a">0.15</text>
<line x1="284.4" y1="80.4" x2="291.6" y2="80.4" stroke="#707070" stroke-width="1.1"/>
<text x="281.8" y="85" font-size="12.8" text-anchor="end" fill="#1a1a1a">0.10</text>
<line x1="284.4" y1="138.7" x2="291.6" y2="138.7" stroke="#707070" stroke-width="1.1"/>
<text x="281.8" y="143.3" font-size="12.8" text-anchor="end" fill="#1a1a1a">0.05</text>
<line x1="284.4" y1="196.3" x2="291.6" y2="196.3" stroke="#707070" stroke-width="1.1"/>
<text x="281.8" y="200.9" font-size="12.8" text-anchor="end" fill="#1a1a1a">0.00</text>
<line x1="291.9" y1="196.3" x2="291.9" y2="202.8" stroke="#333" stroke-width="1"/>
<text x="291.9" y="218.1" font-size="12.8" text-anchor="middle" fill="#1a1a1a">-6</text>
<line x1="323.5" y1="196.3" x2="323.5" y2="202.8" stroke="#333" stroke-width="1"/>
<text x="323.5" y="218.1" font-size="12.8" text-anchor="middle" fill="#1a1a1a">-4</text>
<line x1="355.4" y1="196.3" x2="355.4" y2="202.8" stroke="#333" stroke-width="1"/>
<text x="355.4" y="218.1" font-size="12.8" text-anchor="middle" fill="#1a1a1a">-2</text>
<line x1="386.8" y1="196.3" x2="386.8" y2="202.8" stroke="#333" stroke-width="1"/>
<text x="386.8" y="218.1" font-size="12.8" text-anchor="middle" fill="#1a1a1a">0</text>
<line x1="418.3" y1="196.3" x2="418.3" y2="202.8" stroke="#333" stroke-width="1"/>
<text x="418.3" y="218.1" font-size="12.8" text-anchor="middle" fill="#1a1a1a">2</text>
<line x1="450.2" y1="196.3" x2="450.2" y2="202.8" stroke="#333" stroke-width="1"/>
<text x="450.2" y="218.1" font-size="12.8" text-anchor="middle" fill="#1a1a1a">4</text>
<text x="379" y="229.2" font-size="12.4" text-anchor="middle" fill="#1a1a1a" textLength="51.8" lengthAdjust="spacingAndGlyphs">gene LFC</text>
<text transform="translate(256 107.8) rotate(-90)" x="0" y="0" font-size="12.4" text-anchor="middle" fill="#1a1a1a" textLength="97.8" lengthAdjust="spacingAndGlyphs">Relative frequency</text>
<line x1="346.2" y1="22.8" x2="346.2" y2="196.3" stroke="#f0287a" stroke-width="1" stroke-dasharray="2.5,2.6"/>
<line x1="400.4" y1="22.8" x2="400.4" y2="196.3" stroke="#0a84f0" stroke-width="1" stroke-dasharray="2.5,2.6"/>
<path d="M292.00,196.30 L292.50,196.30 L293.00,196.30 L293.50,196.30 L294.00,196.30 L294.50,196.30 L295.00,196.30 L295.50,196.30 L296.00,196.30 L296.50,196.30 L297.00,196.30 L297.50,196.30 L298.00,196.30 L298.50,196.30 L299.00,196.30 L299.50,196.30 L300.00,196.30 L300.50,196.30 L301.00,196.30 L301.50,196.30 L302.00,196.30 L302.50,196.30 L303.00,196.30 L303.50,196.30 L304.00,196.30 L304.50,196.30 L305.00,196.30 L305.50,196.30 L306.00,196.30 L306.50,196.30 L307.00,196.30 L307.50,196.30 L308.00,196.30 L308.50,196.30 L309.00,196.30 L309.50,196.30 L310.00,196.30 L310.50,196.30 L311.00,196.30 L311.50,196.30 L312.00,196.30 L312.50,196.30 L313.00,196.30 L313.50,196.30 L314.00,196.30 L314.50,196.30 L315.00,196.30 L315.50,196.30 L316.00,196.30 L316.50,196.30 L317.00,196.30 L317.50,196.30 L318.00,196.30 L318.50,196.30 L319.00,196.30 L319.50,196.30 L320.00,196.30 L320.50,196.30 L321.00,196.30 L321.50,196.30 L322.00,196.30 L322.50,196.30 L323.00,196.30 L323.50,196.30 L324.00,196.30 L324.50,196.30 L325.00,196.30 L325.50,196.30 L326.00,196.30 L326.50,196.30 L327.00,196.30 L327.50,196.30 L328.00,196.30 L328.50,196.30 L329.00,196.30 L329.50,196.30 L330.00,196.30 L330.50,196.30 L331.00,196.30 L331.50,196.30 L332.00,196.29 L332.50,196.29 L333.00,196.29 L333.50,196.29 L334.00,196.29 L334.50,196.29 L335.00,196.28 L335.50,196.28 L336.00,196.28 L336.50,196.27 L337.00,196.27 L337.50,196.26 L338.00,196.26 L338.50,196.25 L339.00,196.24 L339.50,196.23 L340.00,196.22 L340.50,196.21 L341.00,196.19 L341.50,196.17 L342.00,196.15 L342.50,196.13 L343.00,196.10 L343.50,196.07 L344.00,196.04 L344.50,196.00 L345.00,195.95 L345.50,195.90 L346.00,195.84 L346.50,195.77 L347.00,195.69 L347.50,195.61 L348.00,195.51 L348.50,195.40 L349.00,195.28 L349.50,195.15 L350.00,195.00 L350.50,194.83 L351.00,194.64 L351.50,194.43 L352.00,194.20 L352.50,193.94 L353.00,193.65 L353.50,193.34 L354.00,192.99 L354.50,192.62 L355.00,192.20 L355.50,191.74 L356.00,191.25 L356.50,190.70 L357.00,190.11 L357.50,189.47 L358.00,188.78 L358.50,188.03 L359.00,187.22 L359.50,186.34 L360.00,185.40 L360.50,184.39 L361.00,183.31 L361.50,182.16 L362.00,180.93 L362.50,179.62 L363.00,178.22 L363.50,176.75 L364.00,175.19 L364.50,173.54 L365.00,171.81 L365.50,169.99 L366.00,168.08 L366.50,166.08 L367.00,164.00 L367.50,161.83 L368.00,159.58 L368.50,157.24 L369.00,154.83 L369.50,152.34 L370.00,149.78 L370.50,147.15 L371.00,144.47 L371.50,141.72 L372.00,138.93 L372.50,136.10 L373.00,133.23 L373.50,130.34 L374.00,127.43 L374.50,124.51 L375.00,121.59 L375.50,118.69 L376.00,115.81 L376.50,112.96 L377.00,110.16 L377.50,107.41 L378.00,104.73 L378.50,102.12 L379.00,99.61 L379.50,97.19 L380.00,94.88 L380.50,92.69 L381.00,90.64 L381.50,88.72 L382.00,86.96 L382.50,85.35 L383.00,83.90 L383.50,82.63 L384.00,81.54 L384.50,80.63 L385.00,79.91 L385.50,79.38 L386.00,79.04 L386.50,78.90 L387.00,78.96 L387.50,79.22 L388.00,79.67 L388.50,80.32 L389.00,81.15 L389.50,82.17 L390.00,83.37 L390.50,84.75 L391.00,86.29 L391.50,88.00 L392.00,89.85 L392.50,91.86 L393.00,93.99 L393.50,96.25 L394.00,98.63 L394.50,101.10 L395.00,103.68 L395.50,106.33 L396.00,109.05 L396.50,111.83 L397.00,114.67 L397.50,117.54 L398.00,120.43 L398.50,123.34 L399.00,126.26 L399.50,129.17 L400.00,132.08 L400.50,134.95 L401.00,137.80 L401.50,140.61 L402.00,143.37 L402.50,146.08 L403.00,148.74 L403.50,151.32 L404.00,153.84 L404.50,156.29 L405.00,158.65 L405.50,160.94 L406.00,163.14 L406.50,165.26 L407.00,167.29 L407.50,169.24 L408.00,171.09 L408.50,172.86 L409.00,174.54 L409.50,176.14 L410.00,177.64 L410.50,179.07 L411.00,180.41 L411.50,181.67 L412.00,182.86 L412.50,183.97 L413.00,185.01 L413.50,185.97 L414.00,186.87 L414.50,187.71 L415.00,188.48 L415.50,189.20 L416.00,189.86 L416.50,190.47 L417.00,191.04 L417.50,191.55 L418.00,192.02 L418.50,192.45 L419.00,192.85 L419.50,193.21 L420.00,193.53 L420.50,193.83 L421.00,194.10 L421.50,194.34 L422.00,194.56 L422.50,194.75 L423.00,194.93 L423.50,195.09 L424.00,195.23 L424.50,195.36 L425.00,195.47 L425.50,195.57 L426.00,195.66 L426.50,195.74 L427.00,195.81 L427.50,195.87 L428.00,195.93 L428.50,195.98 L429.00,196.02 L429.50,196.06 L430.00,196.09 L430.50,196.12 L431.00,196.14 L431.50,196.17 L432.00,196.18 L432.50,196.20 L433.00,196.22 L433.50,196.23 L434.00,196.24 L434.50,196.25 L435.00,196.26 L435.50,196.26 L436.00,196.27 L436.50,196.27 L437.00,196.28 L437.50,196.28 L438.00,196.28 L438.50,196.29 L439.00,196.29 L439.50,196.29 L440.00,196.29 L440.50,196.29 L441.00,196.29 L441.50,196.30 L442.00,196.30 L442.50,196.30 L443.00,196.30 L443.50,196.30 L444.00,196.30 L444.50,196.30 L445.00,196.30 L445.50,196.30 L446.00,196.30 L446.50,196.30 L447.00,196.30 L447.50,196.30 L448.00,196.30 L448.50,196.30 L449.00,196.30 L449.50,196.30 L450.00,196.30 L450.50,196.30 L451.00,196.30 L451.50,196.30 L452.00,196.30 L452.50,196.30 L453.00,196.30 L453.50,196.30 L454.00,196.30 L454.50,196.30 L455.00,196.30 L455.50,196.30 L456.00,196.30 L456.50,196.30 L457.00,196.30 L457.50,196.30 L458.00,196.30 L458.50,196.30 L459.00,196.30 L459.50,196.30 L460.00,196.30 L460.50,196.30 L461.00,196.30 L461.50,196.30 L462.00,196.30 L462.50,196.30 L463.00,196.30 L463.50,196.30 L464.00,196.30 L464.50,196.30 L465.00,196.30 L465.50,196.30 L466.00,196.30 L466.50,196.30 L467.00,196.30" fill="none" stroke="#8a8a8a" stroke-width="1.6"/>
<path d="M292.00,196.30 L292.50,196.30 L293.00,196.30 L293.50,196.30 L294.00,196.30 L294.50,196.30 L295.00,196.30 L295.50,196.30 L296.00,196.30 L296.50,196.30 L297.00,196.30 L297.50,196.30 L298.00,196.30 L298.50,196.30 L299.00,196.30 L299.50,196.30 L300.00,196.30 L300.50,196.30 L301.00,196.30 L301.50,196.30 L302.00,196.30 L302.50,196.30 L303.00,196.30 L303.50,196.30 L304.00,196.30 L304.50,196.30 L305.00,196.30 L305.50,196.30 L306.00,196.30 L306.50,196.30 L307.00,196.30 L307.50,196.30 L308.00,196.30 L308.50,196.30 L309.00,196.30 L309.50,196.30 L310.00,196.30 L310.50,196.30 L311.00,196.30 L311.50,196.30 L312.00,196.30 L312.50,196.30 L313.00,196.30 L313.50,196.30 L314.00,196.30 L314.50,196.30 L315.00,196.30 L315.50,196.30 L316.00,196.30 L316.50,196.30 L317.00,196.30 L317.50,196.30 L318.00,196.30 L318.50,196.30 L319.00,196.30 L319.50,196.30 L320.00,196.30 L320.50,196.30 L321.00,196.30 L321.50,196.30 L322.00,196.30 L322.50,196.30 L323.00,196.30 L323.50,196.30 L324.00,196.30 L324.50,196.30 L325.00,196.30 L325.50,196.30 L326.00,196.30 L326.50,196.30 L327.00,196.30 L327.50,196.30 L328.00,196.30 L328.50,196.30 L329.00,196.30 L329.50,196.30 L330.00,196.30 L330.50,196.30 L331.00,196.30 L331.50,196.30 L332.00,196.30 L332.50,196.30 L333.00,196.30 L333.50,196.30 L334.00,196.30 L334.50,196.30 L335.00,196.30 L335.50,196.30 L336.00,196.30 L336.50,196.30 L337.00,196.30 L337.50,196.30 L338.00,196.30 L338.50,196.30 L339.00,196.30 L339.50,196.30 L340.00,196.29 L340.50,196.29 L341.00,196.29 L341.50,196.29 L342.00,196.29 L342.50,196.29 L343.00,196.29 L343.50,196.28 L344.00,196.28 L344.50,196.28 L345.00,196.28 L345.50,196.27 L346.00,196.27 L346.50,196.26 L347.00,196.26 L347.50,196.25 L348.00,196.24 L348.50,196.23 L349.00,196.22 L349.50,196.21 L350.00,196.20 L350.50,196.19 L351.00,196.17 L351.50,196.15 L352.00,196.13 L352.50,196.11 L353.00,196.08 L353.50,196.05 L354.00,196.02 L354.50,195.98 L355.00,195.94 L355.50,195.90 L356.00,195.84 L356.50,195.79 L357.00,195.72 L357.50,195.65 L358.00,195.57 L358.50,195.49 L359.00,195.39 L359.50,195.29 L360.00,195.17 L360.50,195.04 L361.00,194.90 L361.50,194.74 L362.00,194.57 L362.50,194.39 L363.00,194.18 L363.50,193.96 L364.00,193.72 L364.50,193.45 L365.00,193.17 L365.50,192.85 L366.00,192.52 L366.50,192.15 L367.00,191.76 L367.50,191.33 L368.00,190.88 L368.50,190.38 L369.00,189.86 L369.50,189.29 L370.00,188.69 L370.50,188.04 L371.00,187.35 L371.50,186.61 L372.00,185.83 L372.50,185.00 L373.00,184.12 L373.50,183.19 L374.00,182.21 L374.50,181.17 L375.00,180.08 L375.50,178.93 L376.00,177.73 L376.50,176.47 L377.00,175.15 L377.50,173.77 L378.00,172.33 L378.50,170.83 L379.00,169.28 L379.50,167.67 L380.00,166.00 L380.50,164.28 L381.00,162.51 L381.50,160.68 L382.00,158.81 L382.50,156.88 L383.00,154.92 L383.50,152.91 L384.00,150.86 L384.50,148.78 L385.00,146.67 L385.50,144.53 L386.00,142.38 L386.50,140.20 L387.00,138.02 L387.50,135.83 L388.00,133.64 L388.50,131.45 L389.00,129.28 L389.50,127.13 L390.00,125.00 L390.50,122.90 L391.00,120.84 L391.50,118.82 L392.00,116.85 L392.50,114.94 L393.00,113.10 L393.50,111.32 L394.00,109.62 L394.50,108.00 L395.00,106.47 L395.50,105.03 L396.00,103.69 L396.50,102.45 L397.00,101.32 L397.50,100.31 L398.00,99.41 L398.50,98.63 L399.00,97.98 L399.50,97.44 L400.00,97.04 L400.50,96.77 L401.00,96.62 L401.50,96.61 L402.00,96.73 L402.50,96.98 L403.00,97.35 L403.50,97.86 L404.00,98.49 L404.50,99.24 L405.00,100.12 L405.50,101.11 L406.00,102.22 L406.50,103.43 L407.00,104.75 L407.50,106.17 L408.00,107.68 L408.50,109.29 L409.00,110.97 L409.50,112.73 L410.00,114.57 L410.50,116.47 L411.00,118.42 L411.50,120.43 L412.00,122.48 L412.50,124.58 L413.00,126.70 L413.50,128.85 L414.00,131.02 L414.50,133.20 L415.00,135.39 L415.50,137.58 L416.00,139.77 L416.50,141.94 L417.00,144.10 L417.50,146.24 L418.00,148.36 L418.50,150.45 L419.00,152.50 L419.50,154.52 L420.00,156.49 L420.50,158.42 L421.00,160.31 L421.50,162.15 L422.00,163.93 L422.50,165.66 L423.00,167.34 L423.50,168.96 L424.00,170.53 L424.50,172.04 L425.00,173.48 L425.50,174.87 L426.00,176.21 L426.50,177.48 L427.00,178.70 L427.50,179.86 L428.00,180.96 L428.50,182.01 L429.00,183.00 L429.50,183.94 L430.00,184.83 L430.50,185.67 L431.00,186.46 L431.50,187.21 L432.00,187.90 L432.50,188.56 L433.00,189.17 L433.50,189.75 L434.00,190.28 L434.50,190.78 L435.00,191.24 L435.50,191.68 L436.00,192.08 L436.50,192.45 L437.00,192.79 L437.50,193.10 L438.00,193.40 L438.50,193.66 L439.00,193.91 L439.50,194.14 L440.00,194.35 L440.50,194.54 L441.00,194.71 L441.50,194.87 L442.00,195.01 L442.50,195.14 L443.00,195.26 L443.50,195.37 L444.00,195.47 L444.50,195.56 L445.00,195.64 L445.50,195.71 L446.00,195.77 L446.50,195.83 L447.00,195.89 L447.50,195.93 L448.00,195.97 L448.50,196.01 L449.00,196.05 L449.50,196.08 L450.00,196.10 L450.50,196.13 L451.00,196.15 L451.50,196.17 L452.00,196.18 L452.50,196.20 L453.00,196.21 L453.50,196.22 L454.00,196.23 L454.50,196.24 L455.00,196.25 L455.50,196.26 L456.00,196.26 L456.50,196.27 L457.00,196.27 L457.50,196.28 L458.00,196.28 L458.50,196.28 L459.00,196.28 L459.50,196.29 L460.00,196.29 L460.50,196.29 L461.00,196.29 L461.50,196.29 L462.00,196.29 L462.50,196.29 L463.00,196.30 L463.50,196.30 L464.00,196.30 L464.50,196.30 L465.00,196.30 L465.50,196.30 L466.00,196.30 L466.50,196.30 L467.00,196.30" fill="none" stroke="#0a84f0" stroke-width="1.95"/>
<path d="M292.00,196.30 L292.50,196.30 L293.00,196.30 L293.50,196.30 L294.00,196.30 L294.50,196.30 L295.00,196.30 L295.50,196.30 L296.00,196.30 L296.50,196.30 L297.00,196.30 L297.50,196.30 L298.00,196.30 L298.50,196.30 L299.00,196.30 L299.50,196.30 L300.00,196.30 L300.50,196.30 L301.00,196.30 L301.50,196.30 L302.00,196.30 L302.50,196.30 L303.00,196.30 L303.50,196.30 L304.00,196.30 L304.50,196.30 L305.00,196.30 L305.50,196.30 L306.00,196.30 L306.50,196.30 L307.00,196.30 L307.50,196.30 L308.00,196.30 L308.50,196.30 L309.00,196.29 L309.50,196.29 L310.00,196.29 L310.50,196.29 L311.00,196.28 L311.50,196.28 L312.00,196.27 L312.50,196.26 L313.00,196.25 L313.50,196.24 L314.00,196.23 L314.50,196.21 L315.00,196.18 L315.50,196.15 L316.00,196.11 L316.50,196.07 L317.00,196.01 L317.50,195.94 L318.00,195.86 L318.50,195.76 L319.00,195.64 L319.50,195.49 L320.00,195.32 L320.50,195.11 L321.00,194.87 L321.50,194.58 L322.00,194.24 L322.50,193.84 L323.00,193.37 L323.50,192.83 L324.00,192.21 L324.50,191.48 L325.00,190.66 L325.50,189.71 L326.00,188.63 L326.50,187.41 L327.00,186.04 L327.50,184.49 L328.00,182.76 L328.50,180.83 L329.00,178.69 L329.50,176.32 L330.00,173.73 L330.50,170.88 L331.00,167.78 L331.50,164.42 L332.00,160.79 L332.50,156.90 L333.00,152.73 L333.50,148.30 L334.00,143.60 L334.50,138.66 L335.00,133.49 L335.50,128.09 L336.00,122.50 L336.50,116.75 L337.00,110.85 L337.50,104.85 L338.00,98.79 L338.50,92.69 L339.00,86.62 L339.50,80.61 L340.00,74.71 L340.50,68.98 L341.00,63.45 L341.50,58.19 L342.00,53.25 L342.50,48.66 L343.00,44.47 L343.50,40.74 L344.00,37.49 L344.50,34.75 L345.00,32.57 L345.50,30.96 L346.00,29.94 L346.50,29.51 L347.00,29.69 L347.50,30.48 L348.00,31.86 L348.50,33.81 L349.00,36.33 L349.50,39.38 L350.00,42.92 L350.50,46.93 L351.00,51.37 L351.50,56.18 L352.00,61.32 L352.50,66.74 L353.00,72.40 L353.50,78.23 L354.00,84.20 L354.50,90.26 L355.00,96.35 L355.50,102.43 L356.00,108.46 L356.50,114.40 L357.00,120.22 L357.50,125.88 L358.00,131.35 L358.50,136.62 L359.00,141.66 L359.50,146.45 L360.00,150.99 L360.50,155.26 L361.00,159.27 L361.50,163.00 L362.00,166.47 L362.50,169.67 L363.00,172.62 L363.50,175.31 L364.00,177.77 L364.50,180.00 L365.00,182.01 L365.50,183.82 L366.00,185.44 L366.50,186.88 L367.00,188.16 L367.50,189.30 L368.00,190.29 L368.50,191.17 L369.00,191.93 L369.50,192.59 L370.00,193.16 L370.50,193.66 L371.00,194.08 L371.50,194.45 L372.00,194.76 L372.50,195.02 L373.00,195.24 L373.50,195.43 L374.00,195.58 L374.50,195.71 L375.00,195.82 L375.50,195.91 L376.00,195.99 L376.50,196.05 L377.00,196.10 L377.50,196.14 L378.00,196.17 L378.50,196.20 L379.00,196.22 L379.50,196.24 L380.00,196.25 L380.50,196.26 L381.00,196.27 L381.50,196.28 L382.00,196.28 L382.50,196.29 L383.00,196.29 L383.50,196.29 L384.00,196.29 L384.50,196.30 L385.00,196.30 L385.50,196.30 L386.00,196.30 L386.50,196.30 L387.00,196.30 L387.50,196.30 L388.00,196.30 L388.50,196.30 L389.00,196.30 L389.50,196.30 L390.00,196.30 L390.50,196.30 L391.00,196.30 L391.50,196.30 L392.00,196.30 L392.50,196.30 L393.00,196.30 L393.50,196.30 L394.00,196.30 L394.50,196.30 L395.00,196.30 L395.50,196.30 L396.00,196.30 L396.50,196.30 L397.00,196.30 L397.50,196.30 L398.00,196.30 L398.50,196.30 L399.00,196.30 L399.50,196.30 L400.00,196.30 L400.50,196.30 L401.00,196.30 L401.50,196.30 L402.00,196.30 L402.50,196.30 L403.00,196.30 L403.50,196.30 L404.00,196.30 L404.50,196.30 L405.00,196.30 L405.50,196.30 L406.00,196.30 L406.50,196.30 L407.00,196.30 L407.50,196.30 L408.00,196.30 L408.50,196.30 L409.00,196.30 L409.50,196.30 L410.00,196.30 L410.50,196.30 L411.00,196.30 L411.50,196.30 L412.00,196.30 L412.50,196.30 L413.00,196.30 L413.50,196.30 L414.00,196.30 L414.50,196.30 L415.00,196.30 L415.50,196.30 L416.00,196.30 L416.50,196.30 L417.00,196.30 L417.50,196.30 L418.00,196.30 L418.50,196.30 L419.00,196.30 L419.50,196.30 L420.00,196.30 L420.50,196.30 L421.00,196.30 L421.50,196.30 L422.00,196.30 L422.50,196.30 L423.00,196.30 L423.50,196.30 L424.00,196.30 L424.50,196.30 L425.00,196.30 L425.50,196.30 L426.00,196.30 L426.50,196.30 L427.00,196.30 L427.50,196.30 L428.00,196.30 L428.50,196.30 L429.00,196.30 L429.50,196.30 L430.00,196.30 L430.50,196.30 L431.00,196.30 L431.50,196.30 L432.00,196.30 L432.50,196.30 L433.00,196.30 L433.50,196.30 L434.00,196.30 L434.50,196.30 L435.00,196.30 L435.50,196.30 L436.00,196.30 L436.50,196.30 L437.00,196.30 L437.50,196.30 L438.00,196.30 L438.50,196.30 L439.00,196.30 L439.50,196.30 L440.00,196.30 L440.50,196.30 L441.00,196.30 L441.50,196.30 L442.00,196.30 L442.50,196.30 L443.00,196.30 L443.50,196.30 L444.00,196.30 L444.50,196.30 L445.00,196.30 L445.50,196.30 L446.00,196.30 L446.50,196.30 L447.00,196.30 L447.50,196.30 L448.00,196.30 L448.50,196.30 L449.00,196.30 L449.50,196.30 L450.00,196.30 L450.50,196.30 L451.00,196.30 L451.50,196.30 L452.00,196.30 L452.50,196.30 L453.00,196.30 L453.50,196.30 L454.00,196.30 L454.50,196.30 L455.00,196.30 L455.50,196.30 L456.00,196.30 L456.50,196.30 L457.00,196.30 L457.50,196.30 L458.00,196.30 L458.50,196.30 L459.00,196.30 L459.50,196.30 L460.00,196.30 L460.50,196.30 L461.00,196.30 L461.50,196.30 L462.00,196.30 L462.50,196.30 L463.00,196.30 L463.50,196.30 L464.00,196.30 L464.50,196.30 L465.00,196.30 L465.50,196.30 L466.00,196.30 L466.50,196.30 L467.00,196.30" fill="none" stroke="#f0287a" stroke-width="1.95"/>
<text x="354.7" y="33.7" font-size="12" text-anchor="start" fill="#f0287a" textLength="27" lengthAdjust="spacingAndGlyphs">-2.52</text>
<text x="405.4" y="32.8" font-size="12" text-anchor="start" fill="#1a8ef0" textLength="23.3" lengthAdjust="spacingAndGlyphs">0.97</text>
<text transform="translate(303.8 33.75) rotate(-90)" x="0" y="0" font-size="11.2" text-anchor="middle" fill="#333" textLength="18.5" lengthAdjust="spacingAndGlyphs">NHT</text>
<rect x="296.4" y="45.9" width="7.4" height="7.5" fill="#8c8d91"/>
<text transform="translate(303.8 83.65) rotate(-90)" x="0" y="0" font-size="11.2" text-anchor="middle" fill="#333" textLength="46.5" lengthAdjust="spacingAndGlyphs">TP53+NF2</text>
<rect x="296.4" y="111.4" width="7.4" height="7.5" fill="#0a84ff"/>
<text transform="translate(303.8 131.95) rotate(-90)" x="0" y="0" font-size="11.2" text-anchor="middle" fill="#333" textLength="13.1" lengthAdjust="spacingAndGlyphs">CE</text>
<rect x="296.4" y="142" width="7.4" height="7.6" fill="#df0080"/>
<text x="464.5" y="12.9" font-size="17" text-anchor="start" fill="#000" font-weight="bold">d</text>
<line x1="611.4" y1="23.22" x2="611.4" y2="196.4" stroke="#707070" stroke-width="1.1" stroke-dasharray="3.2,2.5"/>
<line x1="507.3" y1="92.5" x2="680.88" y2="92.5" stroke="#707070" stroke-width="1.1" stroke-dasharray="3.2,2.5"/>
<line x1="507.3" y1="23.22" x2="507.3" y2="201" stroke="#1e1e1e" stroke-width="0.95"/>
<line x1="502.7" y1="196.4" x2="680.88" y2="196.4" stroke="#1e1e1e" stroke-width="0.95"/>
<line x1="502.7" y1="23.22" x2="507.3" y2="23.22" stroke="#1e1e1e" stroke-width="0.95"/>
<line x1="502.7" y1="57.86" x2="507.3" y2="57.86" stroke="#1e1e1e" stroke-width="0.95"/>
<line x1="502.7" y1="92.5" x2="507.3" y2="92.5" stroke="#1e1e1e" stroke-width="0.95"/>
<line x1="502.7" y1="127.14" x2="507.3" y2="127.14" stroke="#1e1e1e" stroke-width="0.95"/>
<line x1="502.7" y1="161.78" x2="507.3" y2="161.78" stroke="#1e1e1e" stroke-width="0.95"/>
<text x="500.5" y="27.62" font-size="12.8" text-anchor="end" fill="#1a1a1a">4</text>
<text x="500.5" y="62.26" font-size="12.8" text-anchor="end" fill="#1a1a1a">2</text>
<text x="500.5" y="96.9" font-size="12.8" text-anchor="end" fill="#1a1a1a">0</text>
<text x="500.5" y="131.54" font-size="12.8" text-anchor="end" fill="#1a1a1a">-2</text>
<text x="500.5" y="166.18" font-size="12.8" text-anchor="end" fill="#1a1a1a">-4</text>
<text x="500.5" y="200.82" font-size="12.8" text-anchor="end" fill="#1a1a1a">-6</text>
<line x1="541.92" y1="196.4" x2="541.92" y2="201" stroke="#1e1e1e" stroke-width="0.95"/>
<line x1="576.66" y1="196.4" x2="576.66" y2="201" stroke="#1e1e1e" stroke-width="0.95"/>
<line x1="611.4" y1="196.4" x2="611.4" y2="201" stroke="#1e1e1e" stroke-width="0.95"/>
<line x1="646.14" y1="196.4" x2="646.14" y2="201" stroke="#1e1e1e" stroke-width="0.95"/>
<line x1="680.88" y1="196.4" x2="680.88" y2="201" stroke="#1e1e1e" stroke-width="0.95"/>
<text x="507.18" y="216" font-size="12.8" text-anchor="middle" fill="#1a1a1a">-6</text>
<text x="541.92" y="216" font-size="12.8" text-anchor="middle" fill="#1a1a1a">-4</text>
<text x="576.66" y="216" font-size="12.8" text-anchor="middle" fill="#1a1a1a">-2</text>
<text x="611.4" y="216" font-size="12.8" text-anchor="middle" fill="#1a1a1a">0</text>
<text x="646.14" y="216" font-size="12.8" text-anchor="middle" fill="#1a1a1a">2</text>
<text x="680.88" y="216" font-size="12.8" text-anchor="middle" fill="#1a1a1a">4</text>
<text x="594.1" y="228.7" font-size="12.4" text-anchor="middle" fill="#1a1a1a" textLength="131.8" lengthAdjust="spacingAndGlyphs">enAsCas12a (gene LFC)</text>
<text transform="translate(486.8 113.3) rotate(-90)" x="0" y="0" font-size="12.4" text-anchor="middle" fill="#1a1a1a" textLength="201" lengthAdjust="spacingAndGlyphs">enAsCas12a (dual-gRNA) (gene LFC)</text>
<rect x="510" y="22.9" width="8" height="8" fill="#df0080"/>
<text x="520.9" y="30.5" font-size="10.4" text-anchor="start" fill="#333">CE-CE</text>
<rect x="510" y="33" width="8" height="8" fill="#0a84ff"/>
<text x="520.9" y="40.6" font-size="10.4" text-anchor="start" fill="#333">TS-TS</text>
<rect x="510" y="43.1" width="8" height="8" fill="#1a8c3f"/>
<text x="520.9" y="50.7" font-size="10.4" text-anchor="start" fill="#333">NHT-CE</text>
<rect x="510" y="53.2" width="8" height="8" fill="#8a8b8f"/>
<text x="520.9" y="60.8" font-size="10.4" text-anchor="start" fill="#333">NHT-TS</text>
<text x="509.7" y="71.6" font-size="11.9" text-anchor="start" fill="#1a1a1a" textLength="92.3" lengthAdjust="spacingAndGlyphs">Spearman r: 0.84</text>
<line x1="507.6" y1="108.4" x2="544.4" y2="108.4" stroke="#e0388e" stroke-width="1" stroke-dasharray="3.4,2.4"/>
<line x1="507.6" y1="167.4" x2="535" y2="167.4" stroke="#e0388e" stroke-width="1" stroke-dasharray="3.4,2.4"/>
<line x1="532.5" y1="147.9" x2="532.5" y2="196.4" stroke="#e0388e" stroke-width="1" stroke-dasharray="3.4,2.4"/>
<line x1="564.2" y1="142" x2="564.2" y2="196.4" stroke="#e0388e" stroke-width="1" stroke-dasharray="3.4,2.4"/>
<text transform="translate(522.2 139.4) rotate(-90)" x="0" y="0" font-size="10.2" text-anchor="middle" fill="#e0388e" textLength="28.6" lengthAdjust="spacingAndGlyphs">Δ=3.01</text>
<text x="535" y="187.6" font-size="10.2" text-anchor="start" fill="#e0388e" textLength="28.6" lengthAdjust="spacingAndGlyphs">Δ=1.43</text>
<circle cx="643.60" cy="57.50" r="3.85" fill="#858585" fill-opacity="0.45" stroke="#4a4a4a" stroke-opacity="0.6" stroke-width="0.5"/>
<circle cx="650.70" cy="61.60" r="3.85" fill="#858585" fill-opacity="0.45" stroke="#4a4a4a" stroke-opacity="0.6" stroke-width="0.5"/>
<circle cx="636.60" cy="64.50" r="3.85" fill="#858585" fill-opacity="0.45" stroke="#4a4a4a" stroke-opacity="0.6" stroke-width="0.5"/>
<circle cx="651.80" cy="73.30" r="3.85" fill="#858585" fill-opacity="0.45" stroke="#4a4a4a" stroke-opacity="0.6" stroke-width="0.5"/>
<circle cx="631.40" cy="75.00" r="3.85" fill="#858585" fill-opacity="0.45" stroke="#4a4a4a" stroke-opacity="0.6" stroke-width="0.5"/>
<circle cx="638.40" cy="78.50" r="3.85" fill="#858585" fill-opacity="0.45" stroke="#4a4a4a" stroke-opacity="0.6" stroke-width="0.5"/>
<circle cx="650.00" cy="85.00" r="3.85" fill="#858585" fill-opacity="0.45" stroke="#4a4a4a" stroke-opacity="0.6" stroke-width="0.5"/>
<circle cx="636.00" cy="85.00" r="3.85" fill="#858585" fill-opacity="0.45" stroke="#4a4a4a" stroke-opacity="0.6" stroke-width="0.5"/>
<circle cx="629.00" cy="82.00" r="3.85" fill="#858585" fill-opacity="0.45" stroke="#4a4a4a" stroke-opacity="0.6" stroke-width="0.5"/>
<circle cx="634.90" cy="89.00" r="3.85" fill="#858585" fill-opacity="0.45" stroke="#4a4a4a" stroke-opacity="0.6" stroke-width="0.5"/>
<circle cx="606.90" cy="79.70" r="3.85" fill="#858585" fill-opacity="0.45" stroke="#4a4a4a" stroke-opacity="0.6" stroke-width="0.5"/>
<circle cx="619.70" cy="78.50" r="3.85" fill="#858585" fill-opacity="0.45" stroke="#4a4a4a" stroke-opacity="0.6" stroke-width="0.5"/>
<circle cx="603.40" cy="86.70" r="3.85" fill="#858585" fill-opacity="0.45" stroke="#4a4a4a" stroke-opacity="0.6" stroke-width="0.5"/>
<circle cx="594.00" cy="92.00" r="3.85" fill="#858585" fill-opacity="0.45" stroke="#4a4a4a" stroke-opacity="0.6" stroke-width="0.5"/>
<circle cx="623.20" cy="98.40" r="3.85" fill="#858585" fill-opacity="0.45" stroke="#4a4a4a" stroke-opacity="0.6" stroke-width="0.5"/>
<circle cx="631.40" cy="100.70" r="3.85" fill="#858585" fill-opacity="0.45" stroke="#4a4a4a" stroke-opacity="0.6" stroke-width="0.5"/>
<circle cx="592.80" cy="101.90" r="3.85" fill="#858585" fill-opacity="0.45" stroke="#4a4a4a" stroke-opacity="0.6" stroke-width="0.5"/>
<circle cx="619.70" cy="108.90" r="3.85" fill="#858585" fill-opacity="0.45" stroke="#4a4a4a" stroke-opacity="0.6" stroke-width="0.5"/>
<circle cx="594.00" cy="110.00" r="3.85" fill="#858585" fill-opacity="0.45" stroke="#4a4a4a" stroke-opacity="0.6" stroke-width="0.5"/>
<circle cx="611.50" cy="114.70" r="3.85" fill="#858585" fill-opacity="0.45" stroke="#4a4a4a" stroke-opacity="0.6" stroke-width="0.5"/>
<circle cx="606.90" cy="115.90" r="3.85" fill="#858585" fill-opacity="0.45" stroke="#4a4a4a" stroke-opacity="0.6" stroke-width="0.5"/>
<circle cx="588.20" cy="123.50" r="3.85" fill="#858585" fill-opacity="0.45" stroke="#4a4a4a" stroke-opacity="0.6" stroke-width="0.5"/>
<circle cx="602.20" cy="124.10" r="3.85" fill="#858585" fill-opacity="0.45" stroke="#4a4a4a" stroke-opacity="0.6" stroke-width="0.5"/>
<circle cx="617.40" cy="126.40" r="3.85" fill="#858585" fill-opacity="0.45" stroke="#4a4a4a" stroke-opacity="0.6" stroke-width="0.5"/>
<circle cx="594.60" cy="131.10" r="3.85" fill="#858585" fill-opacity="0.45" stroke="#4a4a4a" stroke-opacity="0.6" stroke-width="0.5"/>
<circle cx="591.70" cy="137.50" r="3.85" fill="#858585" fill-opacity="0.45" stroke="#4a4a4a" stroke-opacity="0.6" stroke-width="0.5"/>
<circle cx="588.00" cy="123.50" r="3.85" fill="#858585" fill-opacity="0.45" stroke="#4a4a4a" stroke-opacity="0.6" stroke-width="0.5"/>
<circle cx="594.00" cy="131.20" r="3.85" fill="#858585" fill-opacity="0.45" stroke="#4a4a4a" stroke-opacity="0.6" stroke-width="0.5"/>
<circle cx="591.80" cy="139.40" r="3.85" fill="#858585" fill-opacity="0.45" stroke="#4a4a4a" stroke-opacity="0.6" stroke-width="0.5"/>
<circle cx="584.10" cy="153.10" r="3.85" fill="#858585" fill-opacity="0.45" stroke="#4a4a4a" stroke-opacity="0.6" stroke-width="0.5"/>
<circle cx="640.00" cy="60.00" r="3.85" fill="#858585" fill-opacity="0.45" stroke="#4a4a4a" stroke-opacity="0.6" stroke-width="0.5"/>
<circle cx="645.00" cy="70.00" r="3.85" fill="#858585" fill-opacity="0.45" stroke="#4a4a4a" stroke-opacity="0.6" stroke-width="0.5"/>
<circle cx="602.81" cy="112.18" r="3.85" fill="#858585" fill-opacity="0.45" stroke="#4a4a4a" stroke-opacity="0.6" stroke-width="0.5"/>
<circle cx="612.98" cy="85.82" r="3.85" fill="#858585" fill-opacity="0.45" stroke="#4a4a4a" stroke-opacity="0.6" stroke-width="0.5"/>
<circle cx="599.86" cy="111.88" r="3.85" fill="#858585" fill-opacity="0.45" stroke="#4a4a4a" stroke-opacity="0.6" stroke-width="0.5"/>
<circle cx="617.75" cy="96.42" r="3.85" fill="#858585" fill-opacity="0.45" stroke="#4a4a4a" stroke-opacity="0.6" stroke-width="0.5"/>
<circle cx="594.37" cy="106.78" r="3.85" fill="#858585" fill-opacity="0.45" stroke="#4a4a4a" stroke-opacity="0.6" stroke-width="0.5"/>
<circle cx="616.09" cy="92.02" r="3.85" fill="#858585" fill-opacity="0.45" stroke="#4a4a4a" stroke-opacity="0.6" stroke-width="0.5"/>
<circle cx="624.16" cy="84.86" r="3.85" fill="#858585" fill-opacity="0.45" stroke="#4a4a4a" stroke-opacity="0.6" stroke-width="0.5"/>
<circle cx="606.93" cy="98.21" r="3.85" fill="#858585" fill-opacity="0.45" stroke="#4a4a4a" stroke-opacity="0.6" stroke-width="0.5"/>
<circle cx="598.01" cy="102.70" r="3.85" fill="#858585" fill-opacity="0.45" stroke="#4a4a4a" stroke-opacity="0.6" stroke-width="0.5"/>
<circle cx="610.37" cy="97.45" r="3.85" fill="#858585" fill-opacity="0.45" stroke="#4a4a4a" stroke-opacity="0.6" stroke-width="0.5"/>
<circle cx="606.40" cy="101.46" r="3.85" fill="#858585" fill-opacity="0.45" stroke="#4a4a4a" stroke-opacity="0.6" stroke-width="0.5"/>
<circle cx="614.33" cy="97.31" r="3.85" fill="#858585" fill-opacity="0.45" stroke="#4a4a4a" stroke-opacity="0.6" stroke-width="0.5"/>
<circle cx="617.33" cy="87.04" r="3.85" fill="#858585" fill-opacity="0.45" stroke="#4a4a4a" stroke-opacity="0.6" stroke-width="0.5"/>
<circle cx="600.72" cy="119.20" r="3.85" fill="#858585" fill-opacity="0.45" stroke="#4a4a4a" stroke-opacity="0.6" stroke-width="0.5"/>
<circle cx="598.72" cy="112.50" r="3.85" fill="#858585" fill-opacity="0.45" stroke="#4a4a4a" stroke-opacity="0.6" stroke-width="0.5"/>
<circle cx="599.25" cy="113.63" r="3.85" fill="#858585" fill-opacity="0.45" stroke="#4a4a4a" stroke-opacity="0.6" stroke-width="0.5"/>
<circle cx="604.93" cy="106.93" r="3.85" fill="#858585" fill-opacity="0.45" stroke="#4a4a4a" stroke-opacity="0.6" stroke-width="0.5"/>
<circle cx="607.85" cy="84.86" r="3.85" fill="#858585" fill-opacity="0.45" stroke="#4a4a4a" stroke-opacity="0.6" stroke-width="0.5"/>
<circle cx="610.46" cy="103.16" r="3.85" fill="#858585" fill-opacity="0.45" stroke="#4a4a4a" stroke-opacity="0.6" stroke-width="0.5"/>
<circle cx="610.27" cy="100.16" r="3.85" fill="#858585" fill-opacity="0.45" stroke="#4a4a4a" stroke-opacity="0.6" stroke-width="0.5"/>
<circle cx="604.56" cy="93.71" r="3.85" fill="#858585" fill-opacity="0.45" stroke="#4a4a4a" stroke-opacity="0.6" stroke-width="0.5"/>
<circle cx="608.60" cy="89.44" r="3.85" fill="#858585" fill-opacity="0.45" stroke="#4a4a4a" stroke-opacity="0.6" stroke-width="0.5"/>
<circle cx="618.83" cy="76.55" r="3.85" fill="#858585" fill-opacity="0.45" stroke="#4a4a4a" stroke-opacity="0.6" stroke-width="0.5"/>
<circle cx="613.56" cy="90.73" r="3.85" fill="#858585" fill-opacity="0.45" stroke="#4a4a4a" stroke-opacity="0.6" stroke-width="0.5"/>
<circle cx="612.24" cy="85.99" r="3.85" fill="#858585" fill-opacity="0.45" stroke="#4a4a4a" stroke-opacity="0.6" stroke-width="0.5"/>
<circle cx="614.99" cy="87.02" r="3.85" fill="#858585" fill-opacity="0.45" stroke="#4a4a4a" stroke-opacity="0.6" stroke-width="0.5"/>
<circle cx="620.54" cy="86.59" r="3.85" fill="#858585" fill-opacity="0.45" stroke="#4a4a4a" stroke-opacity="0.6" stroke-width="0.5"/>
<circle cx="605.97" cy="94.02" r="3.85" fill="#858585" fill-opacity="0.45" stroke="#4a4a4a" stroke-opacity="0.6" stroke-width="0.5"/>
<circle cx="616.47" cy="91.35" r="3.85" fill="#858585" fill-opacity="0.45" stroke="#4a4a4a" stroke-opacity="0.6" stroke-width="0.5"/>
<circle cx="617.96" cy="79.40" r="3.85" fill="#858585" fill-opacity="0.45" stroke="#4a4a4a" stroke-opacity="0.6" stroke-width="0.5"/>
<circle cx="615.26" cy="93.73" r="3.85" fill="#858585" fill-opacity="0.45" stroke="#4a4a4a" stroke-opacity="0.6" stroke-width="0.5"/>
<circle cx="611.94" cy="95.66" r="3.85" fill="#858585" fill-opacity="0.45" stroke="#4a4a4a" stroke-opacity="0.6" stroke-width="0.5"/>
<circle cx="607.16" cy="94.17" r="3.85" fill="#858585" fill-opacity="0.45" stroke="#4a4a4a" stroke-opacity="0.6" stroke-width="0.5"/>
<circle cx="600.26" cy="107.49" r="3.85" fill="#858585" fill-opacity="0.45" stroke="#4a4a4a" stroke-opacity="0.6" stroke-width="0.5"/>
<circle cx="620.60" cy="96.54" r="3.85" fill="#858585" fill-opacity="0.45" stroke="#4a4a4a" stroke-opacity="0.6" stroke-width="0.5"/>
<circle cx="620.83" cy="90.99" r="3.85" fill="#858585" fill-opacity="0.45" stroke="#4a4a4a" stroke-opacity="0.6" stroke-width="0.5"/>
<circle cx="617.70" cy="91.98" r="3.85" fill="#858585" fill-opacity="0.45" stroke="#4a4a4a" stroke-opacity="0.6" stroke-width="0.5"/>
<circle cx="614.14" cy="98.51" r="3.85" fill="#858585" fill-opacity="0.45" stroke="#4a4a4a" stroke-opacity="0.6" stroke-width="0.5"/>
<circle cx="619.08" cy="78.16" r="3.85" fill="#858585" fill-opacity="0.45" stroke="#4a4a4a" stroke-opacity="0.6" stroke-width="0.5"/>
<circle cx="614.38" cy="111.59" r="3.85" fill="#858585" fill-opacity="0.45" stroke="#4a4a4a" stroke-opacity="0.6" stroke-width="0.5"/>
<circle cx="615.56" cy="98.49" r="3.85" fill="#858585" fill-opacity="0.45" stroke="#4a4a4a" stroke-opacity="0.6" stroke-width="0.5"/>
<circle cx="609.01" cy="85.13" r="3.85" fill="#858585" fill-opacity="0.45" stroke="#4a4a4a" stroke-opacity="0.6" stroke-width="0.5"/>
<circle cx="614.00" cy="98.52" r="3.85" fill="#858585" fill-opacity="0.45" stroke="#4a4a4a" stroke-opacity="0.6" stroke-width="0.5"/>
<circle cx="605.34" cy="93.84" r="3.85" fill="#858585" fill-opacity="0.45" stroke="#4a4a4a" stroke-opacity="0.6" stroke-width="0.5"/>
<circle cx="610.16" cy="100.38" r="3.85" fill="#858585" fill-opacity="0.45" stroke="#4a4a4a" stroke-opacity="0.6" stroke-width="0.5"/>
<circle cx="620.00" cy="88.43" r="3.85" fill="#858585" fill-opacity="0.45" stroke="#4a4a4a" stroke-opacity="0.6" stroke-width="0.5"/>
<circle cx="616.29" cy="101.68" r="3.85" fill="#858585" fill-opacity="0.45" stroke="#4a4a4a" stroke-opacity="0.6" stroke-width="0.5"/>
<circle cx="608.00" cy="108.59" r="3.85" fill="#858585" fill-opacity="0.45" stroke="#4a4a4a" stroke-opacity="0.6" stroke-width="0.5"/>
<circle cx="614.88" cy="85.28" r="3.85" fill="#858585" fill-opacity="0.45" stroke="#4a4a4a" stroke-opacity="0.6" stroke-width="0.5"/>
<circle cx="592.53" cy="114.10" r="3.85" fill="#858585" fill-opacity="0.45" stroke="#4a4a4a" stroke-opacity="0.6" stroke-width="0.5"/>
<circle cx="613.26" cy="97.17" r="3.85" fill="#858585" fill-opacity="0.45" stroke="#4a4a4a" stroke-opacity="0.6" stroke-width="0.5"/>
<circle cx="614.15" cy="78.40" r="3.85" fill="#858585" fill-opacity="0.45" stroke="#4a4a4a" stroke-opacity="0.6" stroke-width="0.5"/>
<circle cx="612.31" cy="100.04" r="3.85" fill="#858585" fill-opacity="0.45" stroke="#4a4a4a" stroke-opacity="0.6" stroke-width="0.5"/>
<circle cx="610.98" cy="84.44" r="3.85" fill="#858585" fill-opacity="0.45" stroke="#4a4a4a" stroke-opacity="0.6" stroke-width="0.5"/>
<circle cx="607.40" cy="103.08" r="3.85" fill="#858585" fill-opacity="0.45" stroke="#4a4a4a" stroke-opacity="0.6" stroke-width="0.5"/>
<circle cx="617.68" cy="101.75" r="3.85" fill="#858585" fill-opacity="0.45" stroke="#4a4a4a" stroke-opacity="0.6" stroke-width="0.5"/>
<circle cx="617.93" cy="104.78" r="3.85" fill="#858585" fill-opacity="0.45" stroke="#4a4a4a" stroke-opacity="0.6" stroke-width="0.5"/>
<circle cx="602.05" cy="103.75" r="3.85" fill="#858585" fill-opacity="0.45" stroke="#4a4a4a" stroke-opacity="0.6" stroke-width="0.5"/>
<circle cx="621.02" cy="94.89" r="3.85" fill="#858585" fill-opacity="0.45" stroke="#4a4a4a" stroke-opacity="0.6" stroke-width="0.5"/>
<circle cx="614.87" cy="92.03" r="3.85" fill="#858585" fill-opacity="0.45" stroke="#4a4a4a" stroke-opacity="0.6" stroke-width="0.5"/>
<circle cx="593.31" cy="115.04" r="3.85" fill="#858585" fill-opacity="0.45" stroke="#4a4a4a" stroke-opacity="0.6" stroke-width="0.5"/>
<circle cx="602.24" cy="102.78" r="3.85" fill="#858585" fill-opacity="0.45" stroke="#4a4a4a" stroke-opacity="0.6" stroke-width="0.5"/>
<circle cx="611.18" cy="90.72" r="3.85" fill="#858585" fill-opacity="0.45" stroke="#4a4a4a" stroke-opacity="0.6" stroke-width="0.5"/>
<circle cx="614.64" cy="89.91" r="3.85" fill="#858585" fill-opacity="0.45" stroke="#4a4a4a" stroke-opacity="0.6" stroke-width="0.5"/>
<circle cx="607.40" cy="101.90" r="3.85" fill="#858585" fill-opacity="0.45" stroke="#4a4a4a" stroke-opacity="0.6" stroke-width="0.5"/>
<circle cx="616.21" cy="96.18" r="3.85" fill="#858585" fill-opacity="0.45" stroke="#4a4a4a" stroke-opacity="0.6" stroke-width="0.5"/>
<circle cx="604.65" cy="102.32" r="3.85" fill="#858585" fill-opacity="0.45" stroke="#4a4a4a" stroke-opacity="0.6" stroke-width="0.5"/>
<circle cx="608.13" cy="117.55" r="3.85" fill="#858585" fill-opacity="0.45" stroke="#4a4a4a" stroke-opacity="0.6" stroke-width="0.5"/>
<circle cx="617.71" cy="82.04" r="3.85" fill="#858585" fill-opacity="0.45" stroke="#4a4a4a" stroke-opacity="0.6" stroke-width="0.5"/>
<circle cx="599.54" cy="99.14" r="3.85" fill="#858585" fill-opacity="0.45" stroke="#4a4a4a" stroke-opacity="0.6" stroke-width="0.5"/>
<circle cx="611.18" cy="96.85" r="3.85" fill="#858585" fill-opacity="0.45" stroke="#4a4a4a" stroke-opacity="0.6" stroke-width="0.5"/>
<circle cx="624.71" cy="75.66" r="3.85" fill="#858585" fill-opacity="0.45" stroke="#4a4a4a" stroke-opacity="0.6" stroke-width="0.5"/>
<circle cx="619.30" cy="83.66" r="3.85" fill="#858585" fill-opacity="0.45" stroke="#4a4a4a" stroke-opacity="0.6" stroke-width="0.5"/>
<circle cx="599.26" cy="115.63" r="3.85" fill="#858585" fill-opacity="0.45" stroke="#4a4a4a" stroke-opacity="0.6" stroke-width="0.5"/>
<circle cx="619.32" cy="87.96" r="3.85" fill="#858585" fill-opacity="0.45" stroke="#4a4a4a" stroke-opacity="0.6" stroke-width="0.5"/>
<circle cx="596.95" cy="93.05" r="3.85" fill="#858585" fill-opacity="0.45" stroke="#4a4a4a" stroke-opacity="0.6" stroke-width="0.5"/>
<circle cx="600.25" cy="94.40" r="3.85" fill="#858585" fill-opacity="0.45" stroke="#4a4a4a" stroke-opacity="0.6" stroke-width="0.5"/>
<circle cx="602.07" cy="84.88" r="3.85" fill="#858585" fill-opacity="0.45" stroke="#4a4a4a" stroke-opacity="0.6" stroke-width="0.5"/>
<circle cx="609.19" cy="111.50" r="3.85" fill="#858585" fill-opacity="0.45" stroke="#4a4a4a" stroke-opacity="0.6" stroke-width="0.5"/>
<circle cx="613.88" cy="76.82" r="3.85" fill="#858585" fill-opacity="0.45" stroke="#4a4a4a" stroke-opacity="0.6" stroke-width="0.5"/>
<circle cx="544.1" cy="112.5" r="3.85" fill="#e0007f" stroke="#3a0a25" stroke-width="0.5"/>
<circle cx="547.5" cy="118.7" r="3.85" fill="#e0007f" stroke="#3a0a25" stroke-width="0.5"/>
<circle cx="541" cy="122.1" r="3.85" fill="#e0007f" stroke="#3a0a25" stroke-width="0.5"/>
<circle cx="549.2" cy="124.9" r="3.85" fill="#e0007f" stroke="#3a0a25" stroke-width="0.5"/>
<circle cx="552.6" cy="120.8" r="3.85" fill="#e0007f" stroke="#3a0a25" stroke-width="0.5"/>
<circle cx="547.36" cy="142.06" r="3.85" fill="#e0007f" stroke="#3a0a25" stroke-width="0.5"/>
<circle cx="555.24" cy="129.31" r="3.85" fill="#e0007f" stroke="#3a0a25" stroke-width="0.5"/>
<circle cx="543.02" cy="149.43" r="3.85" fill="#e0007f" stroke="#3a0a25" stroke-width="0.5"/>
<circle cx="547.15" cy="131.4" r="3.85" fill="#e0007f" stroke="#3a0a25" stroke-width="0.5"/>
<circle cx="545.14" cy="129.81" r="3.85" fill="#e0007f" stroke="#3a0a25" stroke-width="0.5"/>
<circle cx="539.19" cy="146.12" r="3.85" fill="#e0007f" stroke="#3a0a25" stroke-width="0.5"/>
<circle cx="550.87" cy="130.23" r="3.85" fill="#e0007f" stroke="#3a0a25" stroke-width="0.5"/>
<circle cx="545.84" cy="119.79" r="3.85" fill="#e0007f" stroke="#3a0a25" stroke-width="0.5"/>
<circle cx="553.22" cy="128.01" r="3.85" fill="#e0007f" stroke="#3a0a25" stroke-width="0.5"/>
<circle cx="542.29" cy="164.96" r="3.85" fill="#e0007f" stroke="#3a0a25" stroke-width="0.5"/>
<circle cx="543.51" cy="164.85" r="3.85" fill="#e0007f" stroke="#3a0a25" stroke-width="0.5"/>
<circle cx="550.45" cy="153.1" r="3.85" fill="#e0007f" stroke="#3a0a25" stroke-width="0.5"/>
<circle cx="550.7" cy="121.65" r="3.85" fill="#e0007f" stroke="#3a0a25" stroke-width="0.5"/>
<circle cx="552.82" cy="125.97" r="3.85" fill="#e0007f" stroke="#3a0a25" stroke-width="0.5"/>
<circle cx="545.19" cy="119.05" r="3.85" fill="#e0007f" stroke="#3a0a25" stroke-width="0.5"/>
<circle cx="536.46" cy="131.85" r="3.85" fill="#e0007f" stroke="#3a0a25" stroke-width="0.5"/>
<circle cx="535.35" cy="132.8" r="3.85" fill="#e0007f" stroke="#3a0a25" stroke-width="0.5"/>
<circle cx="545.57" cy="117.83" r="3.85" fill="#e0007f" stroke="#3a0a25" stroke-width="0.5"/>
<circle cx="543.65" cy="115.44" r="3.85" fill="#e0007f" stroke="#3a0a25" stroke-width="0.5"/>
<circle cx="540.44" cy="145.55" r="3.85" fill="#e0007f" stroke="#3a0a25" stroke-width="0.5"/>
<circle cx="547.19" cy="134.82" r="3.85" fill="#e0007f" stroke="#3a0a25" stroke-width="0.5"/>
<circle cx="544.95" cy="119.29" r="3.85" fill="#e0007f" stroke="#3a0a25" stroke-width="0.5"/>
<circle cx="544.83" cy="117.52" r="3.85" fill="#e0007f" stroke="#3a0a25" stroke-width="0.5"/>
<circle cx="552.15" cy="147.07" r="3.85" fill="#e0007f" stroke="#3a0a25" stroke-width="0.5"/>
<circle cx="550.72" cy="134" r="3.85" fill="#e0007f" stroke="#3a0a25" stroke-width="0.5"/>
<circle cx="558.92" cy="131.91" r="3.85" fill="#e0007f" stroke="#3a0a25" stroke-width="0.5"/>
<circle cx="540.1" cy="132.16" r="3.85" fill="#e0007f" stroke="#3a0a25" stroke-width="0.5"/>
<circle cx="556.3" cy="137.14" r="3.85" fill="#e0007f" stroke="#3a0a25" stroke-width="0.5"/>
<circle cx="546.25" cy="159.06" r="3.85" fill="#e0007f" stroke="#3a0a25" stroke-width="0.5"/>
<circle cx="552.76" cy="155.57" r="3.85" fill="#e0007f" stroke="#3a0a25" stroke-width="0.5"/>
<circle cx="545.8" cy="127.6" r="3.85" fill="#e0007f" stroke="#3a0a25" stroke-width="0.5"/>
<circle cx="536.9" cy="131.1" r="3.85" fill="#e0007f" stroke="#3a0a25" stroke-width="0.5"/>
<circle cx="541.7" cy="129.7" r="3.85" fill="#e0007f" stroke="#3a0a25" stroke-width="0.5"/>
<circle cx="537.5" cy="136.6" r="3.85" fill="#e0007f" stroke="#3a0a25" stroke-width="0.5"/>
<circle cx="541" cy="137.2" r="3.85" fill="#e0007f" stroke="#3a0a25" stroke-width="0.5"/>
<circle cx="545.1" cy="133.8" r="3.85" fill="#e0007f" stroke="#3a0a25" stroke-width="0.5"/>
<circle cx="559.5" cy="126.3" r="3.85" fill="#e0007f" stroke="#3a0a25" stroke-width="0.5"/>
<circle cx="535.8" cy="145.5" r="3.85" fill="#e0007f" stroke="#3a0a25" stroke-width="0.5"/>
<circle cx="541" cy="143.4" r="3.85" fill="#e0007f" stroke="#3a0a25" stroke-width="0.5"/>
<circle cx="543.7" cy="148.9" r="3.85" fill="#e0007f" stroke="#3a0a25" stroke-width="0.5"/>
<circle cx="549.9" cy="148.9" r="3.85" fill="#e0007f" stroke="#3a0a25" stroke-width="0.5"/>
<circle cx="554" cy="149.6" r="3.85" fill="#e0007f" stroke="#3a0a25" stroke-width="0.5"/>
<circle cx="538.9" cy="156.4" r="3.85" fill="#e0007f" stroke="#3a0a25" stroke-width="0.5"/>
<circle cx="545.1" cy="159.9" r="3.85" fill="#e0007f" stroke="#3a0a25" stroke-width="0.5"/>
<circle cx="551.3" cy="155.8" r="3.85" fill="#e0007f" stroke="#3a0a25" stroke-width="0.5"/>
<circle cx="555" cy="156.4" r="3.85" fill="#e0007f" stroke="#3a0a25" stroke-width="0.5"/>
<circle cx="539.3" cy="164.7" r="3.85" fill="#e0007f" stroke="#3a0a25" stroke-width="0.5"/>
<circle cx="548.2" cy="163.6" r="3.85" fill="#e0007f" stroke="#3a0a25" stroke-width="0.5"/>
<circle cx="551.3" cy="164" r="3.85" fill="#e0007f" stroke="#3a0a25" stroke-width="0.5"/>
<circle cx="546.5" cy="153" r="3.85" fill="#e0007f" stroke="#3a0a25" stroke-width="0.5"/>
<circle cx="544" cy="140" r="3.85" fill="#e0007f" stroke="#3a0a25" stroke-width="0.5"/>
<circle cx="550" cy="140" r="3.85" fill="#e0007f" stroke="#3a0a25" stroke-width="0.5"/>
<circle cx="548" cy="132" r="3.85" fill="#e0007f" stroke="#3a0a25" stroke-width="0.5"/>
<circle cx="553" cy="128" r="3.85" fill="#e0007f" stroke="#3a0a25" stroke-width="0.5"/>
<circle cx="539" cy="150" r="3.85" fill="#e0007f" stroke="#3a0a25" stroke-width="0.5"/>
<circle cx="556" cy="143" r="3.85" fill="#e0007f" stroke="#3a0a25" stroke-width="0.5"/>
<circle cx="557.8" cy="121.1" r="3.85" fill="#1a8c3f" stroke="#0a2a10" stroke-width="0.5"/>
<circle cx="556.1" cy="128.3" r="3.85" fill="#1a8c3f" stroke="#0a2a10" stroke-width="0.5"/>
<circle cx="549.9" cy="135.2" r="3.85" fill="#1a8c3f" stroke="#0a2a10" stroke-width="0.5"/>
<circle cx="554" cy="133.8" r="3.85" fill="#1a8c3f" stroke="#0a2a10" stroke-width="0.5"/>
<circle cx="559.5" cy="137.9" r="3.85" fill="#1a8c3f" stroke="#0a2a10" stroke-width="0.5"/>
<circle cx="564.3" cy="136.2" r="3.85" fill="#1a8c3f" stroke="#0a2a10" stroke-width="0.5"/>
<circle cx="566" cy="135.2" r="3.85" fill="#1a8c3f" stroke="#0a2a10" stroke-width="0.5"/>
<circle cx="569.4" cy="141.4" r="3.85" fill="#1a8c3f" stroke="#0a2a10" stroke-width="0.5"/>
<circle cx="549.5" cy="144.8" r="3.85" fill="#1a8c3f" stroke="#0a2a10" stroke-width="0.5"/>
<circle cx="554" cy="143.1" r="3.85" fill="#1a8c3f" stroke="#0a2a10" stroke-width="0.5"/>
<circle cx="560.2" cy="142" r="3.85" fill="#1a8c3f" stroke="#0a2a10" stroke-width="0.5"/>
<circle cx="561.5" cy="130.4" r="3.85" fill="#1a8c3f" stroke="#0a2a10" stroke-width="0.5"/>
<circle cx="579.2" cy="132.8" r="3.85" fill="#1a8c3f" stroke="#0a2a10" stroke-width="0.5"/>
<circle cx="643.6" cy="66.6" r="3.85" fill="#0aa5e8" stroke="#0a2a40" stroke-width="0.5"/>
<circle cx="640.5" cy="70.1" r="3.85" fill="#0aa5e8" stroke="#0a2a40" stroke-width="0.5"/>
<circle cx="615" cy="81.1" r="3.85" fill="#0aa5e8" stroke="#0a2a40" stroke-width="0.5"/>
<circle cx="615.6" cy="87.9" r="3.85" fill="#0aa5e8" stroke="#0a2a40" stroke-width="0.5"/>
<circle cx="620.3" cy="91.4" r="3.85" fill="#0aa5e8" stroke="#0a2a40" stroke-width="0.5"/>
<circle cx="611.5" cy="92.6" r="3.85" fill="#0aa5e8" stroke="#0a2a40" stroke-width="0.5"/>
<circle cx="610.4" cy="97.2" r="3.85" fill="#0aa5e8" stroke="#0a2a40" stroke-width="0.5"/>
<circle cx="605.1" cy="101.9" r="3.85" fill="#0aa5e8" stroke="#0a2a40" stroke-width="0.5"/>
<circle cx="608.6" cy="103.6" r="3.85" fill="#0aa5e8" stroke="#0a2a40" stroke-width="0.5"/>
<circle cx="602.2" cy="103.6" r="3.85" fill="#0aa5e8" stroke="#0a2a40" stroke-width="0.5"/>
<circle cx="601" cy="111.5" r="3.85" fill="#0aa5e8" stroke="#0a2a40" stroke-width="0.5"/>
<circle cx="597.3" cy="123.2" r="3.85" fill="#0aa5e8" stroke="#0a2a40" stroke-width="0.5"/>
<line x1="535.6" y1="146.7" x2="653.1" y2="68.8" stroke="#111" stroke-width="1.2" stroke-dasharray="6.5,4.2"/>
<text x="0.3" y="244.6" font-size="17" text-anchor="start" fill="#000" font-weight="bold">e</text>
<line x1="151.2" y1="258.86" x2="151.2" y2="432.6" stroke="#707070" stroke-width="1.1" stroke-dasharray="3.2,2.5"/>
<line x1="46.5" y1="328.3" x2="220.8" y2="328.3" stroke="#707070" stroke-width="1.1" stroke-dasharray="3.2,2.5"/>
<line x1="46.5" y1="258.86" x2="46.5" y2="439.2" stroke="#1e1e1e" stroke-width="0.95"/>
<line x1="39.9" y1="432.6" x2="220.8" y2="432.6" stroke="#707070" stroke-width="1.35"/>
<line x1="39.9" y1="258.86" x2="46.5" y2="258.86" stroke="#1e1e1e" stroke-width="0.95"/>
<line x1="39.9" y1="293.58" x2="46.5" y2="293.58" stroke="#1e1e1e" stroke-width="0.95"/>
<line x1="39.9" y1="328.3" x2="46.5" y2="328.3" stroke="#1e1e1e" stroke-width="0.95"/>
<line x1="39.9" y1="363.02" x2="46.5" y2="363.02" stroke="#1e1e1e" stroke-width="0.95"/>
<line x1="39.9" y1="397.74" x2="46.5" y2="397.74" stroke="#1e1e1e" stroke-width="0.95"/>
<text x="37.7" y="263.26" font-size="12.8" text-anchor="end" fill="#1a1a1a">4</text>
<text x="37.7" y="297.98" font-size="12.8" text-anchor="end" fill="#1a1a1a">2</text>
<text x="37.7" y="332.7" font-size="12.8" text-anchor="end" fill="#1a1a1a">0</text>
<text x="37.7" y="367.42" font-size="12.8" text-anchor="end" fill="#1a1a1a">-2</text>
<text x="37.7" y="402.14" font-size="12.8" text-anchor="end" fill="#1a1a1a">-4</text>
<text x="37.7" y="436.86" font-size="12.8" text-anchor="end" fill="#1a1a1a">-6</text>
<line x1="81.6" y1="432.6" x2="81.6" y2="439.2" stroke="#707070" stroke-width="1.35"/>
<line x1="116.4" y1="432.6" x2="116.4" y2="439.2" stroke="#707070" stroke-width="1.35"/>
<line x1="151.2" y1="432.6" x2="151.2" y2="439.2" stroke="#707070" stroke-width="1.35"/>
<line x1="186" y1="432.6" x2="186" y2="439.2" stroke="#707070" stroke-width="1.35"/>
<line x1="220.8" y1="432.6" x2="220.8" y2="439.2" stroke="#707070" stroke-width="1.35"/>
<text x="46.8" y="454.2" font-size="12.8" text-anchor="middle" fill="#1a1a1a">-6</text>
<text x="81.6" y="454.2" font-size="12.8" text-anchor="middle" fill="#1a1a1a">-4</text>
<text x="116.4" y="454.2" font-size="12.8" text-anchor="middle" fill="#1a1a1a">-2</text>
<text x="151.2" y="454.2" font-size="12.8" text-anchor="middle" fill="#1a1a1a">0</text>
<text x="186" y="454.2" font-size="12.8" text-anchor="middle" fill="#1a1a1a">2</text>
<text x="220.8" y="454.2" font-size="12.8" text-anchor="middle" fill="#1a1a1a">4</text>
<text x="133.5" y="466.7" font-size="12.4" text-anchor="middle" fill="#1a1a1a" textLength="107" lengthAdjust="spacingAndGlyphs">SpCas9 (gene LFC)</text>
<text transform="translate(21.8 349.2) rotate(-90)" x="0" y="0" font-size="12.4" text-anchor="middle" fill="#1a1a1a" textLength="201" lengthAdjust="spacingAndGlyphs">enAsCas12a (dual-gRNA) (gene LFC)</text>
<rect x="50" y="259.6" width="7" height="7" fill="#df0080"/>
<text x="59.9" y="266.7" font-size="10.2" text-anchor="start" fill="#333">CE-CE</text>
<rect x="50" y="269.5" width="7" height="7" fill="#0a84ff"/>
<text x="59.9" y="276.6" font-size="10.2" text-anchor="start" fill="#333">TS-TS</text>
<rect x="50" y="279.4" width="7" height="7" fill="#1a8c3f"/>
<text x="59.9" y="286.5" font-size="10.2" text-anchor="start" fill="#333">NHT-CE</text>
<rect x="50" y="289.3" width="7" height="7" fill="#8a8b8f"/>
<text x="59.9" y="296.4" font-size="10.2" text-anchor="start" fill="#333">NHT-TS</text>
<text x="50.4" y="308" font-size="11.9" text-anchor="start" fill="#1a1a1a" textLength="90.6" lengthAdjust="spacingAndGlyphs">Spearman r: 0.83</text>
<circle cx="105.50" cy="341.20" r="3.85" fill="#858585" fill-opacity="0.45" stroke="#4a4a4a" stroke-opacity="0.6" stroke-width="0.5"/>
<circle cx="111.90" cy="343.50" r="3.85" fill="#858585" fill-opacity="0.45" stroke="#4a4a4a" stroke-opacity="0.6" stroke-width="0.5"/>
<circle cx="110.70" cy="351.70" r="3.85" fill="#858585" fill-opacity="0.45" stroke="#4a4a4a" stroke-opacity="0.6" stroke-width="0.5"/>
<circle cx="109.60" cy="360.40" r="3.85" fill="#858585" fill-opacity="0.45" stroke="#4a4a4a" stroke-opacity="0.6" stroke-width="0.5"/>
<circle cx="113.60" cy="375.60" r="3.85" fill="#858585" fill-opacity="0.45" stroke="#4a4a4a" stroke-opacity="0.6" stroke-width="0.5"/>
<circle cx="110.10" cy="389.00" r="3.85" fill="#858585" fill-opacity="0.45" stroke="#4a4a4a" stroke-opacity="0.6" stroke-width="0.5"/>
<circle cx="122.40" cy="359.90" r="3.85" fill="#858585" fill-opacity="0.45" stroke="#4a4a4a" stroke-opacity="0.6" stroke-width="0.5"/>
<circle cx="117.70" cy="347.00" r="3.85" fill="#858585" fill-opacity="0.45" stroke="#4a4a4a" stroke-opacity="0.6" stroke-width="0.5"/>
<circle cx="197.50" cy="294.20" r="3.85" fill="#858585" fill-opacity="0.45" stroke="#4a4a4a" stroke-opacity="0.6" stroke-width="0.5"/>
<circle cx="207.00" cy="298.00" r="3.85" fill="#858585" fill-opacity="0.45" stroke="#4a4a4a" stroke-opacity="0.6" stroke-width="0.5"/>
<circle cx="186.10" cy="308.50" r="3.85" fill="#858585" fill-opacity="0.45" stroke="#4a4a4a" stroke-opacity="0.6" stroke-width="0.5"/>
<circle cx="179.50" cy="314.20" r="3.85" fill="#858585" fill-opacity="0.45" stroke="#4a4a4a" stroke-opacity="0.6" stroke-width="0.5"/>
<circle cx="191.80" cy="317.00" r="3.85" fill="#858585" fill-opacity="0.45" stroke="#4a4a4a" stroke-opacity="0.6" stroke-width="0.5"/>
<circle cx="198.40" cy="315.10" r="3.85" fill="#858585" fill-opacity="0.45" stroke="#4a4a4a" stroke-opacity="0.6" stroke-width="0.5"/>
<circle cx="188.00" cy="321.80" r="3.85" fill="#858585" fill-opacity="0.45" stroke="#4a4a4a" stroke-opacity="0.6" stroke-width="0.5"/>
<circle cx="199.40" cy="321.80" r="3.85" fill="#858585" fill-opacity="0.45" stroke="#4a4a4a" stroke-opacity="0.6" stroke-width="0.5"/>
<circle cx="188.00" cy="324.60" r="3.85" fill="#858585" fill-opacity="0.45" stroke="#4a4a4a" stroke-opacity="0.6" stroke-width="0.5"/>
<circle cx="135.80" cy="319.90" r="3.85" fill="#858585" fill-opacity="0.45" stroke="#4a4a4a" stroke-opacity="0.6" stroke-width="0.5"/>
<circle cx="142.40" cy="317.00" r="3.85" fill="#858585" fill-opacity="0.45" stroke="#4a4a4a" stroke-opacity="0.6" stroke-width="0.5"/>
<circle cx="158.60" cy="316.10" r="3.85" fill="#858585" fill-opacity="0.45" stroke="#4a4a4a" stroke-opacity="0.6" stroke-width="0.5"/>
<circle cx="162.40" cy="320.80" r="3.85" fill="#858585" fill-opacity="0.45" stroke="#4a4a4a" stroke-opacity="0.6" stroke-width="0.5"/>
<circle cx="183.30" cy="336.90" r="3.85" fill="#858585" fill-opacity="0.45" stroke="#4a4a4a" stroke-opacity="0.6" stroke-width="0.5"/>
<circle cx="138.70" cy="331.20" r="3.85" fill="#858585" fill-opacity="0.45" stroke="#4a4a4a" stroke-opacity="0.6" stroke-width="0.5"/>
<circle cx="135.80" cy="342.60" r="3.85" fill="#858585" fill-opacity="0.45" stroke="#4a4a4a" stroke-opacity="0.6" stroke-width="0.5"/>
<circle cx="158.60" cy="342.60" r="3.85" fill="#858585" fill-opacity="0.45" stroke="#4a4a4a" stroke-opacity="0.6" stroke-width="0.5"/>
<circle cx="105.40" cy="340.70" r="3.85" fill="#858585" fill-opacity="0.45" stroke="#4a4a4a" stroke-opacity="0.6" stroke-width="0.5"/>
<circle cx="112.10" cy="343.60" r="3.85" fill="#858585" fill-opacity="0.45" stroke="#4a4a4a" stroke-opacity="0.6" stroke-width="0.5"/>
<circle cx="110.20" cy="351.20" r="3.85" fill="#858585" fill-opacity="0.45" stroke="#4a4a4a" stroke-opacity="0.6" stroke-width="0.5"/>
<circle cx="123.50" cy="343.60" r="3.85" fill="#858585" fill-opacity="0.45" stroke="#4a4a4a" stroke-opacity="0.6" stroke-width="0.5"/>
<circle cx="130.10" cy="351.20" r="3.85" fill="#858585" fill-opacity="0.45" stroke="#4a4a4a" stroke-opacity="0.6" stroke-width="0.5"/>
<circle cx="140.50" cy="352.10" r="3.85" fill="#858585" fill-opacity="0.45" stroke="#4a4a4a" stroke-opacity="0.6" stroke-width="0.5"/>
<circle cx="150.00" cy="347.40" r="3.85" fill="#858585" fill-opacity="0.45" stroke="#4a4a4a" stroke-opacity="0.6" stroke-width="0.5"/>
<circle cx="149.10" cy="352.10" r="3.85" fill="#858585" fill-opacity="0.45" stroke="#4a4a4a" stroke-opacity="0.6" stroke-width="0.5"/>
<circle cx="138.70" cy="357.80" r="3.85" fill="#858585" fill-opacity="0.45" stroke="#4a4a4a" stroke-opacity="0.6" stroke-width="0.5"/>
<circle cx="167.10" cy="362.60" r="3.85" fill="#858585" fill-opacity="0.45" stroke="#4a4a4a" stroke-opacity="0.6" stroke-width="0.5"/>
<circle cx="138.70" cy="367.30" r="3.85" fill="#858585" fill-opacity="0.45" stroke="#4a4a4a" stroke-opacity="0.6" stroke-width="0.5"/>
<circle cx="121.60" cy="359.70" r="3.85" fill="#858585" fill-opacity="0.45" stroke="#4a4a4a" stroke-opacity="0.6" stroke-width="0.5"/>
<circle cx="193.00" cy="300.00" r="3.85" fill="#858585" fill-opacity="0.45" stroke="#4a4a4a" stroke-opacity="0.6" stroke-width="0.5"/>
<circle cx="200.00" cy="305.00" r="3.85" fill="#858585" fill-opacity="0.45" stroke="#4a4a4a" stroke-opacity="0.6" stroke-width="0.5"/>
<circle cx="162.81" cy="328.48" r="3.85" fill="#858585" fill-opacity="0.45" stroke="#4a4a4a" stroke-opacity="0.6" stroke-width="0.5"/>
<circle cx="142.21" cy="336.65" r="3.85" fill="#858585" fill-opacity="0.45" stroke="#4a4a4a" stroke-opacity="0.6" stroke-width="0.5"/>
<circle cx="163.67" cy="333.55" r="3.85" fill="#858585" fill-opacity="0.45" stroke="#4a4a4a" stroke-opacity="0.6" stroke-width="0.5"/>
<circle cx="145.78" cy="324.63" r="3.85" fill="#858585" fill-opacity="0.45" stroke="#4a4a4a" stroke-opacity="0.6" stroke-width="0.5"/>
<circle cx="147.60" cy="338.91" r="3.85" fill="#858585" fill-opacity="0.45" stroke="#4a4a4a" stroke-opacity="0.6" stroke-width="0.5"/>
<circle cx="155.39" cy="322.89" r="3.85" fill="#858585" fill-opacity="0.45" stroke="#4a4a4a" stroke-opacity="0.6" stroke-width="0.5"/>
<circle cx="148.33" cy="334.53" r="3.85" fill="#858585" fill-opacity="0.45" stroke="#4a4a4a" stroke-opacity="0.6" stroke-width="0.5"/>
<circle cx="147.44" cy="328.05" r="3.85" fill="#858585" fill-opacity="0.45" stroke="#4a4a4a" stroke-opacity="0.6" stroke-width="0.5"/>
<circle cx="153.00" cy="332.56" r="3.85" fill="#858585" fill-opacity="0.45" stroke="#4a4a4a" stroke-opacity="0.6" stroke-width="0.5"/>
<circle cx="158.11" cy="316.34" r="3.85" fill="#858585" fill-opacity="0.45" stroke="#4a4a4a" stroke-opacity="0.6" stroke-width="0.5"/>
<circle cx="149.14" cy="319.80" r="3.85" fill="#858585" fill-opacity="0.45" stroke="#4a4a4a" stroke-opacity="0.6" stroke-width="0.5"/>
<circle cx="156.08" cy="324.26" r="3.85" fill="#858585" fill-opacity="0.45" stroke="#4a4a4a" stroke-opacity="0.6" stroke-width="0.5"/>
<circle cx="148.85" cy="336.74" r="3.85" fill="#858585" fill-opacity="0.45" stroke="#4a4a4a" stroke-opacity="0.6" stroke-width="0.5"/>
<circle cx="153.25" cy="322.45" r="3.85" fill="#858585" fill-opacity="0.45" stroke="#4a4a4a" stroke-opacity="0.6" stroke-width="0.5"/>
<circle cx="165.28" cy="326.63" r="3.85" fill="#858585" fill-opacity="0.45" stroke="#4a4a4a" stroke-opacity="0.6" stroke-width="0.5"/>
<circle cx="147.95" cy="344.63" r="3.85" fill="#858585" fill-opacity="0.45" stroke="#4a4a4a" stroke-opacity="0.6" stroke-width="0.5"/>
<circle cx="154.28" cy="340.88" r="3.85" fill="#858585" fill-opacity="0.45" stroke="#4a4a4a" stroke-opacity="0.6" stroke-width="0.5"/>
<circle cx="153.08" cy="331.74" r="3.85" fill="#858585" fill-opacity="0.45" stroke="#4a4a4a" stroke-opacity="0.6" stroke-width="0.5"/>
<circle cx="149.70" cy="325.75" r="3.85" fill="#858585" fill-opacity="0.45" stroke="#4a4a4a" stroke-opacity="0.6" stroke-width="0.5"/>
<circle cx="147.31" cy="328.78" r="3.85" fill="#858585" fill-opacity="0.45" stroke="#4a4a4a" stroke-opacity="0.6" stroke-width="0.5"/>
<circle cx="157.60" cy="311.00" r="3.85" fill="#858585" fill-opacity="0.45" stroke="#4a4a4a" stroke-opacity="0.6" stroke-width="0.5"/>
<circle cx="140.47" cy="326.50" r="3.85" fill="#858585" fill-opacity="0.45" stroke="#4a4a4a" stroke-opacity="0.6" stroke-width="0.5"/>
<circle cx="139.74" cy="343.13" r="3.85" fill="#858585" fill-opacity="0.45" stroke="#4a4a4a" stroke-opacity="0.6" stroke-width="0.5"/>
<circle cx="159.65" cy="326.57" r="3.85" fill="#858585" fill-opacity="0.45" stroke="#4a4a4a" stroke-opacity="0.6" stroke-width="0.5"/>
<circle cx="148.62" cy="327.28" r="3.85" fill="#858585" fill-opacity="0.45" stroke="#4a4a4a" stroke-opacity="0.6" stroke-width="0.5"/>
<circle cx="153.06" cy="311.51" r="3.85" fill="#858585" fill-opacity="0.45" stroke="#4a4a4a" stroke-opacity="0.6" stroke-width="0.5"/>
<circle cx="150.69" cy="341.17" r="3.85" fill="#858585" fill-opacity="0.45" stroke="#4a4a4a" stroke-opacity="0.6" stroke-width="0.5"/>
<circle cx="148.71" cy="341.84" r="3.85" fill="#858585" fill-opacity="0.45" stroke="#4a4a4a" stroke-opacity="0.6" stroke-width="0.5"/>
<circle cx="155.18" cy="322.50" r="3.85" fill="#858585" fill-opacity="0.45" stroke="#4a4a4a" stroke-opacity="0.6" stroke-width="0.5"/>
<circle cx="153.41" cy="328.07" r="3.85" fill="#858585" fill-opacity="0.45" stroke="#4a4a4a" stroke-opacity="0.6" stroke-width="0.5"/>
<circle cx="146.03" cy="343.15" r="3.85" fill="#858585" fill-opacity="0.45" stroke="#4a4a4a" stroke-opacity="0.6" stroke-width="0.5"/>
<circle cx="140.71" cy="345.49" r="3.85" fill="#858585" fill-opacity="0.45" stroke="#4a4a4a" stroke-opacity="0.6" stroke-width="0.5"/>
<circle cx="160.62" cy="333.71" r="3.85" fill="#858585" fill-opacity="0.45" stroke="#4a4a4a" stroke-opacity="0.6" stroke-width="0.5"/>
<circle cx="142.11" cy="343.02" r="3.85" fill="#858585" fill-opacity="0.45" stroke="#4a4a4a" stroke-opacity="0.6" stroke-width="0.5"/>
<circle cx="155.66" cy="331.19" r="3.85" fill="#858585" fill-opacity="0.45" stroke="#4a4a4a" stroke-opacity="0.6" stroke-width="0.5"/>
<circle cx="154.61" cy="342.60" r="3.85" fill="#858585" fill-opacity="0.45" stroke="#4a4a4a" stroke-opacity="0.6" stroke-width="0.5"/>
<circle cx="153.06" cy="334.84" r="3.85" fill="#858585" fill-opacity="0.45" stroke="#4a4a4a" stroke-opacity="0.6" stroke-width="0.5"/>
<circle cx="163.11" cy="318.19" r="3.85" fill="#858585" fill-opacity="0.45" stroke="#4a4a4a" stroke-opacity="0.6" stroke-width="0.5"/>
<circle cx="145.67" cy="327.62" r="3.85" fill="#858585" fill-opacity="0.45" stroke="#4a4a4a" stroke-opacity="0.6" stroke-width="0.5"/>
<circle cx="139.59" cy="333.75" r="3.85" fill="#858585" fill-opacity="0.45" stroke="#4a4a4a" stroke-opacity="0.6" stroke-width="0.5"/>
<circle cx="154.72" cy="318.71" r="3.85" fill="#858585" fill-opacity="0.45" stroke="#4a4a4a" stroke-opacity="0.6" stroke-width="0.5"/>
<circle cx="149.89" cy="321.49" r="3.85" fill="#858585" fill-opacity="0.45" stroke="#4a4a4a" stroke-opacity="0.6" stroke-width="0.5"/>
<circle cx="152.00" cy="338.66" r="3.85" fill="#858585" fill-opacity="0.45" stroke="#4a4a4a" stroke-opacity="0.6" stroke-width="0.5"/>
<circle cx="150.23" cy="326.73" r="3.85" fill="#858585" fill-opacity="0.45" stroke="#4a4a4a" stroke-opacity="0.6" stroke-width="0.5"/>
<circle cx="163.12" cy="318.65" r="3.85" fill="#858585" fill-opacity="0.45" stroke="#4a4a4a" stroke-opacity="0.6" stroke-width="0.5"/>
<circle cx="144.56" cy="327.00" r="3.85" fill="#858585" fill-opacity="0.45" stroke="#4a4a4a" stroke-opacity="0.6" stroke-width="0.5"/>
<circle cx="149.98" cy="329.55" r="3.85" fill="#858585" fill-opacity="0.45" stroke="#4a4a4a" stroke-opacity="0.6" stroke-width="0.5"/>
<circle cx="156.06" cy="334.84" r="3.85" fill="#858585" fill-opacity="0.45" stroke="#4a4a4a" stroke-opacity="0.6" stroke-width="0.5"/>
<circle cx="150.50" cy="337.97" r="3.85" fill="#858585" fill-opacity="0.45" stroke="#4a4a4a" stroke-opacity="0.6" stroke-width="0.5"/>
<circle cx="157.09" cy="325.30" r="3.85" fill="#858585" fill-opacity="0.45" stroke="#4a4a4a" stroke-opacity="0.6" stroke-width="0.5"/>
<circle cx="143.63" cy="328.91" r="3.85" fill="#858585" fill-opacity="0.45" stroke="#4a4a4a" stroke-opacity="0.6" stroke-width="0.5"/>
<circle cx="142.28" cy="346.40" r="3.85" fill="#858585" fill-opacity="0.45" stroke="#4a4a4a" stroke-opacity="0.6" stroke-width="0.5"/>
<circle cx="154.79" cy="325.89" r="3.85" fill="#858585" fill-opacity="0.45" stroke="#4a4a4a" stroke-opacity="0.6" stroke-width="0.5"/>
<circle cx="145.56" cy="318.60" r="3.85" fill="#858585" fill-opacity="0.45" stroke="#4a4a4a" stroke-opacity="0.6" stroke-width="0.5"/>
<circle cx="149.59" cy="319.79" r="3.85" fill="#858585" fill-opacity="0.45" stroke="#4a4a4a" stroke-opacity="0.6" stroke-width="0.5"/>
<circle cx="149.51" cy="344.97" r="3.85" fill="#858585" fill-opacity="0.45" stroke="#4a4a4a" stroke-opacity="0.6" stroke-width="0.5"/>
<circle cx="148.81" cy="325.17" r="3.85" fill="#858585" fill-opacity="0.45" stroke="#4a4a4a" stroke-opacity="0.6" stroke-width="0.5"/>
<circle cx="146.42" cy="338.96" r="3.85" fill="#858585" fill-opacity="0.45" stroke="#4a4a4a" stroke-opacity="0.6" stroke-width="0.5"/>
<circle cx="150.17" cy="331.42" r="3.85" fill="#858585" fill-opacity="0.45" stroke="#4a4a4a" stroke-opacity="0.6" stroke-width="0.5"/>
<circle cx="158.14" cy="319.95" r="3.85" fill="#858585" fill-opacity="0.45" stroke="#4a4a4a" stroke-opacity="0.6" stroke-width="0.5"/>
<circle cx="193.78" cy="307.31" r="3.85" fill="#858585" fill-opacity="0.45" stroke="#4a4a4a" stroke-opacity="0.6" stroke-width="0.5"/>
<circle cx="193.72" cy="310.15" r="3.85" fill="#858585" fill-opacity="0.45" stroke="#4a4a4a" stroke-opacity="0.6" stroke-width="0.5"/>
<circle cx="188.42" cy="307.61" r="3.85" fill="#858585" fill-opacity="0.45" stroke="#4a4a4a" stroke-opacity="0.6" stroke-width="0.5"/>
<circle cx="193.25" cy="306.14" r="3.85" fill="#858585" fill-opacity="0.45" stroke="#4a4a4a" stroke-opacity="0.6" stroke-width="0.5"/>
<circle cx="194.87" cy="306.32" r="3.85" fill="#858585" fill-opacity="0.45" stroke="#4a4a4a" stroke-opacity="0.6" stroke-width="0.5"/>
<circle cx="184.33" cy="303.80" r="3.85" fill="#858585" fill-opacity="0.45" stroke="#4a4a4a" stroke-opacity="0.6" stroke-width="0.5"/>
<circle cx="191.07" cy="308.13" r="3.85" fill="#858585" fill-opacity="0.45" stroke="#4a4a4a" stroke-opacity="0.6" stroke-width="0.5"/>
<circle cx="194.01" cy="303.66" r="3.85" fill="#858585" fill-opacity="0.45" stroke="#4a4a4a" stroke-opacity="0.6" stroke-width="0.5"/>
<circle cx="192.26" cy="311.63" r="3.85" fill="#858585" fill-opacity="0.45" stroke="#4a4a4a" stroke-opacity="0.6" stroke-width="0.5"/>
<circle cx="192.88" cy="303.55" r="3.85" fill="#858585" fill-opacity="0.45" stroke="#4a4a4a" stroke-opacity="0.6" stroke-width="0.5"/>
<circle cx="67.5" cy="348.8" r="3.85" fill="#e0007f" stroke="#3a0a25" stroke-width="0.5"/>
<circle cx="62.3" cy="355.8" r="3.85" fill="#e0007f" stroke="#3a0a25" stroke-width="0.5"/>
<circle cx="76.9" cy="354.6" r="3.85" fill="#e0007f" stroke="#3a0a25" stroke-width="0.5"/>
<circle cx="85" cy="355.8" r="3.85" fill="#e0007f" stroke="#3a0a25" stroke-width="0.5"/>
<circle cx="92.6" cy="358.7" r="3.85" fill="#e0007f" stroke="#3a0a25" stroke-width="0.5"/>
<circle cx="63.4" cy="361" r="3.85" fill="#e0007f" stroke="#3a0a25" stroke-width="0.5"/>
<circle cx="89.48" cy="358.31" r="3.85" fill="#e0007f" stroke="#3a0a25" stroke-width="0.5"/>
<circle cx="90.97" cy="361.43" r="3.85" fill="#e0007f" stroke="#3a0a25" stroke-width="0.5"/>
<circle cx="73.27" cy="393.09" r="3.85" fill="#e0007f" stroke="#3a0a25" stroke-width="0.5"/>
<circle cx="69.45" cy="374.39" r="3.85" fill="#e0007f" stroke="#3a0a25" stroke-width="0.5"/>
<circle cx="91.48" cy="358.24" r="3.85" fill="#e0007f" stroke="#3a0a25" stroke-width="0.5"/>
<circle cx="61.3" cy="372.68" r="3.85" fill="#e0007f" stroke="#3a0a25" stroke-width="0.5"/>
<circle cx="75.16" cy="387.21" r="3.85" fill="#e0007f" stroke="#3a0a25" stroke-width="0.5"/>
<circle cx="69" cy="378.32" r="3.85" fill="#e0007f" stroke="#3a0a25" stroke-width="0.5"/>
<circle cx="62.61" cy="360.21" r="3.85" fill="#e0007f" stroke="#3a0a25" stroke-width="0.5"/>
<circle cx="59.76" cy="376.2" r="3.85" fill="#e0007f" stroke="#3a0a25" stroke-width="0.5"/>
<circle cx="76.7" cy="379.62" r="3.85" fill="#e0007f" stroke="#3a0a25" stroke-width="0.5"/>
<circle cx="89.75" cy="364.71" r="3.85" fill="#e0007f" stroke="#3a0a25" stroke-width="0.5"/>
<circle cx="68.99" cy="372.23" r="3.85" fill="#e0007f" stroke="#3a0a25" stroke-width="0.5"/>
<circle cx="90.11" cy="364.75" r="3.85" fill="#e0007f" stroke="#3a0a25" stroke-width="0.5"/>
<circle cx="67.17" cy="370.48" r="3.85" fill="#e0007f" stroke="#3a0a25" stroke-width="0.5"/>
<circle cx="81.14" cy="363.42" r="3.85" fill="#e0007f" stroke="#3a0a25" stroke-width="0.5"/>
<circle cx="63.05" cy="385.12" r="3.85" fill="#e0007f" stroke="#3a0a25" stroke-width="0.5"/>
<circle cx="77.13" cy="377.8" r="3.85" fill="#e0007f" stroke="#3a0a25" stroke-width="0.5"/>
<circle cx="60.56" cy="367.53" r="3.85" fill="#e0007f" stroke="#3a0a25" stroke-width="0.5"/>
<circle cx="86.63" cy="367.74" r="3.85" fill="#e0007f" stroke="#3a0a25" stroke-width="0.5"/>
<circle cx="76.8" cy="393.04" r="3.85" fill="#e0007f" stroke="#3a0a25" stroke-width="0.5"/>
<circle cx="69.01" cy="369.16" r="3.85" fill="#e0007f" stroke="#3a0a25" stroke-width="0.5"/>
<circle cx="81.99" cy="366.45" r="3.85" fill="#e0007f" stroke="#3a0a25" stroke-width="0.5"/>
<circle cx="73.59" cy="367.38" r="3.85" fill="#e0007f" stroke="#3a0a25" stroke-width="0.5"/>
<circle cx="85.81" cy="374.88" r="3.85" fill="#e0007f" stroke="#3a0a25" stroke-width="0.5"/>
<circle cx="79.49" cy="355.58" r="3.85" fill="#e0007f" stroke="#3a0a25" stroke-width="0.5"/>
<circle cx="80.42" cy="360.67" r="3.85" fill="#e0007f" stroke="#3a0a25" stroke-width="0.5"/>
<circle cx="75.59" cy="366.48" r="3.85" fill="#e0007f" stroke="#3a0a25" stroke-width="0.5"/>
<circle cx="79.91" cy="356.38" r="3.85" fill="#e0007f" stroke="#3a0a25" stroke-width="0.5"/>
<circle cx="71.31" cy="381.53" r="3.85" fill="#e0007f" stroke="#3a0a25" stroke-width="0.5"/>
<circle cx="76.98" cy="390.21" r="3.85" fill="#e0007f" stroke="#3a0a25" stroke-width="0.5"/>
<circle cx="71.21" cy="353.16" r="3.85" fill="#e0007f" stroke="#3a0a25" stroke-width="0.5"/>
<circle cx="66.03" cy="368.02" r="3.85" fill="#e0007f" stroke="#3a0a25" stroke-width="0.5"/>
<circle cx="65.2" cy="384.23" r="3.85" fill="#e0007f" stroke="#3a0a25" stroke-width="0.5"/>
<circle cx="62.91" cy="389.05" r="3.85" fill="#e0007f" stroke="#3a0a25" stroke-width="0.5"/>
<circle cx="58.3" cy="369.35" r="3.85" fill="#e0007f" stroke="#3a0a25" stroke-width="0.5"/>
<circle cx="84.37" cy="373.33" r="3.85" fill="#e0007f" stroke="#3a0a25" stroke-width="0.5"/>
<circle cx="80.82" cy="353.63" r="3.85" fill="#e0007f" stroke="#3a0a25" stroke-width="0.5"/>
<circle cx="66.86" cy="378.9" r="3.85" fill="#e0007f" stroke="#3a0a25" stroke-width="0.5"/>
<circle cx="67.81" cy="351.77" r="3.85" fill="#e0007f" stroke="#3a0a25" stroke-width="0.5"/>
<circle cx="68.7" cy="360.4" r="3.85" fill="#e0007f" stroke="#3a0a25" stroke-width="0.5"/>
<circle cx="87.4" cy="360.4" r="3.85" fill="#e0007f" stroke="#3a0a25" stroke-width="0.5"/>
<circle cx="64" cy="366.3" r="3.85" fill="#e0007f" stroke="#3a0a25" stroke-width="0.5"/>
<circle cx="59.9" cy="368.6" r="3.85" fill="#e0007f" stroke="#3a0a25" stroke-width="0.5"/>
<circle cx="89.1" cy="364.5" r="3.85" fill="#e0007f" stroke="#3a0a25" stroke-width="0.5"/>
<circle cx="57.6" cy="373.3" r="3.85" fill="#e0007f" stroke="#3a0a25" stroke-width="0.5"/>
<circle cx="69.3" cy="371.5" r="3.85" fill="#e0007f" stroke="#3a0a25" stroke-width="0.5"/>
<circle cx="65.2" cy="375" r="3.85" fill="#e0007f" stroke="#3a0a25" stroke-width="0.5"/>
<circle cx="81.5" cy="376.2" r="3.85" fill="#e0007f" stroke="#3a0a25" stroke-width="0.5"/>
<circle cx="78" cy="378.5" r="3.85" fill="#e0007f" stroke="#3a0a25" stroke-width="0.5"/>
<circle cx="64.6" cy="380.3" r="3.85" fill="#e0007f" stroke="#3a0a25" stroke-width="0.5"/>
<circle cx="85" cy="382.6" r="3.85" fill="#e0007f" stroke="#3a0a25" stroke-width="0.5"/>
<circle cx="66.4" cy="385.5" r="3.85" fill="#e0007f" stroke="#3a0a25" stroke-width="0.5"/>
<circle cx="74.5" cy="386.1" r="3.85" fill="#e0007f" stroke="#3a0a25" stroke-width="0.5"/>
<circle cx="64.6" cy="389" r="3.85" fill="#e0007f" stroke="#3a0a25" stroke-width="0.5"/>
<circle cx="71" cy="390.2" r="3.85" fill="#e0007f" stroke="#3a0a25" stroke-width="0.5"/>
<circle cx="82.7" cy="389" r="3.85" fill="#e0007f" stroke="#3a0a25" stroke-width="0.5"/>
<circle cx="79.8" cy="392" r="3.85" fill="#e0007f" stroke="#3a0a25" stroke-width="0.5"/>
<circle cx="64.6" cy="393.7" r="3.85" fill="#e0007f" stroke="#3a0a25" stroke-width="0.5"/>
<circle cx="73.9" cy="396.1" r="3.85" fill="#e0007f" stroke="#3a0a25" stroke-width="0.5"/>
<circle cx="79.2" cy="400.1" r="3.85" fill="#e0007f" stroke="#3a0a25" stroke-width="0.5"/>
<circle cx="83.9" cy="400.1" r="3.85" fill="#e0007f" stroke="#3a0a25" stroke-width="0.5"/>
<circle cx="88" cy="401.3" r="3.85" fill="#e0007f" stroke="#3a0a25" stroke-width="0.5"/>
<circle cx="70" cy="365" r="3.85" fill="#e0007f" stroke="#3a0a25" stroke-width="0.5"/>
<circle cx="75" cy="370" r="3.85" fill="#e0007f" stroke="#3a0a25" stroke-width="0.5"/>
<circle cx="80" cy="364" r="3.85" fill="#e0007f" stroke="#3a0a25" stroke-width="0.5"/>
<circle cx="72" cy="380" r="3.85" fill="#e0007f" stroke="#3a0a25" stroke-width="0.5"/>
<circle cx="68" cy="393" r="3.85" fill="#e0007f" stroke="#3a0a25" stroke-width="0.5"/>
<circle cx="58" cy="378" r="3.85" fill="#e0007f" stroke="#3a0a25" stroke-width="0.5"/>
<circle cx="75.7" cy="357.5" r="3.85" fill="#1a8c3f" stroke="#0a2a10" stroke-width="0.5"/>
<circle cx="73.4" cy="365.7" r="3.85" fill="#1a8c3f" stroke="#0a2a10" stroke-width="0.5"/>
<circle cx="81.5" cy="366.9" r="3.85" fill="#1a8c3f" stroke="#0a2a10" stroke-width="0.5"/>
<circle cx="76.3" cy="371" r="3.85" fill="#1a8c3f" stroke="#0a2a10" stroke-width="0.5"/>
<circle cx="91.5" cy="369.2" r="3.85" fill="#1a8c3f" stroke="#0a2a10" stroke-width="0.5"/>
<circle cx="103.1" cy="364.5" r="3.85" fill="#1a8c3f" stroke="#0a2a10" stroke-width="0.5"/>
<circle cx="99" cy="366.9" r="3.85" fill="#1a8c3f" stroke="#0a2a10" stroke-width="0.5"/>
<circle cx="111.9" cy="367.4" r="3.85" fill="#1a8c3f" stroke="#0a2a10" stroke-width="0.5"/>
<circle cx="85" cy="372.1" r="3.85" fill="#1a8c3f" stroke="#0a2a10" stroke-width="0.5"/>
<circle cx="89.7" cy="375.6" r="3.85" fill="#1a8c3f" stroke="#0a2a10" stroke-width="0.5"/>
<circle cx="98.5" cy="372.1" r="3.85" fill="#1a8c3f" stroke="#0a2a10" stroke-width="0.5"/>
<circle cx="101.4" cy="373.9" r="3.85" fill="#1a8c3f" stroke="#0a2a10" stroke-width="0.5"/>
<circle cx="104.9" cy="375" r="3.85" fill="#1a8c3f" stroke="#0a2a10" stroke-width="0.5"/>
<circle cx="106.1" cy="378" r="3.85" fill="#1a8c3f" stroke="#0a2a10" stroke-width="0.5"/>
<circle cx="90.3" cy="379.7" r="3.85" fill="#1a8c3f" stroke="#0a2a10" stroke-width="0.5"/>
<circle cx="71.6" cy="381.5" r="3.85" fill="#1a8c3f" stroke="#0a2a10" stroke-width="0.5"/>
<circle cx="192.7" cy="303.2" r="3.85" fill="#0aa5e8" stroke="#0a2a40" stroke-width="0.5"/>
<circle cx="196.5" cy="306.6" r="3.85" fill="#0aa5e8" stroke="#0a2a40" stroke-width="0.5"/>
<circle cx="151" cy="318" r="3.85" fill="#0aa5e8" stroke="#0a2a40" stroke-width="0.5"/>
<circle cx="154.8" cy="324.6" r="3.85" fill="#0aa5e8" stroke="#0a2a40" stroke-width="0.5"/>
<circle cx="145.3" cy="330.3" r="3.85" fill="#0aa5e8" stroke="#0a2a40" stroke-width="0.5"/>
<circle cx="151.9" cy="329.3" r="3.85" fill="#0aa5e8" stroke="#0a2a40" stroke-width="0.5"/>
<circle cx="162.4" cy="328.4" r="3.85" fill="#0aa5e8" stroke="#0a2a40" stroke-width="0.5"/>
<circle cx="147.2" cy="336.9" r="3.85" fill="#0aa5e8" stroke="#0a2a40" stroke-width="0.5"/>
<circle cx="151" cy="339.8" r="3.85" fill="#0aa5e8" stroke="#0a2a40" stroke-width="0.5"/>
<circle cx="125.4" cy="347.9" r="3.85" fill="#0aa5e8" stroke="#0a2a40" stroke-width="0.5"/>
<circle cx="126.3" cy="359.3" r="3.85" fill="#0aa5e8" stroke="#0a2a40" stroke-width="0.5"/>
<line x1="57.1" y1="384.5" x2="204.8" y2="304" stroke="#111" stroke-width="1.2" stroke-dasharray="6.5,4.2"/>
<text x="225.8" y="244.5" font-size="17" text-anchor="start" fill="#000" font-weight="bold">f</text>
<text x="358.8" y="250.2" font-size="11.4" text-anchor="middle" fill="#1a1a1a" textLength="68.5" lengthAdjust="spacingAndGlyphs">CHyMErA.v2</text>
<rect x="318.8" y="258.6" width="40.9" height="173.9" fill="#ffe8f2"/>
<rect x="386.3" y="257.8" width="5.7" height="174.7" fill="#e6f2fe"/>
<rect x="355.8" y="423.5" width="2.8" height="9" fill="#d2d2d2"/>
<rect x="363.3" y="397.4" width="2.8" height="35.1" fill="#d2d2d2"/>
<rect x="371.4" y="348.1" width="2.8" height="84.4" fill="#d2d2d2"/>
<rect x="379.1" y="329.2" width="2.8" height="103.3" fill="#d2d2d2"/>
<rect x="387.2" y="362.4" width="2.8" height="70.1" fill="#d2d2d2"/>
<rect x="394.9" y="399.2" width="2.8" height="33.3" fill="#d2d2d2"/>
<rect x="402.5" y="428" width="2.8" height="4.5" fill="#d2d2d2"/>
<rect x="294.9" y="415.1" width="2.8" height="17.4" fill="#f692c2"/>
<rect x="302.5" y="380.8" width="2.8" height="51.7" fill="#f692c2"/>
<rect x="310.7" y="352.2" width="2.8" height="80.3" fill="#f692c2"/>
<rect x="318.5" y="337.5" width="2.8" height="95" fill="#f692c2"/>
<rect x="326.6" y="404.3" width="2.8" height="28.2" fill="#f692c2"/>
<rect x="334.2" y="398.2" width="2.8" height="34.3" fill="#f692c2"/>
<rect x="342" y="418.6" width="2.8" height="13.9" fill="#f692c2"/>
<rect x="350.1" y="424.3" width="2.8" height="8.2" fill="#f692c2"/>
<rect x="357.6" y="427" width="2.8" height="5.5" fill="#f692c2"/>
<rect x="368.5" y="429.9" width="2.8" height="2.6" fill="#92c5f8"/>
<rect x="376.4" y="346.3" width="2.8" height="86.2" fill="#92c5f8"/>
<rect x="384.6" y="285" width="2.8" height="147.5" fill="#92c5f8"/>
<rect x="392.2" y="302.3" width="2.8" height="130.2" fill="#92c5f8"/>
<rect x="399.6" y="425" width="2.8" height="7.5" fill="#92c5f8"/>
<line x1="283.1" y1="259" x2="283.1" y2="432.5" stroke="#707070" stroke-width="1.1"/>
<line x1="283.1" y1="432.5" x2="460" y2="432.5" stroke="#333" stroke-width="1"/>
<line x1="275.9" y1="259.2" x2="283.1" y2="259.2" stroke="#707070" stroke-width="1.1"/>
<text x="273.3" y="263.8" font-size="12.8" text-anchor="end" fill="#1a1a1a">0.25</text>
<line x1="275.9" y1="293.5" x2="283.1" y2="293.5" stroke="#707070" stroke-width="1.1"/>
<text x="273.3" y="298.1" font-size="12.8" text-anchor="end" fill="#1a1a1a">0.20</text>
<line x1="275.9" y1="328.7" x2="283.1" y2="328.7" stroke="#707070" stroke-width="1.1"/>
<text x="273.3" y="333.3" font-size="12.8" text-anchor="end" fill="#1a1a1a">0.15</text>
<line x1="275.9" y1="363.4" x2="283.1" y2="363.4" stroke="#707070" stroke-width="1.1"/>
<text x="273.3" y="368" font-size="12.8" text-anchor="end" fill="#1a1a1a">0.10</text>
<line x1="275.9" y1="398.2" x2="283.1" y2="398.2" stroke="#707070" stroke-width="1.1"/>
<text x="273.3" y="402.8" font-size="12.8" text-anchor="end" fill="#1a1a1a">0.05</text>
<line x1="275.9" y1="432.5" x2="283.1" y2="432.5" stroke="#707070" stroke-width="1.1"/>
<text x="273.3" y="437.1" font-size="12.8" text-anchor="end" fill="#1a1a1a">0.00</text>
<line x1="283.1" y1="432.5" x2="283.1" y2="439" stroke="#333" stroke-width="1"/>
<text x="283.1" y="454.3" font-size="12.8" text-anchor="middle" fill="#1a1a1a">-6</text>
<line x1="314.3" y1="432.5" x2="314.3" y2="439" stroke="#333" stroke-width="1"/>
<text x="314.3" y="454.3" font-size="12.8" text-anchor="middle" fill="#1a1a1a">-4</text>
<line x1="345.8" y1="432.5" x2="345.8" y2="439" stroke="#333" stroke-width="1"/>
<text x="345.8" y="454.3" font-size="12.8" text-anchor="middle" fill="#1a1a1a">-2</text>
<line x1="377.5" y1="432.5" x2="377.5" y2="439" stroke="#333" stroke-width="1"/>
<text x="377.5" y="454.3" font-size="12.8" text-anchor="middle" fill="#1a1a1a">0</text>
<line x1="409.2" y1="432.5" x2="409.2" y2="439" stroke="#333" stroke-width="1"/>
<text x="409.2" y="454.3" font-size="12.8" text-anchor="middle" fill="#1a1a1a">2</text>
<line x1="440.9" y1="432.5" x2="440.9" y2="439" stroke="#333" stroke-width="1"/>
<text x="440.9" y="454.3" font-size="12.8" text-anchor="middle" fill="#1a1a1a">4</text>
<text x="370" y="467.6" font-size="12.4" text-anchor="middle" fill="#1a1a1a" textLength="51.8" lengthAdjust="spacingAndGlyphs">gene LFC</text>
<text transform="translate(247.4 347) rotate(-90)" x="0" y="0" font-size="12.4" text-anchor="middle" fill="#1a1a1a" textLength="96" lengthAdjust="spacingAndGlyphs">Relative frequency</text>
<line x1="318.4" y1="258.6" x2="318.4" y2="432.5" stroke="#f0287a" stroke-width="1" stroke-dasharray="2.5,2.6"/>
<line x1="386.3" y1="257.8" x2="386.3" y2="432.5" stroke="#0a84f0" stroke-width="1" stroke-dasharray="2.5,2.6"/>
<path d="M283.00,432.50 L283.50,432.50 L284.00,432.50 L284.50,432.50 L285.00,432.50 L285.50,432.50 L286.00,432.50 L286.50,432.50 L287.00,432.50 L287.50,432.50 L288.00,432.50 L288.50,432.50 L289.00,432.50 L289.50,432.50 L290.00,432.50 L290.50,432.50 L291.00,432.50 L291.50,432.50 L292.00,432.50 L292.50,432.50 L293.00,432.50 L293.50,432.50 L294.00,432.50 L294.50,432.50 L295.00,432.50 L295.50,432.50 L296.00,432.50 L296.50,432.50 L297.00,432.50 L297.50,432.50 L298.00,432.50 L298.50,432.50 L299.00,432.50 L299.50,432.50 L300.00,432.50 L300.50,432.50 L301.00,432.50 L301.50,432.50 L302.00,432.50 L302.50,432.50 L303.00,432.50 L303.50,432.50 L304.00,432.50 L304.50,432.50 L305.00,432.50 L305.50,432.50 L306.00,432.50 L306.50,432.50 L307.00,432.50 L307.50,432.50 L308.00,432.50 L308.50,432.50 L309.00,432.50 L309.50,432.50 L310.00,432.50 L310.50,432.50 L311.00,432.50 L311.50,432.50 L312.00,432.50 L312.50,432.50 L313.00,432.50 L313.50,432.50 L314.00,432.50 L314.50,432.50 L315.00,432.50 L315.50,432.50 L316.00,432.50 L316.50,432.50 L317.00,432.50 L317.50,432.50 L318.00,432.50 L318.50,432.50 L319.00,432.50 L319.50,432.50 L320.00,432.50 L320.50,432.50 L321.00,432.50 L321.50,432.50 L322.00,432.50 L322.50,432.50 L323.00,432.50 L323.50,432.50 L324.00,432.50 L324.50,432.50 L325.00,432.50 L325.50,432.50 L326.00,432.50 L326.50,432.50 L327.00,432.50 L327.50,432.49 L328.00,432.49 L328.50,432.49 L329.00,432.49 L329.50,432.49 L330.00,432.49 L330.50,432.48 L331.00,432.48 L331.50,432.48 L332.00,432.47 L332.50,432.47 L333.00,432.46 L333.50,432.45 L334.00,432.44 L334.50,432.43 L335.00,432.42 L335.50,432.41 L336.00,432.39 L336.50,432.37 L337.00,432.35 L337.50,432.32 L338.00,432.29 L338.50,432.26 L339.00,432.22 L339.50,432.18 L340.00,432.13 L340.50,432.07 L341.00,432.00 L341.50,431.93 L342.00,431.85 L342.50,431.75 L343.00,431.64 L343.50,431.52 L344.00,431.39 L344.50,431.24 L345.00,431.07 L345.50,430.88 L346.00,430.67 L346.50,430.43 L347.00,430.17 L347.50,429.89 L348.00,429.57 L348.50,429.22 L349.00,428.84 L349.50,428.41 L350.00,427.95 L350.50,427.45 L351.00,426.91 L351.50,426.31 L352.00,425.67 L352.50,424.97 L353.00,424.22 L353.50,423.41 L354.00,422.54 L354.50,421.60 L355.00,420.61 L355.50,419.54 L356.00,418.41 L356.50,417.21 L357.00,415.94 L357.50,414.60 L358.00,413.19 L358.50,411.70 L359.00,410.15 L359.50,408.52 L360.00,406.83 L360.50,405.07 L361.00,403.24 L361.50,401.35 L362.00,399.41 L362.50,397.41 L363.00,395.36 L363.50,393.26 L364.00,391.13 L364.50,388.97 L365.00,386.78 L365.50,384.58 L366.00,382.36 L366.50,380.14 L367.00,377.93 L367.50,375.74 L368.00,373.57 L368.50,371.43 L369.00,369.34 L369.50,367.30 L370.00,365.33 L370.50,363.43 L371.00,361.61 L371.50,359.89 L372.00,358.26 L372.50,356.75 L373.00,355.35 L373.50,354.08 L374.00,352.94 L374.50,351.94 L375.00,351.08 L375.50,350.37 L376.00,349.82 L376.50,349.42 L377.00,349.18 L377.50,349.10 L378.00,349.18 L378.50,349.42 L379.00,349.82 L379.50,350.37 L380.00,351.08 L380.50,351.94 L381.00,352.94 L381.50,354.08 L382.00,355.35 L382.50,356.75 L383.00,358.26 L383.50,359.89 L384.00,361.61 L384.50,363.43 L385.00,365.33 L385.50,367.30 L386.00,369.34 L386.50,371.43 L387.00,373.57 L387.50,375.74 L388.00,377.93 L388.50,380.14 L389.00,382.36 L389.50,384.58 L390.00,386.78 L390.50,388.97 L391.00,391.13 L391.50,393.26 L392.00,395.36 L392.50,397.41 L393.00,399.41 L393.50,401.35 L394.00,403.24 L394.50,405.07 L395.00,406.83 L395.50,408.52 L396.00,410.15 L396.50,411.70 L397.00,413.19 L397.50,414.60 L398.00,415.94 L398.50,417.21 L399.00,418.41 L399.50,419.54 L400.00,420.61 L400.50,421.60 L401.00,422.54 L401.50,423.41 L402.00,424.22 L402.50,424.97 L403.00,425.67 L403.50,426.31 L404.00,426.91 L404.50,427.45 L405.00,427.95 L405.50,428.41 L406.00,428.84 L406.50,429.22 L407.00,429.57 L407.50,429.89 L408.00,430.17 L408.50,430.43 L409.00,430.67 L409.50,430.88 L410.00,431.07 L410.50,431.24 L411.00,431.39 L411.50,431.52 L412.00,431.64 L412.50,431.75 L413.00,431.85 L413.50,431.93 L414.00,432.00 L414.50,432.07 L415.00,432.13 L415.50,432.18 L416.00,432.22 L416.50,432.26 L417.00,432.29 L417.50,432.32 L418.00,432.35 L418.50,432.37 L419.00,432.39 L419.50,432.41 L420.00,432.42 L420.50,432.43 L421.00,432.44 L421.50,432.45 L422.00,432.46 L422.50,432.47 L423.00,432.47 L423.50,432.48 L424.00,432.48 L424.50,432.48 L425.00,432.49 L425.50,432.49 L426.00,432.49 L426.50,432.49 L427.00,432.49 L427.50,432.49 L428.00,432.50 L428.50,432.50 L429.00,432.50 L429.50,432.50 L430.00,432.50 L430.50,432.50 L431.00,432.50 L431.50,432.50 L432.00,432.50 L432.50,432.50 L433.00,432.50 L433.50,432.50 L434.00,432.50 L434.50,432.50 L435.00,432.50 L435.50,432.50 L436.00,432.50 L436.50,432.50 L437.00,432.50 L437.50,432.50 L438.00,432.50 L438.50,432.50 L439.00,432.50 L439.50,432.50 L440.00,432.50 L440.50,432.50 L441.00,432.50 L441.50,432.50 L442.00,432.50 L442.50,432.50 L443.00,432.50 L443.50,432.50 L444.00,432.50 L444.50,432.50 L445.00,432.50 L445.50,432.50 L446.00,432.50 L446.50,432.50 L447.00,432.50 L447.50,432.50 L448.00,432.50 L448.50,432.50 L449.00,432.50 L449.50,432.50 L450.00,432.50 L450.50,432.50 L451.00,432.50 L451.50,432.50 L452.00,432.50 L452.50,432.50 L453.00,432.50 L453.50,432.50 L454.00,432.50 L454.50,432.50 L455.00,432.50 L455.50,432.50 L456.00,432.50 L456.50,432.50 L457.00,432.50 L457.50,432.50 L458.00,432.50 L458.50,432.50 L459.00,432.50 L459.50,432.50 L460.00,432.50" fill="none" stroke="#8a8a8a" stroke-width="1.6"/>
<path d="M283.00,432.50 L283.50,432.50 L284.00,432.50 L284.50,432.50 L285.00,432.50 L285.50,432.50 L286.00,432.50 L286.50,432.50 L287.00,432.50 L287.50,432.50 L288.00,432.50 L288.50,432.50 L289.00,432.50 L289.50,432.50 L290.00,432.50 L290.50,432.50 L291.00,432.50 L291.50,432.50 L292.00,432.50 L292.50,432.50 L293.00,432.50 L293.50,432.50 L294.00,432.50 L294.50,432.50 L295.00,432.50 L295.50,432.50 L296.00,432.50 L296.50,432.50 L297.00,432.50 L297.50,432.50 L298.00,432.50 L298.50,432.50 L299.00,432.50 L299.50,432.50 L300.00,432.50 L300.50,432.50 L301.00,432.50 L301.50,432.50 L302.00,432.50 L302.50,432.50 L303.00,432.50 L303.50,432.50 L304.00,432.50 L304.50,432.50 L305.00,432.50 L305.50,432.50 L306.00,432.50 L306.50,432.50 L307.00,432.50 L307.50,432.50 L308.00,432.50 L308.50,432.50 L309.00,432.50 L309.50,432.50 L310.00,432.50 L310.50,432.50 L311.00,432.50 L311.50,432.50 L312.00,432.50 L312.50,432.50 L313.00,432.50 L313.50,432.50 L314.00,432.50 L314.50,432.50 L315.00,432.50 L315.50,432.50 L316.00,432.50 L316.50,432.50 L317.00,432.50 L317.50,432.50 L318.00,432.50 L318.50,432.50 L319.00,432.50 L319.50,432.50 L320.00,432.50 L320.50,432.50 L321.00,432.50 L321.50,432.50 L322.00,432.50 L322.50,432.50 L323.00,432.50 L323.50,432.50 L324.00,432.50 L324.50,432.50 L325.00,432.50 L325.50,432.50 L326.00,432.50 L326.50,432.50 L327.00,432.50 L327.50,432.50 L328.00,432.50 L328.50,432.50 L329.00,432.50 L329.50,432.50 L330.00,432.50 L330.50,432.50 L331.00,432.50 L331.50,432.50 L332.00,432.50 L332.50,432.50 L333.00,432.50 L333.50,432.50 L334.00,432.50 L334.50,432.50 L335.00,432.50 L335.50,432.50 L336.00,432.50 L336.50,432.50 L337.00,432.50 L337.50,432.50 L338.00,432.50 L338.50,432.50 L339.00,432.50 L339.50,432.50 L340.00,432.50 L340.50,432.50 L341.00,432.50 L341.50,432.50 L342.00,432.50 L342.50,432.50 L343.00,432.50 L343.50,432.50 L344.00,432.50 L344.50,432.50 L345.00,432.50 L345.50,432.50 L346.00,432.50 L346.50,432.50 L347.00,432.50 L347.50,432.50 L348.00,432.50 L348.50,432.50 L349.00,432.50 L349.50,432.50 L350.00,432.50 L350.50,432.50 L351.00,432.50 L351.50,432.50 L352.00,432.50 L352.50,432.50 L353.00,432.50 L353.50,432.50 L354.00,432.50 L354.50,432.50 L355.00,432.50 L355.50,432.50 L356.00,432.50 L356.50,432.49 L357.00,432.49 L357.50,432.49 L358.00,432.48 L358.50,432.48 L359.00,432.47 L359.50,432.46 L360.00,432.45 L360.50,432.43 L361.00,432.40 L361.50,432.37 L362.00,432.33 L362.50,432.27 L363.00,432.20 L363.50,432.11 L364.00,431.99 L364.50,431.85 L365.00,431.66 L365.50,431.43 L366.00,431.15 L366.50,430.80 L367.00,430.37 L367.50,429.85 L368.00,429.22 L368.50,428.47 L369.00,427.57 L369.50,426.51 L370.00,425.25 L370.50,423.79 L371.00,422.08 L371.50,420.12 L372.00,417.87 L372.50,415.31 L373.00,412.41 L373.50,409.17 L374.00,405.55 L374.50,401.56 L375.00,397.17 L375.50,392.39 L376.00,387.23 L376.50,381.69 L377.00,375.81 L377.50,369.60 L378.00,363.11 L378.50,356.40 L379.00,349.51 L379.50,342.51 L380.00,335.49 L380.50,328.51 L381.00,321.67 L381.50,315.05 L382.00,308.76 L382.50,302.87 L383.00,297.48 L383.50,292.67 L384.00,288.51 L384.50,285.09 L385.00,282.44 L385.50,280.62 L386.00,279.66 L386.50,279.57 L387.00,280.36 L387.50,282.01 L388.00,284.49 L388.50,287.77 L389.00,291.78 L389.50,296.47 L390.00,301.75 L390.50,307.54 L391.00,313.77 L391.50,320.32 L392.00,327.13 L392.50,334.08 L393.00,341.11 L393.50,348.11 L394.00,355.03 L394.50,361.79 L395.00,368.32 L395.50,374.59 L396.00,380.54 L396.50,386.15 L397.00,391.39 L397.50,396.24 L398.00,400.71 L398.50,404.78 L399.00,408.48 L399.50,411.79 L400.00,414.76 L400.50,417.38 L401.00,419.69 L401.50,421.71 L402.00,423.46 L402.50,424.98 L403.00,426.27 L403.50,427.37 L404.00,428.30 L404.50,429.08 L405.00,429.74 L405.50,430.28 L406.00,430.72 L406.50,431.09 L407.00,431.38 L407.50,431.62 L408.00,431.81 L408.50,431.97 L409.00,432.09 L409.50,432.18 L410.00,432.26 L410.50,432.32 L411.00,432.36 L411.50,432.40 L412.00,432.42 L412.50,432.44 L413.00,432.46 L413.50,432.47 L414.00,432.48 L414.50,432.48 L415.00,432.49 L415.50,432.49 L416.00,432.49 L416.50,432.50 L417.00,432.50 L417.50,432.50 L418.00,432.50 L418.50,432.50 L419.00,432.50 L419.50,432.50 L420.00,432.50 L420.50,432.50 L421.00,432.50 L421.50,432.50 L422.00,432.50 L422.50,432.50 L423.00,432.50 L423.50,432.50 L424.00,432.50 L424.50,432.50 L425.00,432.50 L425.50,432.50 L426.00,432.50 L426.50,432.50 L427.00,432.50 L427.50,432.50 L428.00,432.50 L428.50,432.50 L429.00,432.50 L429.50,432.50 L430.00,432.50 L430.50,432.50 L431.00,432.50 L431.50,432.50 L432.00,432.50 L432.50,432.50 L433.00,432.50 L433.50,432.50 L434.00,432.50 L434.50,432.50 L435.00,432.50 L435.50,432.50 L436.00,432.50 L436.50,432.50 L437.00,432.50 L437.50,432.50 L438.00,432.50 L438.50,432.50 L439.00,432.50 L439.50,432.50 L440.00,432.50 L440.50,432.50 L441.00,432.50 L441.50,432.50 L442.00,432.50 L442.50,432.50 L443.00,432.50 L443.50,432.50 L444.00,432.50 L444.50,432.50 L445.00,432.50 L445.50,432.50 L446.00,432.50 L446.50,432.50 L447.00,432.50 L447.50,432.50 L448.00,432.50 L448.50,432.50 L449.00,432.50 L449.50,432.50 L450.00,432.50 L450.50,432.50 L451.00,432.50 L451.50,432.50 L452.00,432.50 L452.50,432.50 L453.00,432.50 L453.50,432.50 L454.00,432.50 L454.50,432.50 L455.00,432.50 L455.50,432.50 L456.00,432.50 L456.50,432.50 L457.00,432.50 L457.50,432.50 L458.00,432.50 L458.50,432.50 L459.00,432.50 L459.50,432.50 L460.00,432.50" fill="none" stroke="#0a84f0" stroke-width="1.95"/>
<path d="M283.00,430.81 L283.50,430.62 L284.00,430.42 L284.50,430.19 L285.00,429.95 L285.50,429.68 L286.00,429.39 L286.50,429.08 L287.00,428.74 L287.50,428.37 L288.00,427.97 L288.50,427.54 L289.00,427.08 L289.50,426.58 L290.00,426.05 L290.50,425.49 L291.00,424.88 L291.50,424.23 L292.00,423.54 L292.50,422.81 L293.00,422.03 L293.50,421.21 L294.00,420.34 L294.50,419.43 L295.00,418.46 L295.50,417.45 L296.00,416.39 L296.50,415.28 L297.00,414.12 L297.50,412.91 L298.00,411.65 L298.50,410.34 L299.00,408.99 L299.50,407.59 L300.00,406.14 L300.50,404.65 L301.00,403.13 L301.50,401.56 L302.00,399.96 L302.50,398.33 L303.00,396.67 L303.50,394.98 L304.00,393.27 L304.50,391.54 L305.00,389.81 L305.50,388.06 L306.00,386.31 L306.50,384.56 L307.00,382.82 L307.50,381.10 L308.00,379.39 L308.50,377.70 L309.00,376.05 L309.50,374.43 L310.00,372.86 L310.50,371.33 L311.00,369.85 L311.50,368.44 L312.00,367.09 L312.50,365.81 L313.00,364.61 L313.50,363.48 L314.00,362.44 L314.50,361.49 L315.00,360.64 L315.50,359.88 L316.00,359.22 L316.50,358.66 L317.00,358.22 L317.50,357.87 L318.00,357.64 L318.50,357.52 L319.00,357.51 L319.50,357.61 L320.00,357.82 L320.50,358.14 L321.00,358.57 L321.50,359.10 L322.00,359.74 L322.50,360.48 L323.00,361.31 L323.50,362.24 L324.00,363.27 L324.50,364.37 L325.00,365.56 L325.50,366.83 L326.00,368.16 L326.50,369.57 L327.00,371.03 L327.50,372.55 L328.00,374.11 L328.50,375.72 L329.00,377.37 L329.50,379.05 L330.00,380.75 L330.50,382.48 L331.00,384.21 L331.50,385.96 L332.00,387.71 L332.50,389.46 L333.00,391.20 L333.50,392.93 L334.00,394.64 L334.50,396.33 L335.00,398.00 L335.50,399.64 L336.00,401.24 L336.50,402.82 L337.00,404.35 L337.50,405.85 L338.00,407.30 L338.50,408.71 L339.00,410.07 L339.50,411.39 L340.00,412.66 L340.50,413.88 L341.00,415.05 L341.50,416.17 L342.00,417.24 L342.50,418.27 L343.00,419.24 L343.50,420.16 L344.00,421.04 L344.50,421.87 L345.00,422.66 L345.50,423.40 L346.00,424.10 L346.50,424.75 L347.00,425.37 L347.50,425.94 L348.00,426.48 L348.50,426.98 L349.00,427.45 L349.50,427.89 L350.00,428.29 L350.50,428.66 L351.00,429.01 L351.50,429.33 L352.00,429.62 L352.50,429.89 L353.00,430.14 L353.50,430.37 L354.00,430.58 L354.50,430.77 L355.00,430.95 L355.50,431.11 L356.00,431.25 L356.50,431.38 L357.00,431.50 L357.50,431.61 L358.00,431.70 L358.50,431.79 L359.00,431.87 L359.50,431.94 L360.00,432.01 L360.50,432.06 L361.00,432.11 L361.50,432.16 L362.00,432.20 L362.50,432.24 L363.00,432.27 L363.50,432.30 L364.00,432.32 L364.50,432.34 L365.00,432.36 L365.50,432.38 L366.00,432.40 L366.50,432.41 L367.00,432.42 L367.50,432.43 L368.00,432.44 L368.50,432.45 L369.00,432.46 L369.50,432.46 L370.00,432.47 L370.50,432.47 L371.00,432.48 L371.50,432.48 L372.00,432.48 L372.50,432.49 L373.00,432.49 L373.50,432.49 L374.00,432.49 L374.50,432.49 L375.00,432.49 L375.50,432.49 L376.00,432.50 L376.50,432.50 L377.00,432.50 L377.50,432.50 L378.00,432.50 L378.50,432.50 L379.00,432.50 L379.50,432.50 L380.00,432.50 L380.50,432.50 L381.00,432.50 L381.50,432.50 L382.00,432.50 L382.50,432.50 L383.00,432.50 L383.50,432.50 L384.00,432.50 L384.50,432.50 L385.00,432.50 L385.50,432.50 L386.00,432.50 L386.50,432.50 L387.00,432.50 L387.50,432.50 L388.00,432.50 L388.50,432.50 L389.00,432.50 L389.50,432.50 L390.00,432.50 L390.50,432.50 L391.00,432.50 L391.50,432.50 L392.00,432.50 L392.50,432.50 L393.00,432.50 L393.50,432.50 L394.00,432.50 L394.50,432.50 L395.00,432.50 L395.50,432.50 L396.00,432.50 L396.50,432.50 L397.00,432.50 L397.50,432.50 L398.00,432.50 L398.50,432.50 L399.00,432.50 L399.50,432.50 L400.00,432.50 L400.50,432.50 L401.00,432.50 L401.50,432.50 L402.00,432.50 L402.50,432.50 L403.00,432.50 L403.50,432.50 L404.00,432.50 L404.50,432.50 L405.00,432.50 L405.50,432.50 L406.00,432.50 L406.50,432.50 L407.00,432.50 L407.50,432.50 L408.00,432.50 L408.50,432.50 L409.00,432.50 L409.50,432.50 L410.00,432.50 L410.50,432.50 L411.00,432.50 L411.50,432.50 L412.00,432.50 L412.50,432.50 L413.00,432.50 L413.50,432.50 L414.00,432.50 L414.50,432.50 L415.00,432.50 L415.50,432.50 L416.00,432.50 L416.50,432.50 L417.00,432.50 L417.50,432.50 L418.00,432.50 L418.50,432.50 L419.00,432.50 L419.50,432.50 L420.00,432.50 L420.50,432.50 L421.00,432.50 L421.50,432.50 L422.00,432.50 L422.50,432.50 L423.00,432.50 L423.50,432.50 L424.00,432.50 L424.50,432.50 L425.00,432.50 L425.50,432.50 L426.00,432.50 L426.50,432.50 L427.00,432.50 L427.50,432.50 L428.00,432.50 L428.50,432.50 L429.00,432.50 L429.50,432.50 L430.00,432.50 L430.50,432.50 L431.00,432.50 L431.50,432.50 L432.00,432.50 L432.50,432.50 L433.00,432.50 L433.50,432.50 L434.00,432.50 L434.50,432.50 L435.00,432.50 L435.50,432.50 L436.00,432.50 L436.50,432.50 L437.00,432.50 L437.50,432.50 L438.00,432.50 L438.50,432.50 L439.00,432.50 L439.50,432.50 L440.00,432.50 L440.50,432.50 L441.00,432.50 L441.50,432.50 L442.00,432.50 L442.50,432.50 L443.00,432.50 L443.50,432.50 L444.00,432.50 L444.50,432.50 L445.00,432.50 L445.50,432.50 L446.00,432.50 L446.50,432.50 L447.00,432.50 L447.50,432.50 L448.00,432.50 L448.50,432.50 L449.00,432.50 L449.50,432.50 L450.00,432.50 L450.50,432.50 L451.00,432.50 L451.50,432.50 L452.00,432.50 L452.50,432.50 L453.00,432.50 L453.50,432.50 L454.00,432.50 L454.50,432.50 L455.00,432.50 L455.50,432.50 L456.00,432.50 L456.50,432.50 L457.00,432.50 L457.50,432.50 L458.00,432.50 L458.50,432.50 L459.00,432.50 L459.50,432.50 L460.00,432.50" fill="none" stroke="#f0287a" stroke-width="1.95"/>
<text x="324.6" y="269.8" font-size="12" text-anchor="start" fill="#f0287a" textLength="27.3" lengthAdjust="spacingAndGlyphs">-3.69</text>
<text x="395.5" y="269.8" font-size="12" text-anchor="start" fill="#1a8ef0" textLength="23.1" lengthAdjust="spacingAndGlyphs">0.22</text>
<text transform="translate(296 268.9) rotate(-90)" x="0" y="0" font-size="11.2" text-anchor="middle" fill="#333" textLength="18.8" lengthAdjust="spacingAndGlyphs">NHT</text>
<rect x="288.6" y="281.7" width="7.4" height="8.6" fill="#8c8d91"/>
<text transform="translate(296 317.75) rotate(-90)" x="0" y="0" font-size="11.2" text-anchor="middle" fill="#333" textLength="51.5" lengthAdjust="spacingAndGlyphs">TP53+NF2</text>
<rect x="288.6" y="347.6" width="7.4" height="6.9" fill="#0a84ff"/>
<text transform="translate(296 365.7) rotate(-90)" x="0" y="0" font-size="11.2" text-anchor="middle" fill="#333" textLength="17.4" lengthAdjust="spacingAndGlyphs">CE</text>
<rect x="288.6" y="377.8" width="7.4" height="6.9" fill="#df0080"/>
<text x="464.7" y="244.6" font-size="17" text-anchor="start" fill="#000" font-weight="bold">g</text>
<line x1="610.7" y1="258.86" x2="610.7" y2="432.3" stroke="#707070" stroke-width="1.1" stroke-dasharray="3.2,2.5"/>
<line x1="506.4" y1="328.3" x2="680.14" y2="328.3" stroke="#707070" stroke-width="1.1" stroke-dasharray="3.2,2.5"/>
<line x1="506.4" y1="258.86" x2="506.4" y2="438.8" stroke="#1e1e1e" stroke-width="0.95"/>
<line x1="499.9" y1="432.3" x2="680.14" y2="432.3" stroke="#1e1e1e" stroke-width="0.95"/>
<line x1="499.9" y1="258.86" x2="506.4" y2="258.86" stroke="#1e1e1e" stroke-width="0.95"/>
<line x1="499.9" y1="293.58" x2="506.4" y2="293.58" stroke="#1e1e1e" stroke-width="0.95"/>
<line x1="499.9" y1="328.3" x2="506.4" y2="328.3" stroke="#1e1e1e" stroke-width="0.95"/>
<line x1="499.9" y1="363.02" x2="506.4" y2="363.02" stroke="#1e1e1e" stroke-width="0.95"/>
<line x1="499.9" y1="397.74" x2="506.4" y2="397.74" stroke="#1e1e1e" stroke-width="0.95"/>
<text x="497.7" y="263.26" font-size="12.8" text-anchor="end" fill="#1a1a1a">4</text>
<text x="497.7" y="297.98" font-size="12.8" text-anchor="end" fill="#1a1a1a">2</text>
<text x="497.7" y="332.7" font-size="12.8" text-anchor="end" fill="#1a1a1a">0</text>
<text x="497.7" y="367.42" font-size="12.8" text-anchor="end" fill="#1a1a1a">-2</text>
<text x="497.7" y="402.14" font-size="12.8" text-anchor="end" fill="#1a1a1a">-4</text>
<text x="497.7" y="436.86" font-size="12.8" text-anchor="end" fill="#1a1a1a">-6</text>
<line x1="541.26" y1="432.3" x2="541.26" y2="438.8" stroke="#1e1e1e" stroke-width="0.95"/>
<line x1="575.98" y1="432.3" x2="575.98" y2="438.8" stroke="#1e1e1e" stroke-width="0.95"/>
<line x1="610.7" y1="432.3" x2="610.7" y2="438.8" stroke="#1e1e1e" stroke-width="0.95"/>
<line x1="645.42" y1="432.3" x2="645.42" y2="438.8" stroke="#1e1e1e" stroke-width="0.95"/>
<line x1="680.14" y1="432.3" x2="680.14" y2="438.8" stroke="#1e1e1e" stroke-width="0.95"/>
<text x="506.54" y="453.8" font-size="12.8" text-anchor="middle" fill="#1a1a1a">-6</text>
<text x="541.26" y="453.8" font-size="12.8" text-anchor="middle" fill="#1a1a1a">-4</text>
<text x="575.98" y="453.8" font-size="12.8" text-anchor="middle" fill="#1a1a1a">-2</text>
<text x="610.7" y="453.8" font-size="12.8" text-anchor="middle" fill="#1a1a1a">0</text>
<text x="645.42" y="453.8" font-size="12.8" text-anchor="middle" fill="#1a1a1a">2</text>
<text x="680.14" y="453.8" font-size="12.8" text-anchor="middle" fill="#1a1a1a">4</text>
<text x="593.4" y="465.8" font-size="12.4" text-anchor="middle" fill="#1a1a1a" textLength="116.5" lengthAdjust="spacingAndGlyphs">CHyMErA (gene LFC)</text>
<text transform="translate(482 345.6) rotate(-90)" x="0" y="0" font-size="12.4" text-anchor="middle" fill="#1a1a1a" textLength="133" lengthAdjust="spacingAndGlyphs">CHyMErA.v2 (gene LFC)</text>
<rect x="510.2" y="259.6" width="7" height="7" fill="#df0080"/>
<text x="520.1" y="266.7" font-size="10.2" text-anchor="start" fill="#333">CE-CE</text>
<rect x="510.2" y="269.5" width="7" height="7" fill="#0a84ff"/>
<text x="520.1" y="276.6" font-size="10.2" text-anchor="start" fill="#333">TS-TS</text>
<rect x="510.2" y="279.4" width="7" height="7" fill="#1a8c3f"/>
<text x="520.1" y="286.5" font-size="10.2" text-anchor="start" fill="#333">NHT-CE</text>
<rect x="510.2" y="289.3" width="7" height="7" fill="#8a8b8f"/>
<text x="520.1" y="296.4" font-size="10.2" text-anchor="start" fill="#333">NHT-TS</text>
<text x="509.7" y="308" font-size="11.9" text-anchor="start" fill="#1a1a1a" textLength="91" lengthAdjust="spacingAndGlyphs">Spearman r: 0.94</text>
<circle cx="586.42" cy="393.24" r="3.85" fill="#e0007f" stroke="#3a0a25" stroke-width="0.5"/>
<circle cx="587.51" cy="403.41" r="3.85" fill="#e0007f" stroke="#3a0a25" stroke-width="0.5"/>
<circle cx="597.78" cy="379.16" r="3.85" fill="#e0007f" stroke="#3a0a25" stroke-width="0.5"/>
<circle cx="601.1" cy="383.73" r="3.85" fill="#e0007f" stroke="#3a0a25" stroke-width="0.5"/>
<circle cx="595.26" cy="373.99" r="3.85" fill="#e0007f" stroke="#3a0a25" stroke-width="0.5"/>
<circle cx="597.15" cy="387.61" r="3.85" fill="#e0007f" stroke="#3a0a25" stroke-width="0.5"/>
<circle cx="587.13" cy="381.42" r="3.85" fill="#e0007f" stroke="#3a0a25" stroke-width="0.5"/>
<circle cx="585.68" cy="382.63" r="3.85" fill="#e0007f" stroke="#3a0a25" stroke-width="0.5"/>
<circle cx="590.84" cy="390.41" r="3.85" fill="#e0007f" stroke="#3a0a25" stroke-width="0.5"/>
<circle cx="600.09" cy="376.34" r="3.85" fill="#e0007f" stroke="#3a0a25" stroke-width="0.5"/>
<circle cx="583.62" cy="390.93" r="3.85" fill="#e0007f" stroke="#3a0a25" stroke-width="0.5"/>
<circle cx="590.38" cy="377.7" r="3.85" fill="#e0007f" stroke="#3a0a25" stroke-width="0.5"/>
<circle cx="580.46" cy="400.05" r="3.85" fill="#e0007f" stroke="#3a0a25" stroke-width="0.5"/>
<circle cx="594.22" cy="393.41" r="3.85" fill="#e0007f" stroke="#3a0a25" stroke-width="0.5"/>
<circle cx="590.26" cy="397.45" r="3.85" fill="#e0007f" stroke="#3a0a25" stroke-width="0.5"/>
<circle cx="591.11" cy="387.26" r="3.85" fill="#e0007f" stroke="#3a0a25" stroke-width="0.5"/>
<circle cx="590.99" cy="385.31" r="3.85" fill="#e0007f" stroke="#3a0a25" stroke-width="0.5"/>
<circle cx="581.34" cy="392.26" r="3.85" fill="#e0007f" stroke="#3a0a25" stroke-width="0.5"/>
<circle cx="583.51" cy="393.53" r="3.85" fill="#e0007f" stroke="#3a0a25" stroke-width="0.5"/>
<circle cx="585.24" cy="385.3" r="3.85" fill="#e0007f" stroke="#3a0a25" stroke-width="0.5"/>
<circle cx="600.5" cy="377.21" r="3.85" fill="#e0007f" stroke="#3a0a25" stroke-width="0.5"/>
<circle cx="591.91" cy="377.57" r="3.85" fill="#e0007f" stroke="#3a0a25" stroke-width="0.5"/>
<circle cx="590.63" cy="406.1" r="3.85" fill="#e0007f" stroke="#3a0a25" stroke-width="0.5"/>
<circle cx="588.6" cy="384.61" r="3.85" fill="#e0007f" stroke="#3a0a25" stroke-width="0.5"/>
<circle cx="594.77" cy="387.06" r="3.85" fill="#e0007f" stroke="#3a0a25" stroke-width="0.5"/>
<circle cx="595.47" cy="376.11" r="3.85" fill="#e0007f" stroke="#3a0a25" stroke-width="0.5"/>
<circle cx="593.55" cy="396.9" r="3.85" fill="#e0007f" stroke="#3a0a25" stroke-width="0.5"/>
<circle cx="592.44" cy="378.9" r="3.85" fill="#e0007f" stroke="#3a0a25" stroke-width="0.5"/>
<circle cx="590.4" cy="375.98" r="3.85" fill="#e0007f" stroke="#3a0a25" stroke-width="0.5"/>
<circle cx="594.4" cy="376.99" r="3.85" fill="#e0007f" stroke="#3a0a25" stroke-width="0.5"/>
<circle cx="600.4" cy="363.3" r="3.85" fill="#e0007f" stroke="#3a0a25" stroke-width="0.5"/>
<circle cx="601.1" cy="369.6" r="3.85" fill="#e0007f" stroke="#3a0a25" stroke-width="0.5"/>
<circle cx="601.7" cy="375.9" r="3.85" fill="#e0007f" stroke="#3a0a25" stroke-width="0.5"/>
<circle cx="598.5" cy="382.3" r="3.85" fill="#e0007f" stroke="#3a0a25" stroke-width="0.5"/>
<circle cx="600.4" cy="387.3" r="3.85" fill="#e0007f" stroke="#3a0a25" stroke-width="0.5"/>
<circle cx="595.4" cy="391.1" r="3.85" fill="#e0007f" stroke="#3a0a25" stroke-width="0.5"/>
<circle cx="585.3" cy="382.3" r="3.85" fill="#e0007f" stroke="#3a0a25" stroke-width="0.5"/>
<circle cx="586.5" cy="388.6" r="3.85" fill="#e0007f" stroke="#3a0a25" stroke-width="0.5"/>
<circle cx="581.5" cy="394.9" r="3.85" fill="#e0007f" stroke="#3a0a25" stroke-width="0.5"/>
<circle cx="592.8" cy="400" r="3.85" fill="#e0007f" stroke="#3a0a25" stroke-width="0.5"/>
<circle cx="589" cy="400" r="3.85" fill="#e0007f" stroke="#3a0a25" stroke-width="0.5"/>
<circle cx="580.2" cy="403.8" r="3.85" fill="#e0007f" stroke="#3a0a25" stroke-width="0.5"/>
<circle cx="584" cy="410.1" r="3.85" fill="#e0007f" stroke="#3a0a25" stroke-width="0.5"/>
<circle cx="587.2" cy="407.6" r="3.85" fill="#e0007f" stroke="#3a0a25" stroke-width="0.5"/>
<circle cx="582.7" cy="408.9" r="3.85" fill="#e0007f" stroke="#3a0a25" stroke-width="0.5"/>
<circle cx="590" cy="385" r="3.85" fill="#e0007f" stroke="#3a0a25" stroke-width="0.5"/>
<circle cx="593" cy="378" r="3.85" fill="#e0007f" stroke="#3a0a25" stroke-width="0.5"/>
<circle cx="588" cy="395" r="3.85" fill="#e0007f" stroke="#3a0a25" stroke-width="0.5"/>
<circle cx="596" cy="370" r="3.85" fill="#e0007f" stroke="#3a0a25" stroke-width="0.5"/>
<circle cx="596" cy="348.7" r="3.85" fill="#1a8c3f" stroke="#0a2a10" stroke-width="0.5"/>
<circle cx="595.4" cy="351.9" r="3.85" fill="#1a8c3f" stroke="#0a2a10" stroke-width="0.5"/>
<circle cx="595.4" cy="359.5" r="3.85" fill="#1a8c3f" stroke="#0a2a10" stroke-width="0.5"/>
<circle cx="594.1" cy="363.3" r="3.85" fill="#1a8c3f" stroke="#0a2a10" stroke-width="0.5"/>
<circle cx="600.4" cy="369.6" r="3.85" fill="#1a8c3f" stroke="#0a2a10" stroke-width="0.5"/>
<circle cx="589.7" cy="375.3" r="3.85" fill="#1a8c3f" stroke="#0a2a10" stroke-width="0.5"/>
<circle cx="597.9" cy="379.1" r="3.85" fill="#1a8c3f" stroke="#0a2a10" stroke-width="0.5"/>
<circle cx="594.7" cy="384.2" r="3.85" fill="#1a8c3f" stroke="#0a2a10" stroke-width="0.5"/>
<circle cx="591.6" cy="393.7" r="3.85" fill="#1a8c3f" stroke="#0a2a10" stroke-width="0.5"/>
<circle cx="589" cy="396.2" r="3.85" fill="#1a8c3f" stroke="#0a2a10" stroke-width="0.5"/>
<circle cx="605.5" cy="346.8" r="3.85" fill="#1a8c3f" stroke="#0a2a10" stroke-width="0.5"/>
<circle cx="597" cy="356" r="3.85" fill="#1a8c3f" stroke="#0a2a10" stroke-width="0.5"/>
<circle cx="592" cy="370" r="3.85" fill="#1a8c3f" stroke="#0a2a10" stroke-width="0.5"/>
<circle cx="598" cy="373" r="3.85" fill="#1a8c3f" stroke="#0a2a10" stroke-width="0.5"/>
<circle cx="593" cy="388" r="3.85" fill="#1a8c3f" stroke="#0a2a10" stroke-width="0.5"/>
<circle cx="633.40" cy="306.30" r="3.85" fill="#858585" fill-opacity="0.45" stroke="#4a4a4a" stroke-opacity="0.6" stroke-width="0.5"/>
<circle cx="637.20" cy="312.70" r="3.85" fill="#858585" fill-opacity="0.45" stroke="#4a4a4a" stroke-opacity="0.6" stroke-width="0.5"/>
<circle cx="620.70" cy="310.80" r="3.85" fill="#858585" fill-opacity="0.45" stroke="#4a4a4a" stroke-opacity="0.6" stroke-width="0.5"/>
<circle cx="625.80" cy="312.00" r="3.85" fill="#858585" fill-opacity="0.45" stroke="#4a4a4a" stroke-opacity="0.6" stroke-width="0.5"/>
<circle cx="602.30" cy="317.70" r="3.85" fill="#858585" fill-opacity="0.45" stroke="#4a4a4a" stroke-opacity="0.6" stroke-width="0.5"/>
<circle cx="609.30" cy="313.90" r="3.85" fill="#858585" fill-opacity="0.45" stroke="#4a4a4a" stroke-opacity="0.6" stroke-width="0.5"/>
<circle cx="601.70" cy="323.40" r="3.85" fill="#858585" fill-opacity="0.45" stroke="#4a4a4a" stroke-opacity="0.6" stroke-width="0.5"/>
<circle cx="627.00" cy="323.40" r="3.85" fill="#858585" fill-opacity="0.45" stroke="#4a4a4a" stroke-opacity="0.6" stroke-width="0.5"/>
<circle cx="623.20" cy="329.70" r="3.85" fill="#858585" fill-opacity="0.45" stroke="#4a4a4a" stroke-opacity="0.6" stroke-width="0.5"/>
<circle cx="618.20" cy="327.80" r="3.85" fill="#858585" fill-opacity="0.45" stroke="#4a4a4a" stroke-opacity="0.6" stroke-width="0.5"/>
<circle cx="597.30" cy="338.00" r="3.85" fill="#858585" fill-opacity="0.45" stroke="#4a4a4a" stroke-opacity="0.6" stroke-width="0.5"/>
<circle cx="595.40" cy="343.00" r="3.85" fill="#858585" fill-opacity="0.45" stroke="#4a4a4a" stroke-opacity="0.6" stroke-width="0.5"/>
<circle cx="614.40" cy="341.80" r="3.85" fill="#858585" fill-opacity="0.45" stroke="#4a4a4a" stroke-opacity="0.6" stroke-width="0.5"/>
<circle cx="607.40" cy="348.10" r="3.85" fill="#858585" fill-opacity="0.45" stroke="#4a4a4a" stroke-opacity="0.6" stroke-width="0.5"/>
<circle cx="600.40" cy="336.70" r="3.85" fill="#858585" fill-opacity="0.45" stroke="#4a4a4a" stroke-opacity="0.6" stroke-width="0.5"/>
<circle cx="628.30" cy="307.60" r="3.85" fill="#858585" fill-opacity="0.45" stroke="#4a4a4a" stroke-opacity="0.6" stroke-width="0.5"/>
<circle cx="613.63" cy="321.66" r="3.85" fill="#858585" fill-opacity="0.45" stroke="#4a4a4a" stroke-opacity="0.6" stroke-width="0.5"/>
<circle cx="606.66" cy="346.38" r="3.85" fill="#858585" fill-opacity="0.45" stroke="#4a4a4a" stroke-opacity="0.6" stroke-width="0.5"/>
<circle cx="614.19" cy="324.89" r="3.85" fill="#858585" fill-opacity="0.45" stroke="#4a4a4a" stroke-opacity="0.6" stroke-width="0.5"/>
<circle cx="620.21" cy="330.17" r="3.85" fill="#858585" fill-opacity="0.45" stroke="#4a4a4a" stroke-opacity="0.6" stroke-width="0.5"/>
<circle cx="623.91" cy="318.62" r="3.85" fill="#858585" fill-opacity="0.45" stroke="#4a4a4a" stroke-opacity="0.6" stroke-width="0.5"/>
<circle cx="605.55" cy="330.46" r="3.85" fill="#858585" fill-opacity="0.45" stroke="#4a4a4a" stroke-opacity="0.6" stroke-width="0.5"/>
<circle cx="601.24" cy="341.39" r="3.85" fill="#858585" fill-opacity="0.45" stroke="#4a4a4a" stroke-opacity="0.6" stroke-width="0.5"/>
<circle cx="611.78" cy="326.08" r="3.85" fill="#858585" fill-opacity="0.45" stroke="#4a4a4a" stroke-opacity="0.6" stroke-width="0.5"/>
<circle cx="614.66" cy="314.44" r="3.85" fill="#858585" fill-opacity="0.45" stroke="#4a4a4a" stroke-opacity="0.6" stroke-width="0.5"/>
<circle cx="616.50" cy="326.62" r="3.85" fill="#858585" fill-opacity="0.45" stroke="#4a4a4a" stroke-opacity="0.6" stroke-width="0.5"/>
<circle cx="614.81" cy="327.62" r="3.85" fill="#858585" fill-opacity="0.45" stroke="#4a4a4a" stroke-opacity="0.6" stroke-width="0.5"/>
<circle cx="598.97" cy="340.56" r="3.85" fill="#858585" fill-opacity="0.45" stroke="#4a4a4a" stroke-opacity="0.6" stroke-width="0.5"/>
<circle cx="619.99" cy="302.22" r="3.85" fill="#858585" fill-opacity="0.45" stroke="#4a4a4a" stroke-opacity="0.6" stroke-width="0.5"/>
<circle cx="609.89" cy="335.00" r="3.85" fill="#858585" fill-opacity="0.45" stroke="#4a4a4a" stroke-opacity="0.6" stroke-width="0.5"/>
<circle cx="622.91" cy="307.68" r="3.85" fill="#858585" fill-opacity="0.45" stroke="#4a4a4a" stroke-opacity="0.6" stroke-width="0.5"/>
<circle cx="611.26" cy="311.98" r="3.85" fill="#858585" fill-opacity="0.45" stroke="#4a4a4a" stroke-opacity="0.6" stroke-width="0.5"/>
<circle cx="621.75" cy="328.26" r="3.85" fill="#858585" fill-opacity="0.45" stroke="#4a4a4a" stroke-opacity="0.6" stroke-width="0.5"/>
<circle cx="605.97" cy="327.27" r="3.85" fill="#858585" fill-opacity="0.45" stroke="#4a4a4a" stroke-opacity="0.6" stroke-width="0.5"/>
<circle cx="603.98" cy="332.36" r="3.85" fill="#858585" fill-opacity="0.45" stroke="#4a4a4a" stroke-opacity="0.6" stroke-width="0.5"/>
<circle cx="617.39" cy="317.07" r="3.85" fill="#858585" fill-opacity="0.45" stroke="#4a4a4a" stroke-opacity="0.6" stroke-width="0.5"/>
<circle cx="611.02" cy="337.17" r="3.85" fill="#858585" fill-opacity="0.45" stroke="#4a4a4a" stroke-opacity="0.6" stroke-width="0.5"/>
<circle cx="593.88" cy="338.95" r="3.85" fill="#858585" fill-opacity="0.45" stroke="#4a4a4a" stroke-opacity="0.6" stroke-width="0.5"/>
<circle cx="622.05" cy="304.42" r="3.85" fill="#858585" fill-opacity="0.45" stroke="#4a4a4a" stroke-opacity="0.6" stroke-width="0.5"/>
<circle cx="611.58" cy="332.50" r="3.85" fill="#858585" fill-opacity="0.45" stroke="#4a4a4a" stroke-opacity="0.6" stroke-width="0.5"/>
<circle cx="599.03" cy="337.38" r="3.85" fill="#858585" fill-opacity="0.45" stroke="#4a4a4a" stroke-opacity="0.6" stroke-width="0.5"/>
<circle cx="606.49" cy="329.57" r="3.85" fill="#858585" fill-opacity="0.45" stroke="#4a4a4a" stroke-opacity="0.6" stroke-width="0.5"/>
<circle cx="626.76" cy="323.44" r="3.85" fill="#858585" fill-opacity="0.45" stroke="#4a4a4a" stroke-opacity="0.6" stroke-width="0.5"/>
<circle cx="596.41" cy="341.83" r="3.85" fill="#858585" fill-opacity="0.45" stroke="#4a4a4a" stroke-opacity="0.6" stroke-width="0.5"/>
<circle cx="618.89" cy="318.58" r="3.85" fill="#858585" fill-opacity="0.45" stroke="#4a4a4a" stroke-opacity="0.6" stroke-width="0.5"/>
<circle cx="614.51" cy="309.62" r="3.85" fill="#858585" fill-opacity="0.45" stroke="#4a4a4a" stroke-opacity="0.6" stroke-width="0.5"/>
<circle cx="614.47" cy="319.14" r="3.85" fill="#858585" fill-opacity="0.45" stroke="#4a4a4a" stroke-opacity="0.6" stroke-width="0.5"/>
<circle cx="600.53" cy="352.25" r="3.85" fill="#858585" fill-opacity="0.45" stroke="#4a4a4a" stroke-opacity="0.6" stroke-width="0.5"/>
<circle cx="601.51" cy="351.66" r="3.85" fill="#858585" fill-opacity="0.45" stroke="#4a4a4a" stroke-opacity="0.6" stroke-width="0.5"/>
<circle cx="605.73" cy="333.61" r="3.85" fill="#858585" fill-opacity="0.45" stroke="#4a4a4a" stroke-opacity="0.6" stroke-width="0.5"/>
<circle cx="615.76" cy="322.89" r="3.85" fill="#858585" fill-opacity="0.45" stroke="#4a4a4a" stroke-opacity="0.6" stroke-width="0.5"/>
<circle cx="611.52" cy="342.51" r="3.85" fill="#858585" fill-opacity="0.45" stroke="#4a4a4a" stroke-opacity="0.6" stroke-width="0.5"/>
<circle cx="610.09" cy="316.30" r="3.85" fill="#858585" fill-opacity="0.45" stroke="#4a4a4a" stroke-opacity="0.6" stroke-width="0.5"/>
<circle cx="597.70" cy="351.40" r="3.85" fill="#858585" fill-opacity="0.45" stroke="#4a4a4a" stroke-opacity="0.6" stroke-width="0.5"/>
<circle cx="613.84" cy="332.91" r="3.85" fill="#858585" fill-opacity="0.45" stroke="#4a4a4a" stroke-opacity="0.6" stroke-width="0.5"/>
<circle cx="597.49" cy="339.70" r="3.85" fill="#858585" fill-opacity="0.45" stroke="#4a4a4a" stroke-opacity="0.6" stroke-width="0.5"/>
<circle cx="613.95" cy="322.05" r="3.85" fill="#858585" fill-opacity="0.45" stroke="#4a4a4a" stroke-opacity="0.6" stroke-width="0.5"/>
<circle cx="623.82" cy="317.67" r="3.85" fill="#858585" fill-opacity="0.45" stroke="#4a4a4a" stroke-opacity="0.6" stroke-width="0.5"/>
<circle cx="606.56" cy="324.74" r="3.85" fill="#858585" fill-opacity="0.45" stroke="#4a4a4a" stroke-opacity="0.6" stroke-width="0.5"/>
<circle cx="610.03" cy="329.50" r="3.85" fill="#858585" fill-opacity="0.45" stroke="#4a4a4a" stroke-opacity="0.6" stroke-width="0.5"/>
<circle cx="608.99" cy="337.26" r="3.85" fill="#858585" fill-opacity="0.45" stroke="#4a4a4a" stroke-opacity="0.6" stroke-width="0.5"/>
<circle cx="612.40" cy="326.96" r="3.85" fill="#858585" fill-opacity="0.45" stroke="#4a4a4a" stroke-opacity="0.6" stroke-width="0.5"/>
<circle cx="627.47" cy="313.22" r="3.85" fill="#858585" fill-opacity="0.45" stroke="#4a4a4a" stroke-opacity="0.6" stroke-width="0.5"/>
<circle cx="621.50" cy="311.82" r="3.85" fill="#858585" fill-opacity="0.45" stroke="#4a4a4a" stroke-opacity="0.6" stroke-width="0.5"/>
<circle cx="614.59" cy="327.43" r="3.85" fill="#858585" fill-opacity="0.45" stroke="#4a4a4a" stroke-opacity="0.6" stroke-width="0.5"/>
<circle cx="608.52" cy="321.06" r="3.85" fill="#858585" fill-opacity="0.45" stroke="#4a4a4a" stroke-opacity="0.6" stroke-width="0.5"/>
<circle cx="618.47" cy="324.95" r="3.85" fill="#858585" fill-opacity="0.45" stroke="#4a4a4a" stroke-opacity="0.6" stroke-width="0.5"/>
<circle cx="601.01" cy="330.25" r="3.85" fill="#858585" fill-opacity="0.45" stroke="#4a4a4a" stroke-opacity="0.6" stroke-width="0.5"/>
<circle cx="610.40" cy="317.26" r="3.85" fill="#858585" fill-opacity="0.45" stroke="#4a4a4a" stroke-opacity="0.6" stroke-width="0.5"/>
<circle cx="597.67" cy="348.13" r="3.85" fill="#858585" fill-opacity="0.45" stroke="#4a4a4a" stroke-opacity="0.6" stroke-width="0.5"/>
<circle cx="601.15" cy="349.50" r="3.85" fill="#858585" fill-opacity="0.45" stroke="#4a4a4a" stroke-opacity="0.6" stroke-width="0.5"/>
<circle cx="626.28" cy="314.84" r="3.85" fill="#858585" fill-opacity="0.45" stroke="#4a4a4a" stroke-opacity="0.6" stroke-width="0.5"/>
<circle cx="621.29" cy="324.61" r="3.85" fill="#858585" fill-opacity="0.45" stroke="#4a4a4a" stroke-opacity="0.6" stroke-width="0.5"/>
<circle cx="612.39" cy="321.70" r="3.85" fill="#858585" fill-opacity="0.45" stroke="#4a4a4a" stroke-opacity="0.6" stroke-width="0.5"/>
<circle cx="629.07" cy="314.76" r="3.85" fill="#858585" fill-opacity="0.45" stroke="#4a4a4a" stroke-opacity="0.6" stroke-width="0.5"/>
<circle cx="624.30" cy="310.58" r="3.85" fill="#858585" fill-opacity="0.45" stroke="#4a4a4a" stroke-opacity="0.6" stroke-width="0.5"/>
<circle cx="632.55" cy="307.07" r="3.85" fill="#858585" fill-opacity="0.45" stroke="#4a4a4a" stroke-opacity="0.6" stroke-width="0.5"/>
<circle cx="621.89" cy="316.18" r="3.85" fill="#858585" fill-opacity="0.45" stroke="#4a4a4a" stroke-opacity="0.6" stroke-width="0.5"/>
<circle cx="621.19" cy="314.36" r="3.85" fill="#858585" fill-opacity="0.45" stroke="#4a4a4a" stroke-opacity="0.6" stroke-width="0.5"/>
<circle cx="631.97" cy="310.63" r="3.85" fill="#858585" fill-opacity="0.45" stroke="#4a4a4a" stroke-opacity="0.6" stroke-width="0.5"/>
<circle cx="625.58" cy="307.52" r="3.85" fill="#858585" fill-opacity="0.45" stroke="#4a4a4a" stroke-opacity="0.6" stroke-width="0.5"/>
<circle cx="625.56" cy="313.16" r="3.85" fill="#858585" fill-opacity="0.45" stroke="#4a4a4a" stroke-opacity="0.6" stroke-width="0.5"/>
<circle cx="625.12" cy="315.21" r="3.85" fill="#858585" fill-opacity="0.45" stroke="#4a4a4a" stroke-opacity="0.6" stroke-width="0.5"/>
<circle cx="601.1" cy="342.4" r="3.85" fill="#0aa5e8" stroke="#0a2a40" stroke-width="0.5"/>
<circle cx="604.2" cy="339.2" r="3.85" fill="#0aa5e8" stroke="#0a2a40" stroke-width="0.5"/>
<circle cx="605.5" cy="332.9" r="3.85" fill="#0aa5e8" stroke="#0a2a40" stroke-width="0.5"/>
<circle cx="606.8" cy="328.5" r="3.85" fill="#0aa5e8" stroke="#0a2a40" stroke-width="0.5"/>
<circle cx="608.7" cy="327.2" r="3.85" fill="#0aa5e8" stroke="#0a2a40" stroke-width="0.5"/>
<circle cx="608" cy="331" r="3.85" fill="#0aa5e8" stroke="#0a2a40" stroke-width="0.5"/>
<circle cx="606.8" cy="323.4" r="3.85" fill="#0aa5e8" stroke="#0a2a40" stroke-width="0.5"/>
<circle cx="611.8" cy="321.5" r="3.85" fill="#0aa5e8" stroke="#0a2a40" stroke-width="0.5"/>
<circle cx="613.1" cy="317.7" r="3.85" fill="#0aa5e8" stroke="#0a2a40" stroke-width="0.5"/>
<circle cx="617.5" cy="321.5" r="3.85" fill="#0aa5e8" stroke="#0a2a40" stroke-width="0.5"/>
<circle cx="611.2" cy="332.9" r="3.85" fill="#0aa5e8" stroke="#0a2a40" stroke-width="0.5"/>
<circle cx="628.9" cy="316.5" r="3.85" fill="#0aa5e8" stroke="#0a2a40" stroke-width="0.5"/>
<line x1="580.5" y1="410" x2="636.5" y2="265" stroke="#111" stroke-width="1.2" stroke-dasharray="9,2.5"/>
<text x="0.8" y="479.7" font-size="17" text-anchor="start" fill="#000" font-weight="bold">h</text>
<line x1="151.2" y1="487.4" x2="151.2" y2="660.9" stroke="#707070" stroke-width="1.1" stroke-dasharray="3.2,2.5"/>
<line x1="46.3" y1="556.8" x2="220.8" y2="556.8" stroke="#707070" stroke-width="1.1" stroke-dasharray="3.2,2.5"/>
<line x1="46.3" y1="487.4" x2="46.3" y2="667.7" stroke="#1e1e1e" stroke-width="0.95"/>
<line x1="39.5" y1="660.9" x2="220.8" y2="660.9" stroke="#707070" stroke-width="1.35"/>
<line x1="39.5" y1="487.4" x2="46.3" y2="487.4" stroke="#1e1e1e" stroke-width="0.95"/>
<line x1="39.5" y1="522.1" x2="46.3" y2="522.1" stroke="#1e1e1e" stroke-width="0.95"/>
<line x1="39.5" y1="556.8" x2="46.3" y2="556.8" stroke="#1e1e1e" stroke-width="0.95"/>
<line x1="39.5" y1="591.5" x2="46.3" y2="591.5" stroke="#1e1e1e" stroke-width="0.95"/>
<line x1="39.5" y1="626.2" x2="46.3" y2="626.2" stroke="#1e1e1e" stroke-width="0.95"/>
<text x="37.3" y="491.8" font-size="12.8" text-anchor="end" fill="#1a1a1a">4</text>
<text x="37.3" y="526.5" font-size="12.8" text-anchor="end" fill="#1a1a1a">2</text>
<text x="37.3" y="561.2" font-size="12.8" text-anchor="end" fill="#1a1a1a">0</text>
<text x="37.3" y="595.9" font-size="12.8" text-anchor="end" fill="#1a1a1a">-2</text>
<text x="37.3" y="630.6" font-size="12.8" text-anchor="end" fill="#1a1a1a">-4</text>
<text x="37.3" y="665.3" font-size="12.8" text-anchor="end" fill="#1a1a1a">-6</text>
<line x1="81.6" y1="660.9" x2="81.6" y2="667.7" stroke="#707070" stroke-width="1.35"/>
<line x1="116.4" y1="660.9" x2="116.4" y2="667.7" stroke="#707070" stroke-width="1.35"/>
<line x1="151.2" y1="660.9" x2="151.2" y2="667.7" stroke="#707070" stroke-width="1.35"/>
<line x1="186" y1="660.9" x2="186" y2="667.7" stroke="#707070" stroke-width="1.35"/>
<line x1="220.8" y1="660.9" x2="220.8" y2="667.7" stroke="#707070" stroke-width="1.35"/>
<text x="46.8" y="682.7" font-size="12.8" text-anchor="middle" fill="#1a1a1a">-6</text>
<text x="81.6" y="682.7" font-size="12.8" text-anchor="middle" fill="#1a1a1a">-4</text>
<text x="116.4" y="682.7" font-size="12.8" text-anchor="middle" fill="#1a1a1a">-2</text>
<text x="151.2" y="682.7" font-size="12.8" text-anchor="middle" fill="#1a1a1a">0</text>
<text x="186" y="682.7" font-size="12.8" text-anchor="middle" fill="#1a1a1a">2</text>
<text x="220.8" y="682.7" font-size="12.8" text-anchor="middle" fill="#1a1a1a">4</text>
<text x="133.7" y="695.3" font-size="12.4" text-anchor="middle" fill="#1a1a1a" textLength="108" lengthAdjust="spacingAndGlyphs">SpCas9 (gene LFC)</text>
<text transform="translate(21.4 573.6) rotate(-90)" x="0" y="0" font-size="12.4" text-anchor="middle" fill="#1a1a1a" textLength="133.9" lengthAdjust="spacingAndGlyphs">CHyMErA.v2 (gene LFC)</text>
<rect x="50" y="486.9" width="7" height="7" fill="#df0080"/>
<text x="59.9" y="494" font-size="10.2" text-anchor="start" fill="#333">CE-CE</text>
<rect x="50" y="496.8" width="7" height="7" fill="#0a84ff"/>
<text x="59.9" y="503.9" font-size="10.2" text-anchor="start" fill="#333">TS-TS</text>
<rect x="50" y="506.7" width="7" height="7" fill="#1a8c3f"/>
<text x="59.9" y="513.8" font-size="10.2" text-anchor="start" fill="#333">NHT-CE</text>
<rect x="50" y="516.6" width="7" height="7" fill="#8a8b8f"/>
<text x="59.9" y="523.7" font-size="10.2" text-anchor="start" fill="#333">NHT-TS</text>
<text x="50.4" y="535.6" font-size="11.9" text-anchor="start" fill="#1a1a1a" textLength="90.6" lengthAdjust="spacingAndGlyphs">Spearman r: 0.86</text>
<circle cx="196.50" cy="534.20" r="3.85" fill="#858585" fill-opacity="0.45" stroke="#4a4a4a" stroke-opacity="0.6" stroke-width="0.5"/>
<circle cx="207.00" cy="542.80" r="3.85" fill="#858585" fill-opacity="0.45" stroke="#4a4a4a" stroke-opacity="0.6" stroke-width="0.5"/>
<circle cx="186.10" cy="544.70" r="3.85" fill="#858585" fill-opacity="0.45" stroke="#4a4a4a" stroke-opacity="0.6" stroke-width="0.5"/>
<circle cx="179.50" cy="551.30" r="3.85" fill="#858585" fill-opacity="0.45" stroke="#4a4a4a" stroke-opacity="0.6" stroke-width="0.5"/>
<circle cx="188.00" cy="558.00" r="3.85" fill="#858585" fill-opacity="0.45" stroke="#4a4a4a" stroke-opacity="0.6" stroke-width="0.5"/>
<circle cx="198.40" cy="557.00" r="3.85" fill="#858585" fill-opacity="0.45" stroke="#4a4a4a" stroke-opacity="0.6" stroke-width="0.5"/>
<circle cx="135.80" cy="543.70" r="3.85" fill="#858585" fill-opacity="0.45" stroke="#4a4a4a" stroke-opacity="0.6" stroke-width="0.5"/>
<circle cx="143.40" cy="541.80" r="3.85" fill="#858585" fill-opacity="0.45" stroke="#4a4a4a" stroke-opacity="0.6" stroke-width="0.5"/>
<circle cx="160.50" cy="546.60" r="3.85" fill="#858585" fill-opacity="0.45" stroke="#4a4a4a" stroke-opacity="0.6" stroke-width="0.5"/>
<circle cx="166.20" cy="563.70" r="3.85" fill="#858585" fill-opacity="0.45" stroke="#4a4a4a" stroke-opacity="0.6" stroke-width="0.5"/>
<circle cx="167.10" cy="554.20" r="3.85" fill="#858585" fill-opacity="0.45" stroke="#4a4a4a" stroke-opacity="0.6" stroke-width="0.5"/>
<circle cx="136.80" cy="558.00" r="3.85" fill="#858585" fill-opacity="0.45" stroke="#4a4a4a" stroke-opacity="0.6" stroke-width="0.5"/>
<circle cx="138.70" cy="565.60" r="3.85" fill="#858585" fill-opacity="0.45" stroke="#4a4a4a" stroke-opacity="0.6" stroke-width="0.5"/>
<circle cx="133.00" cy="573.10" r="3.85" fill="#858585" fill-opacity="0.45" stroke="#4a4a4a" stroke-opacity="0.6" stroke-width="0.5"/>
<circle cx="111.10" cy="560.80" r="3.85" fill="#858585" fill-opacity="0.45" stroke="#4a4a4a" stroke-opacity="0.6" stroke-width="0.5"/>
<circle cx="105.40" cy="568.40" r="3.85" fill="#858585" fill-opacity="0.45" stroke="#4a4a4a" stroke-opacity="0.6" stroke-width="0.5"/>
<circle cx="112.10" cy="575.00" r="3.85" fill="#858585" fill-opacity="0.45" stroke="#4a4a4a" stroke-opacity="0.6" stroke-width="0.5"/>
<circle cx="110.20" cy="580.70" r="3.85" fill="#858585" fill-opacity="0.45" stroke="#4a4a4a" stroke-opacity="0.6" stroke-width="0.5"/>
<circle cx="129.20" cy="565.60" r="3.85" fill="#858585" fill-opacity="0.45" stroke="#4a4a4a" stroke-opacity="0.6" stroke-width="0.5"/>
<circle cx="122.50" cy="590.20" r="3.85" fill="#858585" fill-opacity="0.45" stroke="#4a4a4a" stroke-opacity="0.6" stroke-width="0.5"/>
<circle cx="139.60" cy="575.00" r="3.85" fill="#858585" fill-opacity="0.45" stroke="#4a4a4a" stroke-opacity="0.6" stroke-width="0.5"/>
<circle cx="151.90" cy="571.20" r="3.85" fill="#858585" fill-opacity="0.45" stroke="#4a4a4a" stroke-opacity="0.6" stroke-width="0.5"/>
<circle cx="158.60" cy="563.70" r="3.85" fill="#858585" fill-opacity="0.45" stroke="#4a4a4a" stroke-opacity="0.6" stroke-width="0.5"/>
<circle cx="104.80" cy="568.50" r="3.85" fill="#858585" fill-opacity="0.45" stroke="#4a4a4a" stroke-opacity="0.6" stroke-width="0.5"/>
<circle cx="111.40" cy="564.60" r="3.85" fill="#858585" fill-opacity="0.45" stroke="#4a4a4a" stroke-opacity="0.6" stroke-width="0.5"/>
<circle cx="110.00" cy="581.00" r="3.85" fill="#858585" fill-opacity="0.45" stroke="#4a4a4a" stroke-opacity="0.6" stroke-width="0.5"/>
<circle cx="112.00" cy="574.50" r="3.85" fill="#858585" fill-opacity="0.45" stroke="#4a4a4a" stroke-opacity="0.6" stroke-width="0.5"/>
<circle cx="116.00" cy="570.50" r="3.85" fill="#858585" fill-opacity="0.45" stroke="#4a4a4a" stroke-opacity="0.6" stroke-width="0.5"/>
<circle cx="129.10" cy="565.30" r="3.85" fill="#858585" fill-opacity="0.45" stroke="#4a4a4a" stroke-opacity="0.6" stroke-width="0.5"/>
<circle cx="193.00" cy="548.00" r="3.85" fill="#858585" fill-opacity="0.45" stroke="#4a4a4a" stroke-opacity="0.6" stroke-width="0.5"/>
<circle cx="200.00" cy="550.00" r="3.85" fill="#858585" fill-opacity="0.45" stroke="#4a4a4a" stroke-opacity="0.6" stroke-width="0.5"/>
<circle cx="205.00" cy="548.00" r="3.85" fill="#858585" fill-opacity="0.45" stroke="#4a4a4a" stroke-opacity="0.6" stroke-width="0.5"/>
<circle cx="152.33" cy="564.42" r="3.85" fill="#858585" fill-opacity="0.45" stroke="#4a4a4a" stroke-opacity="0.6" stroke-width="0.5"/>
<circle cx="167.59" cy="551.58" r="3.85" fill="#858585" fill-opacity="0.45" stroke="#4a4a4a" stroke-opacity="0.6" stroke-width="0.5"/>
<circle cx="141.41" cy="569.60" r="3.85" fill="#858585" fill-opacity="0.45" stroke="#4a4a4a" stroke-opacity="0.6" stroke-width="0.5"/>
<circle cx="145.54" cy="566.40" r="3.85" fill="#858585" fill-opacity="0.45" stroke="#4a4a4a" stroke-opacity="0.6" stroke-width="0.5"/>
<circle cx="141.89" cy="556.37" r="3.85" fill="#858585" fill-opacity="0.45" stroke="#4a4a4a" stroke-opacity="0.6" stroke-width="0.5"/>
<circle cx="142.53" cy="551.71" r="3.85" fill="#858585" fill-opacity="0.45" stroke="#4a4a4a" stroke-opacity="0.6" stroke-width="0.5"/>
<circle cx="147.06" cy="550.17" r="3.85" fill="#858585" fill-opacity="0.45" stroke="#4a4a4a" stroke-opacity="0.6" stroke-width="0.5"/>
<circle cx="155.25" cy="555.97" r="3.85" fill="#858585" fill-opacity="0.45" stroke="#4a4a4a" stroke-opacity="0.6" stroke-width="0.5"/>
<circle cx="146.71" cy="557.57" r="3.85" fill="#858585" fill-opacity="0.45" stroke="#4a4a4a" stroke-opacity="0.6" stroke-width="0.5"/>
<circle cx="140.62" cy="562.99" r="3.85" fill="#858585" fill-opacity="0.45" stroke="#4a4a4a" stroke-opacity="0.6" stroke-width="0.5"/>
<circle cx="161.06" cy="543.44" r="3.85" fill="#858585" fill-opacity="0.45" stroke="#4a4a4a" stroke-opacity="0.6" stroke-width="0.5"/>
<circle cx="160.78" cy="539.60" r="3.85" fill="#858585" fill-opacity="0.45" stroke="#4a4a4a" stroke-opacity="0.6" stroke-width="0.5"/>
<circle cx="148.50" cy="552.87" r="3.85" fill="#858585" fill-opacity="0.45" stroke="#4a4a4a" stroke-opacity="0.6" stroke-width="0.5"/>
<circle cx="139.57" cy="556.54" r="3.85" fill="#858585" fill-opacity="0.45" stroke="#4a4a4a" stroke-opacity="0.6" stroke-width="0.5"/>
<circle cx="161.71" cy="550.13" r="3.85" fill="#858585" fill-opacity="0.45" stroke="#4a4a4a" stroke-opacity="0.6" stroke-width="0.5"/>
<circle cx="166.86" cy="546.17" r="3.85" fill="#858585" fill-opacity="0.45" stroke="#4a4a4a" stroke-opacity="0.6" stroke-width="0.5"/>
<circle cx="155.86" cy="550.55" r="3.85" fill="#858585" fill-opacity="0.45" stroke="#4a4a4a" stroke-opacity="0.6" stroke-width="0.5"/>
<circle cx="141.25" cy="565.61" r="3.85" fill="#858585" fill-opacity="0.45" stroke="#4a4a4a" stroke-opacity="0.6" stroke-width="0.5"/>
<circle cx="166.63" cy="554.02" r="3.85" fill="#858585" fill-opacity="0.45" stroke="#4a4a4a" stroke-opacity="0.6" stroke-width="0.5"/>
<circle cx="148.16" cy="551.57" r="3.85" fill="#858585" fill-opacity="0.45" stroke="#4a4a4a" stroke-opacity="0.6" stroke-width="0.5"/>
<circle cx="161.99" cy="551.91" r="3.85" fill="#858585" fill-opacity="0.45" stroke="#4a4a4a" stroke-opacity="0.6" stroke-width="0.5"/>
<circle cx="151.92" cy="572.10" r="3.85" fill="#858585" fill-opacity="0.45" stroke="#4a4a4a" stroke-opacity="0.6" stroke-width="0.5"/>
<circle cx="147.68" cy="567.98" r="3.85" fill="#858585" fill-opacity="0.45" stroke="#4a4a4a" stroke-opacity="0.6" stroke-width="0.5"/>
<circle cx="153.40" cy="552.91" r="3.85" fill="#858585" fill-opacity="0.45" stroke="#4a4a4a" stroke-opacity="0.6" stroke-width="0.5"/>
<circle cx="148.14" cy="574.38" r="3.85" fill="#858585" fill-opacity="0.45" stroke="#4a4a4a" stroke-opacity="0.6" stroke-width="0.5"/>
<circle cx="150.60" cy="574.33" r="3.85" fill="#858585" fill-opacity="0.45" stroke="#4a4a4a" stroke-opacity="0.6" stroke-width="0.5"/>
<circle cx="140.48" cy="576.48" r="3.85" fill="#858585" fill-opacity="0.45" stroke="#4a4a4a" stroke-opacity="0.6" stroke-width="0.5"/>
<circle cx="144.43" cy="561.14" r="3.85" fill="#858585" fill-opacity="0.45" stroke="#4a4a4a" stroke-opacity="0.6" stroke-width="0.5"/>
<circle cx="153.71" cy="556.34" r="3.85" fill="#858585" fill-opacity="0.45" stroke="#4a4a4a" stroke-opacity="0.6" stroke-width="0.5"/>
<circle cx="161.16" cy="540.12" r="3.85" fill="#858585" fill-opacity="0.45" stroke="#4a4a4a" stroke-opacity="0.6" stroke-width="0.5"/>
<circle cx="147.45" cy="543.56" r="3.85" fill="#858585" fill-opacity="0.45" stroke="#4a4a4a" stroke-opacity="0.6" stroke-width="0.5"/>
<circle cx="161.21" cy="549.02" r="3.85" fill="#858585" fill-opacity="0.45" stroke="#4a4a4a" stroke-opacity="0.6" stroke-width="0.5"/>
<circle cx="166.15" cy="547.22" r="3.85" fill="#858585" fill-opacity="0.45" stroke="#4a4a4a" stroke-opacity="0.6" stroke-width="0.5"/>
<circle cx="138.58" cy="563.89" r="3.85" fill="#858585" fill-opacity="0.45" stroke="#4a4a4a" stroke-opacity="0.6" stroke-width="0.5"/>
<circle cx="143.77" cy="564.38" r="3.85" fill="#858585" fill-opacity="0.45" stroke="#4a4a4a" stroke-opacity="0.6" stroke-width="0.5"/>
<circle cx="158.24" cy="560.02" r="3.85" fill="#858585" fill-opacity="0.45" stroke="#4a4a4a" stroke-opacity="0.6" stroke-width="0.5"/>
<circle cx="140.56" cy="555.95" r="3.85" fill="#858585" fill-opacity="0.45" stroke="#4a4a4a" stroke-opacity="0.6" stroke-width="0.5"/>
<circle cx="151.51" cy="568.53" r="3.85" fill="#858585" fill-opacity="0.45" stroke="#4a4a4a" stroke-opacity="0.6" stroke-width="0.5"/>
<circle cx="152.76" cy="549.85" r="3.85" fill="#858585" fill-opacity="0.45" stroke="#4a4a4a" stroke-opacity="0.6" stroke-width="0.5"/>
<circle cx="162.03" cy="557.94" r="3.85" fill="#858585" fill-opacity="0.45" stroke="#4a4a4a" stroke-opacity="0.6" stroke-width="0.5"/>
<circle cx="163.55" cy="566.59" r="3.85" fill="#858585" fill-opacity="0.45" stroke="#4a4a4a" stroke-opacity="0.6" stroke-width="0.5"/>
<circle cx="160.55" cy="573.12" r="3.85" fill="#858585" fill-opacity="0.45" stroke="#4a4a4a" stroke-opacity="0.6" stroke-width="0.5"/>
<circle cx="154.94" cy="576.36" r="3.85" fill="#858585" fill-opacity="0.45" stroke="#4a4a4a" stroke-opacity="0.6" stroke-width="0.5"/>
<circle cx="140.37" cy="554.00" r="3.85" fill="#858585" fill-opacity="0.45" stroke="#4a4a4a" stroke-opacity="0.6" stroke-width="0.5"/>
<circle cx="155.32" cy="558.08" r="3.85" fill="#858585" fill-opacity="0.45" stroke="#4a4a4a" stroke-opacity="0.6" stroke-width="0.5"/>
<circle cx="154.03" cy="552.18" r="3.85" fill="#858585" fill-opacity="0.45" stroke="#4a4a4a" stroke-opacity="0.6" stroke-width="0.5"/>
<circle cx="148.27" cy="559.05" r="3.85" fill="#858585" fill-opacity="0.45" stroke="#4a4a4a" stroke-opacity="0.6" stroke-width="0.5"/>
<circle cx="159.86" cy="560.06" r="3.85" fill="#858585" fill-opacity="0.45" stroke="#4a4a4a" stroke-opacity="0.6" stroke-width="0.5"/>
<circle cx="157.66" cy="554.82" r="3.85" fill="#858585" fill-opacity="0.45" stroke="#4a4a4a" stroke-opacity="0.6" stroke-width="0.5"/>
<circle cx="161.52" cy="559.55" r="3.85" fill="#858585" fill-opacity="0.45" stroke="#4a4a4a" stroke-opacity="0.6" stroke-width="0.5"/>
<circle cx="140.34" cy="568.49" r="3.85" fill="#858585" fill-opacity="0.45" stroke="#4a4a4a" stroke-opacity="0.6" stroke-width="0.5"/>
<circle cx="144.51" cy="568.04" r="3.85" fill="#858585" fill-opacity="0.45" stroke="#4a4a4a" stroke-opacity="0.6" stroke-width="0.5"/>
<circle cx="155.92" cy="536.53" r="3.85" fill="#858585" fill-opacity="0.45" stroke="#4a4a4a" stroke-opacity="0.6" stroke-width="0.5"/>
<circle cx="149.93" cy="556.41" r="3.85" fill="#858585" fill-opacity="0.45" stroke="#4a4a4a" stroke-opacity="0.6" stroke-width="0.5"/>
<circle cx="142.19" cy="563.45" r="3.85" fill="#858585" fill-opacity="0.45" stroke="#4a4a4a" stroke-opacity="0.6" stroke-width="0.5"/>
<circle cx="193.03" cy="546.76" r="3.85" fill="#858585" fill-opacity="0.45" stroke="#4a4a4a" stroke-opacity="0.6" stroke-width="0.5"/>
<circle cx="194.92" cy="549.71" r="3.85" fill="#858585" fill-opacity="0.45" stroke="#4a4a4a" stroke-opacity="0.6" stroke-width="0.5"/>
<circle cx="190.45" cy="542.13" r="3.85" fill="#858585" fill-opacity="0.45" stroke="#4a4a4a" stroke-opacity="0.6" stroke-width="0.5"/>
<circle cx="194.90" cy="545.24" r="3.85" fill="#858585" fill-opacity="0.45" stroke="#4a4a4a" stroke-opacity="0.6" stroke-width="0.5"/>
<circle cx="193.29" cy="547.94" r="3.85" fill="#858585" fill-opacity="0.45" stroke="#4a4a4a" stroke-opacity="0.6" stroke-width="0.5"/>
<circle cx="197.33" cy="550.45" r="3.85" fill="#858585" fill-opacity="0.45" stroke="#4a4a4a" stroke-opacity="0.6" stroke-width="0.5"/>
<circle cx="197.06" cy="545.74" r="3.85" fill="#858585" fill-opacity="0.45" stroke="#4a4a4a" stroke-opacity="0.6" stroke-width="0.5"/>
<circle cx="188.77" cy="545.33" r="3.85" fill="#858585" fill-opacity="0.45" stroke="#4a4a4a" stroke-opacity="0.6" stroke-width="0.5"/>
<circle cx="197.69" cy="550.93" r="3.85" fill="#858585" fill-opacity="0.45" stroke="#4a4a4a" stroke-opacity="0.6" stroke-width="0.5"/>
<circle cx="193.97" cy="546.53" r="3.85" fill="#858585" fill-opacity="0.45" stroke="#4a4a4a" stroke-opacity="0.6" stroke-width="0.5"/>
<circle cx="66" cy="591.3" r="3.85" fill="#e0007f" stroke="#3a0a25" stroke-width="0.5"/>
<circle cx="74.6" cy="592.2" r="3.85" fill="#e0007f" stroke="#3a0a25" stroke-width="0.5"/>
<circle cx="64.1" cy="596.8" r="3.85" fill="#e0007f" stroke="#3a0a25" stroke-width="0.5"/>
<circle cx="70.6" cy="598.1" r="3.85" fill="#e0007f" stroke="#3a0a25" stroke-width="0.5"/>
<circle cx="73.2" cy="600.7" r="3.85" fill="#e0007f" stroke="#3a0a25" stroke-width="0.5"/>
<circle cx="79.2" cy="602" r="3.85" fill="#e0007f" stroke="#3a0a25" stroke-width="0.5"/>
<circle cx="63.4" cy="604" r="3.85" fill="#e0007f" stroke="#3a0a25" stroke-width="0.5"/>
<circle cx="84.4" cy="607.3" r="3.85" fill="#e0007f" stroke="#3a0a25" stroke-width="0.5"/>
<circle cx="92.3" cy="611.9" r="3.85" fill="#e0007f" stroke="#3a0a25" stroke-width="0.5"/>
<circle cx="64.7" cy="609.3" r="3.85" fill="#e0007f" stroke="#3a0a25" stroke-width="0.5"/>
<circle cx="77.8" cy="610.6" r="3.85" fill="#e0007f" stroke="#3a0a25" stroke-width="0.5"/>
<circle cx="63.4" cy="615.2" r="3.85" fill="#e0007f" stroke="#3a0a25" stroke-width="0.5"/>
<circle cx="71.3" cy="615.2" r="3.85" fill="#e0007f" stroke="#3a0a25" stroke-width="0.5"/>
<circle cx="87" cy="616.5" r="3.85" fill="#e0007f" stroke="#3a0a25" stroke-width="0.5"/>
<circle cx="58.1" cy="620.4" r="3.85" fill="#e0007f" stroke="#3a0a25" stroke-width="0.5"/>
<circle cx="56.8" cy="625" r="3.85" fill="#e0007f" stroke="#3a0a25" stroke-width="0.5"/>
<circle cx="68" cy="621.1" r="3.85" fill="#e0007f" stroke="#3a0a25" stroke-width="0.5"/>
<circle cx="81.8" cy="619.1" r="3.85" fill="#e0007f" stroke="#3a0a25" stroke-width="0.5"/>
<circle cx="64.7" cy="628.3" r="3.85" fill="#e0007f" stroke="#3a0a25" stroke-width="0.5"/>
<circle cx="83.1" cy="625.7" r="3.85" fill="#e0007f" stroke="#3a0a25" stroke-width="0.5"/>
<circle cx="89.7" cy="625.7" r="3.85" fill="#e0007f" stroke="#3a0a25" stroke-width="0.5"/>
<circle cx="59.5" cy="635.5" r="3.85" fill="#e0007f" stroke="#3a0a25" stroke-width="0.5"/>
<circle cx="67.3" cy="633.6" r="3.85" fill="#e0007f" stroke="#3a0a25" stroke-width="0.5"/>
<circle cx="75.2" cy="632.9" r="3.85" fill="#e0007f" stroke="#3a0a25" stroke-width="0.5"/>
<circle cx="87" cy="635.5" r="3.85" fill="#e0007f" stroke="#3a0a25" stroke-width="0.5"/>
<circle cx="64.7" cy="640.1" r="3.85" fill="#e0007f" stroke="#3a0a25" stroke-width="0.5"/>
<circle cx="72.6" cy="638.8" r="3.85" fill="#e0007f" stroke="#3a0a25" stroke-width="0.5"/>
<circle cx="81.8" cy="640.8" r="3.85" fill="#e0007f" stroke="#3a0a25" stroke-width="0.5"/>
<circle cx="70.6" cy="648" r="3.85" fill="#e0007f" stroke="#3a0a25" stroke-width="0.5"/>
<circle cx="66.31" cy="624.08" r="3.85" fill="#e0007f" stroke="#3a0a25" stroke-width="0.5"/>
<circle cx="63.86" cy="635.56" r="3.85" fill="#e0007f" stroke="#3a0a25" stroke-width="0.5"/>
<circle cx="65.94" cy="625.88" r="3.85" fill="#e0007f" stroke="#3a0a25" stroke-width="0.5"/>
<circle cx="86.79" cy="620.31" r="3.85" fill="#e0007f" stroke="#3a0a25" stroke-width="0.5"/>
<circle cx="88.04" cy="632.33" r="3.85" fill="#e0007f" stroke="#3a0a25" stroke-width="0.5"/>
<circle cx="75.44" cy="628.64" r="3.85" fill="#e0007f" stroke="#3a0a25" stroke-width="0.5"/>
<circle cx="76.58" cy="618.97" r="3.85" fill="#e0007f" stroke="#3a0a25" stroke-width="0.5"/>
<circle cx="88.9" cy="620.54" r="3.85" fill="#e0007f" stroke="#3a0a25" stroke-width="0.5"/>
<circle cx="88.52" cy="636.69" r="3.85" fill="#e0007f" stroke="#3a0a25" stroke-width="0.5"/>
<circle cx="59.85" cy="615.3" r="3.85" fill="#e0007f" stroke="#3a0a25" stroke-width="0.5"/>
<circle cx="73.33" cy="635.33" r="3.85" fill="#e0007f" stroke="#3a0a25" stroke-width="0.5"/>
<circle cx="64.33" cy="628.17" r="3.85" fill="#e0007f" stroke="#3a0a25" stroke-width="0.5"/>
<circle cx="70.02" cy="634.28" r="3.85" fill="#e0007f" stroke="#3a0a25" stroke-width="0.5"/>
<circle cx="86.79" cy="633.44" r="3.85" fill="#e0007f" stroke="#3a0a25" stroke-width="0.5"/>
<circle cx="64.8" cy="633.37" r="3.85" fill="#e0007f" stroke="#3a0a25" stroke-width="0.5"/>
<circle cx="72.14" cy="636.14" r="3.85" fill="#e0007f" stroke="#3a0a25" stroke-width="0.5"/>
<circle cx="73.1" cy="638.64" r="3.85" fill="#e0007f" stroke="#3a0a25" stroke-width="0.5"/>
<circle cx="88.58" cy="635.67" r="3.85" fill="#e0007f" stroke="#3a0a25" stroke-width="0.5"/>
<circle cx="83.78" cy="635.49" r="3.85" fill="#e0007f" stroke="#3a0a25" stroke-width="0.5"/>
<circle cx="76.76" cy="612.29" r="3.85" fill="#e0007f" stroke="#3a0a25" stroke-width="0.5"/>
<circle cx="88.59" cy="622.71" r="3.85" fill="#e0007f" stroke="#3a0a25" stroke-width="0.5"/>
<circle cx="59.49" cy="621.64" r="3.85" fill="#e0007f" stroke="#3a0a25" stroke-width="0.5"/>
<circle cx="71.45" cy="613.23" r="3.85" fill="#e0007f" stroke="#3a0a25" stroke-width="0.5"/>
<circle cx="87.81" cy="610.03" r="3.85" fill="#e0007f" stroke="#3a0a25" stroke-width="0.5"/>
<circle cx="86.12" cy="625.79" r="3.85" fill="#e0007f" stroke="#3a0a25" stroke-width="0.5"/>
<circle cx="64.36" cy="618.9" r="3.85" fill="#e0007f" stroke="#3a0a25" stroke-width="0.5"/>
<circle cx="72.51" cy="610.23" r="3.85" fill="#e0007f" stroke="#3a0a25" stroke-width="0.5"/>
<circle cx="81.89" cy="629.46" r="3.85" fill="#e0007f" stroke="#3a0a25" stroke-width="0.5"/>
<circle cx="88.47" cy="635.88" r="3.85" fill="#e0007f" stroke="#3a0a25" stroke-width="0.5"/>
<circle cx="82.58" cy="641.89" r="3.85" fill="#e0007f" stroke="#3a0a25" stroke-width="0.5"/>
<circle cx="86.96" cy="629.18" r="3.85" fill="#e0007f" stroke="#3a0a25" stroke-width="0.5"/>
<circle cx="75.18" cy="624.85" r="3.85" fill="#e0007f" stroke="#3a0a25" stroke-width="0.5"/>
<circle cx="83.42" cy="639.31" r="3.85" fill="#e0007f" stroke="#3a0a25" stroke-width="0.5"/>
<circle cx="83.92" cy="636.21" r="3.85" fill="#e0007f" stroke="#3a0a25" stroke-width="0.5"/>
<circle cx="59.82" cy="621.14" r="3.85" fill="#e0007f" stroke="#3a0a25" stroke-width="0.5"/>
<circle cx="61.62" cy="627.07" r="3.85" fill="#e0007f" stroke="#3a0a25" stroke-width="0.5"/>
<circle cx="76.4" cy="626.19" r="3.85" fill="#e0007f" stroke="#3a0a25" stroke-width="0.5"/>
<circle cx="84.74" cy="614.1" r="3.85" fill="#e0007f" stroke="#3a0a25" stroke-width="0.5"/>
<circle cx="80.87" cy="627.11" r="3.85" fill="#e0007f" stroke="#3a0a25" stroke-width="0.5"/>
<circle cx="65.39" cy="641.23" r="3.85" fill="#e0007f" stroke="#3a0a25" stroke-width="0.5"/>
<circle cx="60.61" cy="622.74" r="3.85" fill="#e0007f" stroke="#3a0a25" stroke-width="0.5"/>
<circle cx="75.07" cy="627.44" r="3.85" fill="#e0007f" stroke="#3a0a25" stroke-width="0.5"/>
<circle cx="88.46" cy="625.85" r="3.85" fill="#e0007f" stroke="#3a0a25" stroke-width="0.5"/>
<circle cx="85.6" cy="616.6" r="3.85" fill="#e0007f" stroke="#3a0a25" stroke-width="0.5"/>
<circle cx="73.44" cy="611.29" r="3.85" fill="#e0007f" stroke="#3a0a25" stroke-width="0.5"/>
<circle cx="78.19" cy="621.2" r="3.85" fill="#e0007f" stroke="#3a0a25" stroke-width="0.5"/>
<circle cx="82.55" cy="610.05" r="3.85" fill="#e0007f" stroke="#3a0a25" stroke-width="0.5"/>
<circle cx="72.93" cy="640.51" r="3.85" fill="#e0007f" stroke="#3a0a25" stroke-width="0.5"/>
<circle cx="59.34" cy="629.77" r="3.85" fill="#e0007f" stroke="#3a0a25" stroke-width="0.5"/>
<circle cx="79.32" cy="632.13" r="3.85" fill="#e0007f" stroke="#3a0a25" stroke-width="0.5"/>
<circle cx="75.72" cy="624.03" r="3.85" fill="#e0007f" stroke="#3a0a25" stroke-width="0.5"/>
<circle cx="87.78" cy="616.2" r="3.85" fill="#e0007f" stroke="#3a0a25" stroke-width="0.5"/>
<circle cx="80.11" cy="630.06" r="3.85" fill="#e0007f" stroke="#3a0a25" stroke-width="0.5"/>
<circle cx="80.85" cy="623.2" r="3.85" fill="#e0007f" stroke="#3a0a25" stroke-width="0.5"/>
<circle cx="59.5" cy="633.92" r="3.85" fill="#e0007f" stroke="#3a0a25" stroke-width="0.5"/>
<circle cx="67.38" cy="634.16" r="3.85" fill="#e0007f" stroke="#3a0a25" stroke-width="0.5"/>
<circle cx="88.61" cy="633.95" r="3.85" fill="#e0007f" stroke="#3a0a25" stroke-width="0.5"/>
<circle cx="71.09" cy="636.86" r="3.85" fill="#e0007f" stroke="#3a0a25" stroke-width="0.5"/>
<circle cx="70.58" cy="617.52" r="3.85" fill="#e0007f" stroke="#3a0a25" stroke-width="0.5"/>
<circle cx="76.13" cy="629.52" r="3.85" fill="#e0007f" stroke="#3a0a25" stroke-width="0.5"/>
<circle cx="73.2" cy="569.2" r="3.85" fill="#1a8c3f" stroke="#0a2a10" stroke-width="0.5"/>
<circle cx="82.4" cy="573.8" r="3.85" fill="#1a8c3f" stroke="#0a2a10" stroke-width="0.5"/>
<circle cx="75.9" cy="581" r="3.85" fill="#1a8c3f" stroke="#0a2a10" stroke-width="0.5"/>
<circle cx="79.8" cy="581" r="3.85" fill="#1a8c3f" stroke="#0a2a10" stroke-width="0.5"/>
<circle cx="97.6" cy="576.4" r="3.85" fill="#1a8c3f" stroke="#0a2a10" stroke-width="0.5"/>
<circle cx="104.1" cy="581" r="3.85" fill="#1a8c3f" stroke="#0a2a10" stroke-width="0.5"/>
<circle cx="98.9" cy="560.7" r="3.85" fill="#1a8c3f" stroke="#0a2a10" stroke-width="0.5"/>
<circle cx="87.7" cy="587.6" r="3.85" fill="#1a8c3f" stroke="#0a2a10" stroke-width="0.5"/>
<circle cx="86.4" cy="591.5" r="3.85" fill="#1a8c3f" stroke="#0a2a10" stroke-width="0.5"/>
<circle cx="89.7" cy="592.2" r="3.85" fill="#1a8c3f" stroke="#0a2a10" stroke-width="0.5"/>
<circle cx="81.1" cy="598.1" r="3.85" fill="#1a8c3f" stroke="#0a2a10" stroke-width="0.5"/>
<circle cx="111.4" cy="597.4" r="3.85" fill="#1a8c3f" stroke="#0a2a10" stroke-width="0.5"/>
<circle cx="91" cy="602.7" r="3.85" fill="#1a8c3f" stroke="#0a2a10" stroke-width="0.5"/>
<circle cx="71.3" cy="606" r="3.85" fill="#1a8c3f" stroke="#0a2a10" stroke-width="0.5"/>
<circle cx="99.5" cy="607.3" r="3.85" fill="#1a8c3f" stroke="#0a2a10" stroke-width="0.5"/>
<circle cx="105.4" cy="610.6" r="3.85" fill="#1a8c3f" stroke="#0a2a10" stroke-width="0.5"/>
<circle cx="102.8" cy="613.2" r="3.85" fill="#1a8c3f" stroke="#0a2a10" stroke-width="0.5"/>
<circle cx="90.3" cy="622.4" r="3.85" fill="#1a8c3f" stroke="#0a2a10" stroke-width="0.5"/>
<circle cx="76.5" cy="625" r="3.85" fill="#1a8c3f" stroke="#0a2a10" stroke-width="0.5"/>
<circle cx="98.8" cy="558.9" r="3.85" fill="#1a8c3f" stroke="#0a2a10" stroke-width="0.5"/>
<circle cx="97.8" cy="576" r="3.85" fill="#1a8c3f" stroke="#0a2a10" stroke-width="0.5"/>
<circle cx="103.5" cy="580.7" r="3.85" fill="#1a8c3f" stroke="#0a2a10" stroke-width="0.5"/>
<circle cx="111.1" cy="596.9" r="3.85" fill="#1a8c3f" stroke="#0a2a10" stroke-width="0.5"/>
<circle cx="195.6" cy="544.7" r="3.85" fill="#0aa5e8" stroke="#0a2a40" stroke-width="0.5"/>
<circle cx="192.2" cy="550.4" r="3.85" fill="#0aa5e8" stroke="#0a2a40" stroke-width="0.5"/>
<circle cx="149.1" cy="546.6" r="3.85" fill="#0aa5e8" stroke="#0a2a40" stroke-width="0.5"/>
<circle cx="144.3" cy="552.3" r="3.85" fill="#0aa5e8" stroke="#0a2a40" stroke-width="0.5"/>
<circle cx="152.9" cy="556.1" r="3.85" fill="#0aa5e8" stroke="#0a2a40" stroke-width="0.5"/>
<circle cx="162.4" cy="549.4" r="3.85" fill="#0aa5e8" stroke="#0a2a40" stroke-width="0.5"/>
<circle cx="162.4" cy="553.2" r="3.85" fill="#0aa5e8" stroke="#0a2a40" stroke-width="0.5"/>
<circle cx="146.2" cy="559.9" r="3.85" fill="#0aa5e8" stroke="#0a2a40" stroke-width="0.5"/>
<circle cx="151" cy="566.5" r="3.85" fill="#0aa5e8" stroke="#0a2a40" stroke-width="0.5"/>
<circle cx="144.3" cy="568.4" r="3.85" fill="#0aa5e8" stroke="#0a2a40" stroke-width="0.5"/>
<circle cx="124.4" cy="559.9" r="3.85" fill="#0aa5e8" stroke="#0a2a40" stroke-width="0.5"/>
<circle cx="126.3" cy="570.3" r="3.85" fill="#0aa5e8" stroke="#0a2a40" stroke-width="0.5"/>
<circle cx="154.8" cy="552.3" r="3.85" fill="#0aa5e8" stroke="#0a2a40" stroke-width="0.5"/>
<line x1="57.1" y1="627.7" x2="204.7" y2="524.2" stroke="#111" stroke-width="1.2" stroke-dasharray="6.5,4.2"/>
<text x="224" y="479.6" font-size="17" text-anchor="start" fill="#000" font-weight="bold">i</text>
<line x1="376.8" y1="488.98" x2="376.8" y2="662.3" stroke="#707070" stroke-width="1.1" stroke-dasharray="3.2,2.5"/>
<line x1="272.5" y1="558.3" x2="446.4" y2="558.3" stroke="#707070" stroke-width="1.1" stroke-dasharray="3.2,2.5"/>
<line x1="272.5" y1="488.98" x2="272.5" y2="666.7" stroke="#1e1e1e" stroke-width="0.95"/>
<line x1="268.1" y1="662.3" x2="446.4" y2="662.3" stroke="#1e1e1e" stroke-width="0.95"/>
<line x1="268.1" y1="488.98" x2="272.5" y2="488.98" stroke="#1e1e1e" stroke-width="0.95"/>
<line x1="268.1" y1="523.64" x2="272.5" y2="523.64" stroke="#1e1e1e" stroke-width="0.95"/>
<line x1="268.1" y1="558.3" x2="272.5" y2="558.3" stroke="#1e1e1e" stroke-width="0.95"/>
<line x1="268.1" y1="592.96" x2="272.5" y2="592.96" stroke="#1e1e1e" stroke-width="0.95"/>
<line x1="268.1" y1="627.62" x2="272.5" y2="627.62" stroke="#1e1e1e" stroke-width="0.95"/>
<text x="265.9" y="493.38" font-size="12.8" text-anchor="end" fill="#1a1a1a">4</text>
<text x="265.9" y="528.04" font-size="12.8" text-anchor="end" fill="#1a1a1a">2</text>
<text x="265.9" y="562.7" font-size="12.8" text-anchor="end" fill="#1a1a1a">0</text>
<text x="265.9" y="597.36" font-size="12.8" text-anchor="end" fill="#1a1a1a">-2</text>
<text x="265.9" y="632.02" font-size="12.8" text-anchor="end" fill="#1a1a1a">-4</text>
<text x="265.9" y="666.68" font-size="12.8" text-anchor="end" fill="#1a1a1a">-6</text>
<line x1="307.2" y1="662.3" x2="307.2" y2="666.7" stroke="#1e1e1e" stroke-width="0.95"/>
<line x1="342" y1="662.3" x2="342" y2="666.7" stroke="#1e1e1e" stroke-width="0.95"/>
<line x1="376.8" y1="662.3" x2="376.8" y2="666.7" stroke="#1e1e1e" stroke-width="0.95"/>
<line x1="411.6" y1="662.3" x2="411.6" y2="666.7" stroke="#1e1e1e" stroke-width="0.95"/>
<line x1="446.4" y1="662.3" x2="446.4" y2="666.7" stroke="#1e1e1e" stroke-width="0.95"/>
<text x="272.4" y="681.7" font-size="12.8" text-anchor="middle" fill="#1a1a1a">-6</text>
<text x="307.2" y="681.7" font-size="12.8" text-anchor="middle" fill="#1a1a1a">-4</text>
<text x="342" y="681.7" font-size="12.8" text-anchor="middle" fill="#1a1a1a">-2</text>
<text x="376.8" y="681.7" font-size="12.8" text-anchor="middle" fill="#1a1a1a">0</text>
<text x="411.6" y="681.7" font-size="12.8" text-anchor="middle" fill="#1a1a1a">2</text>
<text x="446.4" y="681.7" font-size="12.8" text-anchor="middle" fill="#1a1a1a">4</text>
<text x="359.3" y="695.3" font-size="12.4" text-anchor="middle" fill="#1a1a1a" textLength="133.1" lengthAdjust="spacingAndGlyphs">enAsCas12a (gene LFC)</text>
<text transform="translate(247.3 575.2) rotate(-90)" x="0" y="0" font-size="12.4" text-anchor="middle" fill="#1a1a1a" textLength="210.2" lengthAdjust="spacingAndGlyphs">CHyMErA.v2(enAsCas12a) (gene LFC)</text>
<rect x="276" y="489.6" width="7" height="7" fill="#df0080"/>
<text x="285.9" y="496.7" font-size="10.2" text-anchor="start" fill="#333">NHT-CE</text>
<rect x="276" y="502.5" width="7" height="7" fill="#0a84ff"/>
<text x="285.9" y="509.6" font-size="10.2" text-anchor="start" fill="#333">NHT-TS</text>
<text x="276.1" y="522.8" font-size="11.9" text-anchor="start" fill="#1a1a1a" textLength="91" lengthAdjust="spacingAndGlyphs">Spearman r: 0.92</text>
<line x1="272" y1="610" x2="324.5" y2="610" stroke="#e0388e" stroke-width="1" stroke-dasharray="3.4,2.4"/>
<line x1="325.2" y1="610" x2="325.2" y2="662.4" stroke="#e0388e" stroke-width="1" stroke-dasharray="3.4,2.4"/>
<text x="286.7" y="607" font-size="10.2" text-anchor="start" fill="#e0388e" textLength="20.6" lengthAdjust="spacingAndGlyphs">-2.91</text>
<text x="327.9" y="641.2" font-size="10.2" text-anchor="start" fill="#e0388e" textLength="21.3" lengthAdjust="spacingAndGlyphs">-2.95</text>
<circle cx="327.2" cy="593.1" r="3.85" fill="#e0007f" stroke="#3a0a25" stroke-width="0.5"/>
<circle cx="324.5" cy="600" r="3.85" fill="#e0007f" stroke="#3a0a25" stroke-width="0.5"/>
<circle cx="324.5" cy="605.8" r="3.85" fill="#e0007f" stroke="#3a0a25" stroke-width="0.5"/>
<circle cx="323.5" cy="611" r="3.85" fill="#e0007f" stroke="#3a0a25" stroke-width="0.5"/>
<circle cx="329" cy="608.5" r="3.85" fill="#e0007f" stroke="#3a0a25" stroke-width="0.5"/>
<circle cx="321" cy="614.4" r="3.85" fill="#e0007f" stroke="#3a0a25" stroke-width="0.5"/>
<circle cx="318.3" cy="623" r="3.85" fill="#e0007f" stroke="#3a0a25" stroke-width="0.5"/>
<circle cx="314.2" cy="626.4" r="3.85" fill="#e0007f" stroke="#3a0a25" stroke-width="0.5"/>
<circle cx="344" cy="604" r="3.85" fill="#e0007f" stroke="#3a0a25" stroke-width="0.5"/>
<circle cx="378.7" cy="548.5" r="3.85" fill="#0aa5e8" stroke="#0a2a40" stroke-width="0.5"/>
<circle cx="365.6" cy="561.2" r="3.85" fill="#0aa5e8" stroke="#0a2a40" stroke-width="0.5"/>
<circle cx="374.2" cy="559.5" r="3.85" fill="#0aa5e8" stroke="#0a2a40" stroke-width="0.5"/>
<circle cx="382.1" cy="554.3" r="3.85" fill="#0aa5e8" stroke="#0a2a40" stroke-width="0.5"/>
<circle cx="385.5" cy="554.3" r="3.85" fill="#0aa5e8" stroke="#0a2a40" stroke-width="0.5"/>
<circle cx="370.8" cy="569" r="3.85" fill="#0aa5e8" stroke="#0a2a40" stroke-width="0.5"/>
<circle cx="376" cy="570.5" r="3.85" fill="#0aa5e8" stroke="#0a2a40" stroke-width="0.5"/>
<circle cx="408.5" cy="551.9" r="3.85" fill="#0aa5e8" stroke="#0a2a40" stroke-width="0.5"/>
<circle cx="368.4" cy="562.9" r="3.85" fill="#0aa5e8" stroke="#0a2a40" stroke-width="0.5"/>
<line x1="314.9" y1="617.1" x2="410.2" y2="532.7" stroke="#111" stroke-width="1.2" stroke-dasharray="6.5,4.2"/>
<text x="465.5" y="479.7" font-size="17" text-anchor="start" fill="#000" font-weight="bold">j</text>
<line x1="611.1" y1="489" x2="611.1" y2="662.3" stroke="#707070" stroke-width="1.1" stroke-dasharray="3.2,2.5"/>
<line x1="506.9" y1="558.4" x2="680.7" y2="558.4" stroke="#707070" stroke-width="1.1" stroke-dasharray="3.2,2.5"/>
<line x1="506.9" y1="489" x2="506.9" y2="667" stroke="#707070" stroke-width="1.35"/>
<line x1="502.2" y1="662.3" x2="680.7" y2="662.3" stroke="#1e1e1e" stroke-width="0.95"/>
<line x1="502.2" y1="489" x2="506.9" y2="489" stroke="#707070" stroke-width="1.35"/>
<line x1="502.2" y1="523.7" x2="506.9" y2="523.7" stroke="#707070" stroke-width="1.35"/>
<line x1="502.2" y1="558.4" x2="506.9" y2="558.4" stroke="#707070" stroke-width="1.35"/>
<line x1="502.2" y1="593.1" x2="506.9" y2="593.1" stroke="#707070" stroke-width="1.35"/>
<line x1="502.2" y1="627.8" x2="506.9" y2="627.8" stroke="#707070" stroke-width="1.35"/>
<text x="500" y="493.4" font-size="12.8" text-anchor="end" fill="#1a1a1a">4</text>
<text x="500" y="528.1" font-size="12.8" text-anchor="end" fill="#1a1a1a">2</text>
<text x="500" y="562.8" font-size="12.8" text-anchor="end" fill="#1a1a1a">0</text>
<text x="500" y="597.5" font-size="12.8" text-anchor="end" fill="#1a1a1a">-2</text>
<text x="500" y="632.2" font-size="12.8" text-anchor="end" fill="#1a1a1a">-4</text>
<text x="500" y="666.9" font-size="12.8" text-anchor="end" fill="#1a1a1a">-6</text>
<line x1="541.5" y1="662.3" x2="541.5" y2="667" stroke="#1e1e1e" stroke-width="0.95"/>
<line x1="576.3" y1="662.3" x2="576.3" y2="667" stroke="#1e1e1e" stroke-width="0.95"/>
<line x1="611.1" y1="662.3" x2="611.1" y2="667" stroke="#1e1e1e" stroke-width="0.95"/>
<line x1="645.9" y1="662.3" x2="645.9" y2="667" stroke="#1e1e1e" stroke-width="0.95"/>
<line x1="680.7" y1="662.3" x2="680.7" y2="667" stroke="#1e1e1e" stroke-width="0.95"/>
<text x="506.7" y="682" font-size="12.8" text-anchor="middle" fill="#1a1a1a">-6</text>
<text x="541.5" y="682" font-size="12.8" text-anchor="middle" fill="#1a1a1a">-4</text>
<text x="576.3" y="682" font-size="12.8" text-anchor="middle" fill="#1a1a1a">-2</text>
<text x="611.1" y="682" font-size="12.8" text-anchor="middle" fill="#1a1a1a">0</text>
<text x="645.9" y="682" font-size="12.8" text-anchor="middle" fill="#1a1a1a">2</text>
<text x="680.7" y="682" font-size="12.8" text-anchor="middle" fill="#1a1a1a">4</text>
<text x="593.5" y="695.3" font-size="12.4" text-anchor="middle" fill="#1a1a1a" textLength="171.4" lengthAdjust="spacingAndGlyphs">CHyMErA(SpCas9) (gene LFC)</text>
<text transform="translate(481.8 575.6) rotate(-90)" x="0" y="0" font-size="12.4" text-anchor="middle" fill="#1a1a1a" textLength="187.4" lengthAdjust="spacingAndGlyphs">CHyMErA.v2(SpCas9) (gene LFC)</text>
<rect x="510.2" y="490.2" width="7" height="7" fill="#df0080"/>
<text x="520.1" y="497.3" font-size="10.2" text-anchor="start" fill="#333">NHT-CE</text>
<rect x="510.2" y="503.1" width="7" height="7" fill="#0a84ff"/>
<text x="520.1" y="510.2" font-size="10.2" text-anchor="start" fill="#333">NHT-TS</text>
<text x="509.7" y="523.1" font-size="11.9" text-anchor="start" fill="#1a1a1a" textLength="91" lengthAdjust="spacingAndGlyphs">Spearman r: 0.96</text>
<circle cx="589.3" cy="607" r="3.85" fill="#e0007f" stroke="#3a0a25" stroke-width="0.5"/>
<circle cx="593.3" cy="593.3" r="3.85" fill="#e0007f" stroke="#3a0a25" stroke-width="0.5"/>
<circle cx="595.4" cy="588.6" r="3.85" fill="#e0007f" stroke="#3a0a25" stroke-width="0.5"/>
<circle cx="596" cy="578.2" r="3.85" fill="#e0007f" stroke="#3a0a25" stroke-width="0.5"/>
<circle cx="597.7" cy="582.6" r="3.85" fill="#e0007f" stroke="#3a0a25" stroke-width="0.5"/>
<circle cx="601.7" cy="570.8" r="3.85" fill="#e0007f" stroke="#3a0a25" stroke-width="0.5"/>
<circle cx="606.1" cy="575.9" r="3.85" fill="#e0007f" stroke="#3a0a25" stroke-width="0.5"/>
<circle cx="612.2" cy="551.3" r="3.85" fill="#0aa5e8" stroke="#0a2a40" stroke-width="0.5"/>
<circle cx="609.5" cy="557.4" r="3.85" fill="#0aa5e8" stroke="#0a2a40" stroke-width="0.5"/>
<circle cx="607.8" cy="562.4" r="3.85" fill="#0aa5e8" stroke="#0a2a40" stroke-width="0.5"/>
<circle cx="611.1" cy="561.4" r="3.85" fill="#0aa5e8" stroke="#0a2a40" stroke-width="0.5"/>
<circle cx="628.6" cy="546.6" r="3.85" fill="#0aa5e8" stroke="#0a2a40" stroke-width="0.5"/>
<line x1="591" y1="594.3" x2="629" y2="531.2" stroke="#111" stroke-width="1.2" stroke-dasharray="6.5,4.2"/>
<text x="1.4" y="722.7" font-size="17" text-anchor="start" fill="#000" font-weight="bold">k</text>
<line x1="150.3" y1="738.6" x2="150.3" y2="911.1" stroke="#707070" stroke-width="1.1" stroke-dasharray="3.2,2.5"/>
<line x1="45.8" y1="807.6" x2="220.02" y2="807.6" stroke="#707070" stroke-width="1.1" stroke-dasharray="3.2,2.5"/>
<line x1="45.8" y1="738.6" x2="45.8" y2="915.8" stroke="#707070" stroke-width="1.35"/>
<line x1="41.1" y1="911.1" x2="220.02" y2="911.1" stroke="#1e1e1e" stroke-width="0.95"/>
<line x1="41.1" y1="738.6" x2="45.8" y2="738.6" stroke="#707070" stroke-width="1.35"/>
<line x1="41.1" y1="773.1" x2="45.8" y2="773.1" stroke="#707070" stroke-width="1.35"/>
<line x1="41.1" y1="807.6" x2="45.8" y2="807.6" stroke="#707070" stroke-width="1.35"/>
<line x1="41.1" y1="842.1" x2="45.8" y2="842.1" stroke="#707070" stroke-width="1.35"/>
<line x1="41.1" y1="876.6" x2="45.8" y2="876.6" stroke="#707070" stroke-width="1.35"/>
<text x="38.9" y="743" font-size="12.8" text-anchor="end" fill="#1a1a1a">4</text>
<text x="38.9" y="777.5" font-size="12.8" text-anchor="end" fill="#1a1a1a">2</text>
<text x="38.9" y="812" font-size="12.8" text-anchor="end" fill="#1a1a1a">0</text>
<text x="38.9" y="846.5" font-size="12.8" text-anchor="end" fill="#1a1a1a">-2</text>
<text x="38.9" y="881" font-size="12.8" text-anchor="end" fill="#1a1a1a">-4</text>
<text x="38.9" y="915.5" font-size="12.8" text-anchor="end" fill="#1a1a1a">-6</text>
<line x1="80.58" y1="911.1" x2="80.58" y2="915.8" stroke="#1e1e1e" stroke-width="0.95"/>
<line x1="115.44" y1="911.1" x2="115.44" y2="915.8" stroke="#1e1e1e" stroke-width="0.95"/>
<line x1="150.3" y1="911.1" x2="150.3" y2="915.8" stroke="#1e1e1e" stroke-width="0.95"/>
<line x1="185.16" y1="911.1" x2="185.16" y2="915.8" stroke="#1e1e1e" stroke-width="0.95"/>
<line x1="220.02" y1="911.1" x2="220.02" y2="915.8" stroke="#1e1e1e" stroke-width="0.95"/>
<text x="45.72" y="930.8" font-size="12.8" text-anchor="middle" fill="#1a1a1a">-6</text>
<text x="80.58" y="930.8" font-size="12.8" text-anchor="middle" fill="#1a1a1a">-4</text>
<text x="115.44" y="930.8" font-size="12.8" text-anchor="middle" fill="#1a1a1a">-2</text>
<text x="150.3" y="930.8" font-size="12.8" text-anchor="middle" fill="#1a1a1a">0</text>
<text x="185.16" y="930.8" font-size="12.8" text-anchor="middle" fill="#1a1a1a">2</text>
<text x="220.02" y="930.8" font-size="12.8" text-anchor="middle" fill="#1a1a1a">4</text>
<text x="133" y="944.7" font-size="12.4" text-anchor="middle" fill="#1a1a1a" textLength="108" lengthAdjust="spacingAndGlyphs">SpCas9 (gene LFC)</text>
<text transform="translate(21.2 824.5) rotate(-90)" x="0" y="0" font-size="12.4" text-anchor="middle" fill="#1a1a1a" textLength="184.4" lengthAdjust="spacingAndGlyphs">CHyMErA.v2(SpCas9) (gene LFC)</text>
<rect x="50" y="738.6" width="7" height="7" fill="#df0080"/>
<text x="59.9" y="745.7" font-size="10.2" text-anchor="start" fill="#333">NHT-CE</text>
<rect x="50" y="751.5" width="7" height="7" fill="#0a84ff"/>
<text x="59.9" y="758.6" font-size="10.2" text-anchor="start" fill="#333">NHT-TS</text>
<text x="50.4" y="772.3" font-size="11.9" text-anchor="start" fill="#1a1a1a" textLength="90.6" lengthAdjust="spacingAndGlyphs">Spearman r: 0.90</text>
<line x1="46" y1="827" x2="85.6" y2="827" stroke="#e0388e" stroke-width="1" stroke-dasharray="3.4,2.4"/>
<line x1="95" y1="842.8" x2="95" y2="911.3" stroke="#e0388e" stroke-width="1" stroke-dasharray="3.4,2.4"/>
<text x="51" y="823" font-size="10.2" text-anchor="start" fill="#e0388e" textLength="22.2" lengthAdjust="spacingAndGlyphs">-1.39</text>
<text x="100.7" y="880.8" font-size="10.2" text-anchor="start" fill="#e0388e" textLength="20.9" lengthAdjust="spacingAndGlyphs">-3.29</text>
<circle cx="75.6" cy="856.2" r="3.85" fill="#e0007f" stroke="#3a0a25" stroke-width="0.5"/>
<circle cx="85.6" cy="819.3" r="3.85" fill="#e0007f" stroke="#3a0a25" stroke-width="0.5"/>
<circle cx="80.6" cy="831" r="3.85" fill="#e0007f" stroke="#3a0a25" stroke-width="0.5"/>
<circle cx="89" cy="831" r="3.85" fill="#e0007f" stroke="#3a0a25" stroke-width="0.5"/>
<circle cx="91.3" cy="837.7" r="3.85" fill="#e0007f" stroke="#3a0a25" stroke-width="0.5"/>
<circle cx="89" cy="842.1" r="3.85" fill="#e0007f" stroke="#3a0a25" stroke-width="0.5"/>
<circle cx="99.1" cy="827" r="3.85" fill="#e0007f" stroke="#3a0a25" stroke-width="0.5"/>
<circle cx="102.4" cy="824.3" r="3.85" fill="#e0007f" stroke="#3a0a25" stroke-width="0.5"/>
<circle cx="105.8" cy="831" r="3.85" fill="#e0007f" stroke="#3a0a25" stroke-width="0.5"/>
<circle cx="111.8" cy="809.2" r="3.85" fill="#e0007f" stroke="#3a0a25" stroke-width="0.5"/>
<circle cx="124.2" cy="821" r="3.85" fill="#0aa5e8" stroke="#0a2a40" stroke-width="0.5"/>
<circle cx="145.1" cy="809.9" r="3.85" fill="#0aa5e8" stroke="#0a2a40" stroke-width="0.5"/>
<circle cx="148.4" cy="804.2" r="3.85" fill="#0aa5e8" stroke="#0a2a40" stroke-width="0.5"/>
<circle cx="151.1" cy="802.5" r="3.85" fill="#0aa5e8" stroke="#0a2a40" stroke-width="0.5"/>
<circle cx="149.4" cy="810.2" r="3.85" fill="#0aa5e8" stroke="#0a2a40" stroke-width="0.5"/>
<circle cx="154.5" cy="806.9" r="3.85" fill="#0aa5e8" stroke="#0a2a40" stroke-width="0.5"/>
<circle cx="161.9" cy="800.1" r="3.85" fill="#0aa5e8" stroke="#0a2a40" stroke-width="0.5"/>
<circle cx="192.1" cy="795.1" r="3.85" fill="#0aa5e8" stroke="#0a2a40" stroke-width="0.5"/>
<line x1="75.6" y1="837.7" x2="193.1" y2="789.7" stroke="#111" stroke-width="1.2" stroke-dasharray="6.5,4.2"/>
<text x="224" y="722.7" font-size="17" text-anchor="start" fill="#000" font-weight="bold">l</text>
<line x1="281.8" y1="737.5" x2="281.8" y2="916.7" stroke="#707070" stroke-width="1.35"/>
<line x1="276.5" y1="911.4" x2="456" y2="911.4" stroke="#1e1e1e" stroke-width="0.95"/>
<line x1="276.5" y1="737.5" x2="281.8" y2="737.5" stroke="#707070" stroke-width="1.35"/>
<text x="276.2" y="741.8" font-size="12.2" text-anchor="end" fill="#1a1a1a">1.00</text>
<line x1="276.5" y1="781.1" x2="281.8" y2="781.1" stroke="#707070" stroke-width="1.35"/>
<text x="276.2" y="785.4" font-size="12.2" text-anchor="end" fill="#1a1a1a">0.75</text>
<line x1="276.5" y1="824.5" x2="281.8" y2="824.5" stroke="#707070" stroke-width="1.35"/>
<text x="276.2" y="828.8" font-size="12.2" text-anchor="end" fill="#1a1a1a">0.50</text>
<line x1="276.5" y1="868.1" x2="281.8" y2="868.1" stroke="#707070" stroke-width="1.35"/>
<text x="276.2" y="872.4" font-size="12.2" text-anchor="end" fill="#1a1a1a">0.25</text>
<line x1="276.5" y1="911.4" x2="281.8" y2="911.4" stroke="#707070" stroke-width="1.35"/>
<text x="276.2" y="915.7" font-size="12.2" text-anchor="end" fill="#1a1a1a">0</text>
<line x1="325.5" y1="911.4" x2="325.5" y2="916.7" stroke="#1e1e1e" stroke-width="0.95"/>
<line x1="368.9" y1="911.4" x2="368.9" y2="916.7" stroke="#1e1e1e" stroke-width="0.95"/>
<line x1="412.3" y1="911.4" x2="412.3" y2="916.7" stroke="#1e1e1e" stroke-width="0.95"/>
<line x1="456" y1="911.4" x2="456" y2="916.7" stroke="#1e1e1e" stroke-width="0.95"/>
<text x="281.8" y="930.9" font-size="12.2" text-anchor="middle" fill="#1a1a1a">0</text>
<text x="325.5" y="930.9" font-size="12.2" text-anchor="middle" fill="#1a1a1a">0.25</text>
<text x="368.9" y="930.9" font-size="12.2" text-anchor="middle" fill="#1a1a1a">0.50</text>
<text x="412.3" y="930.9" font-size="12.2" text-anchor="middle" fill="#1a1a1a">0.75</text>
<text x="456" y="930.9" font-size="12.2" text-anchor="middle" fill="#1a1a1a">1.00</text>
<text x="369.3" y="942.6" font-size="12.6" text-anchor="middle" fill="#1a1a1a" textLength="104.7" lengthAdjust="spacingAndGlyphs">False positive rate</text>
<text transform="translate(248.5 824.3) rotate(-90)" x="0" y="0" font-size="12.6" text-anchor="middle" fill="#1a1a1a" textLength="218.5" lengthAdjust="spacingAndGlyphs">True positive rate of essential genes</text>
<line x1="281.8" y1="911.4" x2="456" y2="737.5" stroke="#111" stroke-width="1.1" stroke-dasharray="5,3"/>
<path d="M282.50,911.20 L283.10,894.10 L283.10,887.50 L285.10,887.50 L285.10,883.60 L287.10,883.60 L287.10,879.60 L288.40,879.60 L288.40,874.40 L289.70,874.40 L289.70,869.10 L291.00,869.10 L291.70,863.90 L291.70,858.60 L293.00,858.60 L293.00,852.00 L294.30,852.00 L294.30,845.50 L295.60,845.50 L295.60,841.50 L296.90,841.50 L297.60,831.00 L297.60,820.50 L297.60,813.90 L299.80,813.90 L299.80,809.60 L303.50,809.60 L303.50,805.90 L306.40,805.90 L306.40,802.30 L311.50,802.30 L312.20,795.70 L312.20,792.00 L317.30,792.00 L325.40,792.00 L325.80,781.10 L325.80,776.70 L329.00,776.70 L329.00,766.50 L331.90,766.50 L340.00,766.50 L340.70,762.80 L340.70,759.20 L345.80,759.20 L350.90,759.20 L351.60,755.50 L351.60,744.60 L354.60,744.60 L354.60,740.90 L356.80,740.90 L356.80,737.30 L361.10,737.30 L400.10,737.50" fill="none" stroke="#f03a8c" stroke-width="1.4"/>
<path d="M282.50,911.20 L282.50,902.00 L284.50,902.00 L284.50,892.80 L285.80,892.80 L285.80,882.30 L287.70,882.30 L293.00,882.30 L293.00,875.70 L295.00,875.70 L297.60,875.70 L298.20,865.20 L298.20,860.60 L299.60,860.60 L299.60,857.30 L302.80,857.30 L302.80,853.40 L305.50,853.40 L310.10,853.40 L310.70,835.00 L318.00,835.00 L318.80,824.90 L318.80,817.60 L321.70,817.60 L321.70,810.30 L325.40,810.30 L325.40,805.90 L329.70,805.90 L329.70,799.30 L332.70,799.30 L332.70,795.70 L336.30,795.70 L336.30,791.30 L340.00,791.30 L340.00,781.10 L342.20,781.10 L342.20,773.80 L344.30,773.80 L344.30,766.50 L348.00,766.50 L348.00,759.20 L349.50,759.20 L349.50,755.50 L350.90,755.50 L358.20,755.50 L358.90,751.90 L367.20,752.00 L367.20,749.00 L370.40,749.00 L370.40,745.00 L372.00,745.00 L382.50,745.00 L383.30,742.00 L400.10,742.00 L401.00,737.50 L404.00,737.50" fill="none" stroke="#2a40f0" stroke-width="1.4"/>
<path d="M282.50,911.20 L283.10,890.10 L283.10,882.30 L285.80,882.30 L285.80,870.40 L287.10,870.40 L287.10,861.20 L289.10,861.20 L289.70,848.10 L289.70,842.80 L291.70,842.80 L291.70,838.90 L293.70,838.90 L293.70,832.30 L295.60,832.30 L301.30,832.30 L301.30,824.20 L301.30,820.50 L303.50,820.50 L305.70,820.50 L305.70,813.90 L307.10,813.90 L307.10,809.60 L309.30,809.60 L309.30,805.90 L311.50,805.90 L311.50,803.00 L313.00,803.00 L320.30,803.00 L321.00,792.00 L330.50,792.00 L330.50,781.10 L331.90,781.10 L342.20,781.10 L342.20,777.40 L343.60,777.40 L352.40,777.40 L352.40,773.10 L354.60,773.10 L354.60,766.50 L358.20,766.50 L358.90,762.80 L362.60,762.80 L363.30,759.20 L367.20,758.70 L368.00,752.30 L375.30,752.30 L376.10,748.30 L380.10,748.30 L380.90,741.10 L403.40,741.10 L404.20,737.50 L456.00,737.50" fill="none" stroke="#6f8c50" stroke-width="1.4"/>
<text x="451.3" y="871.8" font-size="10.4" text-anchor="end" fill="#333" textLength="61.8" lengthAdjust="spacingAndGlyphs">SpCas9 (0.84)</text>
<line x1="453.7" y1="869" x2="464.2" y2="869" stroke="#f03a8c" stroke-width="1.2"/>
<text x="451.3" y="883.5" font-size="10.4" text-anchor="end" fill="#333" textLength="136.2" lengthAdjust="spacingAndGlyphs">enAsCas12a(dual-gRNA) (0.77)</text>
<line x1="453.7" y1="880.7" x2="464.2" y2="880.7" stroke="#2a40f0" stroke-width="1.2"/>
<text x="451.3" y="895.2" font-size="10.4" text-anchor="end" fill="#333" textLength="82.5" lengthAdjust="spacingAndGlyphs">CHyMErA.v2 (0.81)</text>
<line x1="453.7" y1="892.4" x2="464.2" y2="892.4" stroke="#6f8c50" stroke-width="1.2"/>
<text x="451.3" y="907.6" font-size="10.4" text-anchor="end" fill="#333" textLength="43.9" lengthAdjust="spacingAndGlyphs">Null (0.50)</text>
<line x1="453.7" y1="904.8" x2="464.2" y2="904.8" stroke="#111" stroke-width="1.2" stroke-dasharray="3,2.5"/>
</svg></body></html>
